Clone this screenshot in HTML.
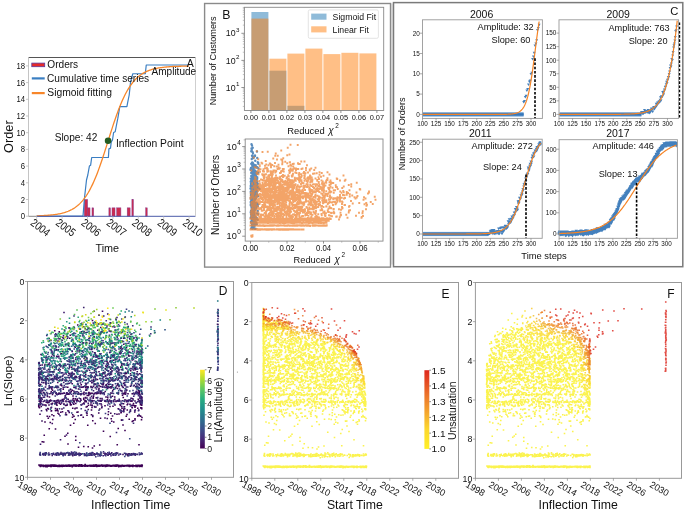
<!DOCTYPE html>
<html><head><meta charset="utf-8"><style>
html,body{margin:0;padding:0;background:#fff;}
svg{display:block;will-change:transform;}
text{font-family:"Liberation Sans", sans-serif;}
</style></head><body>
<svg width="685" height="512" viewBox="0 0 685 512">
<rect width="685" height="512" fill="#fff"/>
<rect x="84.3" y="199.5" width="3.3" height="16.7" fill="#cc2b4e" stroke="#8a3a8a" stroke-width="0.5" />
<rect x="87.3" y="207.85" width="2.7" height="8.35" fill="#cc2b4e" stroke="#8a3a8a" stroke-width="0.5" />
<rect x="92" y="207.85" width="1.7" height="8.35" fill="#cc2b4e" stroke="#8a3a8a" stroke-width="0.5" />
<rect x="108.9" y="207.85" width="1.5" height="8.35" fill="#cc2b4e" stroke="#8a3a8a" stroke-width="0.5" />
<rect x="112" y="207.85" width="3" height="8.35" fill="#cc2b4e" stroke="#8a3a8a" stroke-width="0.5" />
<rect x="116.7" y="207.85" width="4.2" height="8.35" fill="#cc2b4e" stroke="#8a3a8a" stroke-width="0.5" />
<rect x="127.2" y="207.85" width="2.9" height="8.35" fill="#cc2b4e" stroke="#8a3a8a" stroke-width="0.5" />
<rect x="131.9" y="199.5" width="1.5" height="16.7" fill="#cc2b4e" stroke="#8a3a8a" stroke-width="0.5" />
<rect x="145.7" y="207.85" width="1.5" height="8.35" fill="#cc2b4e" stroke="#8a3a8a" stroke-width="0.5" />
<path d="M36.7 216.2 L83 216.2 L84.4 198.75 L86.5 180 L87.8 175 L89.4 166.1 L90.6 165.3 L91.7 157.5 L108.4 157.5 L108.9 148.9 L110.5 148.1 L111.25 141.9 L112.5 140 L113.6 132.5 L115.2 131.7 L116.25 126.25 L117.8 118.4 L119.8 106.7 L126.9 106.7 L127.6 102.8 L129.2 95 L130.6 81.5 L132.8 73.75 L145.3 73.75 L146.25 65 L188 65" fill="none" stroke="#3a7ec2" stroke-width="1.2" stroke-linejoin="round" />
<path d="M36.7 215.84 L37.65 215.81 L38.61 215.78 L39.56 215.75 L40.51 215.71 L41.46 215.67 L42.41 215.62 L43.37 215.57 L44.32 215.52 L45.27 215.47 L46.23 215.4 L47.18 215.34 L48.13 215.27 L49.08 215.19 L50.04 215.1 L50.99 215.01 L51.94 214.91 L52.89 214.81 L53.84 214.69 L54.8 214.56 L55.75 214.43 L56.7 214.28 L57.66 214.12 L58.61 213.95 L59.56 213.77 L60.51 213.56 L61.46 213.35 L62.42 213.11 L63.37 212.86 L64.32 212.59 L65.28 212.29 L66.23 211.97 L67.18 211.63 L68.13 211.26 L69.09 210.85 L70.04 210.42 L70.99 209.96 L71.94 209.46 L72.89 208.92 L73.85 208.34 L74.8 207.72 L75.75 207.05 L76.71 206.33 L77.66 205.56 L78.61 204.74 L79.56 203.85 L80.51 202.91 L81.47 201.9 L82.42 200.82 L83.37 199.67 L84.33 198.44 L85.28 197.14 L86.23 195.76 L87.18 194.29 L88.14 192.74 L89.09 191.1 L90.04 189.37 L90.99 187.55 L91.94 185.63 L92.9 183.62 L93.85 181.52 L94.8 179.32 L95.76 177.03 L96.71 174.65 L97.66 172.18 L98.61 169.63 L99.56 167 L100.52 164.3 L101.47 161.52 L102.42 158.69 L103.38 155.8 L104.33 152.87 L105.28 149.9 L106.23 146.9 L107.19 143.88 L108.14 140.85 L109.09 137.82 L110.04 134.8 L110.99 131.81 L111.95 128.84 L112.9 125.91 L113.85 123.03 L114.81 120.2 L115.76 117.44 L116.71 114.74 L117.66 112.12 L118.61 109.58 L119.57 107.13 L120.52 104.76 L121.47 102.48 L122.42 100.3 L123.38 98.21 L124.33 96.21 L125.28 94.3 L126.24 92.49 L127.19 90.77 L128.14 89.15 L129.09 87.61 L130.04 86.15 L131 84.78 L131.95 83.49 L132.9 82.27 L133.86 81.13 L134.81 80.06 L135.76 79.06 L136.71 78.13 L137.66 77.25 L138.62 76.43 L139.57 75.67 L140.52 74.96 L141.47 74.3 L142.43 73.68 L143.38 73.11 L144.33 72.57 L145.29 72.08 L146.24 71.62 L147.19 71.19 L148.14 70.79 L149.09 70.43 L150.05 70.09 L151 69.77 L151.95 69.48 L152.91 69.21 L153.86 68.95 L154.81 68.72 L155.76 68.51 L156.71 68.31 L157.67 68.13 L158.62 67.96 L159.57 67.8 L160.52 67.65 L161.48 67.52 L162.43 67.39 L163.38 67.28 L164.34 67.17 L165.29 67.08 L166.24 66.99 L167.19 66.9 L168.14 66.82 L169.1 66.75 L170.05 66.69 L171 66.63 L171.96 66.57 L172.91 66.52 L173.86 66.47 L174.81 66.43 L175.76 66.39 L176.72 66.35 L177.67 66.31 L178.62 66.28 L179.57 66.25 L180.53 66.23 L181.48 66.2 L182.43 66.18 L183.39 66.16 L184.34 66.14 L185.29 66.12 L186.24 66.1 L187.19 66.09 L188.15 66.07 L189.1 66.06" fill="none" stroke="#f7862a" stroke-width="1.3" stroke-linejoin="round" />
<line x1="36.7" y1="216.3" x2="195.5" y2="216.3" stroke="#4a5aa8" stroke-width="1" />
<line x1="28.5" y1="57.5" x2="195.5" y2="57.5" stroke="#555" stroke-width="1" />
<line x1="28.5" y1="57.5" x2="28.5" y2="216.3" stroke="#c4c4c4" stroke-width="1" />
<line x1="195.5" y1="57.5" x2="195.5" y2="216.3" stroke="#cfcfcf" stroke-width="1" />
<line x1="28.5" y1="216.3" x2="36.7" y2="216.3" stroke="#888" stroke-width="1" />
<circle cx="108.1" cy="140.8" r="3.3" fill="#245c22"/>
<line x1="26" y1="216.2" x2="28.5" y2="216.2" stroke="#bbb" stroke-width="0.8" />
<text transform="translate(25,219.2) scale(0.78,1.0)" font-size="9.9" text-anchor="end" fill="#111">0</text>
<line x1="26" y1="199.5" x2="28.5" y2="199.5" stroke="#bbb" stroke-width="0.8" />
<text transform="translate(25,202.5) scale(0.78,1.0)" font-size="9.9" text-anchor="end" fill="#111">2</text>
<line x1="26" y1="182.8" x2="28.5" y2="182.8" stroke="#bbb" stroke-width="0.8" />
<text transform="translate(25,185.8) scale(0.78,1.0)" font-size="9.9" text-anchor="end" fill="#111">4</text>
<line x1="26" y1="166.1" x2="28.5" y2="166.1" stroke="#bbb" stroke-width="0.8" />
<text transform="translate(25,169.1) scale(0.78,1.0)" font-size="9.9" text-anchor="end" fill="#111">6</text>
<line x1="26" y1="149.4" x2="28.5" y2="149.4" stroke="#bbb" stroke-width="0.8" />
<text transform="translate(25,152.4) scale(0.78,1.0)" font-size="9.9" text-anchor="end" fill="#111">8</text>
<line x1="26" y1="132.7" x2="28.5" y2="132.7" stroke="#bbb" stroke-width="0.8" />
<text transform="translate(25,135.7) scale(0.78,1.0)" font-size="9.9" text-anchor="end" fill="#111">10</text>
<line x1="26" y1="116" x2="28.5" y2="116" stroke="#bbb" stroke-width="0.8" />
<text transform="translate(25,119) scale(0.78,1.0)" font-size="9.9" text-anchor="end" fill="#111">12</text>
<line x1="26" y1="99.3" x2="28.5" y2="99.3" stroke="#bbb" stroke-width="0.8" />
<text transform="translate(25,102.3) scale(0.78,1.0)" font-size="9.9" text-anchor="end" fill="#111">14</text>
<line x1="26" y1="82.6" x2="28.5" y2="82.6" stroke="#bbb" stroke-width="0.8" />
<text transform="translate(25,85.6) scale(0.78,1.0)" font-size="9.9" text-anchor="end" fill="#111">16</text>
<line x1="26" y1="65.9" x2="28.5" y2="65.9" stroke="#bbb" stroke-width="0.8" />
<text transform="translate(25,68.9) scale(0.78,1.0)" font-size="9.9" text-anchor="end" fill="#111">18</text>
<line x1="36.7" y1="216.3" x2="36.7" y2="218.8" stroke="#bbb" stroke-width="0.8" />
<text transform="translate(40.5,227.4) rotate(37) scale(0.84,1.0)" y="4" font-size="11.3" text-anchor="middle" fill="#111">2004</text>
<line x1="62.1" y1="216.3" x2="62.1" y2="218.8" stroke="#bbb" stroke-width="0.8" />
<text transform="translate(65.9,227.4) rotate(37) scale(0.84,1.0)" y="4" font-size="11.3" text-anchor="middle" fill="#111">2005</text>
<line x1="87.5" y1="216.3" x2="87.5" y2="218.8" stroke="#bbb" stroke-width="0.8" />
<text transform="translate(91.3,227.4) rotate(37) scale(0.84,1.0)" y="4" font-size="11.3" text-anchor="middle" fill="#111">2006</text>
<line x1="112.9" y1="216.3" x2="112.9" y2="218.8" stroke="#bbb" stroke-width="0.8" />
<text transform="translate(116.7,227.4) rotate(37) scale(0.84,1.0)" y="4" font-size="11.3" text-anchor="middle" fill="#111">2007</text>
<line x1="138.3" y1="216.3" x2="138.3" y2="218.8" stroke="#bbb" stroke-width="0.8" />
<text transform="translate(142.1,227.4) rotate(37) scale(0.84,1.0)" y="4" font-size="11.3" text-anchor="middle" fill="#111">2008</text>
<line x1="163.7" y1="216.3" x2="163.7" y2="218.8" stroke="#bbb" stroke-width="0.8" />
<text transform="translate(167.5,227.4) rotate(37) scale(0.84,1.0)" y="4" font-size="11.3" text-anchor="middle" fill="#111">2009</text>
<line x1="189.1" y1="216.3" x2="189.1" y2="218.8" stroke="#bbb" stroke-width="0.8" />
<text transform="translate(192.9,227.4) rotate(37) scale(0.84,1.0)" y="4" font-size="11.3" text-anchor="middle" fill="#111">2010</text>
<text transform="translate(13.3,136.7) rotate(-90)" font-size="12.8" text-anchor="middle" fill="#111">Order</text>
<text transform="translate(107.3,251.9)" font-size="10.8" text-anchor="middle" fill="#111">Time</text>
<rect x="31.8" y="63.1" width="12.9" height="3.6" fill="#e62a2a" stroke="#5a3aa0" stroke-width="0.8" />
<line x1="31.8" y1="78.4" x2="44.7" y2="78.4" stroke="#3a7ec2" stroke-width="2.2" />
<line x1="31.8" y1="93.1" x2="44.7" y2="93.1" stroke="#f7862a" stroke-width="2.2" />
<text transform="translate(47.3,68)" font-size="10.1" text-anchor="start" fill="#111">Orders</text>
<text transform="translate(47,81.8)" font-size="10.1" text-anchor="start" fill="#111">Cumulative time series</text>
<text transform="translate(47.3,95.6)" font-size="10.3" text-anchor="start" fill="#111">Sigmoid fitting</text>
<text transform="translate(97.3,141.1)" font-size="10.1" text-anchor="end" fill="#111">Slope: 42</text>
<text transform="translate(116,147.3)" font-size="10.3" text-anchor="start" fill="#111">Inflection Point</text>
<text transform="translate(151.6,75.2)" font-size="10.0" text-anchor="start" fill="#111">Amplitude</text>
<text transform="translate(186.8,66.7)" font-size="10.5" text-anchor="start" fill="#111">A</text>
<rect x="391" y="3.5" width="2" height="261" fill="#e4e4e4" stroke="none" stroke-width="1" />
<rect x="204.6" y="3.5" width="185.9" height="263.6" fill="none" stroke="#8a8a8a" stroke-width="1.4" />
<rect x="251.4" y="12" width="17" height="98.5" fill="rgba(31,119,180,0.5)" stroke="none" stroke-width="1" />
<rect x="269.4" y="70.7" width="17" height="39.8" fill="rgba(31,119,180,0.5)" stroke="none" stroke-width="1" />
<rect x="287.4" y="105.8" width="17" height="4.7" fill="rgba(31,119,180,0.5)" stroke="none" stroke-width="1" />
<rect x="251.4" y="18.6" width="17" height="91.9" fill="rgba(255,127,14,0.5)" stroke="none" stroke-width="1" />
<rect x="269.4" y="58.7" width="17" height="51.8" fill="rgba(255,127,14,0.5)" stroke="none" stroke-width="1" />
<rect x="287.4" y="53.6" width="17" height="56.9" fill="rgba(255,127,14,0.5)" stroke="none" stroke-width="1" />
<rect x="305.4" y="48.6" width="17" height="61.9" fill="rgba(255,127,14,0.5)" stroke="none" stroke-width="1" />
<rect x="323.4" y="54.1" width="17" height="56.4" fill="rgba(255,127,14,0.5)" stroke="none" stroke-width="1" />
<rect x="341.4" y="52.8" width="17" height="57.7" fill="rgba(255,127,14,0.5)" stroke="none" stroke-width="1" />
<rect x="359.4" y="53.4" width="17" height="57.1" fill="rgba(255,127,14,0.5)" stroke="none" stroke-width="1" />
<rect x="244.4" y="7.3" width="139.3" height="103.2" fill="none" stroke="#888" stroke-width="0.9" />
<line x1="241.4" y1="87.5" x2="244.4" y2="87.5" stroke="#777" stroke-width="0.8" />
<text transform="translate(235.6,90.6)" font-size="8.8" text-anchor="end" fill="#111">10</text>
<text transform="translate(236,85.9)" font-size="6.2" text-anchor="start" fill="#111">1</text>
<line x1="241.4" y1="60.4" x2="244.4" y2="60.4" stroke="#777" stroke-width="0.8" />
<text transform="translate(235.6,63.5)" font-size="8.8" text-anchor="end" fill="#111">10</text>
<text transform="translate(236,58.8)" font-size="6.2" text-anchor="start" fill="#111">2</text>
<line x1="241.4" y1="33.3" x2="244.4" y2="33.3" stroke="#777" stroke-width="0.8" />
<text transform="translate(235.6,36.4)" font-size="8.8" text-anchor="end" fill="#111">10</text>
<text transform="translate(236,31.7)" font-size="6.2" text-anchor="start" fill="#111">3</text>
<line x1="242.8" y1="106.44" x2="244.4" y2="106.44" stroke="#999" stroke-width="0.6" />
<line x1="242.8" y1="101.67" x2="244.4" y2="101.67" stroke="#999" stroke-width="0.6" />
<line x1="242.8" y1="98.28" x2="244.4" y2="98.28" stroke="#999" stroke-width="0.6" />
<line x1="242.8" y1="95.66" x2="244.4" y2="95.66" stroke="#999" stroke-width="0.6" />
<line x1="242.8" y1="93.51" x2="244.4" y2="93.51" stroke="#999" stroke-width="0.6" />
<line x1="242.8" y1="91.7" x2="244.4" y2="91.7" stroke="#999" stroke-width="0.6" />
<line x1="242.8" y1="90.13" x2="244.4" y2="90.13" stroke="#999" stroke-width="0.6" />
<line x1="242.8" y1="88.74" x2="244.4" y2="88.74" stroke="#999" stroke-width="0.6" />
<line x1="242.8" y1="79.34" x2="244.4" y2="79.34" stroke="#999" stroke-width="0.6" />
<line x1="242.8" y1="74.57" x2="244.4" y2="74.57" stroke="#999" stroke-width="0.6" />
<line x1="242.8" y1="71.18" x2="244.4" y2="71.18" stroke="#999" stroke-width="0.6" />
<line x1="242.8" y1="68.56" x2="244.4" y2="68.56" stroke="#999" stroke-width="0.6" />
<line x1="242.8" y1="66.41" x2="244.4" y2="66.41" stroke="#999" stroke-width="0.6" />
<line x1="242.8" y1="64.6" x2="244.4" y2="64.6" stroke="#999" stroke-width="0.6" />
<line x1="242.8" y1="63.03" x2="244.4" y2="63.03" stroke="#999" stroke-width="0.6" />
<line x1="242.8" y1="61.64" x2="244.4" y2="61.64" stroke="#999" stroke-width="0.6" />
<line x1="242.8" y1="52.24" x2="244.4" y2="52.24" stroke="#999" stroke-width="0.6" />
<line x1="242.8" y1="47.47" x2="244.4" y2="47.47" stroke="#999" stroke-width="0.6" />
<line x1="242.8" y1="44.08" x2="244.4" y2="44.08" stroke="#999" stroke-width="0.6" />
<line x1="242.8" y1="41.46" x2="244.4" y2="41.46" stroke="#999" stroke-width="0.6" />
<line x1="242.8" y1="39.31" x2="244.4" y2="39.31" stroke="#999" stroke-width="0.6" />
<line x1="242.8" y1="37.5" x2="244.4" y2="37.5" stroke="#999" stroke-width="0.6" />
<line x1="242.8" y1="35.93" x2="244.4" y2="35.93" stroke="#999" stroke-width="0.6" />
<line x1="242.8" y1="34.54" x2="244.4" y2="34.54" stroke="#999" stroke-width="0.6" />
<line x1="242.8" y1="25.14" x2="244.4" y2="25.14" stroke="#999" stroke-width="0.6" />
<line x1="242.8" y1="20.37" x2="244.4" y2="20.37" stroke="#999" stroke-width="0.6" />
<line x1="242.8" y1="16.98" x2="244.4" y2="16.98" stroke="#999" stroke-width="0.6" />
<line x1="242.8" y1="14.36" x2="244.4" y2="14.36" stroke="#999" stroke-width="0.6" />
<line x1="242.8" y1="12.21" x2="244.4" y2="12.21" stroke="#999" stroke-width="0.6" />
<line x1="242.8" y1="10.4" x2="244.4" y2="10.4" stroke="#999" stroke-width="0.6" />
<line x1="242.8" y1="8.83" x2="244.4" y2="8.83" stroke="#999" stroke-width="0.6" />
<line x1="242.8" y1="7.44" x2="244.4" y2="7.44" stroke="#999" stroke-width="0.6" />
<line x1="250.9" y1="110.5" x2="250.9" y2="113" stroke="#777" stroke-width="0.8" />
<text transform="translate(250.9,119.7) scale(0.95,1.0)" font-size="7.8" text-anchor="middle" fill="#111">0.00</text>
<line x1="268.9" y1="110.5" x2="268.9" y2="113" stroke="#777" stroke-width="0.8" />
<text transform="translate(268.9,119.7) scale(0.95,1.0)" font-size="7.8" text-anchor="middle" fill="#111">0.01</text>
<line x1="286.9" y1="110.5" x2="286.9" y2="113" stroke="#777" stroke-width="0.8" />
<text transform="translate(286.9,119.7) scale(0.95,1.0)" font-size="7.8" text-anchor="middle" fill="#111">0.02</text>
<line x1="304.9" y1="110.5" x2="304.9" y2="113" stroke="#777" stroke-width="0.8" />
<text transform="translate(304.9,119.7) scale(0.95,1.0)" font-size="7.8" text-anchor="middle" fill="#111">0.03</text>
<line x1="322.9" y1="110.5" x2="322.9" y2="113" stroke="#777" stroke-width="0.8" />
<text transform="translate(322.9,119.7) scale(0.95,1.0)" font-size="7.8" text-anchor="middle" fill="#111">0.04</text>
<line x1="340.9" y1="110.5" x2="340.9" y2="113" stroke="#777" stroke-width="0.8" />
<text transform="translate(340.9,119.7) scale(0.95,1.0)" font-size="7.8" text-anchor="middle" fill="#111">0.05</text>
<line x1="358.9" y1="110.5" x2="358.9" y2="113" stroke="#777" stroke-width="0.8" />
<text transform="translate(358.9,119.7) scale(0.95,1.0)" font-size="7.8" text-anchor="middle" fill="#111">0.06</text>
<line x1="376.9" y1="110.5" x2="376.9" y2="113" stroke="#777" stroke-width="0.8" />
<text transform="translate(376.9,119.7) scale(0.95,1.0)" font-size="7.8" text-anchor="middle" fill="#111">0.07</text>
<text transform="translate(287.2,134.1)" font-size="9.4" text-anchor="start" fill="#111">Reduced</text>
<text transform="translate(328.3,134.1)" font-size="10" text-anchor="start" fill="#111" style="font-style:italic">χ</text>
<text transform="translate(335.2,128.3)" font-size="6.4" text-anchor="start" fill="#111">2</text>
<text transform="translate(215.7,60.9) rotate(-90)" font-size="9.1" text-anchor="middle" fill="#111">Number of Customers</text>
<text transform="translate(222.3,19)" font-size="12.3" text-anchor="start" fill="#111">B</text>
<rect x="308.3" y="9.9" width="70.1" height="28.4" fill="#fff" stroke="#ddd" stroke-width="0.8" rx="1.5"/>
<rect x="311.2" y="13.6" width="15.3" height="6.1" fill="rgba(31,119,180,0.5)" stroke="none" stroke-width="1" />
<rect x="311.2" y="26.3" width="15.3" height="6.1" fill="rgba(255,127,14,0.5)" stroke="none" stroke-width="1" />
<text transform="translate(332.6,20.1)" font-size="8.7" text-anchor="start" fill="#111">Sigmoid Fit</text>
<text transform="translate(332.6,32.8)" font-size="8.7" text-anchor="start" fill="#111">Linear Fit</text>
<path transform="scale(0.25)" d="M1006 577h0m0 17h0m1 6h0m0-2h0m1-16h0m3 9h0m17 15h0m-8 16h0m0 1h0m-8-10h0m-2-5h0m0 14h0m-2 1h0m-1-19h0m-2 1h0m2 31h0m4-5h0m3 1h0m1-3h0m5-5h0m1 19h0m8-11h0m4 20h0m0 3h0m-2-6h0m-2 20h0m-3 1h0m-3-9h0m0 8h0m-2-2h0m-1-1h0m-1 3h0m0-7h0m-2 4h0m0-1h0m-1 4h0m0-10h0m-2 11h0m0-1h0m0 3h0m-1-6h0m0-2h0m-1-7h0m-1-6h0m0 1h0m-1 14h0m0-15h0m0 0h0m-1-1h0m0 12h0m-1-10h0m0 1h0m-3 2h0m-3 24h0m1-4h0m1-3h0m1 20h0m0-1h0m3-14h0m0 10h0m0 5h0m1 1h0m0-3h0m1 2h0m1 3h0m1-15h0m0 5h0m2-10h0m4 21h0m0-15h0m1 9h0m0-2h0m1-5h0m2 10h0m0-8h0m3 2h0m4 7h0m0-4h0m4 1h0m1-17h0m-5 41h0m0-6h0m-1 9h0m-3-12h0m-1 6h0m-1-11h0m-2 1h0m-1 9h0m-1 1h0m0 8h0m0-11h0m0 8h0m0-2h0m-1-4h0m-1 2h0m0 2h0m-1-3h0m0-2h0m0 2h0m0 2h0m-1-13h0m-1 1h0m0 10h0m0-16h0m-1 22h0m0-18h0m-1 10h0m0-10h0m0 20h0m-1-23h0m0 1h0m-1 19h0m0 2h0m0-11h0m0 2h0m0 10h0m0-9h0m0-3h0m-1 6h0m-1-10h0m0 6h0m0 6h0m0 4h0m0-16h0m0 11h0m-1 1h0m0-9h0m0 0h0m-2-3h0m-2 10h0m0 13h0m0 16h0m1-16h0m0 8h0m1-7h0m0 5h0m0-12h0m1 18h0m0-7h0m0 12h0m1-15h0m1 15h0m0 0h0m0-18h0m0 17h0m0-9h0m0 2h0m0 2h0m0 1h0m0-18h0m1 5h0m0 1h0m0-6h0m0 8h0m0 7h0m1-4h0m0 1h0m0 3h0m0-4h0m0 5h0m0-10h0m1 12h0m1-15h0m0 2h0m0 9h0m1-4h0m0-4h0m0-5h0m0 17h0m1-9h0m0 12h0m1-1h0m0-2h0m1-18h0m0 0h0m0 1h0m1 6h0m0 10h0m1-14h0m0 16h0m0-11h0m0 6h0m1-9h0m0 8h0m0 8h0m1 2h0m1-23h0m0 22h0m1-13h0m1 13h0m0 0h0m0-7h0m1 2h0m1-2h0m1 3h0m1-1h0m0 3h0m2-14h0m2 8h0m7 21h0m-5-5h0m0 0h0m-1-4h0m-3 4h0m0 11h0m-2 5h0m-2-13h0m0-3h0m-1-5h0m-1 1h0m0 15h0m0-13h0m0 14h0m-1-9h0m0 13h0m0-18h0m-1 18h0m-1-18h0m0 12h0m0-6h0m-1 8h0m0-11h0m0 15h0m0-22h0m0 19h0m-1-11h0m0 7h0m0-5h0m-1 9h0m0-3h0m0 0h0m-1 3h0m0-8h0m0-9h0m0 13h0m-1-9h0m0 16h0m0-13h0m0 10h0m0 1h0m-1-13h0m0-5h0m0 6h0m0 11h0m0-7h0m-1 7h0m0-9h0m-1 3h0m0-5h0m0-2h0m0 4h0m0-2h0m0 13h0m0-13h0m0 1h0m-1-2h0m0 11h0m0-9h0m0 11h0m0-2h0m0-14h0m0-1h0m0 6h0m-1-1h0m0 7h0m0-3h0m0-2h0m0 3h0m0 2h0m-1-11h0m0 4h0m0-3h0m0 0h0m0 7h0m0-5h0m0 1h0m0 14h0m0-15h0m-1 13h0m0-3h0m0-3h0m0-4h0m-1-4h0m0 1h0m0 11h0m0-1h0m0-8h0m0 1h0m0-5h0m-1 11h0m0-11h0m0 14h0m0-4h0m-1 5h0m-1-17h0m-1 19h0m0-14h0m0-8h0m-1 9h0m2 17h0m0 4h0m0 4h0m0 1h0m0 2h0m0-9h0m1 17h0m0-1h0m0-7h0m0 8h0m1-2h0m0-8h0m0-10h0m0 0h0m0 8h0m0 0h0m1-1h0m0 6h0m0-4h0m0-9h0m0 18h0m0 2h0m1-2h0m0-2h0m0-1h0m0-6h0m1 0h0m0 5h0m0 6h0m0-5h0m1-3h0m0-10h0m0 9h0m0 5h0m1-11h0m0-4h0m0 8h0m0 3h0m1-9h0m0 11h0m0-1h0m0 0h0m0-2h0m0 3h0m0-4h0m1 8h0m0-1h0m0-15h0m0 16h0m0-2h0m1 0h0m0-18h0m0 7h0m0 3h0m0 13h0m1-15h0m0-6h0m0 18h0m0-9h0m1-7h0m0 16h0m0-20h0m0 7h0m0 5h0m1-8h0m0 13h0m0-8h0m0 10h0m0-8h0m0-5h0m0 4h0m2 13h0m0-15h0m0 12h0m0-11h0m0-6h0m1-2h0m1 12h0m0 8h0m0-20h0m1 16h0m0 3h0m2-10h0m1 11h0m0-15h0m0 13h0m1-14h0m0 10h0m1-11h0m0-3h0m2 10h0m3 6h0m-3 29h0m-3-3h0m-2-18h0m-1-1h0m-1 19h0m-2-12h0m0 14h0m-1-13h0m-1-2h0m0 4h0m0-1h0m0 7h0m-1 2h0m0-18h0m0 23h0m0-10h0m-1-7h0m0-3h0m0 14h0m0 2h0m-1-11h0m0-2h0m0-3h0m-1 12h0m0 1h0m-1 5h0m0-10h0m0 11h0m0-5h0m-1-3h0m0 9h0m0-4h0m0-17h0m-1 3h0m0 5h0m0-4h0m0 14h0m0-1h0m-1 3h0m0-15h0m0 6h0m0 5h0m0 3h0m0-2h0m-1 1h0m0 1h0m-1-8h0m0-12h0m0 0h0m0 9h0m0-3h0m0 13h0m0 3h0m0-22h0m0 8h0m-1 4h0m0 7h0m-1-14h0m0 17h0m0-19h0m0 5h0m0 1h0m0 4h0m0-8h0m-1 1h0m0-5h0m0 21h0m-1-16h0m-1-7h0m0 17h0m0-1h0m0 10h0m0 3h0m1 2h0m1 0h0m1-4h0m0 10h0m0-4h0m0-8h0m0 9h0m1 9h0m0-14h0m0 18h0m0-2h0m0-11h0m0 10h0m1 2h0m0-18h0m0 6h0m1 9h0m0-11h0m0 9h0m0 3h0m0-18h0m1 4h0m1 15h0m0-14h0m0-6h0m0 20h0m1-2h0m0 2h0m0-6h0m0 3h0m0-17h0m1 2h0m0 0h0m0 20h0m1-2h0m0-17h0m1 9h0m1-10h0m1 9h0m1-3h0m0-4h0m0 10h0m0 9h0m1-9h0m0-9h0m1-1h0m0 1h0m1 17h0m0-17h0m2 9h0m1-2h0m0 5h0m4-12h0m1-6h0m0 6h0m2 3h0m1-6h0m1 38h0m-2-13h0m-3 10h0m-10-3h0m0 7h0m0 1h0m0 1h0m0 1h0m0-8h0m-1 3h0m0-1h0m0 2h0m0-11h0m0 8h0m-1-10h0m-1 14h0m0-12h0m0-1h0m-1-4h0m0 15h0m0-2h0m-1 8h0m-1-19h0m-1 0h0m0 12h0m0-7h0m0 2h0m0-2h0m0 7h0m0 1h0m0-11h0m-1 8h0m0-7h0m0 11h0m-1-3h0m0-1h0m-1 2h0m0-5h0m0-2h0m0 8h0m0-15h0m-1 5h0m0 7h0m-2-9h0m0 19h0m-1-19h0m0 12h0m-1-7h0m0 22h0m1 16h0m3-23h0m0 10h0m0 7h0m0-15h0m0 3h0m0 8h0m1 10h0m0-7h0m0-13h0m0 6h0m1 9h0m2 2h0m0-10h0m0 9h0m1-1h0m1 3h0m0-12h0m0 3h0m1-10h0m0-1h0m1 18h0m1-12h0m1 5h0m0 4h0m1-16h0m0 5h0m1 3h0m0-7h0m1 8h0m1 5h0m1-11h0m0 17h0m0 0h0m0-2h0m1-5h0m4-5h0m4 7h0m-4 18h0m-1-5h0m-6 1h0m0 6h0m-1-5h0m0 8h0m-1-9h0m0 1h0m-1 11h0m-1-2h0m-1 6h0m0-10h0m0-9h0m-2-2h0m0 22h0m-1-12h0m0 14h0m0-9h0m-2-13h0m-2 15h0m0-8h0m-1-5h0m0 11h0m0-13h0m0 13h0m-1-11h0m-2-4h0m1 25h0m5 2h0m9 0h0m3 0h0" stroke="#2f6fae" stroke-width="9.6" stroke-linecap="round" stroke-opacity="0.8"/>
<path transform="scale(0.25)" d="M1151 591h0m11-12h0m29 1h0m-33 38h0m-9 3h0m-24-19h0m-14 21h0m-8-9h0m-2 9h0m-30-16h0m-21 1h0m-23-3h0m-12 25h0m18 7h0m30 7h0m30-10h0m15 4h0m17 0h0m4 3h0m4-8h0m8 14h0m64-1h0m13 0h0m44 25h0m-34-10h0m-4 11h0m-25-16h0m-5 0h0m-2-3h0m-17 2h0m-2 11h0m-2-10h0m-6 7h0m-3-4h0m0 2h0m-2-12h0m-1 0h0m-5 16h0m-5-12h0m-19-4h0m-1 8h0m-15 2h0m0 10h0m-7-3h0m-7-14h0m-3 13h0m-8-5h0m-5 5h0m0 4h0m-1-12h0m-3-3h0m-1 0h0m-5 7h0m-7 10h0m-2-13h0m-5 5h0m-11-9h0m-3-3h0m-7 10h0m0 4h0m-13 6h0m-7-2h0m-14 13h0m21 9h0m2 3h0m2-7h0m2-3h0m2-3h0m2-3h0m4 9h0m2-10h0m10 7h0m1 2h0m1-9h0m2 9h0m4-13h0m8 0h0m1 6h0m0 8h0m2-10h0m2 8h0m9 0h0m1 7h0m0-5h0m3-1h0m4 5h0m2-3h0m2-6h0m5 0h0m2 8h0m2-3h0m2-3h0m5-8h0m0 0h0m6-1h0m3-2h0m1 19h0m2 0h0m2-6h0m0 3h0m3-5h0m4-8h0m0 6h0m4-6h0m0 10h0m21-4h0m2 10h0m2-4h0m0-6h0m1-4h0m2 5h0m0-9h0m1 6h0m7 3h0m1 12h0m0-18h0m5-4h0m4 17h0m0-15h0m3 6h0m0-7h0m2 18h0m3-16h0m4 0h0m4 16h0m9-16h0m4-2h0m4 18h0m2-4h0m1 3h0m5 2h0m2-12h0m8 9h0m7-12h0m0 4h0m6-8h0m7 21h0m5-15h0m1 14h0m9-1h0m11-4h0m9 3h0m0 0h0m23-3h0m72 30h0m-8-17h0m-25 14h0m-2-2h0m-29-16h0m-8 15h0m0 7h0m-3 0h0m-13-17h0m-10 4h0m-6-8h0m-2 17h0m-2-7h0m-5 11h0m-7-6h0m-12 5h0m-3-8h0m0-1h0m-5-5h0m-1 7h0m-1 3h0m0-6h0m0-7h0m-6 15h0m-1-8h0m-3 3h0m-8 5h0m-3-10h0m0-6h0m-2 12h0m0-11h0m-10 1h0m-2-6h0m0 12h0m-4 6h0m-1 3h0m0-21h0m-2 11h0m-1-2h0m0 2h0m-1 7h0m-1-17h0m-1 17h0m0 3h0m-3-5h0m0 3h0m-1 0h0m-3-3h0m-7 5h0m-1-7h0m-8-9h0m-1 1h0m-2 3h0m-1-4h0m-12 4h0m0-1h0m0 11h0m-2-15h0m0 4h0m-1 13h0m-4-9h0m-2 5h0m-7-11h0m-5 3h0m-2 2h0m0-8h0m-3 19h0m-1-15h0m-2 15h0m-2-1h0m-1-1h0m-2-4h0m0-6h0m-1 9h0m0 1h0m-1-7h0m-1 5h0m-8-4h0m0 1h0m-2 0h0m0 7h0m-2-8h0m-2-9h0m-2 9h0m-1 8h0m-3-6h0m-4 6h0m-2-4h0m-1-18h0m0 22h0m-2-19h0m-1 9h0m0-5h0m-4-3h0m0 13h0m-3-14h0m0 16h0m-4-8h0m-1 7h0m-2-14h0m0 4h0m-1 1h0m-4 9h0m-2 5h0m0-10h0m-3-13h0m-6 13h0m0-6h0m-1-4h0m0-2h0m-1 15h0m-1-2h0m-1-8h0m-3-3h0m-2-3h0m-5 21h0m-10-21h0m-5-1h0m-6 16h0m-1 6h0m-1-6h0m-1-3h0m-11 28h0m0-4h0m7-9h0m1-1h0m2 4h0m1 8h0m0-6h0m0-8h0m1 10h0m3 5h0m1 3h0m4-14h0m3 18h0m5-4h0m1-15h0m1 14h0m0-5h0m1 5h0m4 3h0m2 2h0m4-13h0m0-10h0m1 17h0m2 4h0m2 1h0m1-20h0m3 0h0m0 12h0m0-1h0m0 1h0m0 0h0m2-6h0m2 15h0m0 1h0m0-3h0m1-7h0m1-10h0m1 3h0m2 14h0m2-16h0m2 16h0m0-20h0m0 15h0m2-12h0m0 14h0m1-3h0m0 6h0m0-16h0m1 8h0m0 10h0m1-11h0m0-3h0m1 2h0m0 6h0m1-12h0m1-2h0m1 9h0m0 11h0m2-20h0m1 5h0m0 14h0m1-6h0m0-16h0m3 11h0m3 10h0m0-14h0m1 4h0m0 11h0m0-13h0m1 13h0m1-5h0m0-17h0m1 15h0m0 3h0m0-2h0m2-9h0m0 4h0m1-2h0m0 8h0m2-5h0m0 2h0m0-11h0m1 0h0m0 7h0m0 10h0m1 4h0m0-15h0m0 3h0m1 4h0m5-14h0m1 10h0m1 0h0m0 0h0m0-9h0m1 0h0m2 7h0m0-5h0m0 2h0m3 3h0m0 4h0m1 4h0m1-2h0m2-7h0m1 5h0m1 1h0m1-1h0m1 9h0m0-18h0m0 16h0m2-18h0m0 2h0m0-3h0m2 19h0m4-13h0m0 10h0m0-12h0m2 0h0m3 9h0m1-2h0m1 3h0m1-2h0m0 5h0m1-11h0m0 8h0m1-12h0m2 8h0m2 3h0m0 4h0m1-11h0m1 5h0m1 11h0m1-3h0m0-13h0m1-3h0m2 12h0m1-4h0m1-2h0m3-11h0m0 11h0m1 12h0m0-3h0m1-12h0m1 1h0m1-4h0m1 14h0m1-6h0m0 7h0m0 1h0m0-2h0m1-18h0m2 17h0m1-17h0m0 10h0m0 7h0m2-11h0m1 6h0m0-4h0m0 0h0m1-4h0m3 3h0m1 11h0m1-18h0m5 16h0m0 3h0m1-17h0m8 18h0m5-20h0m2 8h0m6-6h0m0 13h0m1-13h0m1-2h0m2 9h0m3 2h0m3 2h0m0-1h0m2 11h0m2-21h0m4 20h0m4-6h0m1-13h0m3-2h0m0 8h0m0-9h0m1 20h0m0-2h0m1-16h0m9 7h0m0 10h0m1-15h0m0 1h0m3-6h0m4 7h0m2 11h0m5-1h0m8 0h0m5 1h0m0-15h0m6 8h0m0-3h0m1 16h0m2-5h0m8-17h0m2 11h0m1 4h0m2-11h0m0 13h0m3 0h0m0 0h0m2-5h0m2 9h0m4-13h0m0 12h0m3-11h0m0-7h0m13 5h0m0 11h0m4-18h0m1 14h0m2-6h0m1 2h0m7 0h0m10 9h0m17-19h0m19 1h0m16 17h0m10-3h0m22-6h0m49 35h0m-35-8h0m-2-2h0m-34-10h0m-7 15h0m-23-15h0m-2 18h0m-4-12h0m-8 14h0m-10-10h0m-3-7h0m-4-1h0m-4 13h0m-5 0h0m-5-10h0m-5 16h0m-3-21h0m-3 5h0m0 12h0m-2-9h0m-1 3h0m0-6h0m-1 3h0m-2-3h0m-8 14h0m-9-17h0m0 14h0m-1-9h0m-1 6h0m0-14h0m-1 18h0m-4-12h0m-1 11h0m0-13h0m-1 6h0m-4-3h0m-2-4h0m-2 8h0m-1 12h0m-4-4h0m-1-19h0m-1 10h0m-2 5h0m-1-7h0m-1 2h0m0-1h0m-1 10h0m-4-20h0m0 14h0m-1 9h0m-2 0h0m-2-16h0m-2 3h0m0 12h0m-1-1h0m-3-17h0m-4 13h0m-1-1h0m-1 0h0m0-16h0m0 20h0m-3 1h0m-2-8h0m-3 4h0m0-8h0m0-4h0m0 7h0m-1-1h0m-6-9h0m-3 2h0m-8 12h0m-1-12h0m-2 1h0m-1 2h0m0-6h0m-2 8h0m-2 11h0m-1 0h0m0-4h0m-2 1h0m-2-16h0m-1 21h0m-4-1h0m-2-19h0m-1 3h0m0 12h0m-3-14h0m0 11h0m-1 5h0m-2-3h0m-1 0h0m0 2h0m-1-15h0m0 18h0m-2-8h0m-1 6h0m-2 5h0m0-9h0m0-11h0m0 3h0m-1 7h0m-8-10h0m-1 4h0m-1-7h0m-2 13h0m0-1h0m-1 7h0m-1-4h0m0 6h0m-1-16h0m0 7h0m0-2h0m-1-8h0m0 14h0m0-8h0m0 11h0m0-18h0m-1 20h0m-1 2h0m-1-5h0m0 1h0m-1-16h0m-2 15h0m-3-14h0m-2 18h0m-2-22h0m0 5h0m-1 4h0m0-8h0m-1 13h0m0-14h0m0 3h0m-1-3h0m-2 6h0m-1-1h0m-1 2h0m0 7h0m-1 3h0m-1 4h0m-1-3h0m-1-10h0m-2 12h0m-1-4h0m0-10h0m-4 4h0m-1 7h0m-1 5h0m0-2h0m0-2h0m0-7h0m0 4h0m-2-10h0m-1 3h0m0-6h0m-2 15h0m-1-5h0m-1-9h0m-2-1h0m-1 9h0m0-3h0m0-4h0m0-4h0m-1 21h0m0 0h0m-1-9h0m-1-4h0m0 4h0m-1-1h0m0 6h0m-1-16h0m0 1h0m-1 2h0m-2-5h0m0 9h0m0 5h0m-1 6h0m0-6h0m0 7h0m-1-11h0m-1-2h0m0 4h0m-1 4h0m-1-8h0m-1-5h0m-3 4h0m0 12h0m-2-14h0m-2 15h0m0 4h0m-1-1h0m0-13h0m0 5h0m-1 4h0m0-5h0m0 9h0m-1-12h0m-1 6h0m-2 2h0m0-17h0m-1 3h0m-1 5h0m0 0h0m-1-2h0m-3 3h0m-1 2h0m-1-7h0m0 6h0m-1 11h0m-2-13h0m0 5h0m-2-4h0m-1 6h0m-1 5h0m-2 0h0m-2-8h0m0 5h0m-1 1h0m0-15h0m0-1h0m0 16h0m-1-13h0m0 11h0m-2-8h0m0 6h0m-1-2h0m0-5h0m0 11h0m-1-10h0m0 7h0m-3-7h0m-1 7h0m-1-4h0m-1 3h0m0 3h0m-1-9h0m0 13h0m-3-11h0m-1 7h0m-1-7h0m-1 4h0m-1-2h0m0 4h0m-3 3h0m-1-10h0m0-8h0m0-2h0m-4 22h0m0-9h0m0 3h0m-1-9h0m0 7h0m0 0h0m-2-13h0m-2 16h0m-1-12h0m-1 6h0m0-12h0m-1 21h0m-5-19h0m0 3h0m0 9h0m-2-14h0m-1 16h0m0-14h0m-1 4h0m-2 11h0m0 4h0m-3-4h0m0-5h0m-2 2h0m-4-7h0m0-3h0m0 5h0m-3 8h0m0-7h0m-1 2h0m0-12h0m-3 7h0m0 13h0m-2-19h0m-6 16h0m0-10h0m-6 35h0m0-13h0m2-2h0m3 9h0m0 3h0m2-12h0m0 13h0m0 6h0m1-20h0m1 6h0m1 6h0m0-11h0m1 10h0m1-10h0m0 3h0m2 16h0m6 0h0m1-7h0m2-10h0m1 9h0m0 7h0m0-6h0m2 0h0m2-3h0m4-2h0m3 4h0m2-6h0m1 10h0m1 5h0m3-2h0m0 0h0m1-10h0m2 12h0m2-10h0m0-6h0m1-7h0m0 7h0m4 13h0m2-9h0m0 5h0m1-6h0m0 12h0m1-20h0m2 12h0m1-14h0m0 5h0m1 4h0m0 3h0m2 10h0m0-11h0m1-9h0m0 4h0m1 12h0m0-14h0m1-3h0m2 11h0m0-12h0m1 22h0m0-18h0m1 11h0m0 0h0m1 3h0m0 1h0m1-12h0m0 9h0m0-5h0m3 3h0m1 3h0m1-16h0m1 18h0m2-17h0m0 10h0m0 3h0m1-11h0m2 14h0m0 3h0m0-8h0m0-13h0m0 15h0m1-15h0m0 13h0m0 6h0m2-2h0m0-3h0m0 6h0m2 2h0m0-4h0m1-16h0m1 18h0m0 3h0m1-12h0m1-11h0m0 8h0m1 13h0m1-10h0m0 8h0m0-13h0m1 8h0m1-12h0m1 3h0m0 2h0m1 3h0m0 13h0m1-14h0m1-3h0m0-2h0m0 14h0m1 3h0m0-8h0m0 2h0m1-14h0m0 0h0m0 15h0m2 7h0m0-7h0m1 1h0m0-1h0m0 4h0m1 3h0m1-12h0m3 6h0m0-3h0m1-10h0m1 1h0m0 16h0m1-2h0m0-4h0m0-2h0m1 8h0m0 2h0m2-1h0m0-17h0m1-3h0m1 18h0m0-3h0m0-17h0m1 13h0m1 8h0m0-20h0m1 8h0m0 10h0m1-2h0m0-11h0m2 10h0m0-12h0m0 0h0m0 12h0m1 5h0m1-20h0m0 9h0m1 9h0m0 3h0m1-7h0m0 9h0m0-12h0m0-8h0m2 0h0m0 10h0m2-4h0m0 12h0m0-11h0m0 0h0m1 3h0m1 4h0m1-15h0m1-1h0m0 1h0m0 6h0m1 2h0m1 13h0m1-10h0m1 2h0m2 5h0m2-14h0m1 7h0m1-1h0m1 7h0m2-18h0m0 20h0m1-4h0m2-15h0m0 13h0m0 8h0m3-9h0m1-5h0m1-3h0m1-3h0m1 1h0m2 5h0m1-7h0m0 6h0m2-7h0m0 21h0m0-22h0m0 6h0m0 8h0m0 6h0m1-19h0m0 11h0m3 7h0m1-14h0m0 8h0m1 4h0m0 6h0m0-4h0m1-20h0m0 17h0m1-10h0m1-6h0m1 1h0m1 19h0m1-10h0m0 13h0m1-13h0m0 11h0m1-3h0m0-15h0m0 16h0m0-9h0m1 12h0m0-6h0m0-16h0m1 6h0m6 7h0m0-2h0m0 12h0m1-12h0m1 10h0m3-19h0m0 16h0m1-16h0m1 11h0m1-1h0m0 5h0m1 6h0m0-21h0m1 1h0m1 15h0m1-1h0m1-8h0m1 13h0m2-16h0m0 12h0m1-1h0m2 3h0m1-17h0m1 15h0m1-13h0m1 16h0m1-5h0m0 3h0m3-14h0m1-2h0m0 15h0m2-15h0m1 13h0m2-5h0m1-8h0m0 8h0m1 7h0m2-5h0m1-9h0m3 6h0m0 8h0m1 3h0m1-12h0m1 11h0m0-15h0m1 12h0m1-9h0m1 13h0m0-3h0m1 4h0m3-9h0m0 9h0m1-23h0m2 4h0m2 14h0m1-2h0m0-6h0m3 1h0m1-3h0m2-6h0m3 18h0m0-19h0m4 0h0m2 16h0m2 6h0m0-11h0m0 5h0m1-15h0m7 13h0m0 0h0m5 4h0m1 4h0m1-23h0m0 18h0m4 4h0m4-16h0m4 18h0m1-15h0m1 5h0m0-7h0m4-6h0m0 20h0m1-6h0m3 6h0m2-7h0m0-7h0m5 1h0m1 2h0m3 6h0m0-6h0m3-4h0m4-5h0m2 19h0m1-6h0m1-12h0m3 21h0m2-1h0m9-19h0m15 18h0m7 2h0m3-11h0m0 6h0m6-15h0m1 20h0m5-11h0m3-11h0m3 12h0m9-5h0m0-8h0m0 3h0m0 8h0m5-7h0m7 14h0m0-9h0m10 5h0m9 7h0m8-19h0m1 20h0m3-6h0m26 5h0m16-15h0m4-4h0m23 17h0m3 12h0m-19 9h0m-18 4h0m-3-18h0m-8 5h0m-17 13h0m-15-18h0m-11 20h0m-7-10h0m-24-12h0m-4 2h0m-6 15h0m-2-3h0m-8-4h0m0 4h0m0-12h0m-9 6h0m0 2h0m-1-9h0m-1 14h0m-2-8h0m-2 14h0m-1-20h0m-4 14h0m0 1h0m-1-14h0m-4-1h0m-2 14h0m0-11h0m-4 14h0m-7-1h0m-1-11h0m-3 10h0m-2-9h0m0-2h0m-1 15h0m-4 4h0m-5-15h0m0 7h0m-1-4h0m-3 1h0m-3-1h0m0 5h0m-1-13h0m-1 4h0m0 3h0m-4 9h0m0-13h0m-1 9h0m0 5h0m-3-12h0m-8 8h0m-3-13h0m-2 9h0m0-5h0m-3 16h0m-2-19h0m-2 10h0m-5 4h0m0-4h0m-2 8h0m-1-8h0m0-5h0m-2 13h0m-2-14h0m-2-2h0m-1 3h0m0 8h0m0-6h0m-2-4h0m-1-6h0m-4 7h0m-1-2h0m-1 12h0m0-6h0m-1 8h0m0 1h0m-1-9h0m0-10h0m-4 19h0m0-16h0m-2 11h0m0 0h0m-4-4h0m-8-2h0m0 2h0m-1-6h0m-1 8h0m0-13h0m-6 15h0m0 4h0m0 2h0m0-3h0m-1 3h0m-2-4h0m-1 5h0m-1-23h0m-2 20h0m-3 1h0m-1-5h0m-2 2h0m-2-8h0m-1-7h0m0 1h0m-2-3h0m-1 10h0m0 11h0m0-4h0m-2-10h0m0-4h0m0 15h0m-3 2h0m0-2h0m-1-20h0m-1 23h0m-1-21h0m0 12h0m-1-10h0m0 1h0m-1 16h0m-4-16h0m0 3h0m-1-7h0m-2 7h0m-1 5h0m-1-4h0m0 2h0m0-5h0m-1-6h0m-1 13h0m-4-5h0m0 8h0m-1-7h0m-2 15h0m-2 0h0m-1-22h0m-2 2h0m0 14h0m-2-15h0m-2 0h0m-1 9h0m-1 9h0m0-3h0m-1-6h0m-1-11h0m-2 0h0m0 0h0m-1 9h0m-3-2h0m-1 0h0m0-3h0m-3 0h0m-2 13h0m-2-6h0m0-8h0m0 9h0m0 1h0m0-8h0m0 0h0m-1-3h0m-1 7h0m0-10h0m-1 9h0m-2 2h0m0-9h0m0 21h0m-3-7h0m-1-10h0m0-4h0m-2 9h0m0 12h0m-2-10h0m0 2h0m0-12h0m0 6h0m-1 12h0m0-8h0m-2 8h0m0 0h0m0-13h0m-1 16h0m0-17h0m-1-4h0m0 4h0m-1 0h0m0-3h0m-2 5h0m0-5h0m-2-3h0m0 18h0m-1-10h0m-1 0h0m-1 7h0m0-7h0m-1 13h0m0-18h0m-3-2h0m0 18h0m-1 1h0m0 0h0m-2-9h0m0-10h0m0 5h0m-2 2h0m-1 6h0m-2-14h0m-1 6h0m0-7h0m-2 4h0m0-3h0m-1 17h0m-1-12h0m-1-4h0m0 13h0m0-15h0m-1 7h0m0-7h0m0 15h0m0-11h0m-2 12h0m-1 7h0m-1-8h0m-2-3h0m-4 11h0m-1-19h0m0 9h0m-1 10h0m0-10h0m0-5h0m0 12h0m-1-17h0m0 8h0m-1 1h0m0-11h0m-1 0h0m0 2h0m0 9h0m0 9h0m-1-3h0m-1-7h0m-1-6h0m0 3h0m-1-1h0m-1 16h0m-1-22h0m0 0h0m0 18h0m-1-16h0m-1 7h0m0-5h0m0 0h0m-2 13h0m0-9h0m0 5h0m-1 3h0m0 2h0m-2-11h0m0 7h0m0 3h0m-1 0h0m-3-11h0m-3 10h0m0-12h0m-2 7h0m-1-10h0m-1-1h0m-1 2h0m0 20h0m-1-22h0m0 22h0m-1-6h0m0 0h0m-4-9h0m-3-3h0m0 11h0m-2-12h0m-3 12h0m-2-14h0m-2 11h0m-1 0h0m0 9h0m-1-2h0m-2-4h0m0-13h0m0 0h0m-1 19h0m0-12h0m0-2h0m-1 11h0m-1-10h0m-5 5h0m-1-4h0m0-8h0m0 13h0m-2-11h0m-1 10h0m0 9h0m-1-10h0m-1 4h0m-1 4h0m0-10h0m0 6h0m-1-2h0m0 3h0m-3 1h0m-1-8h0m-1-6h0m0 12h0m-1-7h0m-1 5h0m-6 1h0m-1 7h0m0 0h0m-1-3h0m-1-19h0m-2-1h0m0 3h0m4 44h0m0-16h0m1 13h0m1-18h0m2 15h0m1 4h0m0-10h0m0-2h0m1-1h0m0 12h0m1 1h0m1-11h0m1-6h0m0-4h0m2 4h0m1 6h0m1-10h0m1 8h0m0 1h0m1 1h0m0 5h0m1 6h0m6-2h0m1-11h0m1 5h0m1 1h0m0-3h0m2 7h0m4-18h0m0 21h0m1-4h0m2 2h0m1-2h0m4-1h0m0 0h0m1 3h0m2-7h0m2-8h0m3 0h0m1 4h0m1-1h0m0 5h0m1 6h0m0-7h0m0-2h0m1-8h0m0 0h0m4 11h0m0-10h0m0 6h0m3 4h0m2 1h0m2-3h0m1 14h0m1-11h0m0-1h0m0 10h0m1 1h0m0-3h0m1-9h0m1 3h0m1-3h0m1 10h0m3-8h0m1-4h0m0-7h0m1 11h0m1 0h0m1 6h0m1-4h0m0-12h0m0-2h0m0 17h0m2-14h0m2 12h0m0-12h0m1 14h0m0-1h0m1-17h0m0 4h0m1-3h0m1 10h0m0 5h0m2 0h0m0-3h0m0-10h0m2 9h0m0 7h0m2 3h0m2-19h0m0 3h0m0-1h0m1 1h0m0 12h0m4 0h0m1 6h0m0-11h0m2 9h0m1-8h0m0 1h0m1-1h0m0-13h0m0 22h0m1-7h0m1-4h0m1 3h0m1 6h0m0-9h0m1 2h0m0 9h0m2-6h0m0 2h0m1-2h0m2 1h0m0-7h0m0-5h0m4 16h0m0-2h0m1 0h0m0-14h0m1-4h0m3 8h0m0-2h0m0 10h0m1 1h0m0-16h0m3 21h0m2-15h0m1 6h0m1-15h0m1 8h0m2-7h0m1 18h0m1-8h0m1 1h0m0-3h0m2-6h0m0 1h0m2 2h0m2 9h0m1 1h0m1-1h0m1-5h0m1 7h0m0-6h0m0 10h0m3-3h0m3-10h0m0 7h0m0-14h0m1 2h0m1 20h0m2-7h0m3 2h0m2-1h0m0-1h0m2-13h0m1 7h0m0-5h0m0 0h0m1 15h0m1-16h0m4 12h0m0-1h0m2-11h0m1 8h0m1-2h0m0 6h0m1-13h0m3 6h0m1 2h0m1 4h0m1-12h0m4 11h0m1-3h0m1-11h0m0 18h0m2-8h0m1 13h0m2-11h0m2 6h0m3-7h0m3 10h0m0-2h0m1-7h0m0 12h0m2-2h0m0-12h0m0 2h0m5 12h0m1-19h0m4 17h0m1-1h0m0 2h0m6-11h0m2 3h0m4 7h0m1-19h0m2-1h0m2 12h0m0 0h0m1 6h0m0 1h0m0-20h0m5 18h0m0-14h0m1 0h0m3-3h0m3 19h0m0-17h0m1 9h0m1-3h0m0-4h0m2 8h0m0-2h0m1 10h0m2-11h0m1 3h0m1 2h0m2-14h0m2 0h0m0 8h0m1 7h0m1-14h0m1 10h0m7-1h0m2-7h0m3-1h0m0-3h0m2 3h0m5 7h0m2 9h0m1-12h0m6 4h0m11-2h0m1-1h0m8 10h0m4-9h0m0 4h0m4 2h0m3 1h0m7-13h0m2 17h0m1-1h0m7-19h0m14 20h0m8 2h0m4-11h0m0-12h0m1 18h0m1-2h0m8-12h0m2 0h0m16 7h0m2-3h0m60-7h0m6 20h0m2-14h0m2-4h0m23-3h0m-39 48h0m-1-19h0m-1 8h0m-14-2h0m-12 12h0m-24-22h0m-4 1h0m-1 8h0m-10 9h0m-21 1h0m-2-9h0m0 11h0m-25-10h0m-1 1h0m-1-6h0m-8 5h0m-4-1h0m-1 12h0m-6-2h0m-1-13h0m-3-1h0m-1-5h0m-7 11h0m-2 0h0m0 10h0m-3-9h0m0 5h0m-1-13h0m-4 5h0m-1-2h0m-4-9h0m-2 21h0m-1-5h0m-4-15h0m-9 16h0m-9-13h0m-1 8h0m-1 5h0m-4-4h0m-3-5h0m-1 0h0m-4 11h0m-6-9h0m0 6h0m-3-1h0m-3-8h0m-4 16h0m-1-12h0m-1 1h0m-1-6h0m-1 4h0m-2 10h0m-2-8h0m-4 4h0m-1 6h0m-1-18h0m-3 4h0m-1 0h0m0 2h0m0-5h0m-4 19h0m-1-14h0m-2-6h0m-3 0h0m-4-3h0m0 0h0m0 2h0m0-2h0m-2 10h0m-1 1h0m-2-12h0m0 16h0m-1-5h0m-2 2h0m-5-10h0m0 15h0m-1-10h0m0-7h0m-1 14h0m-4-9h0m0 17h0m-1-3h0m-1-12h0m-1 13h0m-3-4h0m0-14h0m-1 15h0m-1-16h0m-3 16h0m-6 5h0m-1-1h0m-1-15h0m0 15h0m-1 0h0m-1 1h0m0-21h0m-2 9h0m-2 10h0m0-13h0m0-3h0m-1 11h0m0-9h0m-2 11h0m-1-13h0m0 15h0m0-19h0m0 19h0m-3-4h0m-1-16h0m-1 9h0m0-5h0m-3 17h0m0-7h0m-1-2h0m-1 0h0m0-5h0m-5 2h0m-1 10h0m0-18h0m-1 20h0m-1-1h0m0-18h0m-2 14h0m-4-1h0m0-14h0m-2 15h0m-1 4h0m-1-13h0m-1 16h0m0-11h0m-1-11h0m-1 8h0m0 8h0m-1-5h0m-1-8h0m-1 7h0m-1 1h0m-2 9h0m-3-6h0m-1 7h0m-1-11h0m-2 0h0m-3-7h0m0 18h0m-1-6h0m-1-11h0m0 11h0m-1-14h0m-1 2h0m0 13h0m-1-13h0m-2-1h0m-2-2h0m0 1h0m-1 20h0m0 2h0m-2-19h0m0 7h0m-3 1h0m0 4h0m-1-4h0m-1-7h0m0 11h0m-3-4h0m-1-9h0m-1 6h0m-1-5h0m0 15h0m0-9h0m0-9h0m-1 20h0m0 0h0m-3-12h0m-1 13h0m-1-23h0m0 15h0m-2 8h0m-1-8h0m-2 5h0m-6-17h0m-3 3h0m0 8h0m0 7h0m-1-7h0m-1-4h0m-2 2h0m-2 2h0m-2-14h0m-4 19h0m-1 2h0m-1-18h0m0 0h0m-3 0h0m-1 18h0m-2-3h0m-1 4h0m-8-8h0m-2-5h0m0 1h0m-1 11h0m-3 0h0m-1-2h0m-4-9h0m0 10h0m-1-7h0m0 2h0m0-12h0m-2 4h0m-1-4h0m-2 7h0m-3 5h0m-2 2h0m-1-11h0m-2-1h0m-1 9h0m0-4h0m-1 2h0m-1-10h0m-1 22h0m-2-8h0m0-9h0m-2 28h0m2-1h0m2-8h0m0 0h0m4 10h0m1-10h0m3 16h0m1-8h0m1 5h0m0-2h0m2 5h0m0-1h0m1-16h0m2 15h0m2-5h0m0 7h0m0-15h0m1 16h0m1-8h0m1 8h0m0-1h0m1-8h0m0 4h0m0 4h0m2 0h0m2 0h0m1 0h0m1-7h0m1 7h0m3-3h0m0-13h0m1 9h0m1 0h0m0 8h0m0-1h0m0-11h0m1 4h0m0 6h0m1 1h0m0-7h0m0 7h0m1-7h0m2-7h0m2 7h0m1 7h0m0-7h0m1 8h0m0-1h0m1-6h0m0-1h0m1 1h0m0-1h0m2 0h0m1 7h0m0 0h0m0 0h0m1 1h0m1-2h0m0-6h0m0 7h0m1-7h0m0 0h0m0 0h0m0 7h0m2-17h0m0 17h0m1-7h0m0-9h0m0 9h0m1-9h0m0 9h0m0 7h0m0-1h0m1 2h0m1-1h0m0-11h0m0 3h0m1 9h0m1-8h0m0 7h0m1-6h0m0 6h0m0-6h0m1-11h0m2 9h0m0 1h0m0 0h0m2-10h0m0 17h0m1-11h0m0-4h0m0 8h0m0-7h0m1-4h0m1 18h0m1-2h0m1-7h0m2 9h0m1-13h0m1 14h0m0-7h0m1 6h0m1 1h0m0-10h0m0 2h0m1 0h0m1 7h0m1-1h0m0-9h0m1 10h0m2-6h0m1 6h0m1-17h0m2 18h0m2-8h0m1 7h0m2 1h0m1-8h0m0-9h0m1 2h0m0 7h0m0-5h0m1 12h0m0-4h0m3 4h0m1 0h0m0-7h0m0 7h0m1-6h0m0 6h0m0-1h0m1 1h0m1-6h0m0 0h0m0-12h0m1 11h0m1-6h0m2 13h0m0 1h0m1 0h0m0-1h0m1-7h0m2-3h0m0 11h0m1-19h0m0 18h0m0-1h0m1-6h0m0 0h0m1 1h0m3 0h0m0-12h0m1 10h0m0 1h0m1 8h0m0-16h0m1 16h0m0-15h0m1 14h0m0-3h0m1 3h0m0 1h0m0-8h0m2 8h0m0-9h0m1 8h0m0 1h0m1-7h0m0 7h0m1-1h0m0-7h0m1 8h0m0-8h0m1 7h0m0-12h0m0 11h0m0-13h0m2 15h0m0-1h0m2-1h0m0-6h0m1 7h0m2-6h0m1 7h0m0-7h0m1 6h0m0-6h0m0 6h0m1-7h0m0 7h0m1 0h0m0-6h0m3-7h0m2 13h0m0-6h0m1 6h0m1-6h0m1-1h0m1 7h0m1-7h0m0 1h0m1 6h0m1-1h0m1-16h0m0 16h0m1-6h0m0 7h0m0-8h0m1 1h0m2 7h0m1 0h0m0-11h0m1 11h0m1 0h0m0-16h0m0 17h0m2-17h0m0 5h0m1 12h0m0-12h0m0 11h0m0-7h0m0 7h0m1 0h0m0-12h0m1 1h0m1 4h0m0 7h0m1 0h0m2-15h0m2 15h0m1-2h0m2 1h0m0 1h0m1 0h0m0-1h0m0 2h0m0 0h0m1-1h0m0-7h0m1-1h0m0 1h0m0 0h0m0 7h0m2 0h0m2-12h0m1-1h0m1 13h0m1-4h0m0 4h0m0-16h0m0 16h0m2-1h0m0 2h0m1 0h0m1-8h0m1 8h0m1-8h0m1 8h0m1-8h0m1 0h0m0 7h0m0-7h0m0 7h0m1-18h0m1 6h0m1 0h0m0 6h0m1 6h0m0 0h0m2-9h0m0 2h0m4 7h0m1-7h0m0-10h0m1 9h0m0 1h0m1 0h0m0 0h0m0 0h0m0 6h0m0-2h0m1 3h0m1-8h0m1 1h0m1 8h0m0-1h0m1 0h0m0-8h0m4 0h0m1 0h0m1 8h0m1-6h0m0-1h0m0 0h0m2 7h0m0-7h0m2 8h0m1-1h0m1 0h0m2-7h0m2-3h0m0 10h0m2-7h0m0-2h0m1 2h0m0 7h0m1 0h0m1-7h0m0 0h0m2 6h0m0-8h0m3 2h0m1 7h0m0 1h0m1 0h0m0-2h0m2-12h0m0 6h0m0 6h0m0-6h0m0 0h0m1-10h0m0 10h0m1 7h0m1 0h0m0-7h0m0 1h0m0-1h0m0 7h0m1 0h0m0 0h0m2-7h0m1-1h0m1 8h0m4-7h0m1 7h0m1 0h0m0-7h0m2-7h0m1 10h0m1 5h0m0-1h0m1-7h0m0 7h0m1-18h0m0 18h0m0 1h0m1-8h0m0 0h0m0 8h0m1-17h0m1 8h0m2-6h0m2 14h0m0-7h0m4 7h0m0-12h0m1 8h0m0-3h0m1 7h0m0 0h0m1 0h0m1-7h0m0 1h0m1-1h0m0 7h0m1-7h0m1 7h0m0 1h0m0-1h0m0 1h0m1-1h0m0 0h0m1-7h0m1 0h0m0 0h0m0-1h0m1-1h0m1 9h0m0 0h0m1-6h0m2-2h0m0 8h0m0 0h0m1-9h0m2 9h0m0-8h0m2 8h0m1-7h0m2 0h0m1 1h0m0 6h0m1-18h0m1 11h0m1 5h0m0 2h0m1 0h0m0-7h0m0 8h0m0 0h0m0 0h0m1-1h0m2 1h0m0 0h0m1-10h0m2 2h0m0 0h0m2 7h0m0 0h0m2-1h0m0 0h0m0-6h0m1 8h0m1-8h0m1 0h0m1-2h0m1 2h0m0 1h0m1-1h0m3 1h0m5-11h0m17 2h0m2-1h0m9 12h0m3-9h0m31 2h0m56 0h0m1-3h0m-140 33h0m0 1h0m0 0h0m-1 0h0m0-11h0m-1 0h0m-2-1h0m0 13h0m0-1h0m-3-11h0m0 11h0m-1 0h0m-1 1h0m-1-1h0m-1 1h0m0-1h0m-1-10h0m0-1h0m0 11h0m0-1h0m-1 0h0m0-10h0m-3 11h0m0-11h0m0 11h0m-1-11h0m0 0h0m-1 12h0m0-12h0m0 12h0m0-1h0m0 0h0m-2-11h0m0 11h0m-1 0h0m0-11h0m0 0h0m0 0h0m-1 1h0m-1 0h0m-1 11h0m0-12h0m0 0h0m0-1h0m-2 12h0m0-12h0m-1 0h0m-1 13h0m0-1h0m-1 0h0m0 1h0m0-13h0m-1 13h0m0-12h0m-1 11h0m0 1h0m0-12h0m0 12h0m0-1h0m0-11h0m-1 0h0m0 12h0m0-13h0m0 2h0m-1-1h0m-1 0h0m-2 11h0m0 0h0m-1-11h0m0 0h0m0 11h0m-1-11h0m-2-1h0m0 0h0m0 12h0m-1-11h0m0-1h0m0 12h0m0-11h0m-1 0h0m0-1h0m-1 0h0m-1 12h0m0 0h0m-1-1h0m0-10h0m-2 11h0m0-11h0m-1 11h0m0 1h0m-1-12h0m0 10h0m-1 1h0m0-1h0m-1 0h0m-1-11h0m0 1h0m-1 0h0m-1 11h0m-1-11h0m0 0h0m0 12h0m-2-2h0m0-9h0m-1-1h0m-1 0h0m-1 0h0m-3 0h0m0 0h0m-2-1h0m-1 14h0m0-13h0m-1 0h0m-1 11h0m-1-11h0m0 0h0m0 12h0m0-12h0m-1 11h0m0-10h0m0-2h0m0 12h0m-1-10h0m-1 10h0m0 0h0m-1 0h0m0-12h0m0 12h0m-1-1h0m0 1h0m0 0h0m-1-11h0m-1 11h0m-1-12h0m0 13h0m-1-1h0m0 0h0m0 0h0m-1 1h0m0-1h0m0 1h0m0-1h0m0 1h0m0-12h0m0 10h0m-1 1h0m0-12h0m0 12h0m0-11h0m0 11h0m-1-12h0m-3 1h0m0 11h0m0-1h0m0 1h0m-1-11h0m-1 11h0m-3 0h0m-1 0h0m0 1h0m0-12h0m-1 0h0m-2 11h0m-1-12h0m0 12h0m-1-1h0m-4-9h0m-1 9h0m0 2h0m-2 0h0m0-1h0m-2 0h0m0 0h0m0-1h0m0-10h0m-1 11h0m0 0h0m0-11h0m0-1h0m-1 1h0m-1 11h0m0-1h0m0-10h0m-1 11h0m-1-11h0m0 11h0m-1 0h0m-1-12h0m-1 12h0m0 0h0m0 0h0m0 0h0m0 0h0m0-12h0m-1 12h0m-1-12h0m0 12h0m-1 0h0m0 0h0m-1 0h0m0-1h0m0 1h0m0 0h0m-2 0h0m-1 0h0m0 1h0m-1-12h0m0 0h0m-1 0h0m-1 11h0m0-1h0m0-11h0m0 12h0m0-1h0m-1 1h0m-1 1h0m0-12h0m0 11h0m0-12h0m0 12h0m0-12h0m-1 1h0m0 11h0m0 0h0m-1 1h0m0-1h0m-1-11h0m-1 11h0m-1 0h0m0 0h0m-1-10h0m0-1h0m0 12h0m0-1h0m0 0h0m-1 0h0m0 0h0m0-1h0m0-10h0m-1 11h0m0-11h0m-1 11h0m0 0h0m-1-1h0m0 1h0m0-11h0m-1 11h0m-1-12h0m0 2h0m0 10h0m-1-11h0m0 0h0m0 0h0m0 11h0m-1 1h0m0-1h0m0-11h0m-1 0h0m-2 0h0m0 0h0m0 1h0m0-1h0m0 0h0m0 11h0m-1-12h0m-1 12h0m-1 0h0m0-11h0m-1 11h0m-1 0h0m0-11h0m0-1h0m-1 0h0m-1 13h0m0-12h0m-1 11h0m-1-12h0m-1 12h0m0-11h0m-1 0h0m-1 0h0m-1 0h0m0 0h0m0 0h0m0 10h0m0 0h0m-1-11h0m0 1h0m0 0h0m-1 0h0m-1 0h0m-1 12h0m-1-12h0m0-1h0m0 12h0m0 0h0m-1-12h0m-1 1h0m0 0h0m-1 11h0m-1-11h0m-1 11h0m-1 0h0m0 1h0m-1-1h0m0-11h0m0 1h0m0 10h0m-1-12h0m0 2h0m0 11h0m0-1h0m-1-10h0m0 11h0m0-12h0m0 11h0m-1-11h0m-1 11h0m0 0h0m-1-1h0m-1 1h0m0-10h0m-1-1h0m-3 0h0m0 1h0m0-1h0m0 11h0m-1-12h0m0 12h0m-1 0h0m0 0h0m-1-12h0m0 12h0m0-11h0m-1 11h0m-1 0h0m-1 0h0m-1 0h0m0 0h0m-1-11h0m0 11h0m-1 0h0m0-1h0m0 1h0m0 0h0m-1-11h0m-2 0h0m0 1h0m0 10h0m0 0h0m-2-12h0m-2 12h0m-1 0h0m0 1h0m0-1h0m-1-12h0m0 1h0m0 11h0m0-11h0m-1 10h0m-2 1h0m0 0h0m-1 0h0m0 1h0m-1 0h0m0-12h0m0 0h0m0 11h0m-2-11h0m-1 0h0m0 11h0m0 0h0m-1 0h0m0-11h0m-1 11h0m0-11h0m0 0h0m0 11h0m-1-12h0m-1 12h0m-1 0h0m-1 0h0m-1 0h0m0 0h0m0-12h0m0 1h0m0 11h0m-2 0h0m0-1h0m0 1h0m-1 0h0m0-11h0m-1 11h0m-1 0h0m-1 0h0m-1 1h0m0-1h0m0 1h0m0-1h0m0-11h0m-1 0h0m0 0h0m0 12h0m0-13h0m-1 11h0m-1-10h0m-1 12h0m-1 0h0m0-12h0m-1 11h0m0 0h0m-1 0h0m0 1h0m-1-2h0m-1-10h0m0 0h0m0 11h0m0 0h0m0 0h0m0 1h0m-1-2h0m0 0h0m0-10h0m-1 12h0m0-12h0m0 0h0m0 11h0m-1 0h0m-1 1h0m0-13h0m0 12h0m0 0h0m0-11h0m-1 0h0m0 0h0m-1 12h0m-2-12h0m0-1h0m0 12h0m-1 1h0m0-12h0m0 0h0m-1 12h0m0-12h0m0 1h0m-1-1h0m-1 12h0m0-12h0m0-2h0m0 2h0m0 0h0m-1 0h0m-1 11h0m0 0h0m0-11h0m-1-1h0m0 0h0m0 12h0m0 0h0m-2 1h0m0 0h0m-1-12h0m-1 12h0m-1-1h0m0-11h0m0 12h0m-1-12h0m0 0h0m-1 0h0m-2 12h0m0 1h0m-1-14h0m0 1h0m-1 0h0m-1 0h0m0 11h0m-1 1h0m-1-1h0m0-1h0m0 1h0m-1 1h0m0-1h0m-1 1h0m0-12h0m0 0h0m0 0h0m-1 0h0m0 0h0m-1 11h0m0 1h0m0-12h0m0 0h0m0 11h0m0 0h0m-1 0h0m-1 1h0m0-1h0m-1 0h0m0-11h0m-2 0h0m0 11h0m-2 0h0m0-12h0m0 12h0m-1 1h0m-1-1h0m-1-1h0m0-10h0m0 12h0m0 0h0m-1-12h0m-1 11h0m0 0h0m-1-11h0m-1 11h0m0-11h0m-1 0h0m-1 0h0m0 12h0m0-1h0m0-11h0m-1 0h0m-1 0h0m-1 0h0m-1 11h0m0-11h0m-1 11h0m-1 0h0m0-1h0m0-11h0m0 11h0m-1-9h0m-1 10h0m0-10h0m0-1h0m0-1h0m-1 1h0m0 0h0m-1 11h0m0-10h0m-1 10h0m0-12h0m0 11h0m0-10h0m0 11h0m-1 0h0m0-11h0m-1 11h0m-1 1h0m0-1h0m0 0h0m-1 0h0m0 0h0m-1-11h0m0 11h0m-1-11h0m-1 0h0m-1 0h0m0 10h0m-1-10h0m-2 0h0m0 1h0m-1-1h0m0 10h0m0-10h0m0 11h0m-1-11h0m-1 0h0m-1 11h0m-1-11h0m0 11h0m0-11h0m-1 1h0m-1-2h0m0 12h0m0-12h0m-1 1h0m0 11h0m0-11h0m-1 11h0m0 16h0m1 0h0m1-1h0m0 1h0m0 0h0m2 0h0m1-1h0m0 0h0m1 0h0m2 1h0m0 0h0m0 0h0m2 0h0m0 0h0m2 0h0m0 0h0m0 0h0m2 0h0m0 0h0m1 0h0m0 0h0m0 0h0m1-1h0m0 1h0m0 0h0m3-1h0m1 1h0m1-1h0m0 1h0m1 0h0m3 0h0m0 0h0m1-2h0m0 2h0m1-1h0m1 0h0m0 1h0m0 0h0m1-1h0m0 2h0m0-1h0m0 0h0m1-1h0m0 1h0m0-1h0m0 0h0m1 2h0m0-1h0m0-1h0m1 0h0m1 0h0m0 0h0m2 0h0m0 1h0m1 0h0m0 0h0m0 0h0m1 1h0m0 0h0m0-2h0m1 1h0m0 1h0m0 0h0m0-2h0m1 0h0m2 0h0m1 1h0m1-1h0m0 0h0m0 1h0m1 0h0m0 0h0m0 0h0m0 0h0m1-1h0m1 1h0m1-1h0m0 1h0m0 0h0m1 0h0m0 0h0m0 0h0m1 0h0m0 0h0m1 0h0m1 0h0m1 0h0m0 0h0m1 0h0m1 0h0m0 0h0m0 0h0m2 0h0m1 0h0m0-1h0m0 0h0m0 1h0m0 0h0m1 0h0m0-1h0m0 1h0m0-1h0m1 1h0m0 0h0m1 0h0m0 0h0m1 0h0m2-1h0m1 1h0m0 1h0m0-1h0m1 0h0m0-1h0m2 2h0m2-2h0m1 1h0m1 0h0m2-1h0m0 2h0m0-1h0m0 0h0m1 0h0m1 0h0m0 0h0m0 0h0m1 0h0m0-1h0m0 1h0m2-1h0m1 1h0m1 0h0m1-1h0m0 0h0m1 1h0m0 0h0m0 0h0m0 0h0m1-1h0m0 1h0m0-1h0m0 1h0m2 1h0m0-1h0m0-1h0m0 1h0m1-1h0m0 1h0m1 0h0m1 0h0m1-1h0m0 0h0m2 0h0m1 0h0m0 1h0m0 0h0m2-1h0m0 1h0m1 0h0m8 0h0m0 0h0m0 0h0m0 0h0m0 0h0m0 0h0m2 0h0m1-1h0m0 1h0m0 0h0m0-1h0m0 1h0m1 0h0m1-1h0m1 1h0m1 0h0m0 0h0m2-1h0m0 0h0m2 0h0m0 1h0m1 1h0m0-2h0m1 1h0m0 0h0m0 0h0m1 0h0m1-1h0m1 2h0m0-1h0m1 0h0m1-1h0m0 0h0m1 1h0m2 0h0m0 0h0m2-1h0m0 1h0m2 1h0m1-1h0m1 0h0m0 1h0m0-1h0m1 1h0m0-2h0m1 1h0m1-1h0m1 1h0m0 1h0m0-1h0m3-1h0m2 1h0m1 0h0m0 1h0m1-1h0m1 0h0m2 0h0m0-1h0m0 0h0m3 2h0m1-2h0m0 0h0m0 2h0m0 0h0m1-1h0m0 0h0m0 0h0m0 1h0m1 0h0m0-1h0m1 0h0m0-1h0m0 2h0m1-1h0m0-1h0m0 1h0m0 0h0m2 0h0m1 0h0m0-1h0m0 1h0m2-1h0m2 0h0m1 1h0m0-1h0m1 0h0m1 1h0m0-1h0m0 0h0m1 1h0m0 0h0m2-1h0m1 1h0m0 0h0m0 0h0m1-1h0m1 1h0m0 0h0m0-1h0m1 1h0m1-1h0m1 1h0m5 0h0m6 0h0m6 0h0m4 0h0m3 0h0m1 0h0m8 0h0m0 0h0m2 0h0m6 0h0m-204 27h0m0-4h0m-2 4h0m-1 2h0m-1-2h0m-1-2h0" stroke="#ef8636" stroke-width="7.6" stroke-linecap="square" stroke-opacity="0.75"/>
<rect x="245.2" y="139" width="137.8" height="102.1" fill="none" stroke="#888" stroke-width="0.9" />
<line x1="242.2" y1="236.2" x2="245.2" y2="236.2" stroke="#777" stroke-width="0.8" />
<text transform="translate(236.8,239.4)" font-size="9.2" text-anchor="end" fill="#111">10</text>
<text transform="translate(237.2,234.4)" font-size="6.4" text-anchor="start" fill="#111">0</text>
<line x1="242.2" y1="213.8" x2="245.2" y2="213.8" stroke="#777" stroke-width="0.8" />
<text transform="translate(236.8,217)" font-size="9.2" text-anchor="end" fill="#111">10</text>
<text transform="translate(237.2,212)" font-size="6.4" text-anchor="start" fill="#111">1</text>
<line x1="242.2" y1="191.4" x2="245.2" y2="191.4" stroke="#777" stroke-width="0.8" />
<text transform="translate(236.8,194.6)" font-size="9.2" text-anchor="end" fill="#111">10</text>
<text transform="translate(237.2,189.6)" font-size="6.4" text-anchor="start" fill="#111">2</text>
<line x1="242.2" y1="169" x2="245.2" y2="169" stroke="#777" stroke-width="0.8" />
<text transform="translate(236.8,172.2)" font-size="9.2" text-anchor="end" fill="#111">10</text>
<text transform="translate(237.2,167.2)" font-size="6.4" text-anchor="start" fill="#111">3</text>
<line x1="242.2" y1="146.6" x2="245.2" y2="146.6" stroke="#777" stroke-width="0.8" />
<text transform="translate(236.8,149.8)" font-size="9.2" text-anchor="end" fill="#111">10</text>
<text transform="translate(237.2,144.8)" font-size="6.4" text-anchor="start" fill="#111">4</text>
<line x1="243.6" y1="229.46" x2="245.2" y2="229.46" stroke="#999" stroke-width="0.6" />
<line x1="243.6" y1="225.51" x2="245.2" y2="225.51" stroke="#999" stroke-width="0.6" />
<line x1="243.6" y1="222.71" x2="245.2" y2="222.71" stroke="#999" stroke-width="0.6" />
<line x1="243.6" y1="220.54" x2="245.2" y2="220.54" stroke="#999" stroke-width="0.6" />
<line x1="243.6" y1="218.77" x2="245.2" y2="218.77" stroke="#999" stroke-width="0.6" />
<line x1="243.6" y1="217.27" x2="245.2" y2="217.27" stroke="#999" stroke-width="0.6" />
<line x1="243.6" y1="215.97" x2="245.2" y2="215.97" stroke="#999" stroke-width="0.6" />
<line x1="243.6" y1="214.82" x2="245.2" y2="214.82" stroke="#999" stroke-width="0.6" />
<line x1="243.6" y1="207.06" x2="245.2" y2="207.06" stroke="#999" stroke-width="0.6" />
<line x1="243.6" y1="203.11" x2="245.2" y2="203.11" stroke="#999" stroke-width="0.6" />
<line x1="243.6" y1="200.31" x2="245.2" y2="200.31" stroke="#999" stroke-width="0.6" />
<line x1="243.6" y1="198.14" x2="245.2" y2="198.14" stroke="#999" stroke-width="0.6" />
<line x1="243.6" y1="196.37" x2="245.2" y2="196.37" stroke="#999" stroke-width="0.6" />
<line x1="243.6" y1="194.87" x2="245.2" y2="194.87" stroke="#999" stroke-width="0.6" />
<line x1="243.6" y1="193.57" x2="245.2" y2="193.57" stroke="#999" stroke-width="0.6" />
<line x1="243.6" y1="192.42" x2="245.2" y2="192.42" stroke="#999" stroke-width="0.6" />
<line x1="243.6" y1="184.66" x2="245.2" y2="184.66" stroke="#999" stroke-width="0.6" />
<line x1="243.6" y1="180.71" x2="245.2" y2="180.71" stroke="#999" stroke-width="0.6" />
<line x1="243.6" y1="177.91" x2="245.2" y2="177.91" stroke="#999" stroke-width="0.6" />
<line x1="243.6" y1="175.74" x2="245.2" y2="175.74" stroke="#999" stroke-width="0.6" />
<line x1="243.6" y1="173.97" x2="245.2" y2="173.97" stroke="#999" stroke-width="0.6" />
<line x1="243.6" y1="172.47" x2="245.2" y2="172.47" stroke="#999" stroke-width="0.6" />
<line x1="243.6" y1="171.17" x2="245.2" y2="171.17" stroke="#999" stroke-width="0.6" />
<line x1="243.6" y1="170.02" x2="245.2" y2="170.02" stroke="#999" stroke-width="0.6" />
<line x1="243.6" y1="162.26" x2="245.2" y2="162.26" stroke="#999" stroke-width="0.6" />
<line x1="243.6" y1="158.31" x2="245.2" y2="158.31" stroke="#999" stroke-width="0.6" />
<line x1="243.6" y1="155.51" x2="245.2" y2="155.51" stroke="#999" stroke-width="0.6" />
<line x1="243.6" y1="153.34" x2="245.2" y2="153.34" stroke="#999" stroke-width="0.6" />
<line x1="243.6" y1="151.57" x2="245.2" y2="151.57" stroke="#999" stroke-width="0.6" />
<line x1="243.6" y1="150.07" x2="245.2" y2="150.07" stroke="#999" stroke-width="0.6" />
<line x1="243.6" y1="148.77" x2="245.2" y2="148.77" stroke="#999" stroke-width="0.6" />
<line x1="243.6" y1="147.62" x2="245.2" y2="147.62" stroke="#999" stroke-width="0.6" />
<line x1="243.6" y1="139.86" x2="245.2" y2="139.86" stroke="#999" stroke-width="0.6" />
<line x1="250.5" y1="241.1" x2="250.5" y2="243.6" stroke="#777" stroke-width="0.8" />
<text transform="translate(250.5,251.2) scale(0.95,1.0)" font-size="8.2" text-anchor="middle" fill="#111">0.00</text>
<line x1="268.75" y1="241.1" x2="268.75" y2="242.7" stroke="#999" stroke-width="0.6" />
<line x1="287" y1="241.1" x2="287" y2="243.6" stroke="#777" stroke-width="0.8" />
<text transform="translate(287,251.2) scale(0.95,1.0)" font-size="8.2" text-anchor="middle" fill="#111">0.02</text>
<line x1="305.25" y1="241.1" x2="305.25" y2="242.7" stroke="#999" stroke-width="0.6" />
<line x1="323.5" y1="241.1" x2="323.5" y2="243.6" stroke="#777" stroke-width="0.8" />
<text transform="translate(323.5,251.2) scale(0.95,1.0)" font-size="8.2" text-anchor="middle" fill="#111">0.04</text>
<line x1="341.75" y1="241.1" x2="341.75" y2="242.7" stroke="#999" stroke-width="0.6" />
<line x1="360" y1="241.1" x2="360" y2="243.6" stroke="#777" stroke-width="0.8" />
<text transform="translate(360,251.2) scale(0.95,1.0)" font-size="8.2" text-anchor="middle" fill="#111">0.06</text>
<line x1="378.25" y1="241.1" x2="378.25" y2="242.7" stroke="#999" stroke-width="0.6" />
<text transform="translate(218.6,195) rotate(-90)" font-size="10.0" text-anchor="middle" fill="#111">Number of Orders</text>
<text transform="translate(293.5,262.7)" font-size="9.3" text-anchor="start" fill="#111">Reduced</text>
<text transform="translate(334.5,262.7)" font-size="10" text-anchor="start" fill="#111" style="font-style:italic">χ</text>
<text transform="translate(341.6,257)" font-size="6.4" text-anchor="start" fill="#111">2</text>
<rect x="393.5" y="2.6" width="289.3" height="264.1" fill="none" stroke="#7a7a7a" stroke-width="1.5" />
<text transform="translate(670.3,14.9)" font-size="11.2" text-anchor="start" fill="#111">C</text>
<rect x="423" y="112.3" width="100.66" height="4.2" fill="#5a94cc" stroke="none" stroke-width="1" />
<rect x="423" y="113.3" width="100.66" height="2.2" fill="#3877b9" stroke="none" stroke-width="1" />
<path d="M522.2 100.9h3.0l-1.5 2.6zM523.0 100.1h3.0l-1.5 2.6zM523.8 96.0h3.0l-1.5 2.6zM524.6 94.8h3.0l-1.5 2.6zM525.4 89.5h3.0l-1.5 2.6zM526.2 87.9h3.0l-1.5 2.6zM527.0 83.5h3.0l-1.5 2.6zM527.9 80.6h3.0l-1.5 2.6zM528.7 79.4h3.0l-1.5 2.6zM529.5 72.9h3.0l-1.5 2.6zM530.3 71.7h3.0l-1.5 2.6zM531.1 57.9h3.0l-1.5 2.6zM531.9 55.4h3.0l-1.5 2.6zM532.7 51.8h3.0l-1.5 2.6zM533.5 44.5h3.0l-1.5 2.6zM534.4 42.5h3.0l-1.5 2.6zM535.2 39.2h3.0l-1.5 2.6zM536.0 29.1h3.0l-1.5 2.6zM536.8 27.0h3.0l-1.5 2.6zM537.6 23.8h3.0l-1.5 2.6z" fill="#2f72b6" fill-opacity="0.9"/>
<path d="M422.5 114.4 L423.04 114.4 L423.58 114.4 L424.13 114.4 L424.67 114.4 L425.21 114.4 L425.75 114.4 L426.3 114.4 L426.84 114.4 L427.38 114.4 L427.92 114.4 L428.47 114.4 L429.01 114.4 L429.55 114.4 L430.09 114.4 L430.64 114.4 L431.18 114.4 L431.72 114.4 L432.26 114.4 L432.81 114.4 L433.35 114.4 L433.89 114.4 L434.43 114.4 L434.98 114.4 L435.52 114.4 L436.06 114.4 L436.6 114.4 L437.14 114.4 L437.69 114.4 L438.23 114.4 L438.77 114.4 L439.31 114.4 L439.86 114.4 L440.4 114.4 L440.94 114.4 L441.48 114.4 L442.03 114.4 L442.57 114.4 L443.11 114.4 L443.65 114.4 L444.2 114.4 L444.74 114.4 L445.28 114.4 L445.82 114.4 L446.37 114.4 L446.91 114.4 L447.45 114.4 L447.99 114.4 L448.54 114.4 L449.08 114.4 L449.62 114.4 L450.16 114.4 L450.7 114.4 L451.25 114.4 L451.79 114.4 L452.33 114.4 L452.87 114.4 L453.42 114.4 L453.96 114.4 L454.5 114.4 L455.04 114.4 L455.59 114.4 L456.13 114.4 L456.67 114.4 L457.21 114.4 L457.76 114.4 L458.3 114.4 L458.84 114.4 L459.38 114.4 L459.93 114.4 L460.47 114.4 L461.01 114.4 L461.55 114.4 L462.1 114.4 L462.64 114.4 L463.18 114.4 L463.72 114.4 L464.26 114.4 L464.81 114.4 L465.35 114.4 L465.89 114.4 L466.43 114.4 L466.98 114.4 L467.52 114.4 L468.06 114.4 L468.6 114.4 L469.15 114.4 L469.69 114.4 L470.23 114.4 L470.77 114.4 L471.32 114.4 L471.86 114.4 L472.4 114.4 L472.94 114.4 L473.49 114.4 L474.03 114.4 L474.57 114.4 L475.11 114.4 L475.66 114.4 L476.2 114.4 L476.74 114.4 L477.28 114.4 L477.82 114.4 L478.37 114.4 L478.91 114.4 L479.45 114.4 L479.99 114.4 L480.54 114.4 L481.08 114.4 L481.62 114.4 L482.16 114.4 L482.71 114.4 L483.25 114.4 L483.79 114.4 L484.33 114.4 L484.88 114.4 L485.42 114.4 L485.96 114.4 L486.5 114.4 L487.05 114.4 L487.59 114.4 L488.13 114.4 L488.67 114.4 L489.22 114.4 L489.76 114.4 L490.3 114.4 L490.84 114.4 L491.38 114.4 L491.93 114.4 L492.47 114.4 L493.01 114.4 L493.55 114.39 L494.1 114.39 L494.64 114.39 L495.18 114.39 L495.72 114.39 L496.27 114.39 L496.81 114.39 L497.35 114.39 L497.89 114.39 L498.44 114.38 L498.98 114.38 L499.52 114.38 L500.06 114.37 L500.61 114.37 L501.15 114.37 L501.69 114.36 L502.23 114.36 L502.78 114.35 L503.32 114.34 L503.86 114.34 L504.4 114.33 L504.94 114.32 L505.49 114.31 L506.03 114.29 L506.57 114.28 L507.11 114.26 L507.66 114.24 L508.2 114.22 L508.74 114.19 L509.28 114.17 L509.83 114.13 L510.37 114.1 L510.91 114.05 L511.45 114 L512 113.95 L512.54 113.88 L513.08 113.81 L513.62 113.73 L514.17 113.64 L514.71 113.53 L515.25 113.41 L515.79 113.27 L516.34 113.11 L516.88 112.93 L517.42 112.73 L517.96 112.5 L518.5 112.24 L519.05 111.94 L519.59 111.6 L520.13 111.22 L520.67 110.78 L521.22 110.29 L521.76 109.73 L522.3 109.1 L522.84 108.39 L523.39 107.59 L523.93 106.69 L524.47 105.68 L525.01 104.54 L525.56 103.28 L526.1 101.86 L526.64 100.29 L527.18 98.55 L527.73 96.63 L528.27 94.51 L528.81 92.19 L529.35 89.66 L529.9 86.92 L530.44 83.96 L530.98 80.79 L531.52 77.41 L532.06 73.83 L532.61 70.07 L533.15 66.15 L533.69 62.1 L534.23 57.94 L534.78 53.71 L535.32 49.44 L535.86 45.17 L536.4 40.94 L536.95 36.78 L537.49 32.73 L538.03 28.81 L538.57 25.05 L539.12 21.47" fill="none" stroke="#f58426" stroke-width="1.2" stroke-linejoin="round" />
<line x1="535" y1="58.3" x2="535" y2="118.4" stroke="#000" stroke-width="1.6" stroke-dasharray="2.6,1.6"/>
<rect x="422.5" y="19.8" width="119.9" height="98.6" fill="none" stroke="#999" stroke-width="0.9" />
<line x1="420" y1="114.4" x2="422.5" y2="114.4" stroke="#888" stroke-width="0.7" />
<text transform="translate(419.9,116.7)" font-size="6.4" text-anchor="end" fill="#111">0</text>
<line x1="420" y1="94.1" x2="422.5" y2="94.1" stroke="#888" stroke-width="0.7" />
<text transform="translate(419.9,96.4)" font-size="6.4" text-anchor="end" fill="#111">5</text>
<line x1="420" y1="73.8" x2="422.5" y2="73.8" stroke="#888" stroke-width="0.7" />
<text transform="translate(419.9,76.1)" font-size="6.4" text-anchor="end" fill="#111">10</text>
<line x1="420" y1="53.5" x2="422.5" y2="53.5" stroke="#888" stroke-width="0.7" />
<text transform="translate(419.9,55.8)" font-size="6.4" text-anchor="end" fill="#111">15</text>
<line x1="420" y1="33.2" x2="422.5" y2="33.2" stroke="#888" stroke-width="0.7" />
<text transform="translate(419.9,35.5)" font-size="6.4" text-anchor="end" fill="#111">20</text>
<line x1="422.5" y1="118.4" x2="422.5" y2="120.6" stroke="#888" stroke-width="0.7" />
<text transform="translate(422.5,126)" font-size="6.3" text-anchor="middle" fill="#111">100</text>
<line x1="436.06" y1="118.4" x2="436.06" y2="120.6" stroke="#888" stroke-width="0.7" />
<text transform="translate(436.06,126)" font-size="6.3" text-anchor="middle" fill="#111">125</text>
<line x1="449.62" y1="118.4" x2="449.62" y2="120.6" stroke="#888" stroke-width="0.7" />
<text transform="translate(449.62,126)" font-size="6.3" text-anchor="middle" fill="#111">150</text>
<line x1="463.18" y1="118.4" x2="463.18" y2="120.6" stroke="#888" stroke-width="0.7" />
<text transform="translate(463.18,126)" font-size="6.3" text-anchor="middle" fill="#111">175</text>
<line x1="476.74" y1="118.4" x2="476.74" y2="120.6" stroke="#888" stroke-width="0.7" />
<text transform="translate(476.74,126)" font-size="6.3" text-anchor="middle" fill="#111">200</text>
<line x1="490.3" y1="118.4" x2="490.3" y2="120.6" stroke="#888" stroke-width="0.7" />
<text transform="translate(490.3,126)" font-size="6.3" text-anchor="middle" fill="#111">225</text>
<line x1="503.86" y1="118.4" x2="503.86" y2="120.6" stroke="#888" stroke-width="0.7" />
<text transform="translate(503.86,126)" font-size="6.3" text-anchor="middle" fill="#111">250</text>
<line x1="517.42" y1="118.4" x2="517.42" y2="120.6" stroke="#888" stroke-width="0.7" />
<text transform="translate(517.42,126)" font-size="6.3" text-anchor="middle" fill="#111">275</text>
<line x1="530.98" y1="118.4" x2="530.98" y2="120.6" stroke="#888" stroke-width="0.7" />
<text transform="translate(530.98,126)" font-size="6.3" text-anchor="middle" fill="#111">300</text>
<text transform="translate(481.6,17.8)" font-size="10.5" text-anchor="middle" fill="#111">2006</text>
<text transform="translate(533.7,29.8)" font-size="9.2" text-anchor="end" fill="#111">Amplitude: 32</text>
<text transform="translate(530.4,42.9)" font-size="9.2" text-anchor="end" fill="#111">Slope: 60</text>
<rect x="559.5" y="112.3" width="81.94" height="4.2" fill="#5a94cc" stroke="none" stroke-width="1" />
<rect x="559.5" y="113.3" width="81.94" height="2.2" fill="#3877b9" stroke="none" stroke-width="1" />
<path d="M639.9 111.6h3.0l-1.5 2.6zM640.4 111.1h3.0l-1.5 2.6zM640.8 111.8h3.0l-1.5 2.6zM641.2 112.6h3.0l-1.5 2.6zM641.7 111.9h3.0l-1.5 2.6zM642.1 112.5h3.0l-1.5 2.6zM642.5 111.0h3.0l-1.5 2.6zM643.0 109.1h3.0l-1.5 2.6zM643.4 111.5h3.0l-1.5 2.6zM643.9 111.5h3.0l-1.5 2.6zM644.3 109.9h3.0l-1.5 2.6zM644.7 110.0h3.0l-1.5 2.6zM645.2 110.1h3.0l-1.5 2.6zM645.6 111.4h3.0l-1.5 2.6zM646.0 110.0h3.0l-1.5 2.6zM646.5 108.9h3.0l-1.5 2.6zM646.9 111.5h3.0l-1.5 2.6zM647.3 110.1h3.0l-1.5 2.6zM647.8 111.8h3.0l-1.5 2.6zM648.2 110.8h3.0l-1.5 2.6zM648.6 111.3h3.0l-1.5 2.6zM649.1 108.9h3.0l-1.5 2.6zM649.5 110.1h3.0l-1.5 2.6zM649.9 107.7h3.0l-1.5 2.6zM650.4 107.6h3.0l-1.5 2.6zM650.8 107.8h3.0l-1.5 2.6zM651.2 110.6h3.0l-1.5 2.6zM651.7 107.6h3.0l-1.5 2.6zM652.1 106.6h3.0l-1.5 2.6zM652.5 106.1h3.0l-1.5 2.6zM653.0 107.9h3.0l-1.5 2.6zM653.4 106.1h3.0l-1.5 2.6zM653.8 106.4h3.0l-1.5 2.6zM654.3 105.7h3.0l-1.5 2.6zM654.7 102.7h3.0l-1.5 2.6zM655.1 104.8h3.0l-1.5 2.6zM655.6 103.2h3.0l-1.5 2.6zM656.0 101.5h3.0l-1.5 2.6zM656.4 102.9h3.0l-1.5 2.6zM656.9 101.7h3.0l-1.5 2.6zM657.3 100.7h3.0l-1.5 2.6zM657.7 100.2h3.0l-1.5 2.6zM658.2 101.2h3.0l-1.5 2.6zM658.6 98.7h3.0l-1.5 2.6zM659.0 96.3h3.0l-1.5 2.6zM659.5 99.4h3.0l-1.5 2.6zM659.9 95.3h3.0l-1.5 2.6zM660.3 95.4h3.0l-1.5 2.6zM660.8 95.6h3.0l-1.5 2.6zM661.2 91.0h3.0l-1.5 2.6zM661.6 91.7h3.0l-1.5 2.6zM662.1 93.3h3.0l-1.5 2.6zM662.5 90.5h3.0l-1.5 2.6zM662.9 88.6h3.0l-1.5 2.6zM663.4 88.4h3.0l-1.5 2.6zM663.8 86.0h3.0l-1.5 2.6zM664.2 85.6h3.0l-1.5 2.6zM664.7 83.2h3.0l-1.5 2.6zM665.1 80.7h3.0l-1.5 2.6zM665.5 82.1h3.0l-1.5 2.6zM666.0 79.3h3.0l-1.5 2.6zM666.4 78.5h3.0l-1.5 2.6zM666.8 75.9h3.0l-1.5 2.6zM667.3 75.9h3.0l-1.5 2.6zM667.7 73.1h3.0l-1.5 2.6zM668.1 70.6h3.0l-1.5 2.6zM668.6 67.0h3.0l-1.5 2.6zM669.0 64.5h3.0l-1.5 2.6zM669.5 65.6h3.0l-1.5 2.6zM669.9 62.5h3.0l-1.5 2.6zM670.3 58.1h3.0l-1.5 2.6zM670.8 59.1h3.0l-1.5 2.6zM671.2 54.4h3.0l-1.5 2.6zM671.6 51.1h3.0l-1.5 2.6zM672.1 46.4h3.0l-1.5 2.6zM672.5 44.2h3.0l-1.5 2.6zM672.9 42.5h3.0l-1.5 2.6zM673.4 39.4h3.0l-1.5 2.6zM673.8 35.9h3.0l-1.5 2.6zM674.2 30.1h3.0l-1.5 2.6zM674.7 29.2h3.0l-1.5 2.6zM675.1 25.4h3.0l-1.5 2.6z" fill="#2f72b6" fill-opacity="0.9"/>
<path d="M559 114.4 L559.54 114.4 L560.08 114.4 L560.63 114.4 L561.17 114.4 L561.71 114.4 L562.25 114.4 L562.8 114.4 L563.34 114.4 L563.88 114.4 L564.42 114.4 L564.97 114.4 L565.51 114.4 L566.05 114.4 L566.59 114.4 L567.14 114.4 L567.68 114.4 L568.22 114.4 L568.76 114.4 L569.31 114.4 L569.85 114.4 L570.39 114.4 L570.93 114.4 L571.48 114.4 L572.02 114.4 L572.56 114.4 L573.1 114.4 L573.64 114.4 L574.19 114.4 L574.73 114.4 L575.27 114.4 L575.81 114.4 L576.36 114.4 L576.9 114.4 L577.44 114.4 L577.98 114.4 L578.53 114.4 L579.07 114.4 L579.61 114.4 L580.15 114.4 L580.7 114.4 L581.24 114.4 L581.78 114.4 L582.32 114.4 L582.87 114.4 L583.41 114.4 L583.95 114.4 L584.49 114.4 L585.04 114.4 L585.58 114.4 L586.12 114.4 L586.66 114.4 L587.2 114.4 L587.75 114.4 L588.29 114.4 L588.83 114.4 L589.37 114.4 L589.92 114.4 L590.46 114.4 L591 114.4 L591.54 114.4 L592.09 114.4 L592.63 114.4 L593.17 114.4 L593.71 114.4 L594.26 114.4 L594.8 114.4 L595.34 114.39 L595.88 114.39 L596.43 114.39 L596.97 114.39 L597.51 114.39 L598.05 114.39 L598.6 114.39 L599.14 114.39 L599.68 114.39 L600.22 114.39 L600.76 114.39 L601.31 114.39 L601.85 114.39 L602.39 114.39 L602.93 114.39 L603.48 114.39 L604.02 114.39 L604.56 114.38 L605.1 114.38 L605.65 114.38 L606.19 114.38 L606.73 114.38 L607.27 114.38 L607.82 114.38 L608.36 114.37 L608.9 114.37 L609.44 114.37 L609.99 114.37 L610.53 114.37 L611.07 114.36 L611.61 114.36 L612.16 114.36 L612.7 114.36 L613.24 114.35 L613.78 114.35 L614.32 114.35 L614.87 114.34 L615.41 114.34 L615.95 114.34 L616.49 114.33 L617.04 114.33 L617.58 114.32 L618.12 114.32 L618.66 114.31 L619.21 114.3 L619.75 114.3 L620.29 114.29 L620.83 114.28 L621.38 114.27 L621.92 114.26 L622.46 114.26 L623 114.25 L623.55 114.24 L624.09 114.22 L624.63 114.21 L625.17 114.2 L625.72 114.18 L626.26 114.17 L626.8 114.15 L627.34 114.14 L627.88 114.12 L628.43 114.1 L628.97 114.08 L629.51 114.06 L630.05 114.03 L630.6 114.01 L631.14 113.98 L631.68 113.95 L632.22 113.92 L632.77 113.89 L633.31 113.85 L633.85 113.82 L634.39 113.78 L634.94 113.73 L635.48 113.69 L636.02 113.64 L636.56 113.58 L637.11 113.53 L637.65 113.47 L638.19 113.4 L638.73 113.34 L639.28 113.26 L639.82 113.18 L640.36 113.1 L640.9 113.01 L641.44 112.92 L641.99 112.81 L642.53 112.71 L643.07 112.59 L643.61 112.47 L644.16 112.33 L644.7 112.19 L645.24 112.04 L645.78 111.88 L646.33 111.7 L646.87 111.52 L647.41 111.32 L647.95 111.11 L648.5 110.89 L649.04 110.65 L649.58 110.39 L650.12 110.12 L650.67 109.83 L651.21 109.51 L651.75 109.18 L652.29 108.83 L652.84 108.45 L653.38 108.04 L653.92 107.61 L654.46 107.15 L655 106.66 L655.55 106.14 L656.09 105.58 L656.63 104.99 L657.17 104.36 L657.72 103.68 L658.26 102.96 L658.8 102.2 L659.34 101.38 L659.89 100.52 L660.43 99.59 L660.97 98.61 L661.51 97.57 L662.06 96.46 L662.6 95.28 L663.14 94.03 L663.68 92.7 L664.23 91.28 L664.77 89.78 L665.31 88.19 L665.85 86.51 L666.4 84.72 L666.94 82.84 L667.48 80.84 L668.02 78.72 L668.56 76.49 L669.11 74.13 L669.65 71.64 L670.19 69.01 L670.73 66.25 L671.28 63.34 L671.82 60.28 L672.36 57.07 L672.9 53.7 L673.45 50.16 L673.99 46.46 L674.53 42.59 L675.07 38.55 L675.62 34.33 L676.16 29.94 L676.7 25.37 L677.24 20.62" fill="none" stroke="#f58426" stroke-width="1.2" stroke-linejoin="round" />
<line x1="679.4" y1="22.5" x2="679.4" y2="118.4" stroke="#000" stroke-width="1.6" stroke-dasharray="2.6,1.6"/>
<rect x="559" y="19.8" width="119.6" height="98.6" fill="none" stroke="#999" stroke-width="0.9" />
<line x1="556.5" y1="114.4" x2="559" y2="114.4" stroke="#888" stroke-width="0.7" />
<text transform="translate(556.4,116.7)" font-size="6.4" text-anchor="end" fill="#111">0</text>
<line x1="556.5" y1="100.85" x2="559" y2="100.85" stroke="#888" stroke-width="0.7" />
<text transform="translate(556.4,103.15)" font-size="6.4" text-anchor="end" fill="#111">25</text>
<line x1="556.5" y1="87.3" x2="559" y2="87.3" stroke="#888" stroke-width="0.7" />
<text transform="translate(556.4,89.6)" font-size="6.4" text-anchor="end" fill="#111">50</text>
<line x1="556.5" y1="73.75" x2="559" y2="73.75" stroke="#888" stroke-width="0.7" />
<text transform="translate(556.4,76.05)" font-size="6.4" text-anchor="end" fill="#111">75</text>
<line x1="556.5" y1="60.2" x2="559" y2="60.2" stroke="#888" stroke-width="0.7" />
<text transform="translate(556.4,62.5)" font-size="6.4" text-anchor="end" fill="#111">100</text>
<line x1="556.5" y1="46.65" x2="559" y2="46.65" stroke="#888" stroke-width="0.7" />
<text transform="translate(556.4,48.95)" font-size="6.4" text-anchor="end" fill="#111">125</text>
<line x1="556.5" y1="33.1" x2="559" y2="33.1" stroke="#888" stroke-width="0.7" />
<text transform="translate(556.4,35.4)" font-size="6.4" text-anchor="end" fill="#111">150</text>
<line x1="559" y1="118.4" x2="559" y2="120.6" stroke="#888" stroke-width="0.7" />
<text transform="translate(559,126)" font-size="6.3" text-anchor="middle" fill="#111">100</text>
<line x1="572.56" y1="118.4" x2="572.56" y2="120.6" stroke="#888" stroke-width="0.7" />
<text transform="translate(572.56,126)" font-size="6.3" text-anchor="middle" fill="#111">125</text>
<line x1="586.12" y1="118.4" x2="586.12" y2="120.6" stroke="#888" stroke-width="0.7" />
<text transform="translate(586.12,126)" font-size="6.3" text-anchor="middle" fill="#111">150</text>
<line x1="599.68" y1="118.4" x2="599.68" y2="120.6" stroke="#888" stroke-width="0.7" />
<text transform="translate(599.68,126)" font-size="6.3" text-anchor="middle" fill="#111">175</text>
<line x1="613.24" y1="118.4" x2="613.24" y2="120.6" stroke="#888" stroke-width="0.7" />
<text transform="translate(613.24,126)" font-size="6.3" text-anchor="middle" fill="#111">200</text>
<line x1="626.8" y1="118.4" x2="626.8" y2="120.6" stroke="#888" stroke-width="0.7" />
<text transform="translate(626.8,126)" font-size="6.3" text-anchor="middle" fill="#111">225</text>
<line x1="640.36" y1="118.4" x2="640.36" y2="120.6" stroke="#888" stroke-width="0.7" />
<text transform="translate(640.36,126)" font-size="6.3" text-anchor="middle" fill="#111">250</text>
<line x1="653.92" y1="118.4" x2="653.92" y2="120.6" stroke="#888" stroke-width="0.7" />
<text transform="translate(653.92,126)" font-size="6.3" text-anchor="middle" fill="#111">275</text>
<line x1="667.48" y1="118.4" x2="667.48" y2="120.6" stroke="#888" stroke-width="0.7" />
<text transform="translate(667.48,126)" font-size="6.3" text-anchor="middle" fill="#111">300</text>
<text transform="translate(618.2,17.9)" font-size="10.5" text-anchor="middle" fill="#111">2009</text>
<text transform="translate(669.7,30.9)" font-size="9.2" text-anchor="end" fill="#111">Amplitude: 763</text>
<text transform="translate(667.5,43.7)" font-size="9.2" text-anchor="end" fill="#111">Slope: 20</text>
<rect x="423" y="231.9" width="65.67" height="4.2" fill="#5a94cc" stroke="none" stroke-width="1" />
<rect x="423" y="232.9" width="65.67" height="2.2" fill="#3877b9" stroke="none" stroke-width="1" />
<path d="M486.1 232.7h3.0l-1.5 2.6zM486.5 232.7h3.0l-1.5 2.6zM486.8 232.7h3.0l-1.5 2.6zM487.2 232.7h3.0l-1.5 2.6zM487.6 232.7h3.0l-1.5 2.6zM488.0 232.3h3.0l-1.5 2.6zM488.4 232.7h3.0l-1.5 2.6zM488.7 230.4h3.0l-1.5 2.6zM489.1 230.3h3.0l-1.5 2.6zM489.5 229.5h3.0l-1.5 2.6zM489.9 230.5h3.0l-1.5 2.6zM490.3 231.8h3.0l-1.5 2.6zM490.6 230.3h3.0l-1.5 2.6zM491.0 229.1h3.0l-1.5 2.6zM491.4 232.7h3.0l-1.5 2.6zM491.8 230.5h3.0l-1.5 2.6zM492.2 231.5h3.0l-1.5 2.6zM492.5 229.0h3.0l-1.5 2.6zM492.9 232.7h3.0l-1.5 2.6zM493.3 231.7h3.0l-1.5 2.6zM493.7 230.6h3.0l-1.5 2.6zM494.1 230.6h3.0l-1.5 2.6zM494.4 232.7h3.0l-1.5 2.6zM494.8 230.3h3.0l-1.5 2.6zM495.2 231.0h3.0l-1.5 2.6zM495.6 231.1h3.0l-1.5 2.6zM496.0 230.8h3.0l-1.5 2.6zM496.3 230.1h3.0l-1.5 2.6zM496.7 232.7h3.0l-1.5 2.6zM497.1 227.6h3.0l-1.5 2.6zM497.5 231.5h3.0l-1.5 2.6zM497.9 232.7h3.0l-1.5 2.6zM498.2 229.9h3.0l-1.5 2.6zM498.6 227.2h3.0l-1.5 2.6zM499.0 230.3h3.0l-1.5 2.6zM499.4 226.7h3.0l-1.5 2.6zM499.8 226.5h3.0l-1.5 2.6zM500.1 230.4h3.0l-1.5 2.6zM500.5 232.7h3.0l-1.5 2.6zM500.9 230.6h3.0l-1.5 2.6zM501.3 226.3h3.0l-1.5 2.6zM501.7 229.4h3.0l-1.5 2.6zM502.0 230.3h3.0l-1.5 2.6zM502.4 229.8h3.0l-1.5 2.6zM502.8 227.3h3.0l-1.5 2.6zM503.2 227.1h3.0l-1.5 2.6zM503.6 225.3h3.0l-1.5 2.6zM503.9 224.8h3.0l-1.5 2.6zM504.3 227.6h3.0l-1.5 2.6zM504.7 226.0h3.0l-1.5 2.6zM505.1 227.3h3.0l-1.5 2.6zM505.5 224.9h3.0l-1.5 2.6zM505.8 226.5h3.0l-1.5 2.6zM506.2 226.2h3.0l-1.5 2.6zM506.6 220.3h3.0l-1.5 2.6zM507.0 223.3h3.0l-1.5 2.6zM507.4 221.8h3.0l-1.5 2.6zM507.7 218.2h3.0l-1.5 2.6zM508.1 220.6h3.0l-1.5 2.6zM508.5 221.5h3.0l-1.5 2.6zM508.9 220.7h3.0l-1.5 2.6zM509.2 221.4h3.0l-1.5 2.6zM509.6 217.8h3.0l-1.5 2.6zM510.0 219.5h3.0l-1.5 2.6zM510.4 215.4h3.0l-1.5 2.6zM510.8 218.2h3.0l-1.5 2.6zM511.1 217.6h3.0l-1.5 2.6zM511.5 216.9h3.0l-1.5 2.6zM511.9 214.5h3.0l-1.5 2.6zM512.3 214.4h3.0l-1.5 2.6zM512.7 211.6h3.0l-1.5 2.6zM513.0 214.0h3.0l-1.5 2.6zM513.4 211.7h3.0l-1.5 2.6zM513.8 208.1h3.0l-1.5 2.6zM514.2 210.8h3.0l-1.5 2.6zM514.6 208.6h3.0l-1.5 2.6zM514.9 205.9h3.0l-1.5 2.6zM515.3 206.6h3.0l-1.5 2.6zM515.7 207.5h3.0l-1.5 2.6zM516.1 208.8h3.0l-1.5 2.6zM516.5 200.4h3.0l-1.5 2.6zM516.8 202.5h3.0l-1.5 2.6zM517.2 200.0h3.0l-1.5 2.6zM517.6 201.7h3.0l-1.5 2.6zM518.0 196.7h3.0l-1.5 2.6zM518.4 197.7h3.0l-1.5 2.6zM518.7 197.2h3.0l-1.5 2.6zM519.1 197.6h3.0l-1.5 2.6zM519.5 194.2h3.0l-1.5 2.6zM519.9 194.4h3.0l-1.5 2.6zM520.3 192.6h3.0l-1.5 2.6zM520.6 193.6h3.0l-1.5 2.6zM521.0 190.5h3.0l-1.5 2.6zM521.4 188.1h3.0l-1.5 2.6zM521.8 189.1h3.0l-1.5 2.6zM522.2 185.5h3.0l-1.5 2.6zM522.5 183.2h3.0l-1.5 2.6zM522.9 183.5h3.0l-1.5 2.6zM523.3 182.7h3.0l-1.5 2.6zM523.7 181.3h3.0l-1.5 2.6zM524.1 177.4h3.0l-1.5 2.6zM524.4 180.2h3.0l-1.5 2.6zM524.8 176.8h3.0l-1.5 2.6zM525.2 175.7h3.0l-1.5 2.6zM525.6 173.4h3.0l-1.5 2.6zM526.0 172.5h3.0l-1.5 2.6zM526.3 172.9h3.0l-1.5 2.6zM526.7 166.5h3.0l-1.5 2.6zM527.1 168.3h3.0l-1.5 2.6zM527.5 169.6h3.0l-1.5 2.6zM527.9 167.6h3.0l-1.5 2.6zM528.2 164.8h3.0l-1.5 2.6zM528.6 162.8h3.0l-1.5 2.6zM529.0 164.9h3.0l-1.5 2.6zM529.4 160.4h3.0l-1.5 2.6zM529.8 162.7h3.0l-1.5 2.6zM530.1 160.7h3.0l-1.5 2.6zM530.5 157.0h3.0l-1.5 2.6zM530.9 154.6h3.0l-1.5 2.6zM531.3 156.5h3.0l-1.5 2.6zM531.6 155.9h3.0l-1.5 2.6zM532.0 152.4h3.0l-1.5 2.6zM532.4 155.4h3.0l-1.5 2.6zM532.8 152.3h3.0l-1.5 2.6zM533.2 151.5h3.0l-1.5 2.6zM533.5 149.4h3.0l-1.5 2.6zM533.9 149.8h3.0l-1.5 2.6zM534.3 150.0h3.0l-1.5 2.6zM534.7 147.8h3.0l-1.5 2.6zM535.1 150.0h3.0l-1.5 2.6zM535.4 146.1h3.0l-1.5 2.6zM535.8 147.9h3.0l-1.5 2.6zM536.2 147.6h3.0l-1.5 2.6zM536.6 146.1h3.0l-1.5 2.6zM537.0 144.9h3.0l-1.5 2.6zM537.3 143.2h3.0l-1.5 2.6zM537.7 144.2h3.0l-1.5 2.6zM538.1 142.1h3.0l-1.5 2.6zM538.5 141.2h3.0l-1.5 2.6zM538.9 142.5h3.0l-1.5 2.6zM539.2 143.5h3.0l-1.5 2.6z" fill="#2f72b6" fill-opacity="0.9"/>
<path d="M422.5 234 L423.04 234 L423.58 234 L424.13 234 L424.67 234 L425.21 234 L425.75 234 L426.3 234 L426.84 234 L427.38 234 L427.92 234 L428.47 234 L429.01 234 L429.55 234 L430.09 234 L430.64 234 L431.18 234 L431.72 234 L432.26 234 L432.81 234 L433.35 234 L433.89 234 L434.43 234 L434.98 234 L435.52 234 L436.06 234 L436.6 234 L437.14 234 L437.69 234 L438.23 234 L438.77 234 L439.31 234 L439.86 234 L440.4 234 L440.94 234 L441.48 234 L442.03 234 L442.57 234 L443.11 234 L443.65 234 L444.2 234 L444.74 234 L445.28 234 L445.82 234 L446.37 234 L446.91 234 L447.45 234 L447.99 234 L448.54 234 L449.08 234 L449.62 234 L450.16 234 L450.7 234 L451.25 234 L451.79 234 L452.33 234 L452.87 234 L453.42 234 L453.96 234 L454.5 234 L455.04 233.99 L455.59 233.99 L456.13 233.99 L456.67 233.99 L457.21 233.99 L457.76 233.99 L458.3 233.99 L458.84 233.99 L459.38 233.99 L459.93 233.99 L460.47 233.99 L461.01 233.99 L461.55 233.99 L462.1 233.99 L462.64 233.98 L463.18 233.98 L463.72 233.98 L464.26 233.98 L464.81 233.98 L465.35 233.98 L465.89 233.98 L466.43 233.97 L466.98 233.97 L467.52 233.97 L468.06 233.97 L468.6 233.96 L469.15 233.96 L469.69 233.96 L470.23 233.95 L470.77 233.95 L471.32 233.95 L471.86 233.94 L472.4 233.94 L472.94 233.93 L473.49 233.93 L474.03 233.92 L474.57 233.92 L475.11 233.91 L475.66 233.9 L476.2 233.89 L476.74 233.89 L477.28 233.88 L477.82 233.87 L478.37 233.86 L478.91 233.84 L479.45 233.83 L479.99 233.82 L480.54 233.8 L481.08 233.79 L481.62 233.77 L482.16 233.75 L482.71 233.73 L483.25 233.71 L483.79 233.69 L484.33 233.66 L484.88 233.64 L485.42 233.61 L485.96 233.58 L486.5 233.54 L487.05 233.51 L487.59 233.47 L488.13 233.43 L488.67 233.38 L489.22 233.33 L489.76 233.28 L490.3 233.22 L490.84 233.16 L491.38 233.09 L491.93 233.02 L492.47 232.94 L493.01 232.86 L493.55 232.77 L494.1 232.67 L494.64 232.57 L495.18 232.46 L495.72 232.34 L496.27 232.2 L496.81 232.06 L497.35 231.91 L497.89 231.75 L498.44 231.57 L498.98 231.38 L499.52 231.18 L500.06 230.96 L500.61 230.73 L501.15 230.48 L501.69 230.2 L502.23 229.91 L502.78 229.6 L503.32 229.27 L503.86 228.91 L504.4 228.52 L504.94 228.11 L505.49 227.67 L506.03 227.2 L506.57 226.69 L507.11 226.15 L507.66 225.58 L508.2 224.97 L508.74 224.31 L509.28 223.62 L509.83 222.88 L510.37 222.1 L510.91 221.27 L511.45 220.39 L512 219.46 L512.54 218.48 L513.08 217.44 L513.62 216.36 L514.17 215.21 L514.71 214.01 L515.25 212.75 L515.79 211.44 L516.34 210.06 L516.88 208.64 L517.42 207.15 L517.96 205.62 L518.5 204.03 L519.05 202.39 L519.59 200.71 L520.13 198.98 L520.67 197.21 L521.22 195.41 L521.76 193.57 L522.3 191.71 L522.84 189.82 L523.39 187.92 L523.93 186.01 L524.47 184.09 L525.01 182.17 L525.56 180.26 L526.1 178.35 L526.64 176.47 L527.18 174.61 L527.73 172.77 L528.27 170.97 L528.81 169.2 L529.35 167.47 L529.9 165.78 L530.44 164.15 L530.98 162.56 L531.52 161.02 L532.06 159.54 L532.61 158.11 L533.15 156.74 L533.69 155.43 L534.23 154.17 L534.78 152.97 L535.32 151.82 L535.86 150.73 L536.4 149.7 L536.95 148.71 L537.49 147.78 L538.03 146.91 L538.57 146.08 L539.12 145.29 L539.66 144.55 L540.2 143.86 L540.74 143.21" fill="none" stroke="#f58426" stroke-width="1.2" stroke-linejoin="round" />
<line x1="526" y1="174.5" x2="526" y2="238.3" stroke="#000" stroke-width="1.6" stroke-dasharray="2.6,1.6"/>
<rect x="422.5" y="139.2" width="119.7" height="99.1" fill="none" stroke="#999" stroke-width="0.9" />
<line x1="420" y1="234" x2="422.5" y2="234" stroke="#888" stroke-width="0.7" />
<text transform="translate(419.9,236.3)" font-size="6.4" text-anchor="end" fill="#111">0</text>
<line x1="420" y1="215.65" x2="422.5" y2="215.65" stroke="#888" stroke-width="0.7" />
<text transform="translate(419.9,217.95)" font-size="6.4" text-anchor="end" fill="#111">50</text>
<line x1="420" y1="197.3" x2="422.5" y2="197.3" stroke="#888" stroke-width="0.7" />
<text transform="translate(419.9,199.6)" font-size="6.4" text-anchor="end" fill="#111">100</text>
<line x1="420" y1="178.95" x2="422.5" y2="178.95" stroke="#888" stroke-width="0.7" />
<text transform="translate(419.9,181.25)" font-size="6.4" text-anchor="end" fill="#111">150</text>
<line x1="420" y1="160.6" x2="422.5" y2="160.6" stroke="#888" stroke-width="0.7" />
<text transform="translate(419.9,162.9)" font-size="6.4" text-anchor="end" fill="#111">200</text>
<line x1="420" y1="142.25" x2="422.5" y2="142.25" stroke="#888" stroke-width="0.7" />
<text transform="translate(419.9,144.55)" font-size="6.4" text-anchor="end" fill="#111">250</text>
<line x1="422.5" y1="238.3" x2="422.5" y2="240.5" stroke="#888" stroke-width="0.7" />
<text transform="translate(422.5,245.9)" font-size="6.3" text-anchor="middle" fill="#111">100</text>
<line x1="436.06" y1="238.3" x2="436.06" y2="240.5" stroke="#888" stroke-width="0.7" />
<text transform="translate(436.06,245.9)" font-size="6.3" text-anchor="middle" fill="#111">125</text>
<line x1="449.62" y1="238.3" x2="449.62" y2="240.5" stroke="#888" stroke-width="0.7" />
<text transform="translate(449.62,245.9)" font-size="6.3" text-anchor="middle" fill="#111">150</text>
<line x1="463.18" y1="238.3" x2="463.18" y2="240.5" stroke="#888" stroke-width="0.7" />
<text transform="translate(463.18,245.9)" font-size="6.3" text-anchor="middle" fill="#111">175</text>
<line x1="476.74" y1="238.3" x2="476.74" y2="240.5" stroke="#888" stroke-width="0.7" />
<text transform="translate(476.74,245.9)" font-size="6.3" text-anchor="middle" fill="#111">200</text>
<line x1="490.3" y1="238.3" x2="490.3" y2="240.5" stroke="#888" stroke-width="0.7" />
<text transform="translate(490.3,245.9)" font-size="6.3" text-anchor="middle" fill="#111">225</text>
<line x1="503.86" y1="238.3" x2="503.86" y2="240.5" stroke="#888" stroke-width="0.7" />
<text transform="translate(503.86,245.9)" font-size="6.3" text-anchor="middle" fill="#111">250</text>
<line x1="517.42" y1="238.3" x2="517.42" y2="240.5" stroke="#888" stroke-width="0.7" />
<text transform="translate(517.42,245.9)" font-size="6.3" text-anchor="middle" fill="#111">275</text>
<line x1="530.98" y1="238.3" x2="530.98" y2="240.5" stroke="#888" stroke-width="0.7" />
<text transform="translate(530.98,245.9)" font-size="6.3" text-anchor="middle" fill="#111">300</text>
<text transform="translate(480.3,137.4)" font-size="10.5" text-anchor="middle" fill="#111">2011</text>
<text transform="translate(532.8,149)" font-size="9.2" text-anchor="end" fill="#111">Amplitude: 272</text>
<text transform="translate(521.8,170.3)" font-size="9.2" text-anchor="end" fill="#111">Slope: 24</text>
<rect x="559.6" y="231.9" width="-0.5" height="4.2" fill="#5a94cc" stroke="none" stroke-width="1" />
<rect x="559.6" y="232.9" width="-0.5" height="2.2" fill="#3877b9" stroke="none" stroke-width="1" />
<path d="M557.5 232.3h3.4l-1.7 3.0zM557.4 232.0h3.4l-1.7 3.0zM557.5 232.9h3.4l-1.7 3.0zM557.8 232.3h3.4l-1.7 3.0zM557.6 233.2h3.4l-1.7 3.0zM557.7 231.3h3.4l-1.7 3.0zM557.9 230.4h3.4l-1.7 3.0zM558.2 232.3h3.4l-1.7 3.0zM558.0 231.3h3.4l-1.7 3.0zM558.3 231.2h3.4l-1.7 3.0zM558.3 232.3h3.4l-1.7 3.0zM558.5 230.5h3.4l-1.7 3.0zM558.8 232.8h3.4l-1.7 3.0zM558.8 233.2h3.4l-1.7 3.0zM558.8 233.5h3.4l-1.7 3.0zM559.0 233.3h3.4l-1.7 3.0zM559.0 233.0h3.4l-1.7 3.0zM558.9 232.0h3.4l-1.7 3.0zM559.2 232.0h3.4l-1.7 3.0zM559.2 232.7h3.4l-1.7 3.0zM559.3 231.6h3.4l-1.7 3.0zM559.7 233.1h3.4l-1.7 3.0zM559.8 232.6h3.4l-1.7 3.0zM559.6 230.8h3.4l-1.7 3.0zM560.0 233.3h3.4l-1.7 3.0zM559.9 231.9h3.4l-1.7 3.0zM560.1 233.2h3.4l-1.7 3.0zM560.4 232.7h3.4l-1.7 3.0zM560.4 233.2h3.4l-1.7 3.0zM560.1 232.9h3.4l-1.7 3.0zM560.7 232.1h3.4l-1.7 3.0zM560.7 230.4h3.4l-1.7 3.0zM560.7 232.8h3.4l-1.7 3.0zM561.0 232.6h3.4l-1.7 3.0zM560.9 231.9h3.4l-1.7 3.0zM560.8 232.0h3.4l-1.7 3.0zM561.3 233.0h3.4l-1.7 3.0zM561.3 232.2h3.4l-1.7 3.0zM561.4 233.6h3.4l-1.7 3.0zM561.6 231.7h3.4l-1.7 3.0zM561.6 233.3h3.4l-1.7 3.0zM561.6 232.1h3.4l-1.7 3.0zM562.0 230.7h3.4l-1.7 3.0zM562.0 232.6h3.4l-1.7 3.0zM561.8 232.1h3.4l-1.7 3.0zM562.4 231.2h3.4l-1.7 3.0zM562.3 231.6h3.4l-1.7 3.0zM562.2 232.4h3.4l-1.7 3.0zM562.6 230.5h3.4l-1.7 3.0zM562.5 230.4h3.4l-1.7 3.0zM562.6 232.1h3.4l-1.7 3.0zM562.7 231.5h3.4l-1.7 3.0zM562.8 230.7h3.4l-1.7 3.0zM562.9 232.2h3.4l-1.7 3.0zM563.2 232.1h3.4l-1.7 3.0zM563.2 230.7h3.4l-1.7 3.0zM563.2 233.6h3.4l-1.7 3.0zM563.7 234.3h3.4l-1.7 3.0zM563.5 233.9h3.4l-1.7 3.0zM563.4 231.6h3.4l-1.7 3.0zM563.9 233.2h3.4l-1.7 3.0zM564.0 233.8h3.4l-1.7 3.0zM564.0 231.1h3.4l-1.7 3.0zM564.2 232.0h3.4l-1.7 3.0zM564.1 232.3h3.4l-1.7 3.0zM564.1 232.2h3.4l-1.7 3.0zM564.4 231.2h3.4l-1.7 3.0zM564.5 232.0h3.4l-1.7 3.0zM564.4 232.7h3.4l-1.7 3.0zM564.7 233.1h3.4l-1.7 3.0zM564.7 230.9h3.4l-1.7 3.0zM564.7 233.9h3.4l-1.7 3.0zM565.1 231.8h3.4l-1.7 3.0zM565.1 232.1h3.4l-1.7 3.0zM565.1 231.4h3.4l-1.7 3.0zM565.5 231.8h3.4l-1.7 3.0zM565.4 232.0h3.4l-1.7 3.0zM565.4 230.6h3.4l-1.7 3.0zM565.7 232.6h3.4l-1.7 3.0zM565.9 231.7h3.4l-1.7 3.0zM565.9 232.2h3.4l-1.7 3.0zM566.0 231.4h3.4l-1.7 3.0zM566.2 231.9h3.4l-1.7 3.0zM566.0 231.9h3.4l-1.7 3.0zM566.4 232.0h3.4l-1.7 3.0zM566.4 232.5h3.4l-1.7 3.0zM566.4 233.4h3.4l-1.7 3.0zM566.8 231.8h3.4l-1.7 3.0zM566.7 232.0h3.4l-1.7 3.0zM566.7 232.9h3.4l-1.7 3.0zM567.2 234.6h3.4l-1.7 3.0zM567.2 233.1h3.4l-1.7 3.0zM567.0 231.7h3.4l-1.7 3.0zM567.5 231.1h3.4l-1.7 3.0zM567.4 231.6h3.4l-1.7 3.0zM567.6 231.5h3.4l-1.7 3.0zM567.7 231.8h3.4l-1.7 3.0zM567.6 231.9h3.4l-1.7 3.0zM567.6 231.3h3.4l-1.7 3.0zM568.2 231.2h3.4l-1.7 3.0zM568.1 232.0h3.4l-1.7 3.0zM568.1 231.7h3.4l-1.7 3.0zM568.4 231.7h3.4l-1.7 3.0zM568.5 232.9h3.4l-1.7 3.0zM568.4 231.6h3.4l-1.7 3.0zM568.6 231.3h3.4l-1.7 3.0zM568.6 231.3h3.4l-1.7 3.0zM568.6 231.8h3.4l-1.7 3.0zM568.9 231.8h3.4l-1.7 3.0zM569.0 232.0h3.4l-1.7 3.0zM569.0 231.3h3.4l-1.7 3.0zM569.4 231.5h3.4l-1.7 3.0zM569.3 233.5h3.4l-1.7 3.0zM569.3 232.1h3.4l-1.7 3.0zM569.8 231.9h3.4l-1.7 3.0zM569.7 233.3h3.4l-1.7 3.0zM569.8 232.0h3.4l-1.7 3.0zM570.0 231.4h3.4l-1.7 3.0zM569.9 232.9h3.4l-1.7 3.0zM570.0 232.1h3.4l-1.7 3.0zM570.4 232.2h3.4l-1.7 3.0zM570.4 231.4h3.4l-1.7 3.0zM570.4 233.0h3.4l-1.7 3.0zM570.7 231.5h3.4l-1.7 3.0zM570.6 231.1h3.4l-1.7 3.0zM570.8 232.4h3.4l-1.7 3.0zM570.9 234.5h3.4l-1.7 3.0zM571.1 233.5h3.4l-1.7 3.0zM570.8 231.6h3.4l-1.7 3.0zM571.2 231.9h3.4l-1.7 3.0zM571.3 230.5h3.4l-1.7 3.0zM571.2 230.7h3.4l-1.7 3.0zM571.7 230.9h3.4l-1.7 3.0zM571.6 231.2h3.4l-1.7 3.0zM571.6 231.0h3.4l-1.7 3.0zM571.9 230.7h3.4l-1.7 3.0zM571.8 232.5h3.4l-1.7 3.0zM571.9 232.3h3.4l-1.7 3.0zM572.3 232.8h3.4l-1.7 3.0zM572.2 232.2h3.4l-1.7 3.0zM572.2 230.9h3.4l-1.7 3.0zM572.5 233.0h3.4l-1.7 3.0zM572.6 231.3h3.4l-1.7 3.0zM572.5 232.4h3.4l-1.7 3.0zM572.9 232.6h3.4l-1.7 3.0zM573.0 232.1h3.4l-1.7 3.0zM572.9 232.7h3.4l-1.7 3.0zM573.1 230.7h3.4l-1.7 3.0zM573.2 232.0h3.4l-1.7 3.0zM573.3 231.7h3.4l-1.7 3.0zM573.6 231.8h3.4l-1.7 3.0zM573.7 232.6h3.4l-1.7 3.0zM573.5 231.4h3.4l-1.7 3.0zM573.9 233.2h3.4l-1.7 3.0zM573.8 231.8h3.4l-1.7 3.0zM573.9 233.4h3.4l-1.7 3.0zM574.3 233.2h3.4l-1.7 3.0zM574.0 231.8h3.4l-1.7 3.0zM574.1 231.8h3.4l-1.7 3.0zM574.6 231.8h3.4l-1.7 3.0zM574.4 231.1h3.4l-1.7 3.0zM574.6 229.7h3.4l-1.7 3.0zM574.7 231.1h3.4l-1.7 3.0zM574.9 232.5h3.4l-1.7 3.0zM574.7 231.6h3.4l-1.7 3.0zM575.1 231.0h3.4l-1.7 3.0zM575.2 232.9h3.4l-1.7 3.0zM575.3 231.0h3.4l-1.7 3.0zM575.4 233.2h3.4l-1.7 3.0zM575.4 232.0h3.4l-1.7 3.0zM575.4 232.2h3.4l-1.7 3.0zM575.8 231.7h3.4l-1.7 3.0zM575.8 232.0h3.4l-1.7 3.0zM575.7 231.9h3.4l-1.7 3.0zM576.1 231.0h3.4l-1.7 3.0zM576.2 232.5h3.4l-1.7 3.0zM576.1 232.4h3.4l-1.7 3.0zM576.3 231.4h3.4l-1.7 3.0zM576.5 232.8h3.4l-1.7 3.0zM576.6 231.7h3.4l-1.7 3.0zM576.9 231.8h3.4l-1.7 3.0zM576.7 232.0h3.4l-1.7 3.0zM576.8 233.0h3.4l-1.7 3.0zM577.0 231.5h3.4l-1.7 3.0zM577.2 230.6h3.4l-1.7 3.0zM576.9 232.3h3.4l-1.7 3.0zM577.3 230.9h3.4l-1.7 3.0zM577.3 231.6h3.4l-1.7 3.0zM577.3 231.5h3.4l-1.7 3.0zM577.6 231.8h3.4l-1.7 3.0zM577.7 231.7h3.4l-1.7 3.0zM577.7 231.1h3.4l-1.7 3.0zM578.1 231.5h3.4l-1.7 3.0zM578.0 231.2h3.4l-1.7 3.0zM578.1 230.1h3.4l-1.7 3.0zM578.3 232.5h3.4l-1.7 3.0zM578.3 231.3h3.4l-1.7 3.0zM578.3 230.8h3.4l-1.7 3.0zM578.8 231.4h3.4l-1.7 3.0zM578.6 232.1h3.4l-1.7 3.0zM578.7 232.2h3.4l-1.7 3.0zM579.1 232.1h3.4l-1.7 3.0zM578.9 231.6h3.4l-1.7 3.0zM578.9 233.1h3.4l-1.7 3.0zM579.3 232.3h3.4l-1.7 3.0zM579.4 231.5h3.4l-1.7 3.0zM579.3 229.4h3.4l-1.7 3.0zM579.6 232.1h3.4l-1.7 3.0zM579.6 232.5h3.4l-1.7 3.0zM579.5 230.9h3.4l-1.7 3.0zM580.0 230.7h3.4l-1.7 3.0zM580.0 232.0h3.4l-1.7 3.0zM580.1 232.1h3.4l-1.7 3.0zM580.3 230.8h3.4l-1.7 3.0zM580.3 231.7h3.4l-1.7 3.0zM580.4 231.7h3.4l-1.7 3.0zM580.5 230.3h3.4l-1.7 3.0zM580.7 233.5h3.4l-1.7 3.0zM580.7 231.9h3.4l-1.7 3.0zM581.1 232.3h3.4l-1.7 3.0zM580.9 231.1h3.4l-1.7 3.0zM580.8 232.7h3.4l-1.7 3.0zM581.3 231.5h3.4l-1.7 3.0zM581.3 231.0h3.4l-1.7 3.0zM581.2 232.0h3.4l-1.7 3.0zM581.6 231.9h3.4l-1.7 3.0zM581.7 232.7h3.4l-1.7 3.0zM581.5 229.9h3.4l-1.7 3.0zM581.8 233.8h3.4l-1.7 3.0zM581.9 232.8h3.4l-1.7 3.0zM581.8 230.0h3.4l-1.7 3.0zM582.3 231.5h3.4l-1.7 3.0zM582.3 230.7h3.4l-1.7 3.0zM582.3 230.6h3.4l-1.7 3.0zM582.6 232.9h3.4l-1.7 3.0zM582.4 231.5h3.4l-1.7 3.0zM582.6 231.4h3.4l-1.7 3.0zM582.9 230.1h3.4l-1.7 3.0zM582.8 231.1h3.4l-1.7 3.0zM582.8 230.8h3.4l-1.7 3.0zM583.2 231.0h3.4l-1.7 3.0zM583.3 232.3h3.4l-1.7 3.0zM583.3 231.0h3.4l-1.7 3.0zM583.5 231.5h3.4l-1.7 3.0zM583.4 232.1h3.4l-1.7 3.0zM583.6 231.7h3.4l-1.7 3.0zM583.9 232.5h3.4l-1.7 3.0zM583.8 231.4h3.4l-1.7 3.0zM583.8 232.3h3.4l-1.7 3.0zM584.1 230.7h3.4l-1.7 3.0zM584.1 231.5h3.4l-1.7 3.0zM584.1 229.3h3.4l-1.7 3.0zM584.3 229.8h3.4l-1.7 3.0zM584.5 232.8h3.4l-1.7 3.0zM584.4 232.5h3.4l-1.7 3.0zM584.9 232.7h3.4l-1.7 3.0zM584.9 229.8h3.4l-1.7 3.0zM584.9 231.1h3.4l-1.7 3.0zM585.2 232.8h3.4l-1.7 3.0zM585.1 231.8h3.4l-1.7 3.0zM585.1 232.0h3.4l-1.7 3.0zM585.3 230.4h3.4l-1.7 3.0zM585.5 231.2h3.4l-1.7 3.0zM585.4 232.4h3.4l-1.7 3.0zM585.7 230.5h3.4l-1.7 3.0zM585.9 231.0h3.4l-1.7 3.0zM585.9 231.4h3.4l-1.7 3.0zM586.0 232.4h3.4l-1.7 3.0zM586.2 230.9h3.4l-1.7 3.0zM586.0 229.6h3.4l-1.7 3.0zM586.5 230.0h3.4l-1.7 3.0zM586.5 231.2h3.4l-1.7 3.0zM586.6 231.0h3.4l-1.7 3.0zM586.8 232.9h3.4l-1.7 3.0zM586.7 233.1h3.4l-1.7 3.0zM586.8 231.1h3.4l-1.7 3.0zM587.2 232.4h3.4l-1.7 3.0zM587.0 230.8h3.4l-1.7 3.0zM586.9 230.7h3.4l-1.7 3.0zM587.3 230.3h3.4l-1.7 3.0zM587.5 230.9h3.4l-1.7 3.0zM587.5 231.4h3.4l-1.7 3.0zM587.8 231.4h3.4l-1.7 3.0zM587.7 231.8h3.4l-1.7 3.0zM587.7 230.0h3.4l-1.7 3.0zM588.0 231.5h3.4l-1.7 3.0zM588.0 230.5h3.4l-1.7 3.0zM588.1 231.9h3.4l-1.7 3.0zM588.5 231.6h3.4l-1.7 3.0zM588.3 230.2h3.4l-1.7 3.0zM588.5 231.2h3.4l-1.7 3.0zM588.8 231.1h3.4l-1.7 3.0zM588.5 230.5h3.4l-1.7 3.0zM588.7 232.0h3.4l-1.7 3.0zM588.9 231.4h3.4l-1.7 3.0zM588.9 231.6h3.4l-1.7 3.0zM589.1 231.8h3.4l-1.7 3.0zM589.5 231.4h3.4l-1.7 3.0zM589.2 232.3h3.4l-1.7 3.0zM589.3 230.8h3.4l-1.7 3.0zM589.7 232.0h3.4l-1.7 3.0zM589.6 232.1h3.4l-1.7 3.0zM589.5 231.9h3.4l-1.7 3.0zM590.0 231.9h3.4l-1.7 3.0zM589.9 231.3h3.4l-1.7 3.0zM589.9 231.6h3.4l-1.7 3.0zM590.4 231.1h3.4l-1.7 3.0zM590.4 229.0h3.4l-1.7 3.0zM590.3 230.8h3.4l-1.7 3.0zM590.7 231.1h3.4l-1.7 3.0zM590.8 232.5h3.4l-1.7 3.0zM590.6 231.1h3.4l-1.7 3.0zM590.9 231.7h3.4l-1.7 3.0zM590.9 232.1h3.4l-1.7 3.0zM590.9 231.4h3.4l-1.7 3.0zM591.3 231.7h3.4l-1.7 3.0zM591.4 230.9h3.4l-1.7 3.0zM591.2 231.9h3.4l-1.7 3.0zM591.4 231.8h3.4l-1.7 3.0zM591.5 229.7h3.4l-1.7 3.0zM591.4 229.8h3.4l-1.7 3.0zM591.8 231.6h3.4l-1.7 3.0zM592.0 229.9h3.4l-1.7 3.0zM591.8 230.3h3.4l-1.7 3.0zM592.2 230.9h3.4l-1.7 3.0zM592.2 230.8h3.4l-1.7 3.0zM592.1 230.0h3.4l-1.7 3.0zM592.7 228.7h3.4l-1.7 3.0zM592.5 230.7h3.4l-1.7 3.0zM592.4 230.6h3.4l-1.7 3.0zM592.9 230.7h3.4l-1.7 3.0zM592.9 231.2h3.4l-1.7 3.0zM593.0 230.3h3.4l-1.7 3.0zM593.3 230.5h3.4l-1.7 3.0zM593.0 231.2h3.4l-1.7 3.0zM593.2 229.8h3.4l-1.7 3.0zM593.4 228.8h3.4l-1.7 3.0zM593.4 230.5h3.4l-1.7 3.0zM593.5 229.6h3.4l-1.7 3.0zM593.9 230.5h3.4l-1.7 3.0zM593.7 230.5h3.4l-1.7 3.0zM593.8 228.9h3.4l-1.7 3.0zM594.1 230.7h3.4l-1.7 3.0zM594.1 229.6h3.4l-1.7 3.0zM594.1 230.7h3.4l-1.7 3.0zM594.5 230.6h3.4l-1.7 3.0zM594.4 230.4h3.4l-1.7 3.0zM594.5 231.1h3.4l-1.7 3.0zM594.8 229.0h3.4l-1.7 3.0zM594.9 229.2h3.4l-1.7 3.0zM594.8 229.6h3.4l-1.7 3.0zM595.2 230.8h3.4l-1.7 3.0zM595.2 230.2h3.4l-1.7 3.0zM595.1 228.9h3.4l-1.7 3.0zM595.5 227.3h3.4l-1.7 3.0zM595.5 228.3h3.4l-1.7 3.0zM595.4 229.5h3.4l-1.7 3.0zM595.9 228.9h3.4l-1.7 3.0zM595.8 229.5h3.4l-1.7 3.0zM595.7 228.0h3.4l-1.7 3.0zM596.1 229.1h3.4l-1.7 3.0zM596.2 229.2h3.4l-1.7 3.0zM596.1 230.3h3.4l-1.7 3.0zM596.5 228.5h3.4l-1.7 3.0zM596.4 227.6h3.4l-1.7 3.0zM596.5 229.0h3.4l-1.7 3.0zM596.7 229.0h3.4l-1.7 3.0zM596.6 228.7h3.4l-1.7 3.0zM596.7 229.3h3.4l-1.7 3.0zM596.9 229.8h3.4l-1.7 3.0zM597.0 229.8h3.4l-1.7 3.0zM597.0 228.7h3.4l-1.7 3.0zM597.4 229.3h3.4l-1.7 3.0zM597.3 229.2h3.4l-1.7 3.0zM597.5 229.2h3.4l-1.7 3.0zM597.8 228.5h3.4l-1.7 3.0zM597.6 228.9h3.4l-1.7 3.0zM597.6 229.0h3.4l-1.7 3.0zM598.1 229.0h3.4l-1.7 3.0zM598.1 229.5h3.4l-1.7 3.0zM598.2 229.1h3.4l-1.7 3.0zM598.3 227.5h3.4l-1.7 3.0zM598.5 227.7h3.4l-1.7 3.0zM598.3 228.0h3.4l-1.7 3.0zM598.7 228.2h3.4l-1.7 3.0zM598.7 227.4h3.4l-1.7 3.0zM598.7 228.2h3.4l-1.7 3.0zM599.1 228.9h3.4l-1.7 3.0zM598.9 227.6h3.4l-1.7 3.0zM599.1 228.1h3.4l-1.7 3.0zM599.3 228.0h3.4l-1.7 3.0zM599.2 228.0h3.4l-1.7 3.0zM599.2 228.2h3.4l-1.7 3.0zM599.8 227.8h3.4l-1.7 3.0zM599.6 228.7h3.4l-1.7 3.0zM599.5 229.0h3.4l-1.7 3.0zM599.9 226.9h3.4l-1.7 3.0zM599.9 227.1h3.4l-1.7 3.0zM600.1 227.7h3.4l-1.7 3.0zM600.4 229.2h3.4l-1.7 3.0zM600.3 228.6h3.4l-1.7 3.0zM600.2 228.5h3.4l-1.7 3.0zM600.6 227.1h3.4l-1.7 3.0zM600.7 228.4h3.4l-1.7 3.0zM600.7 227.9h3.4l-1.7 3.0zM601.0 228.0h3.4l-1.7 3.0zM600.8 227.5h3.4l-1.7 3.0zM600.8 227.9h3.4l-1.7 3.0zM601.4 227.2h3.4l-1.7 3.0zM601.3 226.2h3.4l-1.7 3.0zM601.1 228.3h3.4l-1.7 3.0zM601.5 226.9h3.4l-1.7 3.0zM601.7 227.4h3.4l-1.7 3.0zM601.6 227.8h3.4l-1.7 3.0zM601.8 226.6h3.4l-1.7 3.0zM601.9 225.9h3.4l-1.7 3.0zM602.0 226.9h3.4l-1.7 3.0zM602.3 226.5h3.4l-1.7 3.0zM602.3 227.4h3.4l-1.7 3.0zM602.4 227.2h3.4l-1.7 3.0zM602.6 226.0h3.4l-1.7 3.0zM602.6 227.4h3.4l-1.7 3.0zM602.7 226.8h3.4l-1.7 3.0zM602.9 226.4h3.4l-1.7 3.0zM603.0 226.3h3.4l-1.7 3.0zM603.0 225.5h3.4l-1.7 3.0zM603.1 225.6h3.4l-1.7 3.0zM603.3 227.4h3.4l-1.7 3.0zM603.0 226.8h3.4l-1.7 3.0zM603.5 223.8h3.4l-1.7 3.0zM603.5 226.5h3.4l-1.7 3.0zM603.5 225.2h3.4l-1.7 3.0zM603.8 226.3h3.4l-1.7 3.0zM604.0 225.3h3.4l-1.7 3.0zM603.7 227.4h3.4l-1.7 3.0zM604.2 224.0h3.4l-1.7 3.0zM604.1 226.1h3.4l-1.7 3.0zM604.1 226.2h3.4l-1.7 3.0zM604.6 223.9h3.4l-1.7 3.0zM604.5 224.3h3.4l-1.7 3.0zM604.5 225.1h3.4l-1.7 3.0zM604.7 225.8h3.4l-1.7 3.0zM604.7 224.3h3.4l-1.7 3.0zM604.9 224.9h3.4l-1.7 3.0zM605.3 224.9h3.4l-1.7 3.0zM605.0 224.6h3.4l-1.7 3.0zM605.1 225.8h3.4l-1.7 3.0zM605.5 225.6h3.4l-1.7 3.0zM605.4 225.8h3.4l-1.7 3.0zM605.5 224.9h3.4l-1.7 3.0zM605.9 224.8h3.4l-1.7 3.0zM605.7 224.6h3.4l-1.7 3.0zM605.9 225.2h3.4l-1.7 3.0zM606.2 224.7h3.4l-1.7 3.0zM606.2 225.2h3.4l-1.7 3.0zM606.1 223.8h3.4l-1.7 3.0zM606.3 225.1h3.4l-1.7 3.0zM606.4 224.1h3.4l-1.7 3.0zM606.3 224.7h3.4l-1.7 3.0zM606.7 223.4h3.4l-1.7 3.0zM606.8 223.6h3.4l-1.7 3.0zM606.7 224.5h3.4l-1.7 3.0zM607.1 222.4h3.4l-1.7 3.0zM607.1 222.0h3.4l-1.7 3.0zM607.0 225.4h3.4l-1.7 3.0zM607.4 223.1h3.4l-1.7 3.0zM607.4 224.3h3.4l-1.7 3.0zM607.3 223.0h3.4l-1.7 3.0zM607.7 223.1h3.4l-1.7 3.0zM607.6 225.6h3.4l-1.7 3.0zM607.6 221.5h3.4l-1.7 3.0zM608.0 221.8h3.4l-1.7 3.0zM607.9 222.7h3.4l-1.7 3.0zM608.0 222.6h3.4l-1.7 3.0zM608.2 222.5h3.4l-1.7 3.0zM608.4 221.8h3.4l-1.7 3.0zM608.5 222.1h3.4l-1.7 3.0zM608.8 220.7h3.4l-1.7 3.0zM608.8 219.0h3.4l-1.7 3.0zM608.8 221.4h3.4l-1.7 3.0zM609.0 221.6h3.4l-1.7 3.0zM609.1 221.3h3.4l-1.7 3.0zM609.0 221.2h3.4l-1.7 3.0zM609.5 220.5h3.4l-1.7 3.0zM609.3 220.1h3.4l-1.7 3.0zM609.4 218.6h3.4l-1.7 3.0zM609.6 221.9h3.4l-1.7 3.0zM609.6 219.9h3.4l-1.7 3.0zM609.7 219.2h3.4l-1.7 3.0zM610.0 219.0h3.4l-1.7 3.0zM609.9 219.1h3.4l-1.7 3.0zM610.0 218.1h3.4l-1.7 3.0zM610.2 217.3h3.4l-1.7 3.0zM610.4 219.1h3.4l-1.7 3.0zM610.2 219.1h3.4l-1.7 3.0zM610.8 217.6h3.4l-1.7 3.0zM610.6 217.8h3.4l-1.7 3.0zM610.6 219.3h3.4l-1.7 3.0zM610.9 215.6h3.4l-1.7 3.0zM611.0 217.9h3.4l-1.7 3.0zM611.0 218.9h3.4l-1.7 3.0zM611.1 218.5h3.4l-1.7 3.0zM611.3 217.0h3.4l-1.7 3.0zM611.2 218.7h3.4l-1.7 3.0zM611.5 216.3h3.4l-1.7 3.0zM611.7 215.4h3.4l-1.7 3.0zM611.5 215.5h3.4l-1.7 3.0zM611.8 216.1h3.4l-1.7 3.0zM611.9 214.4h3.4l-1.7 3.0zM612.0 216.4h3.4l-1.7 3.0zM612.1 214.6h3.4l-1.7 3.0zM612.3 217.9h3.4l-1.7 3.0zM612.1 214.2h3.4l-1.7 3.0zM612.5 215.5h3.4l-1.7 3.0zM612.7 216.2h3.4l-1.7 3.0zM612.6 216.4h3.4l-1.7 3.0zM612.8 213.9h3.4l-1.7 3.0zM613.0 215.1h3.4l-1.7 3.0zM612.7 213.3h3.4l-1.7 3.0zM613.3 213.1h3.4l-1.7 3.0zM613.2 213.5h3.4l-1.7 3.0zM613.1 214.6h3.4l-1.7 3.0zM613.4 214.0h3.4l-1.7 3.0zM613.6 212.5h3.4l-1.7 3.0zM613.5 214.4h3.4l-1.7 3.0zM613.7 212.0h3.4l-1.7 3.0zM613.7 212.4h3.4l-1.7 3.0zM613.7 213.4h3.4l-1.7 3.0zM614.2 212.7h3.4l-1.7 3.0zM614.2 212.1h3.4l-1.7 3.0zM614.2 210.8h3.4l-1.7 3.0zM614.3 210.7h3.4l-1.7 3.0zM614.6 211.7h3.4l-1.7 3.0zM614.6 210.8h3.4l-1.7 3.0zM614.7 211.9h3.4l-1.7 3.0zM614.7 210.2h3.4l-1.7 3.0zM614.9 211.2h3.4l-1.7 3.0zM615.1 210.3h3.4l-1.7 3.0zM615.2 210.8h3.4l-1.7 3.0zM615.1 208.9h3.4l-1.7 3.0zM615.5 209.6h3.4l-1.7 3.0zM615.5 209.9h3.4l-1.7 3.0zM615.3 208.0h3.4l-1.7 3.0zM615.7 208.8h3.4l-1.7 3.0zM615.6 209.7h3.4l-1.7 3.0zM615.7 208.5h3.4l-1.7 3.0zM616.1 208.3h3.4l-1.7 3.0zM616.2 208.6h3.4l-1.7 3.0zM616.2 208.5h3.4l-1.7 3.0zM616.6 205.9h3.4l-1.7 3.0zM616.4 205.6h3.4l-1.7 3.0zM616.3 206.5h3.4l-1.7 3.0zM616.8 205.5h3.4l-1.7 3.0zM616.8 206.3h3.4l-1.7 3.0zM616.6 205.9h3.4l-1.7 3.0zM617.2 204.6h3.4l-1.7 3.0zM617.0 205.4h3.4l-1.7 3.0zM617.0 203.7h3.4l-1.7 3.0zM617.5 203.1h3.4l-1.7 3.0zM617.4 203.4h3.4l-1.7 3.0zM617.3 202.4h3.4l-1.7 3.0zM617.6 202.6h3.4l-1.7 3.0zM617.6 202.8h3.4l-1.7 3.0zM617.8 201.6h3.4l-1.7 3.0zM618.0 201.6h3.4l-1.7 3.0zM618.2 201.1h3.4l-1.7 3.0zM618.2 200.0h3.4l-1.7 3.0zM618.2 201.0h3.4l-1.7 3.0zM618.4 202.4h3.4l-1.7 3.0zM618.4 199.9h3.4l-1.7 3.0zM618.8 198.4h3.4l-1.7 3.0zM618.8 199.8h3.4l-1.7 3.0zM618.6 198.6h3.4l-1.7 3.0zM618.9 200.6h3.4l-1.7 3.0zM619.1 200.4h3.4l-1.7 3.0zM619.1 199.5h3.4l-1.7 3.0zM619.5 199.1h3.4l-1.7 3.0zM619.4 200.2h3.4l-1.7 3.0zM619.3 198.2h3.4l-1.7 3.0zM619.5 200.2h3.4l-1.7 3.0zM619.7 198.1h3.4l-1.7 3.0zM619.7 197.4h3.4l-1.7 3.0zM620.0 198.8h3.4l-1.7 3.0zM620.0 198.0h3.4l-1.7 3.0zM619.8 199.3h3.4l-1.7 3.0zM620.4 197.0h3.4l-1.7 3.0zM620.3 198.5h3.4l-1.7 3.0zM620.4 197.2h3.4l-1.7 3.0zM620.7 198.0h3.4l-1.7 3.0zM620.5 198.2h3.4l-1.7 3.0zM620.5 197.4h3.4l-1.7 3.0zM620.9 197.3h3.4l-1.7 3.0zM621.1 195.6h3.4l-1.7 3.0zM621.0 196.9h3.4l-1.7 3.0zM621.3 197.0h3.4l-1.7 3.0zM621.4 197.6h3.4l-1.7 3.0zM621.4 196.7h3.4l-1.7 3.0zM621.5 197.4h3.4l-1.7 3.0zM621.6 196.3h3.4l-1.7 3.0zM621.7 196.2h3.4l-1.7 3.0zM621.9 196.7h3.4l-1.7 3.0zM621.9 197.8h3.4l-1.7 3.0zM621.9 196.5h3.4l-1.7 3.0zM622.3 194.6h3.4l-1.7 3.0zM622.3 195.9h3.4l-1.7 3.0zM622.1 196.2h3.4l-1.7 3.0zM622.5 195.5h3.4l-1.7 3.0zM622.7 194.9h3.4l-1.7 3.0zM622.5 195.3h3.4l-1.7 3.0zM622.9 195.4h3.4l-1.7 3.0zM622.9 195.3h3.4l-1.7 3.0zM622.8 194.4h3.4l-1.7 3.0zM623.1 194.9h3.4l-1.7 3.0zM623.0 196.9h3.4l-1.7 3.0zM623.1 194.6h3.4l-1.7 3.0zM623.5 194.8h3.4l-1.7 3.0zM623.4 193.5h3.4l-1.7 3.0zM623.5 193.9h3.4l-1.7 3.0zM623.8 194.5h3.4l-1.7 3.0zM623.8 194.5h3.4l-1.7 3.0zM623.9 193.7h3.4l-1.7 3.0zM624.1 191.9h3.4l-1.7 3.0zM624.0 192.3h3.4l-1.7 3.0zM624.1 193.8h3.4l-1.7 3.0zM624.6 191.8h3.4l-1.7 3.0zM624.5 192.8h3.4l-1.7 3.0zM624.6 194.2h3.4l-1.7 3.0zM624.9 190.7h3.4l-1.7 3.0zM624.7 193.3h3.4l-1.7 3.0zM624.7 193.1h3.4l-1.7 3.0zM625.1 192.6h3.4l-1.7 3.0zM625.1 193.5h3.4l-1.7 3.0zM625.1 192.6h3.4l-1.7 3.0zM625.5 191.7h3.4l-1.7 3.0zM625.5 190.6h3.4l-1.7 3.0zM625.5 190.8h3.4l-1.7 3.0zM625.7 190.7h3.4l-1.7 3.0zM625.8 189.6h3.4l-1.7 3.0zM625.9 190.6h3.4l-1.7 3.0zM626.2 190.3h3.4l-1.7 3.0zM626.2 191.2h3.4l-1.7 3.0zM626.2 191.7h3.4l-1.7 3.0zM626.5 190.7h3.4l-1.7 3.0zM626.5 190.8h3.4l-1.7 3.0zM626.4 190.6h3.4l-1.7 3.0zM626.6 190.1h3.4l-1.7 3.0zM626.7 190.3h3.4l-1.7 3.0zM626.9 190.5h3.4l-1.7 3.0zM627.1 190.7h3.4l-1.7 3.0zM627.2 189.9h3.4l-1.7 3.0zM627.0 189.5h3.4l-1.7 3.0zM627.5 188.4h3.4l-1.7 3.0zM627.3 189.0h3.4l-1.7 3.0zM627.4 188.4h3.4l-1.7 3.0zM627.5 188.7h3.4l-1.7 3.0zM627.7 188.5h3.4l-1.7 3.0zM627.8 188.1h3.4l-1.7 3.0zM627.9 188.3h3.4l-1.7 3.0zM628.1 187.0h3.4l-1.7 3.0zM628.1 188.9h3.4l-1.7 3.0zM628.3 187.0h3.4l-1.7 3.0zM628.3 187.6h3.4l-1.7 3.0zM628.3 187.2h3.4l-1.7 3.0zM628.6 188.3h3.4l-1.7 3.0zM628.6 187.4h3.4l-1.7 3.0zM628.6 186.2h3.4l-1.7 3.0zM629.0 185.1h3.4l-1.7 3.0zM628.9 186.9h3.4l-1.7 3.0zM629.1 185.3h3.4l-1.7 3.0zM629.4 186.5h3.4l-1.7 3.0zM629.2 185.9h3.4l-1.7 3.0zM629.4 185.3h3.4l-1.7 3.0zM629.8 185.5h3.4l-1.7 3.0zM629.7 185.6h3.4l-1.7 3.0zM629.6 186.1h3.4l-1.7 3.0zM630.0 185.4h3.4l-1.7 3.0zM629.9 183.4h3.4l-1.7 3.0zM630.0 184.7h3.4l-1.7 3.0zM630.4 185.5h3.4l-1.7 3.0zM630.4 184.1h3.4l-1.7 3.0zM630.3 185.4h3.4l-1.7 3.0zM630.6 184.6h3.4l-1.7 3.0zM630.5 182.4h3.4l-1.7 3.0zM630.7 186.1h3.4l-1.7 3.0zM630.9 183.9h3.4l-1.7 3.0zM630.9 183.2h3.4l-1.7 3.0zM630.8 185.0h3.4l-1.7 3.0zM631.2 183.9h3.4l-1.7 3.0zM631.2 182.9h3.4l-1.7 3.0zM631.4 183.6h3.4l-1.7 3.0zM631.5 182.4h3.4l-1.7 3.0zM631.7 182.1h3.4l-1.7 3.0zM631.6 183.8h3.4l-1.7 3.0zM631.9 182.6h3.4l-1.7 3.0zM632.0 181.0h3.4l-1.7 3.0zM631.9 182.3h3.4l-1.7 3.0zM632.2 180.9h3.4l-1.7 3.0zM632.2 181.4h3.4l-1.7 3.0zM632.1 181.5h3.4l-1.7 3.0zM632.7 182.3h3.4l-1.7 3.0zM632.4 180.8h3.4l-1.7 3.0zM632.4 181.5h3.4l-1.7 3.0zM632.7 181.1h3.4l-1.7 3.0zM632.8 182.6h3.4l-1.7 3.0zM632.8 181.4h3.4l-1.7 3.0zM633.2 181.2h3.4l-1.7 3.0zM633.3 182.9h3.4l-1.7 3.0zM633.2 180.3h3.4l-1.7 3.0zM633.5 179.9h3.4l-1.7 3.0zM633.5 180.7h3.4l-1.7 3.0zM633.5 180.4h3.4l-1.7 3.0zM633.8 179.0h3.4l-1.7 3.0zM633.9 181.0h3.4l-1.7 3.0zM633.7 181.3h3.4l-1.7 3.0zM634.2 180.0h3.4l-1.7 3.0zM634.1 180.0h3.4l-1.7 3.0zM634.1 180.6h3.4l-1.7 3.0zM634.4 181.1h3.4l-1.7 3.0zM634.6 180.1h3.4l-1.7 3.0zM634.5 180.3h3.4l-1.7 3.0zM634.9 180.0h3.4l-1.7 3.0zM634.7 178.1h3.4l-1.7 3.0zM634.8 179.4h3.4l-1.7 3.0zM635.1 177.8h3.4l-1.7 3.0zM635.0 180.4h3.4l-1.7 3.0zM635.3 180.1h3.4l-1.7 3.0zM635.6 179.7h3.4l-1.7 3.0zM635.6 179.0h3.4l-1.7 3.0zM635.4 177.4h3.4l-1.7 3.0zM635.9 177.2h3.4l-1.7 3.0zM635.8 178.9h3.4l-1.7 3.0zM635.8 179.3h3.4l-1.7 3.0zM636.0 177.6h3.4l-1.7 3.0zM636.2 177.9h3.4l-1.7 3.0zM636.2 178.3h3.4l-1.7 3.0zM636.3 178.3h3.4l-1.7 3.0zM636.6 177.3h3.4l-1.7 3.0zM636.4 178.8h3.4l-1.7 3.0zM636.8 178.1h3.4l-1.7 3.0zM636.6 179.7h3.4l-1.7 3.0zM636.6 178.6h3.4l-1.7 3.0zM637.0 176.7h3.4l-1.7 3.0zM637.0 178.8h3.4l-1.7 3.0zM637.0 176.8h3.4l-1.7 3.0zM637.4 177.7h3.4l-1.7 3.0zM637.4 177.0h3.4l-1.7 3.0zM637.4 177.4h3.4l-1.7 3.0zM637.7 178.6h3.4l-1.7 3.0zM637.8 177.3h3.4l-1.7 3.0zM637.7 176.9h3.4l-1.7 3.0zM638.1 175.7h3.4l-1.7 3.0zM638.2 176.5h3.4l-1.7 3.0zM638.0 175.6h3.4l-1.7 3.0zM638.2 176.7h3.4l-1.7 3.0zM638.3 179.5h3.4l-1.7 3.0zM638.3 176.1h3.4l-1.7 3.0zM638.7 177.8h3.4l-1.7 3.0zM638.6 176.9h3.4l-1.7 3.0zM638.5 175.7h3.4l-1.7 3.0zM639.1 176.4h3.4l-1.7 3.0zM639.1 177.0h3.4l-1.7 3.0zM639.0 177.1h3.4l-1.7 3.0zM639.4 176.1h3.4l-1.7 3.0zM639.4 176.4h3.4l-1.7 3.0zM639.3 177.4h3.4l-1.7 3.0zM639.5 176.6h3.4l-1.7 3.0zM639.6 176.1h3.4l-1.7 3.0zM639.7 175.8h3.4l-1.7 3.0zM639.9 176.0h3.4l-1.7 3.0zM639.9 177.3h3.4l-1.7 3.0zM639.8 174.9h3.4l-1.7 3.0zM640.2 175.9h3.4l-1.7 3.0zM640.3 175.7h3.4l-1.7 3.0zM640.4 174.9h3.4l-1.7 3.0zM640.7 173.9h3.4l-1.7 3.0zM640.6 175.1h3.4l-1.7 3.0zM640.6 174.4h3.4l-1.7 3.0zM640.9 176.0h3.4l-1.7 3.0zM640.8 173.9h3.4l-1.7 3.0zM641.0 173.5h3.4l-1.7 3.0zM641.3 174.0h3.4l-1.7 3.0zM641.1 172.7h3.4l-1.7 3.0zM641.3 173.0h3.4l-1.7 3.0zM641.7 174.7h3.4l-1.7 3.0zM641.7 174.1h3.4l-1.7 3.0zM641.6 173.3h3.4l-1.7 3.0zM641.9 173.3h3.4l-1.7 3.0zM642.0 173.6h3.4l-1.7 3.0zM641.8 174.4h3.4l-1.7 3.0zM642.1 172.9h3.4l-1.7 3.0zM642.4 173.9h3.4l-1.7 3.0zM642.2 173.2h3.4l-1.7 3.0zM642.6 173.0h3.4l-1.7 3.0zM642.5 173.0h3.4l-1.7 3.0zM642.5 172.4h3.4l-1.7 3.0zM642.9 172.8h3.4l-1.7 3.0zM642.7 173.2h3.4l-1.7 3.0zM642.9 173.4h3.4l-1.7 3.0zM643.2 172.2h3.4l-1.7 3.0zM643.1 171.8h3.4l-1.7 3.0zM643.3 172.9h3.4l-1.7 3.0zM643.6 172.1h3.4l-1.7 3.0zM643.4 172.1h3.4l-1.7 3.0zM643.5 173.2h3.4l-1.7 3.0zM643.9 171.7h3.4l-1.7 3.0zM644.0 170.2h3.4l-1.7 3.0zM643.8 172.9h3.4l-1.7 3.0zM644.0 170.6h3.4l-1.7 3.0zM644.3 171.2h3.4l-1.7 3.0zM644.3 172.5h3.4l-1.7 3.0zM644.5 171.5h3.4l-1.7 3.0zM644.5 171.1h3.4l-1.7 3.0zM644.5 170.9h3.4l-1.7 3.0zM644.9 169.8h3.4l-1.7 3.0zM644.8 169.7h3.4l-1.7 3.0zM644.7 170.6h3.4l-1.7 3.0zM645.2 169.7h3.4l-1.7 3.0zM645.1 170.8h3.4l-1.7 3.0zM645.2 171.4h3.4l-1.7 3.0zM645.4 170.8h3.4l-1.7 3.0zM645.3 170.0h3.4l-1.7 3.0zM645.3 169.3h3.4l-1.7 3.0zM645.8 168.4h3.4l-1.7 3.0zM645.8 169.0h3.4l-1.7 3.0zM645.8 169.5h3.4l-1.7 3.0zM646.0 170.6h3.4l-1.7 3.0zM646.0 169.0h3.4l-1.7 3.0zM646.1 169.0h3.4l-1.7 3.0zM646.4 169.2h3.4l-1.7 3.0zM646.5 168.5h3.4l-1.7 3.0zM646.3 168.6h3.4l-1.7 3.0zM646.6 169.8h3.4l-1.7 3.0zM646.8 168.9h3.4l-1.7 3.0zM646.8 170.1h3.4l-1.7 3.0zM647.0 169.6h3.4l-1.7 3.0zM647.0 168.8h3.4l-1.7 3.0zM647.0 167.7h3.4l-1.7 3.0zM647.3 168.0h3.4l-1.7 3.0zM647.5 166.1h3.4l-1.7 3.0zM647.3 166.2h3.4l-1.7 3.0zM647.8 167.9h3.4l-1.7 3.0zM647.7 166.4h3.4l-1.7 3.0zM647.6 166.0h3.4l-1.7 3.0zM648.0 166.7h3.4l-1.7 3.0zM647.9 166.0h3.4l-1.7 3.0zM647.9 165.2h3.4l-1.7 3.0zM648.4 164.3h3.4l-1.7 3.0zM648.3 166.7h3.4l-1.7 3.0zM648.4 165.3h3.4l-1.7 3.0zM648.8 164.6h3.4l-1.7 3.0zM648.5 166.1h3.4l-1.7 3.0zM648.7 166.2h3.4l-1.7 3.0zM649.1 164.6h3.4l-1.7 3.0zM649.0 165.1h3.4l-1.7 3.0zM648.9 164.5h3.4l-1.7 3.0zM649.2 162.8h3.4l-1.7 3.0zM649.2 163.3h3.4l-1.7 3.0zM649.2 165.1h3.4l-1.7 3.0zM649.5 162.9h3.4l-1.7 3.0zM649.7 163.2h3.4l-1.7 3.0zM649.7 164.3h3.4l-1.7 3.0zM649.9 161.8h3.4l-1.7 3.0zM650.0 162.5h3.4l-1.7 3.0zM649.8 162.2h3.4l-1.7 3.0zM650.3 162.0h3.4l-1.7 3.0zM650.3 164.8h3.4l-1.7 3.0zM650.3 161.1h3.4l-1.7 3.0zM650.7 161.8h3.4l-1.7 3.0zM650.6 163.1h3.4l-1.7 3.0zM650.6 163.4h3.4l-1.7 3.0zM650.8 160.6h3.4l-1.7 3.0zM651.1 160.5h3.4l-1.7 3.0zM650.8 161.4h3.4l-1.7 3.0zM651.4 159.6h3.4l-1.7 3.0zM651.2 160.9h3.4l-1.7 3.0zM651.1 161.3h3.4l-1.7 3.0zM651.6 159.0h3.4l-1.7 3.0zM651.7 161.3h3.4l-1.7 3.0zM651.7 159.9h3.4l-1.7 3.0zM652.0 159.8h3.4l-1.7 3.0zM651.8 159.0h3.4l-1.7 3.0zM651.9 157.7h3.4l-1.7 3.0zM652.1 158.0h3.4l-1.7 3.0zM652.1 157.8h3.4l-1.7 3.0zM652.3 160.0h3.4l-1.7 3.0zM652.6 158.4h3.4l-1.7 3.0zM652.7 157.7h3.4l-1.7 3.0zM652.5 157.9h3.4l-1.7 3.0zM652.7 157.2h3.4l-1.7 3.0zM652.8 158.3h3.4l-1.7 3.0zM653.0 155.9h3.4l-1.7 3.0zM653.2 156.3h3.4l-1.7 3.0zM653.3 156.6h3.4l-1.7 3.0zM653.1 156.7h3.4l-1.7 3.0zM653.6 156.8h3.4l-1.7 3.0zM653.6 156.5h3.4l-1.7 3.0zM653.6 155.6h3.4l-1.7 3.0zM653.7 155.5h3.4l-1.7 3.0zM653.8 156.7h3.4l-1.7 3.0zM653.9 156.7h3.4l-1.7 3.0zM654.1 155.6h3.4l-1.7 3.0zM654.1 155.1h3.4l-1.7 3.0zM654.2 155.6h3.4l-1.7 3.0zM654.6 153.4h3.4l-1.7 3.0zM654.6 155.6h3.4l-1.7 3.0zM654.6 154.7h3.4l-1.7 3.0zM654.9 155.4h3.4l-1.7 3.0zM654.8 152.8h3.4l-1.7 3.0zM654.8 154.8h3.4l-1.7 3.0zM655.0 154.7h3.4l-1.7 3.0zM655.1 155.4h3.4l-1.7 3.0zM655.0 153.3h3.4l-1.7 3.0zM655.6 153.0h3.4l-1.7 3.0zM655.5 152.7h3.4l-1.7 3.0zM655.6 153.6h3.4l-1.7 3.0zM655.7 153.7h3.4l-1.7 3.0zM655.6 150.7h3.4l-1.7 3.0zM655.8 150.6h3.4l-1.7 3.0zM656.0 151.8h3.4l-1.7 3.0zM655.9 153.5h3.4l-1.7 3.0zM656.0 151.1h3.4l-1.7 3.0zM656.5 151.7h3.4l-1.7 3.0zM656.5 153.4h3.4l-1.7 3.0zM656.3 151.8h3.4l-1.7 3.0zM656.6 151.8h3.4l-1.7 3.0zM656.8 153.0h3.4l-1.7 3.0zM656.7 151.0h3.4l-1.7 3.0zM657.1 149.1h3.4l-1.7 3.0zM656.9 150.5h3.4l-1.7 3.0zM657.0 150.0h3.4l-1.7 3.0zM657.3 150.0h3.4l-1.7 3.0zM657.3 148.9h3.4l-1.7 3.0zM657.3 150.2h3.4l-1.7 3.0zM657.6 149.9h3.4l-1.7 3.0zM657.6 148.6h3.4l-1.7 3.0zM657.6 148.8h3.4l-1.7 3.0zM658.1 149.0h3.4l-1.7 3.0zM657.9 148.7h3.4l-1.7 3.0zM657.9 150.0h3.4l-1.7 3.0zM658.3 149.0h3.4l-1.7 3.0zM658.2 148.8h3.4l-1.7 3.0zM658.4 148.9h3.4l-1.7 3.0zM658.8 147.8h3.4l-1.7 3.0zM658.8 147.1h3.4l-1.7 3.0zM658.5 147.2h3.4l-1.7 3.0zM659.0 148.7h3.4l-1.7 3.0zM659.0 147.9h3.4l-1.7 3.0zM658.9 147.3h3.4l-1.7 3.0zM659.4 146.9h3.4l-1.7 3.0zM659.2 147.8h3.4l-1.7 3.0zM659.3 146.9h3.4l-1.7 3.0zM659.8 146.6h3.4l-1.7 3.0zM659.6 145.9h3.4l-1.7 3.0zM659.7 146.5h3.4l-1.7 3.0zM659.8 145.6h3.4l-1.7 3.0zM660.0 147.4h3.4l-1.7 3.0zM660.0 146.3h3.4l-1.7 3.0zM660.3 148.2h3.4l-1.7 3.0zM660.3 147.6h3.4l-1.7 3.0zM660.1 146.0h3.4l-1.7 3.0zM660.7 146.8h3.4l-1.7 3.0zM660.5 144.4h3.4l-1.7 3.0zM660.6 146.4h3.4l-1.7 3.0zM660.8 146.5h3.4l-1.7 3.0zM660.8 145.3h3.4l-1.7 3.0zM660.8 145.2h3.4l-1.7 3.0zM661.4 145.5h3.4l-1.7 3.0zM661.3 147.0h3.4l-1.7 3.0zM661.2 145.5h3.4l-1.7 3.0zM661.5 144.5h3.4l-1.7 3.0zM661.7 144.2h3.4l-1.7 3.0zM661.5 145.3h3.4l-1.7 3.0zM661.9 146.4h3.4l-1.7 3.0zM661.9 144.8h3.4l-1.7 3.0zM661.8 144.0h3.4l-1.7 3.0zM662.3 144.7h3.4l-1.7 3.0zM662.3 144.9h3.4l-1.7 3.0zM662.4 144.9h3.4l-1.7 3.0zM662.4 142.3h3.4l-1.7 3.0zM662.5 144.7h3.4l-1.7 3.0zM662.7 144.7h3.4l-1.7 3.0zM662.8 143.7h3.4l-1.7 3.0zM662.8 144.8h3.4l-1.7 3.0zM662.8 142.9h3.4l-1.7 3.0zM663.1 143.2h3.4l-1.7 3.0zM663.2 143.1h3.4l-1.7 3.0zM663.1 142.3h3.4l-1.7 3.0zM663.5 142.3h3.4l-1.7 3.0zM663.4 142.9h3.4l-1.7 3.0zM663.4 143.1h3.4l-1.7 3.0zM664.0 144.9h3.4l-1.7 3.0zM663.8 143.1h3.4l-1.7 3.0zM663.8 143.2h3.4l-1.7 3.0zM664.2 143.5h3.4l-1.7 3.0zM664.2 143.3h3.4l-1.7 3.0zM664.3 143.4h3.4l-1.7 3.0zM664.5 142.4h3.4l-1.7 3.0zM664.4 142.0h3.4l-1.7 3.0zM664.6 144.8h3.4l-1.7 3.0zM664.9 143.9h3.4l-1.7 3.0zM664.9 142.9h3.4l-1.7 3.0zM664.9 142.8h3.4l-1.7 3.0zM665.1 141.6h3.4l-1.7 3.0zM665.2 142.5h3.4l-1.7 3.0zM665.3 142.0h3.4l-1.7 3.0zM665.4 144.5h3.4l-1.7 3.0zM665.3 143.8h3.4l-1.7 3.0zM665.6 143.2h3.4l-1.7 3.0zM665.7 142.1h3.4l-1.7 3.0zM665.9 142.8h3.4l-1.7 3.0zM665.8 143.0h3.4l-1.7 3.0zM666.1 143.1h3.4l-1.7 3.0zM666.2 143.5h3.4l-1.7 3.0zM666.0 143.4h3.4l-1.7 3.0zM666.4 143.1h3.4l-1.7 3.0zM666.3 142.1h3.4l-1.7 3.0zM666.5 143.5h3.4l-1.7 3.0zM666.7 143.8h3.4l-1.7 3.0zM666.6 143.2h3.4l-1.7 3.0zM666.7 143.0h3.4l-1.7 3.0zM667.1 143.9h3.4l-1.7 3.0zM666.9 142.7h3.4l-1.7 3.0zM667.1 143.8h3.4l-1.7 3.0zM667.3 144.0h3.4l-1.7 3.0zM667.4 143.5h3.4l-1.7 3.0zM667.5 143.7h3.4l-1.7 3.0zM667.7 142.2h3.4l-1.7 3.0zM667.8 141.6h3.4l-1.7 3.0zM667.5 143.2h3.4l-1.7 3.0zM668.0 142.6h3.4l-1.7 3.0zM668.0 142.2h3.4l-1.7 3.0zM668.0 142.9h3.4l-1.7 3.0zM668.2 144.1h3.4l-1.7 3.0zM668.5 143.3h3.4l-1.7 3.0zM668.3 143.9h3.4l-1.7 3.0zM668.8 143.7h3.4l-1.7 3.0zM668.5 143.4h3.4l-1.7 3.0zM668.5 142.9h3.4l-1.7 3.0zM669.1 142.1h3.4l-1.7 3.0zM668.9 143.7h3.4l-1.7 3.0zM669.0 143.9h3.4l-1.7 3.0zM669.3 144.3h3.4l-1.7 3.0zM669.3 143.4h3.4l-1.7 3.0zM669.3 141.3h3.4l-1.7 3.0zM669.6 143.1h3.4l-1.7 3.0zM669.5 142.1h3.4l-1.7 3.0zM669.6 143.5h3.4l-1.7 3.0zM670.0 143.4h3.4l-1.7 3.0zM669.8 142.3h3.4l-1.7 3.0zM670.0 141.7h3.4l-1.7 3.0zM670.4 143.6h3.4l-1.7 3.0zM670.3 142.7h3.4l-1.7 3.0zM670.2 142.9h3.4l-1.7 3.0zM670.5 142.4h3.4l-1.7 3.0zM670.7 143.5h3.4l-1.7 3.0zM670.6 142.3h3.4l-1.7 3.0zM670.9 143.4h3.4l-1.7 3.0zM670.9 143.4h3.4l-1.7 3.0zM670.8 141.3h3.4l-1.7 3.0zM671.3 142.8h3.4l-1.7 3.0zM671.2 143.1h3.4l-1.7 3.0zM671.2 143.9h3.4l-1.7 3.0zM671.6 143.3h3.4l-1.7 3.0zM671.4 142.6h3.4l-1.7 3.0zM671.6 142.6h3.4l-1.7 3.0zM671.9 143.4h3.4l-1.7 3.0zM671.8 142.1h3.4l-1.7 3.0zM671.8 143.9h3.4l-1.7 3.0zM672.2 141.9h3.4l-1.7 3.0zM672.1 141.6h3.4l-1.7 3.0zM672.3 142.9h3.4l-1.7 3.0zM672.6 143.7h3.4l-1.7 3.0zM672.5 142.6h3.4l-1.7 3.0zM672.5 141.6h3.4l-1.7 3.0zM672.9 142.8h3.4l-1.7 3.0zM672.7 143.3h3.4l-1.7 3.0zM673.0 141.9h3.4l-1.7 3.0zM673.3 142.4h3.4l-1.7 3.0zM673.1 142.5h3.4l-1.7 3.0zM673.0 141.3h3.4l-1.7 3.0zM673.6 142.3h3.4l-1.7 3.0zM673.6 143.5h3.4l-1.7 3.0zM673.4 141.5h3.4l-1.7 3.0zM673.8 142.6h3.4l-1.7 3.0zM673.7 142.8h3.4l-1.7 3.0zM673.7 142.3h3.4l-1.7 3.0zM674.2 143.4h3.4l-1.7 3.0zM674.0 141.9h3.4l-1.7 3.0zM674.2 142.8h3.4l-1.7 3.0zM674.4 143.2h3.4l-1.7 3.0zM674.4 142.3h3.4l-1.7 3.0zM674.6 144.6h3.4l-1.7 3.0z" fill="#2f72b6" fill-opacity="0.9"/>
<path d="M559.1 233.55 L559.64 233.53 L560.18 233.51 L560.71 233.49 L561.25 233.47 L561.79 233.45 L562.33 233.43 L562.86 233.41 L563.4 233.39 L563.94 233.37 L564.48 233.34 L565.01 233.32 L565.55 233.29 L566.09 233.27 L566.62 233.24 L567.16 233.21 L567.7 233.18 L568.24 233.15 L568.77 233.12 L569.31 233.09 L569.85 233.05 L570.39 233.02 L570.93 232.98 L571.46 232.94 L572 232.9 L572.54 232.86 L573.08 232.82 L573.61 232.78 L574.15 232.73 L574.69 232.68 L575.23 232.63 L575.76 232.58 L576.3 232.53 L576.84 232.48 L577.38 232.42 L577.91 232.36 L578.45 232.3 L578.99 232.24 L579.52 232.17 L580.06 232.1 L580.6 232.03 L581.14 231.96 L581.68 231.89 L582.21 231.81 L582.75 231.73 L583.29 231.64 L583.83 231.56 L584.36 231.47 L584.9 231.37 L585.44 231.28 L585.98 231.18 L586.51 231.08 L587.05 230.97 L587.59 230.86 L588.12 230.74 L588.66 230.62 L589.2 230.5 L589.74 230.38 L590.27 230.24 L590.81 230.11 L591.35 229.97 L591.89 229.82 L592.43 229.67 L592.96 229.52 L593.5 229.35 L594.04 229.19 L594.58 229.02 L595.11 228.84 L595.65 228.66 L596.19 228.47 L596.73 228.27 L597.26 228.07 L597.8 227.86 L598.34 227.64 L598.88 227.42 L599.41 227.19 L599.95 226.95 L600.49 226.7 L601.02 226.45 L601.56 226.19 L602.1 225.92 L602.64 225.64 L603.18 225.36 L603.71 225.06 L604.25 224.76 L604.79 224.44 L605.33 224.12 L605.86 223.79 L606.4 223.44 L606.94 223.09 L607.48 222.73 L608.01 222.36 L608.55 221.97 L609.09 221.58 L609.62 221.17 L610.16 220.76 L610.7 220.33 L611.24 219.89 L611.77 219.44 L612.31 218.98 L612.85 218.5 L613.39 218.02 L613.93 217.52 L614.46 217.01 L615 216.49 L615.54 215.95 L616.08 215.41 L616.61 214.85 L617.15 214.28 L617.69 213.69 L618.23 213.09 L618.76 212.49 L619.3 211.86 L619.84 211.23 L620.38 210.58 L620.91 209.92 L621.45 209.25 L621.99 208.57 L622.52 207.88 L623.06 207.17 L623.6 206.45 L624.14 205.72 L624.68 204.99 L625.21 204.24 L625.75 203.47 L626.29 202.7 L626.83 201.92 L627.36 201.13 L627.9 200.34 L628.44 199.53 L628.98 198.71 L629.51 197.89 L630.05 197.06 L630.59 196.22 L631.12 195.38 L631.66 194.53 L632.2 193.68 L632.74 192.82 L633.27 191.96 L633.81 191.09 L634.35 190.22 L634.89 189.35 L635.43 188.47 L635.96 187.6 L636.5 186.72 L637.04 185.85 L637.58 184.97 L638.11 184.1 L638.65 183.23 L639.19 182.36 L639.73 181.49 L640.26 180.63 L640.8 179.77 L641.34 178.92 L641.88 178.07 L642.41 177.22 L642.95 176.39 L643.49 175.56 L644.02 174.73 L644.56 173.92 L645.1 173.11 L645.64 172.31 L646.18 171.52 L646.71 170.74 L647.25 169.97 L647.79 169.21 L648.33 168.46 L648.86 167.72 L649.4 166.99 L649.94 166.28 L650.48 165.57 L651.01 164.88 L651.55 164.19 L652.09 163.52 L652.62 162.87 L653.16 162.22 L653.7 161.58 L654.24 160.96 L654.77 160.35 L655.31 159.76 L655.85 159.17 L656.39 158.6 L656.93 158.04 L657.46 157.49 L658 156.96 L658.54 156.44 L659.08 155.93 L659.61 155.43 L660.15 154.94 L660.69 154.47 L661.23 154.01 L661.76 153.56 L662.3 153.12 L662.84 152.69 L663.38 152.27 L663.91 151.87 L664.45 151.48 L664.99 151.09 L665.52 150.72 L666.06 150.36 L666.6 150 L667.14 149.66 L667.67 149.33 L668.21 149.01 L668.75 148.69 L669.29 148.39 L669.83 148.09 L670.36 147.81 L670.9 147.53 L671.44 147.26 L671.98 147 L672.51 146.74 L673.05 146.5 L673.59 146.26 L674.12 146.03 L674.66 145.81 L675.2 145.59 L675.74 145.38 L676.27 145.18" fill="none" stroke="#f58426" stroke-width="1.2" stroke-linejoin="round" />
<line x1="636.6" y1="183" x2="636.6" y2="238.3" stroke="#000" stroke-width="1.6" stroke-dasharray="2.6,1.6"/>
<rect x="559.1" y="139.7" width="118.3" height="98.6" fill="none" stroke="#999" stroke-width="0.9" />
<line x1="556.6" y1="234" x2="559.1" y2="234" stroke="#888" stroke-width="0.7" />
<text transform="translate(556.5,236.3)" font-size="6.4" text-anchor="end" fill="#111">0</text>
<line x1="556.6" y1="212.8" x2="559.1" y2="212.8" stroke="#888" stroke-width="0.7" />
<text transform="translate(556.5,215.1)" font-size="6.4" text-anchor="end" fill="#111">100</text>
<line x1="556.6" y1="191.6" x2="559.1" y2="191.6" stroke="#888" stroke-width="0.7" />
<text transform="translate(556.5,193.9)" font-size="6.4" text-anchor="end" fill="#111">200</text>
<line x1="556.6" y1="170.4" x2="559.1" y2="170.4" stroke="#888" stroke-width="0.7" />
<text transform="translate(556.5,172.7)" font-size="6.4" text-anchor="end" fill="#111">300</text>
<line x1="556.6" y1="149.2" x2="559.1" y2="149.2" stroke="#888" stroke-width="0.7" />
<text transform="translate(556.5,151.5)" font-size="6.4" text-anchor="end" fill="#111">400</text>
<line x1="559.1" y1="238.3" x2="559.1" y2="240.5" stroke="#888" stroke-width="0.7" />
<text transform="translate(559.1,245.9)" font-size="6.3" text-anchor="middle" fill="#111">100</text>
<line x1="572.54" y1="238.3" x2="572.54" y2="240.5" stroke="#888" stroke-width="0.7" />
<text transform="translate(572.54,245.9)" font-size="6.3" text-anchor="middle" fill="#111">125</text>
<line x1="585.98" y1="238.3" x2="585.98" y2="240.5" stroke="#888" stroke-width="0.7" />
<text transform="translate(585.98,245.9)" font-size="6.3" text-anchor="middle" fill="#111">150</text>
<line x1="599.41" y1="238.3" x2="599.41" y2="240.5" stroke="#888" stroke-width="0.7" />
<text transform="translate(599.41,245.9)" font-size="6.3" text-anchor="middle" fill="#111">175</text>
<line x1="612.85" y1="238.3" x2="612.85" y2="240.5" stroke="#888" stroke-width="0.7" />
<text transform="translate(612.85,245.9)" font-size="6.3" text-anchor="middle" fill="#111">200</text>
<line x1="626.29" y1="238.3" x2="626.29" y2="240.5" stroke="#888" stroke-width="0.7" />
<text transform="translate(626.29,245.9)" font-size="6.3" text-anchor="middle" fill="#111">225</text>
<line x1="639.73" y1="238.3" x2="639.73" y2="240.5" stroke="#888" stroke-width="0.7" />
<text transform="translate(639.73,245.9)" font-size="6.3" text-anchor="middle" fill="#111">250</text>
<line x1="653.16" y1="238.3" x2="653.16" y2="240.5" stroke="#888" stroke-width="0.7" />
<text transform="translate(653.16,245.9)" font-size="6.3" text-anchor="middle" fill="#111">275</text>
<line x1="666.6" y1="238.3" x2="666.6" y2="240.5" stroke="#888" stroke-width="0.7" />
<text transform="translate(666.6,245.9)" font-size="6.3" text-anchor="middle" fill="#111">300</text>
<text transform="translate(617.8,137.4)" font-size="10.5" text-anchor="middle" fill="#111">2017</text>
<text transform="translate(653.9,149)" font-size="9.2" text-anchor="end" fill="#111">Amplitude: 446</text>
<text transform="translate(637.5,176.8)" font-size="9.2" text-anchor="end" fill="#111">Slope: 13</text>
<text transform="translate(544,259.2)" font-size="9.4" text-anchor="middle" fill="#111">Time steps</text>
<text transform="translate(404.6,133.9) rotate(-90)" font-size="9.1" text-anchor="middle" fill="#111">Number of Orders</text>
<path transform="scale(0.25)" d="M499 1290h0m-57-12h0m-15 32h0m136 7h0m-27 14h0m-37 8h0m-73-8h0m-53-8h0m-43 21h0m-126-10h0m236 30h0m2 25h0m-121-19h0m-23 16h0m-92 18h0m35 3h0m56-11h0m91 2h0m45 0h0m15 3h0m32 6h0m58 1h0m17-13h0m-21 43h0m-75-19h0m-33-1h0m-41 11h0m-54-10h0m-24 8h0m-31 12h0m-68-7h0m-23-8h0m-7 5h0m-11-10h0m-10 45h0m0-14h0m16 0h0m14-1h0m27-8h0m46 14h0m20-13h0m15 0h0m2 17h0m4-5h0m83 8h0m43-19h0m7 16h0m62-17h0m71 24h0m-27 3h0m-7-4h0m-128 3h0m-26 8h0m-44-9h0m-130 20h0m-7-3h0m-21-14h0m-13 5h0m-5 35h0m2-15h0m16 9h0m27-4h0m6-11h0m21 22h0m28-1h0m5-21h0m30 23h0m69-4h0m20-12h0m29 12h0m7-17h0m116 12h0m26 12h0m-49 14h0m-1-14h0m-40 6h0m-9 14h0m-85-11h0m-34-3h0m-22-8h0m-2 6h0m-75 1h0m-45 0h0m-15 11h0m-11-9h0m-17-7h0m0 0h0m-1 15h0m17 26h0m3-3h0m48-4h0m9 11h0m9-3h0m112-8h0m56-13h0m116 6h0m28 8h0m15-5h0m-2 16h0m-7 17h0m0-15h0m-26 11h0m-14-10h0m-79 13h0m-48-5h0m-4-1h0m-3 1h0m-91 3h0m-57 0h0m-12-4h0m-48 2h0m128 13h0m39 17h0m22 3h0m3-3h0m78 0h0m67 3h0m53-14h0m2 11h0m-84 12h0m-46 1h0m-152 36h0m61-7h0m208 13h0m-294 1h0m178 34h0m122 124h0m-12 1h0m-9-3h0m-18 5h0m-8 3h0m-35-7h0m-41-1h0m-62 4h0m-10-3h0m0-4h0m-17 10h0m-4-8h0m-31 4h0m-9-5h0m-1 2h0m-7 4h0m-39-6h0m-6 10h0m-39-6h0m-27-2h0m-5 3h0m-1-6h0m-20 4h0" stroke="#304884" stroke-width="6.4" stroke-linecap="square"/>
<path transform="scale(0.25)" d="M336 1332h0m-55 9h0m-27 2h0m252 48h0m-191-5h0m-14 3h0m229 10h0m-188 29h0m-178-10h0m5 42h0m11-2h0m252-5h0m99 15h0m-46-2h0m-2 3h0m-240-2h0m123 43h0m156-15h0m45 13h0m-317 9h0m-58 1h0m-8-4h0m-19 1h0m205 35h0m117-8h0m6 33h0m-91 0h0m-75-1h0m-4 5h0m-164-7h0m-1 22h0m115 3h0m288-4h0m-162 43h0m44 17h0m-235 6h0" stroke="#3c0c54" stroke-width="6.4" stroke-linecap="square"/>
<path transform="scale(0.25)" d="M547 1295h0m-82-15h0m-66 14h0m-135 20h0m18-1h0m32-6h0m29-9h0m31 3h0m32-2h0m3 21h0m86-11h0m6 1h0m11 10h0m31 22h0m-43-8h0m-28 3h0m-5-7h0m-51 3h0m-3-10h0m-4 6h0m-10 14h0m-24-4h0m-18-4h0m-135 23h0m21-11h0m59 5h0m15 14h0m9-1h0m44-11h0m7-7h0m1 11h0m5 9h0m3-15h0m1-5h0m17 21h0m40-20h0m13 2h0m12-6h0m53 12h0m2-11h0m32 7h0m10 18h0m-12 8h0m-32 0h0m-26 11h0m-23-16h0m-33 6h0m-12-5h0m-81 1h0m-18-7h0m-24 12h0m-4-7h0m-8-2h0m-31 7h0m-17 6h0m-25-10h0m-36 39h0m56-6h0m7-2h0m22-11h0m1 6h0m55 2h0m0 3h0m35 11h0m2-7h0m149 2h0m52 1h0m-34 15h0m-39-3h0m-24 5h0m-37-10h0m-42 20h0m-18-6h0m-22 0h0m-52-14h0m-11 11h0m-32-5h0m-42 6h0m19 14h0m4 3h0m24 10h0m33 5h0m4-18h0m54 4h0m1-4h0m114 1h0m104-4h0m-138 30h0m-46 7h0m-168 6h0m-56 20h0m150-9h0m33-6h0m75 3h0m85-4h0m-124 36h0m48 34h0" stroke="#24a878" stroke-width="6.4" stroke-linecap="square"/>
<path transform="scale(0.25)" d="M473 1260h0m-230 77h0" stroke="#c0d824" stroke-width="6.4" stroke-linecap="square"/>
<path transform="scale(0.25)" d="M452 1232h0m71 53h0m-52 5h0m-4 4h0m-173 13h0m4 6h0m22-11h0m77 15h0m74 11h0m-8 14h0m-197 2h0m-53-14h0m-11 5h0m243 29h0m83-10h0m26 35h0m-116-12h0m-104 9h0m-86 27h0m142-20h0m-16 54h0m-163 25h0m227 46h0" stroke="#6ccc54" stroke-width="6.4" stroke-linecap="square"/>
<path transform="scale(0.25)" d="M351 1329h0m117 30h0m18-7h0m4 14h0m44 25h0m-83-5h0m-42-13h0m-186 10h0m175 42h0m-14 4h0m-73 2h0m-69 5h0m-56 6h0m12 9h0m97-4h0m160 4h0m91 26h0m-80-8h0m-99 0h0m-58 9h0m-92-13h0m-21 12h0m-17-9h0m-18 21h0m5 6h0m7 9h0m14 3h0m102-5h0m0 10h0m50-9h0m26-1h0m21-13h0m28 4h0m74 14h0m60 2h0m-21 20h0m-225-10h0m-33 15h0m-54-10h0m233 16h0m14 9h0m96 5h0m-255 20h0m-125-2h0" stroke="#246084" stroke-width="6.4" stroke-linecap="square"/>
<path transform="scale(0.25)" d="M422 1299h0m-90 35h0m-14 22h0m170 11h0m9-18h0m23 8h0m10 3h0m-11 25h0m-35 4h0m-87-7h0m-204 8h0m117 8h0m47-3h0m38 8h0m65 8h0m106 17h0m-15 1h0m-19-5h0m-16 0h0m-93-6h0m-85 2h0m-53 1h0m-17 11h0m-40-5h0m-11 17h0m133 0h0m12-1h0m64-1h0m24 0h0m3 22h0m110-12h0m1-4h0m-157 32h0m-136-8h0m-8 2h0m-63 4h0m-45-4h0m152 17h0m72 13h0m61-7h0m60-3h0m-207 111h0" stroke="#248484" stroke-width="6.4" stroke-linecap="square"/>
<path transform="scale(0.25)" d="M487 1276h0m-44 15h0m-1 2h0m-166 18h0m19 7h0m2-9h0m22 5h0m155-15h0m35 14h0m89 28h0m-88-11h0m-222 8h0m51 13h0m4 10h0m96-4h0m55 9h0m72 22h0m-10-6h0m-41-9h0m-66 19h0m-65-24h0m-159 22h0m-32 20h0m8-12h0m67 9h0m58 7h0m7-4h0m108-9h0m44 10h0m2-13h0m66 13h0m15 28h0m-1-9h0m-1-6h0m-29 7h0m-68 4h0m-68-18h0m-19 23h0m-8-18h0m-53 14h0m-63-4h0m-90 13h0m32 18h0m6-3h0m73-15h0m21 17h0m80-8h0m1-7h0m24-4h0m65 3h0m87 9h0m5 3h0m5-4h0m-48 23h0m-40 1h0m-4 3h0m-6-14h0m-158 14h0m-10-4h0m-101-6h0m-12 11h0m-16 8h0m14 16h0m91-11h0m1 17h0m83-9h0m0-13h0m14 19h0m30-8h0m4-5h0m54 8h0m105-5h0m-58 14h0m-24 20h0m-4-4h0m-3-5h0m-6-8h0m-20 8h0m-39 3h0m-2-4h0m-33 12h0m-59-12h0m-4 0h0m-58-3h0m-24 2h0m-50 3h0m6 30h0m92 1h0m22-11h0m72-6h0m46 3h0m51-3h0m59 23h0m-58 7h0m-24-2h0m-40 8h0m-3-7h0m-33 12h0m-50-15h0m-43 9h0m-19 9h0m-19-16h0m0-4h0m-61-1h0m102 44h0m87-3h0m113 5h0m25-6h0m59 6h0m-24 2h0m-161 2h0m-89 3h0m-68-3h0m-29-2h0m-13 13h0m334 27h0m1 105h0m-200 16h0m249 45h0m-26 2h0m-1-2h0m-2-1h0m-23 1h0m-50 3h0m-1-2h0m-19-3h0m-43-6h0m-2 16h0m-8-8h0m-34-2h0m-16 6h0m-43 1h0m-1-13h0m-45 11h0m-21 0h0m-3-8h0m-5 4h0m-50 0h0m-13 6h0m-1-3h0m338 8h0" stroke="#3c4884" stroke-width="6.4" stroke-linecap="square"/>
<path transform="scale(0.25)" d="M501 1248h0m140 32h0m-174 9h0m-142 11h0m279 17h0m-76 18h0m-37-8h0m-204-2h0m-98 13h0m9 25h0m19-1h0m153-4h0m147 9h0m10-3h0m22-10h0m15 20h0m-63 0h0m-19-3h0m-7 16h0m-27-19h0m-15 9h0m-33 9h0m-103-11h0m-92-2h0m-27 33h0m30-14h0m16 9h0m30 5h0m18 1h0m20 9h0m55-4h0m46-10h0m70 10h0m21-10h0m23 13h0m6-15h0m47 15h0m5-10h0m-4 12h0m-135 14h0m-20-8h0m-96 16h0m-46-22h0m-2 15h0m-10-15h0m-68 11h0m-12-9h0m-16 32h0m28-11h0m19 4h0m5 4h0m38 15h0m69-19h0m50 5h0m20-8h0m56 6h0m43 2h0m2 5h0m2 0h0m5 2h0m22 4h0m41-16h0m3 27h0m-67 9h0m-3-13h0m-116 5h0m-37 2h0m-73 7h0m-38-8h0m-64 37h0m10-21h0m109 9h0m128 4h0m93-10h0m12 28h0m-60-6h0m-70 3h0m92 23h0" stroke="#188484" stroke-width="6.4" stroke-linecap="square"/>
<path transform="scale(0.25)" d="M871 1248h0m-440 8h0m440 6h0m2 4h0m-545 27h0m542 4h0m2 22h0m0-21h0m-348 39h0m-86 4h0m-66-11h0m-142 15h0m254 8h0m37-6h0m27 10h0m324 2h0m0 14h0m-431-3h0m107 34h0m323 13h0m-340 17h0m-68 3h0m-2-4h0m-255-7h0m30 33h0m91-4h0m50 7h0m54-10h0m20 8h0m112-4h0m308 13h0m-304 4h0m-92 11h0m-281-6h0m-22 15h0m133 13h0m109 1h0m29-9h0m21 18h0m-129 1h0m-96 5h0m-11-3h0m-47-5h0m171 34h0m22-3h0m63-7h0m100 3h0m5 6h0m6 9h0m-44 12h0m-7 6h0m-9-10h0m-45 8h0m-22-6h0m-6 7h0m-46 0h0m-7 3h0m-48-6h0m-42 5h0m-115 9h0m31 20h0m31-1h0m121 3h0m60-4h0m1-8h0m115 6h0m50-13h0m-132 25h0m-215 3h0m5 27h0m129-4h0m-185 46h0m343 139h0m-19-5h0m-40 0h0m-136-5h0m-25 10h0m-14-5h0m-1-4h0m-7-3h0m-45 5h0m-15 6h0" stroke="#3c1860" stroke-width="6.4" stroke-linecap="square"/>
<path transform="scale(0.25)" d="M308 1240h0m-10 18h0m308 29h0m-57 5h0m-26-4h0m-42 3h0m-61 10h0m100 16h0m-282 14h0m19 27h0m165-5h0m3-4h0m105 15h0m19-15h0m-39 35h0m-167-15h0m-11 15h0m-120 7h0m105 9h0m38 9h0m203-11h0m3 6h0m1 4h0" stroke="#60c054" stroke-width="6.4" stroke-linecap="square"/>
<path transform="scale(0.25)" d="M529 1248h0m-83 78h0m-72 42h0m190 16h0m-27 3h0m-122-16h0m-12 3h0m-50 16h0m-133 4h0m68 9h0m60-6h0m3 8h0m15 11h0m31-11h0m92 0h0m2-10h0m23 15h0m35 7h0m-41 13h0m-4-10h0m-44 17h0m-5-8h0m-38-6h0m-55 14h0m-46-3h0m-39-7h0m-34-11h0m-76 22h0m63 24h0m12-2h0m43-8h0m2-8h0m53 7h0m25 1h0m61 4h0m23-12h0m107-4h0m2 10h0m10-10h0m-5 30h0m-75 8h0m-32 2h0m-14-6h0m-21 0h0m-54-4h0m-9 0h0m-125 9h0m-14-9h0m-50 1h0m-13 19h0m8 4h0m7-3h0m52 16h0m5-10h0m13 9h0m1 4h0m50-12h0m9 8h0m41-14h0m17 13h0m46-9h0m2 8h0m8-11h0m133 2h0m17 17h0m1-8h0m3-3h0m-28 12h0m-37 16h0m-81-15h0m-18 9h0m-49 1h0m-29-8h0m-33-2h0m-20 11h0m-70-8h0m-49 8h0m4 19h0m45 3h0m13 3h0m134 5h0m13-5h0m182 2h0m-113 24h0m-108 0h0m-14 0h0m-75-3h0m-78 5h0m-1-3h0m-1-12h0m-1 19h0m7 9h0m406 11h0m-46 22h0m-26 4h0" stroke="#306084" stroke-width="6.4" stroke-linecap="square"/>
<path transform="scale(0.25)" d="M500 1298h0m-221 23h0m156 28h0m11 7h0m1 18h0" stroke="#84cc48" stroke-width="6.4" stroke-linecap="square"/>
<path transform="scale(0.25)" d="M381 1290h0m-11-8h0m-59 18h0m19-3h0m11 17h0m24-13h0m38 9h0m32 5h0m24-7h0m-22 16h0m-49 14h0m-52-12h0m-16 17h0m-51-9h0m-32-7h0m-18-4h0m5 37h0m12-5h0m120 0h0m21-7h0m62 17h0m70-2h0m-25 24h0m-25-10h0m-235 9h0m2 13h0m19 16h0m7-9h0m65 1h0m141-11h0m25-2h0m33 14h0m39 8h0m-39 8h0m-2-4h0m-72 13h0m-9-4h0m-6-10h0m-136 14h0m-7-12h0m-90 6h0m4 29h0m47-10h0m16 15h0m50-7h0m117-7h0m2 15h0m25-21h0m32 15h0m63-1h0m17-9h0m-1 42h0m-23-15h0m-20 10h0m-11 1h0m-9-11h0m-56 14h0m-4-10h0m-21-1h0m-26 11h0m-6-15h0m-9-6h0m-23 15h0m-11 1h0m-4-18h0m-56 5h0m-35 3h0m-17 8h0m-24 7h0m-52 22h0m7-19h0m51 18h0m32-2h0m27-13h0m11 1h0m0 11h0m10-9h0m22 10h0m1 3h0m12-21h0m11 11h0m21 3h0m13-12h0m23 10h0m9-3h0m4-6h0m9 10h0m64 7h0m14-13h0m4-3h0m2 2h0m19 17h0m20-3h0m7-10h0m11 13h0m6 22h0m-3-13h0m-29-4h0m-11 20h0m-31-3h0m-7-20h0m-15 3h0m-3 19h0m-37-19h0m-42 19h0m-1-17h0m-15-1h0m-7 5h0m-1 9h0m-22-11h0m-10 0h0m-49 3h0m-20-2h0m-27 0h0m-19-7h0m-11 3h0m-7 16h0m-12-18h0m-7 7h0m0 12h0m-2-3h0m0-14h0m-8 4h0m-16 21h0m2 18h0m1-20h0m3-2h0m44 18h0m1-6h0m15-2h0m3-1h0m4-1h0m12-6h0m3-3h0m2 6h0m6 7h0m0 7h0m18-8h0m11 10h0m16-9h0m14-13h0m2 19h0m11-17h0m0 10h0m6 0h0m4-2h0m8 3h0m1-11h0m1 18h0m1-10h0m4 1h0m14-2h0m17-8h0m15 16h0m0-12h0m5 4h0m11-7h0m13 0h0m3 6h0m4 5h0m3-13h0m1 12h0m8 3h0m7-12h0m4 17h0m8-5h0m8-12h0m5 6h0m17 4h0m7-8h0m22 3h0m24 2h0m11-9h0m9 28h0m-6 14h0m-2-7h0m-1-6h0m-3-5h0m0 13h0m-3-2h0m-5-1h0m-17 3h0m-17 0h0m-5-14h0m0-1h0m-6 17h0m-1-6h0m-6 3h0m-4-1h0m0 8h0m-18-8h0m-57-1h0m-11-3h0m-8 3h0m-1-12h0m-5 14h0m-5 1h0m-9 1h0m-12-3h0m-4 0h0m-4-3h0m0 7h0m-1-7h0m0 12h0m0-12h0m-1 4h0m-5 8h0m-5-8h0m-8 4h0m0-9h0m-38-1h0m0 6h0m-2-1h0m-4 11h0m-3-23h0m-4 6h0m-9 10h0m-1-1h0m-14 8h0m-3-11h0m-7 1h0m-13-1h0m-2 0h0m-3 4h0m-6 0h0m-3-3h0m-14-13h0m0 17h0m-7-5h0m-23 4h0m-6-7h0m-10 4h0m-1-8h0m-1 8h0m-2-7h0m-4 16h0m0 1h0m-1 6h0m4 4h0m0 11h0m4-9h0m0 3h0m1 5h0m2-11h0m24-7h0m1 18h0m7-16h0m1 15h0m1 2h0m0-1h0m2-4h0m16 5h0m16-4h0m2 6h0m6-4h0m8-1h0m0-4h0m1 5h0m0-5h0m2 6h0m0 1h0m1 1h0m3-10h0m7 8h0m0 2h0m1-14h0m28 2h0m3 11h0m0-3h0m1 6h0m4-13h0m4 6h0m4-5h0m0 5h0m4 3h0m8 1h0m14-7h0m0-5h0m5 9h0m1 0h0m1-12h0m1 2h0m2 15h0m16-4h0m5 2h0m2-3h0m0 4h0m5-15h0m1-6h0m11 6h0m18 13h0m2-2h0m3-8h0m12 11h0m4 1h0m0-18h0m5 11h0m2 3h0m0-11h0m2 15h0m6-2h0m3 0h0m0-16h0m8-3h0m5 21h0m4-18h0m0 9h0m5 9h0m6-3h0m23-13h0m6 10h0m3 0h0m6 4h0m2 0h0m12-2h0m1 1h0m1 2h0m4-11h0m1 10h0m3-8h0m8 8h0m11 3h0m2-10h0m4 7h0m0-2h0m3-15h0m3 2h0m0 17h0m1-15h0m0 14h0m1-18h0m1 20h0m0-5h0m1-12h0m0 14h0m1-2h0m-1 19h0m0-3h0m-1 13h0m0-22h0m-1 6h0m0 2h0m-1-3h0m-1 17h0m-1-16h0m0 4h0m0-11h0m-19 15h0m-3 6h0m-3-6h0m-3-2h0m0-7h0m-4 7h0m-1 10h0m-1-2h0m-8-12h0m-9-1h0m-2 3h0m-11 8h0m-4-12h0m-7 11h0m-5-4h0m-2-4h0m-20 2h0m-8 5h0m-7-16h0m-5 17h0m-20-3h0m-13 8h0m-1-11h0m-17-7h0m-2-1h0m-9 14h0m-9-5h0m-1 9h0m-5-10h0m-9 1h0m-5 5h0m-4 2h0m-9-16h0m-1 1h0m-9 7h0m-23-6h0m-8 3h0m-10 2h0m-3 1h0m-1-8h0m0 3h0m-3-7h0m-10 13h0m-5 1h0m-6-5h0m-2-1h0m-9-4h0m-4 5h0m-5-4h0m-9 8h0m0-11h0m-2 8h0m-1-5h0m-15 0h0m-5 3h0m-1 16h0m-8-12h0m-3-10h0m-3 1h0m-7 9h0m-6 0h0m-12 6h0m-1-13h0m-3-4h0m0 10h0m-3 12h0m-2-3h0m0-12h0m-1 4h0m0 5h0m30 13h0m6-4h0m2 2h0m12 8h0m1-1h0m16-1h0m7-1h0m0-5h0m3 8h0m0 9h0m11-4h0m5-13h0m2 11h0m13 5h0m9-9h0m5 7h0m14-17h0m9 1h0m0 1h0m8 14h0m4-1h0m36 5h0m18-13h0m29 12h0m39-5h0m39-12h0m3 21h0m8-5h0m1-2h0m3-16h0m7 14h0m0-11h0m0 6h0m14-2h0m30 8h0m2-8h0m10-7h0m4 7h0m8-8h0m4 1h0m0 2h0m0-1h0m1 36h0m-2 9h0m-3-14h0m-4-2h0m-7 0h0m-1 1h0m-11 11h0m-23 2h0m-9-19h0m-3 7h0m-19 15h0m-18-23h0m-18 7h0m-5 11h0m-12-17h0m-31 15h0m-31-7h0m-5-7h0m-18 2h0m-15 8h0m-7-9h0m-25 18h0m-5-13h0m-5-6h0m-1 10h0m-24-10h0m-30-2h0m-21 6h0m-4 15h0m-13-12h0m-5 7h0m-4-8h0m-9 23h0m21 2h0m81 11h0m13-8h0m56 8h0m20-18h0m10 11h0m66-9h0m8 3h0m37 12h0m37-14h0m4-3h0m7-3h0m-40 42h0m-27-8h0m-59 11h0m-192-9h0m-25-1h0m-20 26h0m83 4h0m11-12h0m32 13h0m138 0h0m-138 15h0m-31 15h0m-97-8h0m-6-1h0m145 22h0m21-3h0m18 1h0m17 5h0m7-8h0m22-4h0m70-1h0m87 0h0m13 82h0m-1 1h0m0 4h0m0-4h0m-1 0h0m0-2h0m-1 2h0m0-1h0m-1 2h0m-1-2h0m0 1h0m0 3h0m0-3h0m-2 0h0m0 0h0m-1 1h0m-1 1h0m-1-2h0m0 2h0m0 2h0m0-2h0m-1-1h0m-1 0h0m-1 1h0m0 0h0m0-3h0m-1 1h0m-1 1h0m0 0h0m-2-2h0m0 0h0m0 2h0m-1 0h0m0 0h0m0 1h0m-1 2h0m0-3h0m-2 0h0m-1-1h0m0 2h0m0 0h0m-2 2h0m-1-2h0m0-3h0m-1 3h0m0 0h0m-3-1h0m-1 0h0m-2 1h0m0-1h0m-3 0h0m-2-2h0m0 2h0m-1 3h0m-1-3h0m0 1h0m0-3h0m-1 4h0m0 0h0m-1-1h0m-1-1h0m0-1h0m0 2h0m-1 0h0m-2-1h0m0-1h0m0 0h0m-1 1h0m-1 0h0m0 0h0m0 0h0m-1 0h0m0-1h0m0 1h0m-1-1h0m0 3h0m0-3h0m-1 0h0m0 1h0m-1-2h0m0 2h0m0 3h0m-1-4h0m0 3h0m0-1h0m-1-2h0m0 2h0m-1-3h0m0 3h0m-1 0h0m-1 0h0m-1-1h0m-1 0h0m0 1h0m-1 0h0m-1-3h0m-1 2h0m-2 1h0m0-2h0m-1 1h0m0-1h0m-3 1h0m-1-1h0m0 1h0m-2 1h0m0-2h0m-1 1h0m0 0h0m-2 1h0m0-1h0m0 2h0m-1-3h0m0 3h0m-1 0h0m0-3h0m-1 3h0m-3-2h0m0-1h0m0 2h0m-1 0h0m0 0h0m0-3h0m-4 1h0m-1 4h0m-1-3h0m-2-1h0m0 2h0m0 0h0m0-1h0m-1 1h0m0-2h0m-2 3h0m-1-2h0m0 0h0m0-1h0m-2 2h0m0 0h0m0 3h0m0-4h0m-1-2h0m-3 2h0m0-1h0m0 1h0m-2 0h0m0-3h0m0 3h0m-1 0h0m-1-1h0m0 3h0m-1-2h0m0 0h0m0 1h0m-2 1h0m0-5h0m-1 3h0m0 0h0m-1-1h0m0 0h0m-1 3h0m0-3h0m-1 2h0m0-1h0m-1 0h0m-2-2h0m-1 2h0m-2 0h0m0-2h0m0 3h0m-1 0h0m0-3h0m-1 1h0m0 2h0m-1-2h0m0 2h0m0-1h0m-1 0h0m-1 0h0m0-1h0m-1 0h0m-2 3h0m0-2h0m-2 1h0m0 0h0m-1 0h0m0 0h0m0 1h0m-2-1h0m-1-1h0m0 1h0m0-1h0m0 0h0m-1-2h0m-3 2h0m0 1h0m0-2h0m-2 0h0m0 0h0m0 0h0m-1-1h0m0 0h0m-1 1h0m-1 2h0m0-2h0m0 1h0m0 0h0m-1 0h0m0-1h0m0-2h0m-1 1h0m0 0h0m-1 2h0m0 0h0m0-3h0m0 3h0m-1 0h0m0 2h0m-1 0h0m0-5h0m0 0h0m0 4h0m-1-2h0m0 1h0m-1-1h0m-2 2h0m0 2h0m0-2h0m-2-3h0m-2 3h0m-1-1h0m-1 1h0m-1-3h0m0 3h0m-1 0h0m0-2h0m-1-1h0m0 2h0m-2 2h0m0-2h0m-1-1h0m0 0h0m-2 1h0m-1 0h0m0-3h0m-2 2h0m0 0h0m-1 2h0m0-1h0m-3 1h0m0 0h0m-1-2h0m0-1h0m-1 3h0m0-1h0m-1 0h0m0-1h0m0 3h0m-2-2h0m-1 2h0m0-2h0m0 1h0m-1-3h0m0 0h0m0 4h0m-3-2h0m0-2h0m0 3h0m0-3h0m0 0h0m-2 4h0m0-2h0m-1 1h0m-1 2h0m-1-3h0m0-1h0m0 2h0m-2-5h0m0 4h0m-1 1h0m0-2h0m-1 0h0m0 0h0m0 0h0m0 2h0m0-2h0m-1 1h0m0 0h0m-2 2h0m0-3h0m-3 2h0m0-4h0m0 1h0m0 0h0m-1 0h0m0 4h0m-1-1h0m0-1h0m-1 0h0m-1-1h0m0 1h0m0 2h0m0-1h0m0-1h0m-1-1h0m-1 1h0m0 0h0m-1 0h0m-1-2h0m0 2h0m0 1h0m-1-2h0m-1 1h0m0 1h0m-1 0h0m0-1h0m-1 1h0m0 1h0m-3-3h0m-1-1h0m0 3h0m0-1h0m0-1h0m-3 2h0m0 0h0m-1 0h0m0 0h0m0 0h0m-1 0h0m0-1h0m-1-1h0m0 1h0m-1 1h0m-2 0h0m0-1h0m-1 1h0m0-1h0m-1 2h0m0-3h0m0 2h0m0-1h0m-1 0h0m-1 0h0m-1-1h0m-1 2h0m0-1h0m-2-1h0m-2-1h0m0 3h0m0-1h0m0-4h0m0-1h0m-1 7h0m0-5h0m0 4h0m-3 0h0m-1 0h0m0-2h0m-1 1h0m-1 1h0m-1-1h0m-1 0h0m0-1h0m-1 2h0m-2 0h0m0 1h0m0-2h0m-1 2h0m0-4h0m0 4h0m-2-6h0m0 4h0m0 0h0m-1 2h0m0-5h0m-1 2h0m0 0h0m-1 0h0m-1 0h0m-1 0h0m-1 0h0m-1-2h0m0 4h0m-2-5h0m-1 4h0m0 1h0m-1-3h0m0 4h0m-1-3h0m-1 1h0m-1-1h0m0-1h0m-2 2h0m0-1h0m0 2h0m-1-3h0m-4 3h0m-1-4h0m0 5h0m-1-1h0m-1-1h0m-1-3h0m-2 4h0m-1-3h0m-2 2h0m0 0h0m0-2h0m0 3h0m-1-4h0m-1 3h0m0 0h0m-1 0h0m-1 1h0m0-3h0m0 2h0m-1 1h0m0-1h0m-1 0h0m0-2h0m-1 6h0m0-6h0m-2 2h0m-1 1h0m-1-1h0m-1-2h0m-1 2h0m-2-1h0m-1 3h0m0-2h0m-1 2h0m-1-1h0m0 1h0m0-4h0m-1 3h0m0 0h0m0-1h0m0 2h0m0-1h0m-1-1h0m0-3h0m0 3h0m-1 1h0m0-3h0m-1 3h0m-1-3h0m0 2h0m0-1h0m-1 2h0m-3 0h0m0-1h0m-1 0h0m0 2h0m0-4h0m-1 2h0m-1-1h0m0 2h0m0 1h0m-1-3h0m0 0h0m0 3h0m-1-1h0m0-3h0m-1 0h0m0 1h0m0 2h0m-1-3h0m-1 3h0m-1-2h0m0 2h0m-1-1h0m-1 1h0m0-2h0m0 2h0m-1 0h0m0 0h0m-1-1h0m0 2h0m0-2h0m0 0h0m-1-1h0m0 0h0m-1 0h0m-1-1h0m0 3h0m-1-2h0m-1 3h0m0-1h0m0-1h0m-1 2h0m0-4h0m0 4h0m-1 1h0m0-3h0m0 1h0m0-2h0m-1 3h0m-2-1h0m0-3h0m-4 4h0m0-3h0m-2 1h0m-1 1h0m0-1h0m0 3h0m-1-3h0m0 2h0m0-1h0m-1-3h0m0 2h0m-1 1h0m0 0h0m-3-2h0m0 1h0m-1 3h0m-1-2h0m0-2h0m0 1h0m-1-1h0m-1 3h0m0-3h0m0 1h0m-1 0h0m-1 0h0m0 1h0m-1-2h0m-1 3h0m0-1h0m0-1h0m-1-1h0m0-1h0m-1 3h0m0-2h0m0-1h0m-1 1h0m-1-1h0m0 2h0m0 2h0m-1-3h0m0 0h0m-1-2h0m0 1h0m0 0h0m-1 3h0m0 0h0m-1 0h0m0-4h0m-1 2h0m-1 3h0m-1-5h0m0 3h0m0-1h0m0 2h0m0-1h0m-1 0h0m-2 1h0m-1 0h0m0-2h0m0 0h0m0 0h0m-1-2h0m-1 3h0m0 1h0m0 0h0m-2 0h0m0 1h0m-1 1h0m0-2h0m-1-4h0m-1 1h0m0 0h0m0 5h0m-1-1h0m-1 0h0m-1-2h0m0-1h0m0 0h0m0 0h0m-1 1h0m-3-2h0m0 2h0m0-1h0m0 2h0m-1 0h0m0-1h0m-1 0h0m-1 0h0m-1 2h0m0-2h0m0 1h0m0-1h0m-1 2h0m-1-4h0m-1 1h0m0 0h0m0-1h0m0 6h0m0-5h0m-2 1h0m0 2h0m-1-2h0m0-2h0m0 3h0m-1 0h0m0-1h0m-1-2h0m0 6h0m0-3h0m0-1h0m-1 1h0m0-3h0m0 4h0m-1 1h0m0-4h0m0 1h0m-2 1h0m0 0h0m-1-2h0m-2 1h0m-2 1h0m0 0h0m-1 2h0m-1-5h0m-1 2h0m-1 1h0m0-1h0m-2 1h0m-1-1h0m0 0h0m0 1h0m0-2h0m-1-1h0m0 0h0m-1 3h0m0-2h0m-1 1h0m-1 0h0m0-3h0m-1 3h0m0-2h0m0 0h0m0 2h0m-1 0h0m0 3h0m-1-3h0m0-1h0m0 2h0m0 1h0m0-1h0m-3-2h0m0-1h0m-2-1h0m0 0h0" stroke="#3c0054" stroke-width="6.4" stroke-linecap="square"/>
<path transform="scale(0.25)" d="M372 1247h0m-18 23h0m23-1h0m122 1h0m-45 23h0m-118-4h0m-17-7h0m23 37h0m25 0h0m6-8h0m48 2h0m-95 18h0m-83 18h0m245 15h0m-74 13h0m-98 10h0m-42-15h0m233 28h0m12-5h0" stroke="#78cc48" stroke-width="6.4" stroke-linecap="square"/>
<path transform="scale(0.25)" d="M516 1244h0m-172 54h0m-42 36h0m-6 8h0m-101 24h0m91-1h0m50-20h0m36 6h0m2-4h0m21 0h0m11 14h0m7-11h0m27 15h0m56-12h0m49 7h0m-5 18h0m-21 5h0m-15 0h0m-52 7h0m-43-15h0m-7 3h0m-10 1h0m-47 1h0m-50-4h0m-8 9h0m-43-5h0m-16-8h0m-12 39h0m41 0h0m13 4h0m37-21h0m5-1h0m53 4h0m63 15h0m140-2h0m-38 19h0m-29 11h0m-10-13h0m-32 11h0m-2-16h0m0 5h0m-12-8h0m-18 18h0m-87-7h0m-1-5h0m-28 10h0m-19-3h0m-7-11h0m-31 12h0m-12 3h0m-27-4h0m-19-6h0m-6 7h0m-16 7h0m-4-3h0m-14 21h0m120-1h0m9 1h0m10 0h0m43 2h0m33-10h0m6 6h0m72-14h0m12 8h0m18-8h0m5 6h0m25-6h0m11 14h0m3-8h0m9 9h0m6 7h0m3-6h0m4-11h0m24 1h0m-35 24h0m-107 9h0m-1-1h0m-57-3h0m-8-4h0m-5-7h0m-28 4h0m-8 2h0m-8-3h0m-2 15h0m0-3h0m-7 3h0m-5-5h0m-37 3h0m-36-5h0m-65 1h0m33 18h0m5 1h0m29 13h0m60-1h0m25-12h0m11 2h0m17-9h0m3 19h0m19 2h0m2-11h0m35-5h0m57 12h0m15-9h0m7-1h0m6 8h0m43-4h0m41 28h0m-30-7h0m-50-7h0m-1-1h0m-25 1h0m-49 14h0m-23 3h0m-106-7h0m-115-9h0m-12 2h0m-1 23h0m11 14h0m1-10h0m220-3h0m45 3h0m1 4h0m52-12h0m14 18h0m47-6h0m6 7h0m15-10h0m0 24h0m-157-10h0m-112 13h0m-142 25h0m105-6h0m122 14h0m-227 10h0" stroke="#246c84" stroke-width="6.4" stroke-linecap="square"/>
<path transform="scale(0.25)" d="M549 1394h0" stroke="#48b460" stroke-width="6.4" stroke-linecap="square"/>
<path transform="scale(0.25)" d="M620 1236h0m-256 18h0m88 34h0m-87-12h0m-124 0h0m15 43h0m37-2h0m37-12h0m9 9h0m129-10h0m40 5h0m-7 26h0m-42-6h0m-236 36h0m281 15h0m-86 2h0m-73-2h0m70 28h0" stroke="#84cc3c" stroke-width="6.4" stroke-linecap="square"/>
<path transform="scale(0.25)" d="M506 1237h0m365 13h0m-446 33h0m53 21h0m394 11h0m-1 29h0m0-5h0m0-18h0m-1 4h0m-311 12h0m-158 0h0m-38 6h0m-143-4h0m67 22h0m223-10h0m58 6h0m304-9h0m0-1h0m-1 34h0m-1 9h0m-306-7h0m-157-12h0m-9 8h0m-91 4h0m-4-4h0m-84-5h0m-30 14h0m-16 3h0m84 23h0m18-19h0m85 3h0m18 13h0m46-14h0m76 15h0m8-9h0m23 4h0m21-13h0m2 15h0m10-5h0m305 2h0m3 1h0m0 29h0m-315-11h0m-30 8h0m-3-10h0m-55 4h0m-63 7h0m-18-6h0m-24-6h0m-164 18h0m-11 19h0m31-6h0m21-8h0m80 9h0m87 7h0m88-6h0m23-13h0m16 13h0m28 0h0m5-3h0m304-4h0m1 9h0m-2 13h0m-363 6h0m-5-3h0m-37 11h0m-57-20h0m-25 11h0m-21-6h0m-16 16h0m-35-12h0m-73 14h0m-78-15h0m-4 22h0m7 2h0m55 9h0m7-8h0m35-5h0m30 2h0m8 18h0m86-16h0m30 11h0m23-5h0m38 8h0m10-15h0m10-2h0m7 13h0m38 3h0m10-9h0m17 29h0m-88-16h0m-50 22h0m-7-13h0m-7 2h0m-43-2h0m-48-3h0m-18 6h0m-12-8h0m-28 6h0m-42-6h0m-15 12h0m-1-9h0m-42-7h0m-11 10h0m0 34h0m40-2h0m1-9h0m6 2h0m54 1h0m53-12h0m3 7h0m77 4h0m57 2h0m55-9h0m44-1h0m11 10h0m1-9h0m5 5h0m-14 26h0m0 4h0m0-1h0m-40 9h0m-23-20h0m-82-1h0m-9-2h0m-49 12h0m-137-2h0m-29 10h0m-17-16h0m27 39h0m78-7h0m39 10h0m76 0h0m8-17h0m29 12h0m53 3h0m47-6h0m33 6h0m15 9h0m-111 2h0m-59-1h0m-152-5h0m-80 5h0m159 20h0m97 19h0m60-11h0m-242 20h0m290 156h0m-12 1h0m-14-5h0m-1 5h0m-49 0h0m-17-11h0m-10 7h0m-6-3h0m-15 8h0m-4-2h0m-1-1h0m-8-1h0m-1 7h0m-6-9h0m-17-5h0m-4 11h0m-18-9h0m-9 5h0m-37 1h0m-15-7h0m-7 8h0m-35-3h0m-19 3h0m-15-3h0m-4-1h0m-22-1h0m-10 6h0m-2-4h0m-1 1h0m-11-3h0" stroke="#3c3c84" stroke-width="6.4" stroke-linecap="square"/>
<path transform="scale(0.25)" d="M415 1292h0m-9-1h0m-117 23h0m75 1h0m20-18h0m5 4h0m25 10h0m2-14h0m40 6h0m162 29h0m-76 11h0m-3-22h0m-142 22h0m-75-13h0m-149 33h0m24-10h0m160-4h0m33 13h0m-13 29h0m-65-4h0m37 18h0m107 7h0m4 24h0m-68-14h0m-79 3h0" stroke="#54c060" stroke-width="6.4" stroke-linecap="square"/>
<path transform="scale(0.25)" d="M871 1204h0m2 38h0m-3 9h0m2 1h0m-1 56h0m1 22h0m0 11h0m-2-19h0m-252 1h0m-98 8h0m-13 10h0m-10 1h0m-123-6h0m-18-11h0m-27 10h0m-6-2h0m-134 22h0m48 11h0m35-18h0m53 10h0m24 1h0m13 9h0m27-16h0m11 16h0m167-8h0m305-7h0m0 37h0m-1 1h0m-302-8h0m-8 2h0m-5-1h0m-90-12h0m-5 6h0m-2 7h0m-51-11h0m-90 17h0m-2-10h0m-24-3h0m-46-10h0m-11 9h0m-30-3h0m-10 5h0m10 20h0m12 6h0m0-9h0m16 4h0m30 7h0m11-10h0m34 15h0m13-11h0m9 2h0m6-3h0m5 6h0m27-11h0m71 16h0m39 4h0m0-6h0m22-12h0m371 9h0m1-10h0m-1 38h0m-305-1h0m-4 5h0m-3-22h0m-15 17h0m-33 6h0m-39-22h0m-5 0h0m-6 17h0m-14-4h0m-1-8h0m-14 5h0m-90-3h0m-34 4h0m-25-7h0m-2 5h0m-22 11h0m-28-19h0m-20-2h0m-11 20h0m-9 27h0m30-19h0m33 18h0m29-14h0m32 5h0m10-3h0m59 14h0m26-18h0m0 15h0m35-12h0m18 11h0m42 1h0m46-12h0m13 4h0m1-1h0m2 11h0m1-8h0m-29 10h0m-25 3h0m-23 6h0m-4-8h0m-15 9h0m-12-2h0m-47-3h0m-36 6h0m-26-4h0m-24 12h0m-8-15h0m-15 13h0m-33 2h0m-19-19h0m-29 2h0m-64 42h0m13-1h0m26 4h0m28-5h0m96-7h0m13-6h0m57 8h0m46 9h0m35-11h0m20 3h0m20-10h0m21 2h0m1 9h0m3-5h0m29 16h0m-1-2h0m-1 13h0m0 2h0m-31-11h0m-97 7h0m-145-9h0m-29-2h0m-15 8h0m-2 2h0m-33-4h0m-11 13h0m-19-11h0m-5-7h0m137 32h0m139 4h0m5 6h0m104 6h0m-94 11h0m-156 4h0m-111 60h0" stroke="#247884" stroke-width="6.4" stroke-linecap="square"/>
<path transform="scale(0.25)" d="M872 1261h0m-1 24h0m-211 34h0m211-13h0m1 0h0m1 22h0m-4 0h0m-249 2h0m-158 23h0m408 13h0m3-10h0m-282 28h0m-136 6h0m-66 1h0m-54-20h0m-42 9h0m-18-2h0m-20 7h0m-34-1h0m-7 31h0m55-10h0m130 10h0m44-7h0m39 7h0m64 0h0m326-1h0m0-1h0m0-11h0m1-4h0m0 33h0m-2-2h0m-364 4h0m-25-5h0m-32-1h0m-21-3h0m-41 5h0m-12-2h0m-51-3h0m-22 7h0m-12-3h0m-74-4h0m-26-7h0m-22 1h0m54 41h0m41 3h0m4-19h0m24 15h0m65-12h0m3-3h0m6 15h0m12-14h0m23 3h0m26 11h0m19-6h0m14 6h0m13-15h0m25 17h0m39 0h0m5-5h0m21-11h0m1-4h0m308 6h0m-1 27h0m-1 7h0m0 1h0m-323-12h0m-85 9h0m-36-11h0m-12 15h0m-6-9h0m-14-7h0m-32 1h0m-51 6h0m-74 0h0m-57 3h0m-20 12h0m-1-11h0m10 23h0m9-11h0m6 20h0m14-7h0m13-12h0m2 8h0m13 4h0m3 4h0m15-14h0m26 18h0m38 0h0m34-4h0m125 3h0m23-1h0m25 0h0m21-17h0m1 16h0m2 0h0m27 16h0m-3 10h0m-8-18h0m-5 19h0m-21-9h0m-2 8h0m0-20h0m-12 9h0m-11 1h0m-46 0h0m-9-6h0m-15 6h0m-26-9h0m-3 8h0m-2 11h0m-10 1h0m-41-3h0m-22-4h0m-19 6h0m-16-16h0m-5-4h0m-28 12h0m-16 11h0m-12-23h0m-23 8h0m-1-7h0m-23 5h0m37 25h0m0 3h0m7-1h0m73 8h0m16 3h0m19-13h0m28 15h0m45-11h0m20 2h0m10-13h0m36 5h0m-3 20h0m-8 10h0m-55 1h0m-201-1h0m-54-4h0m-2-3h0m8 29h0m117 11h0m80-6h0m4 7h0m64-1h0m2-1h0m13-13h0m52 13h0m71 7h0m-120 1h0m-227 3h0m184 201h0m-15-4h0m-34 3h0m-3 5h0m-20-5h0m-10 1h0m-45 1h0m-5-7h0" stroke="#305484" stroke-width="6.4" stroke-linecap="square"/>
<path transform="scale(0.25)" d="M376 1296h0m-7 44h0m-56-1h0m-21-4h0m15 17h0m193 1h0m46 6h0m1-2h0m-3 28h0m-14-13h0m-30 18h0m-195-6h0m-33-6h0m294 40h0m-1 21h0m-157-6h0m-10-10h0m-3 3h0m-20-6h0m-70 24h0m201 12h0m-239 25h0m152 12h0m42 2h0m-61 18h0" stroke="#189c84" stroke-width="6.4" stroke-linecap="square"/>
<path transform="scale(0.25)" d="M664 1240h0m-92 9h0m-221 42h0m24 63h0" stroke="#e4e424" stroke-width="6.4" stroke-linecap="square"/>
<path transform="scale(0.25)" d="M410 1245h0m-133 67h0m134-16h0m102 10h0m-38 26h0m-63-3h0m-21-8h0m-65 6h0m-32 8h0m-62 29h0m22-11h0m16 0h0m9 0h0m216 0h0m21-8h0m3 9h0m48 9h0m-72 14h0m-54 2h0m-109-7h0m-2 2h0m-56 9h0m-77-2h0m170 17h0m13 13h0m102 3h0m0-9h0m39 5h0m45-4h0m-90 22h0m-83 6h0m-45 2h0m-113-11h0m-8 0h0m-13-3h0m-25 17h0m-32 14h0m36 4h0m177 0h0m39-15h0m78 20h0m42-22h0m20 47h0m-8-8h0m-2-6h0m-5 7h0m-10-6h0m-76 9h0m-12-13h0m-8-2h0m-5-4h0m-123 19h0m-4-9h0m-41-10h0m-63 24h0m-17-12h0m-17-3h0m-3 1h0m0 35h0m2-16h0m69 19h0m39-16h0m7-8h0m4 22h0m9-10h0m19 9h0m37-20h0m59 13h0m96 1h0m8 6h0m54-14h0m-100 26h0m-44 12h0m-39-8h0m-22-11h0m-64 21h0m-39-14h0m-19 9h0m-19-14h0m-7 1h0m-32 14h0m-5-12h0m14 29h0m15 3h0m99-2h0m73 1h0m17-3h0m27-9h0m5 10h0m12 0h0m0 6h0m8-4h0m5-3h0m5 0h0m18-3h0m4 10h0m80-9h0m2 24h0m-16 4h0m-53-11h0m-32 0h0m-3 11h0m-70 0h0m-107 4h0m-29-1h0m-1-1h0m-36-8h0m-14 7h0m-29-3h0m-3 12h0m-2 22h0m1-1h0m1 1h0m5-13h0m9 14h0m57-5h0m15 2h0m30 3h0m16-6h0m31-5h0m2 6h0m49-8h0m31 12h0m68-3h0m2 2h0m5-1h0m28 4h0m60-10h0m0 10h0m-7 2h0m-176 19h0m-15-5h0m-5-11h0m-34 4h0m-22 16h0m-3 0h0m-77-24h0m-2 1h0m-41 0h0m-14 9h0m16 25h0m35-9h0m262 8h0m15-7h0m-70 39h0m-9-2h0m-260-15h0m49 37h0m278-13h0m24 136h0m-76-1h0m-3 4h0m-8-4h0m-8-3h0m-39 2h0m-102 6h0m-14-1h0m-88-2h0" stroke="#3c0c60" stroke-width="6.4" stroke-linecap="square"/>
<path transform="scale(0.25)" d="M256 1250h0m117 42h0m-37 15h0m19 5h0m73-8h0m59 26h0m-291 25h0m8 7h0m17-17h0m70 12h0m13-12h0m156 12h0m14 11h0m-14 3h0m-93 4h0m0 14h0m-160 21h0m82-4h0m150 3h0m95 6h0m-34 20h0m-49-12h0m-60 2h0m-18 2h0m-70 10h0m-72-10h0m-21-9h0m-55 34h0m7 9h0m140 1h0m24-17h0m14-3h0m2-2h0m10 10h0m44-2h0m13-4h0m101 8h0m1 9h0m30-16h0m19 17h0m-49 26h0m-23-9h0m-247 0h0m-32-11h0m-54 29h0m0 4h0m101-4h0m28-4h0m17 13h0m66-14h0m17 7h0m62-3h0m3 15h0m23-18h0m6 9h0m2-11h0m87 18h0m-6 4h0m-18 5h0m-33-5h0m-13 9h0m-63 7h0m-51-13h0m-15 13h0m-46 3h0m-5-18h0m-40 19h0m-3 1h0m-10-14h0m-9 10h0m-97-11h0m-2-4h0m-1 18h0m3 5h0m45 13h0m25 0h0m91-3h0m10 1h0m79-3h0m82 1h0m8-6h0m58 35h0m-18 2h0m-35-3h0m-102-8h0m-12 1h0m-46-7h0m-9 13h0m-54-3h0m-10 1h0m-3-1h0m-2 6h0m-9-5h0m-10 2h0m-13 2h0m-16-9h0m-47-4h0m3 26h0m6 13h0m47 1h0m51 2h0m84-13h0m2 0h0m13 11h0m21 1h0m8 0h0m15 0h0m34 2h0m10-2h0m44 1h0m5-3h0m11-9h0m40 11h0m2-11h0m-4 19h0m-36 10h0m-118 5h0m-4-12h0m-51-2h0m-132-4h0m120 33h0m5 9h0m113 4h0m-136 6h0m-57 79h0m-24 19h0m-80 18h0m406 38h0m-20 2h0m-11 1h0m-12 2h0m-54-7h0m-17 7h0m-7-9h0m-8 6h0m-19 1h0m-37-1h0m-11-5h0m-8 7h0m-3-5h0m-36 3h0m-2-2h0m-4-1h0m-2 8h0m-20-2h0m-41-3h0m0-2h0m-1-1h0m-2 6h0m-7-4h0m-3-1h0m-5 3h0m-40 1h0" stroke="#3c186c" stroke-width="6.4" stroke-linecap="square"/>
<path transform="scale(0.25)" d="M379 1288h0m-24-7h0m-88 6h0m61 13h0m34 16h0m28-11h0m17 11h0m34-11h0m31 1h0m45 20h0m-54-3h0m-37 20h0m-9-14h0m-10 1h0m-31-1h0m-1-3h0m-7 3h0m-27 2h0m-19 0h0m-50 3h0m-13-7h0m-26 7h0m55 26h0m15-9h0m28 9h0m52 3h0m92 0h0m5-2h0m1 3h0m27-4h0m20-13h0m16 14h0m24 2h0m-51 19h0m-10 2h0m-29 6h0m-53-22h0m-54 20h0m-10-4h0m-4-3h0m-79 5h0m-9-7h0m-24-2h0m-43 7h0m-26 5h0m-2-20h0m0 28h0m31 15h0m50-6h0m26-6h0m47 4h0m132-8h0m65 16h0m13-10h0m13 7h0m5-3h0m27-13h0m-14 37h0m-5-4h0m-48 10h0m-29-12h0m-19 10h0m-54 6h0m-34-23h0m-134 2h0m-21 13h0m-33 2h0m18 21h0m8-3h0m75-1h0m112 7h0m112 19h0m-1 3h0m-48-12h0m-110 1h0m-125 22h0m36-2h0m138 8h0m161 12h0m-138 9h0m-95 3h0" stroke="#249c84" stroke-width="6.4" stroke-linecap="square"/>
<path transform="scale(0.25)" d="M402 1292h0m-110 20h0m55-7h0m165 6h0m-69 12h0m-31 4h0m-7 7h0m-4 4h0m-21-3h0m-61 7h0m-54-5h0m-36 3h0m-12 13h0m28 7h0m21 0h0m20-9h0m20 3h0m5-9h0m60 8h0m5 7h0m19-3h0m66 2h0m76 11h0m-71 10h0m-27 6h0m-45-13h0m-131 28h0m40 5h0m175 0h0m-169 21h0m-3 23h0m148 24h0" stroke="#48c060" stroke-width="6.4" stroke-linecap="square"/>
<path transform="scale(0.25)" d="M387 1238h0m-57 26h0m254 23h0m-138 6h0m-59-2h0m-25 11h0m55 13h0m24-16h0m72 14h0m-25 8h0m-11 22h0m-23-15h0m-193 22h0m184 42h0m-120 2h0" stroke="#a8d830" stroke-width="6.4" stroke-linecap="square"/>
<path transform="scale(0.25)" d="M377 1245h0m-42-15h0m166 38h0m-60 23h0m-96 39h0m-13 10h0m-81 10h0m17-5h0m221 20h0m-131 8h0m-79 23h0m23 19h0m40-20h0m16 19h0m132-20h0m77 20h0m-21 14h0m-162-5h0m-218 10h0m164 29h0m19-14h0m6 9h0m13-17h0m5 15h0m175-2h0m-79 33h0m-69-18h0m-112 9h0m-9-8h0m-3 6h0m-60 13h0m-50-2h0m26 19h0m12-6h0m79 6h0m14 6h0m6 0h0m33-5h0m84-18h0m9 12h0m139 7h0m-1 27h0m-2-5h0m-19-11h0m-12 7h0m-35 6h0m-48-12h0m-129 1h0m-38 11h0m-58-14h0m-56 1h0m94 30h0m122 8h0m46-7h0m73-1h0m49-11h0m15 39h0m-2-2h0m-94 2h0m-65-3h0m-34-10h0m-18 14h0m-9-16h0m-24 14h0m-4 1h0m-24-12h0m-137 1h0m11 32h0m9 7h0m170-12h0m18-7h0m44 15h0m28 0h0m17 1h0m34 2h0m10 3h0m58-2h0m-12 8h0m-155 8h0m-121-3h0m-45-3h0m-58 29h0m268-7h0m48 4h0m38 5h0m2-6h0m0 6h0m-151 17h0m-58 1h0m228 158h0m-16-6h0m-8 0h0m-3 0h0m-39 5h0m-33-4h0m-10 5h0m-53-1h0m-17-6h0m-4 7h0m-43-5h0m-11-3h0m-13 4h0m-15-3h0m-24 1h0m-8-5h0m-17 11h0m-32-9h0m-14 9h0m-1-5h0m-21 3h0" stroke="#3c246c" stroke-width="6.4" stroke-linecap="square"/>
<path transform="scale(0.25)" d="M431 1233h0m-22 32h0m1 4h0m26-10h0m56 17h0m-58-1h0m-30 5h0m-7 16h0m-9-5h0m-4-7h0m-23 9h0m-62-5h0m16 27h0m95-7h0m10 12h0m8-23h0m98 20h0m-102 6h0m-6 2h0" stroke="#fce424" stroke-width="6.4" stroke-linecap="square"/>
<path transform="scale(0.25)" d="M776 1232h0m-237 30h0m-196 20h0m-12 13h0m-32-5h0m187 29h0m16 7h0m-17 0h0m-90 13h0m-117-14h0m-26 73h0m173-5h0m141 5h0m-227 36h0" stroke="#b4d824" stroke-width="6.4" stroke-linecap="square"/>
<path transform="scale(0.25)" d="M343 1259h0m53 0h0m79 26h0m-69 7h0m-10 3h0m-177 14h0m165-12h0m63 9h0m-249 17h0m39 43h0m269-5h0m62-9h0m-108 33h0" stroke="#d8d824" stroke-width="6.4" stroke-linecap="square"/>
<path transform="scale(0.25)" d="M480 1256h0m45 11h0m-247 26h0m-30 23h0m103 2h0m0-7h0m39-6h0m34 6h0m88-2h0m-32 19h0m-19-6h0m-14 16h0m-18-9h0m-27 0h0m-22 3h0m-49-7h0m-11 8h0m-28 9h0m-73 19h0m74 2h0m12-6h0m5 7h0m7-12h0m37 9h0m16 3h0m34-11h0m19 13h0m1-18h0m13 18h0m1-10h0m9 7h0m38-13h0m46-4h0m36 26h0m-2 15h0m-1-7h0m-29-6h0m-1-4h0m-1 15h0m-46-3h0m-42 9h0m-12-17h0m-7 14h0m-14 0h0m-17-13h0m-11 6h0m-16 8h0m-3-4h0m-22-10h0m-13 3h0m-10 2h0m-1 2h0m-25-6h0m-27 0h0m-17-5h0m-10 4h0m-2 8h0m-35-6h0m-3 1h0m-30 36h0m63-11h0m14-7h0m14 1h0m47 2h0m31-5h0m9 9h0m0-5h0m68-3h0m4 7h0m37 4h0m36 9h0m9-20h0m8 14h0m2 6h0m20-1h0m21-16h0m9 2h0m4 8h0m4-9h0m-5 36h0m-1-19h0m-7 19h0m-30 1h0m-54-12h0m-6 4h0m-15-11h0m-8 7h0m-11 2h0m-8-7h0m-9 5h0m-16 9h0m-36-12h0m-23-4h0m-7 6h0m-3 1h0m-4 3h0m-10 1h0m-27-8h0m-6 15h0m-22-2h0m-3-11h0m-56 9h0m-10 4h0m-18-7h0m-8 3h0m4 12h0m0 8h0m13-1h0m24-6h0m31 11h0m40 6h0m22-1h0m24-1h0m10-1h0m7 6h0m3-22h0m19 3h0m9 16h0m9-12h0m6 1h0m0 9h0m13-15h0m3 8h0m4-3h0m4 1h0m35-2h0m27-2h0m94 3h0m-3 36h0m-116-16h0m-6 19h0m-8-21h0m-3 18h0m-50 1h0m-36-3h0m-4 2h0m-8-19h0m-44 9h0m-30 3h0m-2-9h0m-32-4h0m-27 1h0m-10-1h0m-21 28h0m69-1h0m29-3h0m263 1h0m34 21h0m5 15h0m-1-11h0m-211 3h0m-3-4h0m-57 28h0m-131 33h0" stroke="#189084" stroke-width="6.4" stroke-linecap="square"/>
<path transform="scale(0.25)" d="M328 1266h0m27 47h0m32-10h0m49-1h0m61 32h0m-86-8h0m-103 0h0m-46 22h0m55 12h0m39-15h0" stroke="#ccd824" stroke-width="6.4" stroke-linecap="square"/>
<path transform="scale(0.25)" d="M313 1269h0m4 18h0m-64 16h0m181 13h0m78 22h0m-260-3h0m-29 7h0m-30 11h0m67 14h0m139-17h0m76 14h0m9 1h0m47 11h0m-26 5h0m-44-8h0m-20 3h0m-41 7h0m-93 1h0m-58-3h0m-26 10h0m36 21h0m132-7h0m21-3h0m94 1h0m53 22h0m-211-7h0m-102 7h0m-31-7h0m38 39h0m-39 8h0m23 60h0" stroke="#30a878" stroke-width="6.4" stroke-linecap="square"/>
<path transform="scale(0.25)" d="M296 1264h0m52 55h0m113 1h0m-1 17h0m-220 18h0m295-1h0m11 9h0m-98 10h0m-18-2h0m-71 17h0m-46 2h0m-128-5h0m-4 26h0m38-10h0m147-8h0m12 1h0m3 21h0m186-11h0m-2 13h0m-20 9h0m-4-2h0m-46-1h0m-54 6h0m-12 3h0m-82-1h0m-17-4h0m-53 4h0m-90-1h0m-18 11h0m10 22h0m171-13h0m18-3h0m7 4h0m8-4h0m112 11h0m72 13h0m-2 12h0m-29-16h0m-71 6h0m-31 11h0m-49 2h0m-38-4h0m-51-5h0m-78 2h0m-17 8h0m-34-5h0m-7-7h0m-5 5h0m7 9h0m36 13h0m32 0h0m34 8h0m29-14h0m79-5h0m62 6h0m9-7h0m23-2h0m8 3h0m1 8h0m3 10h0m8-17h0m12 12h0m37 0h0m6 7h0m5-16h0m17 2h0m6 33h0m-10-10h0m-5 6h0m-27-10h0m-26-4h0m-29 22h0m-31-10h0m-15 0h0m-43-4h0m-9 12h0m-7-10h0m-97 13h0m-58-16h0m-1 3h0m-16 2h0m-1-4h0m-9 14h0m-1-6h0m-18-13h0m-8 30h0m76 5h0m29-14h0m55 8h0m24 1h0m48 1h0m113 10h0m8-8h0m58 28h0m-80-2h0m-35 0h0m-13 6h0m-129-3h0m-36-16h0m-77 14h0m-10 1h0m-28-10h0m-1 18h0m-3 6h0m30 10h0m130-7h0m216 7h0m26-8h0m10 14h0m-3 6h0m-177 3h0m-5-3h0m-60 7h0m-66 0h0m-20 16h0m158 6h0m85 2h0m84 171h0m-43 4h0m-67-3h0m-32 8h0m-17-11h0m-2 0h0m-7 5h0m-8-1h0m-16 3h0m-55-3h0m-44 5h0m-13-4h0m-16-1h0m-9 4h0m-1-6h0m-41 6h0m-18-3h0m-15-7h0" stroke="#3c3c78" stroke-width="6.4" stroke-linecap="square"/>
<path transform="scale(0.25)" d="M220 1361h0" stroke="#90d830" stroke-width="6.4" stroke-linecap="square"/>
<path transform="scale(0.25)" d="M439 1276h0m-58 34h0m120 27h0m-114-1h0m106 10h0m72 32h0m-24 4h0m-160 7h0" stroke="#6ccc48" stroke-width="6.4" stroke-linecap="square"/>
<path transform="scale(0.25)" d="M278 1273h0m92 30h0m103 37h0m-49 2h0m-130-5h0m-66 18h0m116 6h0m125-16h0m55 7h0m-26 37h0m-29-19h0m-82 15h0m-56 5h0m196 5h0m11 1h0m34 14h0m-163 18h0m-89-11h0m-36 16h0m204 37h0m-319 25h0m344-6h0m55 49h0" stroke="#249c78" stroke-width="6.4" stroke-linecap="square"/>
<path transform="scale(0.25)" d="M283 1317h0m37-14h0m2 13h0m54-14h0m3 8h0m57-12h0m56 19h0m51 10h0m-46-2h0m-31-5h0m0 24h0m-5-13h0m-55-3h0m-10 4h0m-30 0h0m-46-3h0m-61 6h0m-14-1h0m-7 10h0m-1-6h0m-17 22h0m3-6h0m11-5h0m77 17h0m23-16h0m4 5h0m34 6h0m151-11h0m3 9h0m6 15h0m-68 6h0m-77 5h0m-1-9h0m-3-1h0m-3 5h0m-11-1h0m-41-2h0m-77 1h0m-43 8h0m-32 13h0m142 10h0m129-5h0m60 2h0m43 6h0m2-3h0m9-7h0m-14 20h0m-371 2h0m9 23h0m358 0h0m-55 20h0" stroke="#3cb46c" stroke-width="6.4" stroke-linecap="square"/>
<path transform="scale(0.25)" d="M345 1337h0m-25 7h0m142 11h0m-295 16h0m88 53h0m-84-5h0m71 26h0" stroke="#30b478" stroke-width="6.4" stroke-linecap="square"/>
<path transform="scale(0.25)" d="M351 1306h0m48 63h0" stroke="#b4d830" stroke-width="6.4" stroke-linecap="square"/>
<path transform="scale(0.25)" d="M375 1245h0m-112 63h0m67 2h0m104 6h0m9 8h0m-171 4h0m-69 31h0m283 8h0m43-1h0m-150 17h0m-31-12h0" stroke="#9cd830" stroke-width="6.4" stroke-linecap="square"/>
<path transform="scale(0.25)" d="M704 1231h0m-24 48h0m-203 8h0m-14-14h0m-42 23h0m-81 11h0m31-4h0m148 22h0m-25-3h0m-10 12h0m-87-11h0m-39 8h0m-166 33h0m102 2h0m126-10h0m6-9h0m82-2h0m25 16h0m35 20h0m-156 7h0" stroke="#90cc3c" stroke-width="6.4" stroke-linecap="square"/>
<path transform="scale(0.25)" d="M377 1268h0m196-17h0m-86 37h0m-84 6h0m-171 19h0m97-9h0m174 13h0" stroke="#f0e424" stroke-width="6.4" stroke-linecap="square"/>
<path transform="scale(0.25)" d="M358 1316h0m8-16h0m192 1h0m-71 126h0" stroke="#60c060" stroke-width="6.4" stroke-linecap="square"/>
<path transform="scale(0.25)" d="M468 1270h0m-4 8h0m-63 58h0m-30 0h0m-148-1h0m-36 7h0m225 21h0m133 15h0m-4 2h0m-10 5h0m-78-13h0m-239 12h0m-5 24h0m24-9h0m47-2h0m183 42h0m-9-18h0m-57 13h0m-11-9h0m-2-5h0m-45 6h0m-40-6h0m-116 12h0m110 13h0m17 9h0m13 8h0m18-5h0m73-4h0m1 1h0m87-11h0m10 16h0m49-10h0m2 15h0m1 13h0m-92-7h0m-38 13h0m-56-1h0m-25-7h0m-11-2h0m-32 9h0m-32-17h0m-121 34h0m3-1h0m4-1h0m20 10h0m22-4h0m14 3h0m14 6h0m13-21h0m26 11h0m10 6h0m97 2h0m1-3h0m6-5h0m36 3h0m93 2h0m6-5h0m46 21h0m-25 11h0m-114-20h0m-68 11h0m-50 0h0m-153 30h0m18 4h0m127-9h0m107-1h0m17 2h0m71-13h0m56 45h0m-8-18h0m-3 4h0m-126 9h0m-34-7h0m-57 5h0m-97 3h0m-16-7h0m-58-5h0m10 37h0m42-1h0m53-13h0m102 11h0m83 4h0m32-8h0m34 9h0m24-21h0m26 6h0m1-5h0m1-2h0m2 16h0m-185 29h0m-43-13h0m-47-5h0m-84 18h0m69 16h0m201-8h0m18 8h0m45-2h0m-5 171h0m-2 1h0m-50 2h0m-38 6h0m-11-5h0m-20 5h0m-14-1h0m-11-8h0m-20 7h0m-30-6h0m-18 6h0m-11-4h0m-18-5h0m-5-4h0m-20 4h0m-32 2h0m-14 5h0m-6-6h0m-41 4h0" stroke="#3c2478" stroke-width="6.4" stroke-linecap="square"/>
<path transform="scale(0.25)" d="M872 1238h0m-476 23h0m19 3h0m457-10h0m0 21h0m-1 10h0m-362 11h0m-189 21h0m34-4h0m40-17h0m58 11h0m20 12h0m59-16h0m73 5h0m267 9h0m1 18h0m-269 0h0m-161-9h0m-34 0h0m-3 2h0m-109 4h0m-37-11h0m-33 18h0m23 22h0m109 2h0m1-11h0m110-3h0m3 7h0m64-5h0m9-1h0m326 10h0m2-3h0m-365 17h0m-64 0h0m-39 2h0m-4 4h0m-8-6h0m-20-2h0m-27-2h0m-27 10h0m-46-7h0m-11 4h0m-28 11h0m-28 14h0m103 2h0m8-3h0m13 4h0m40 2h0m34 8h0m60-13h0m12-6h0m4 15h0m24-10h0m44 8h0m6-3h0m4 3h0m6-5h0m3 6h0m1-15h0m303 15h0m1 9h0m-327 5h0m-68 13h0m-70-8h0m-71 5h0m-51-10h0m-49 8h0m-46 28h0m37 3h0m11-1h0m2-3h0m2 4h0m18-1h0m10-5h0m2-12h0m6 14h0m0-11h0m57 6h0m23-5h0m17-6h0m22 12h0m23-10h0m19 1h0m3-4h0m5 17h0m99-13h0m8 10h0m319-12h0m-2 36h0m0-4h0m-306 3h0m-5-6h0m-9 3h0m-22 0h0m-18 12h0m-37-11h0m-3-3h0m-21-1h0m-2-4h0m-2 2h0m-2 17h0m-5-21h0m-11 14h0m-35-12h0m-11 7h0m-43-1h0m-20 10h0m-6-19h0m-1 21h0m-4-12h0m-83-5h0m-26 18h0m-41-13h0m-1 21h0m0 12h0m3 4h0m0-20h0m4 17h0m4 2h0m16-22h0m7 13h0m48 7h0m2 1h0m9-5h0m1-14h0m1 10h0m28-1h0m9-11h0m27 18h0m5-5h0m11-1h0m21 2h0m16 2h0m11 1h0m32-12h0m2 13h0m3-12h0m15 1h0m4-3h0m6 0h0m0 18h0m96-18h0m6 13h0m23 21h0m-7-7h0m-6-1h0m-31 0h0m-17 0h0m-2-1h0m-42 2h0m-12 3h0m-4-2h0m-2-5h0m-4 9h0m-4-2h0m-1 6h0m-9-16h0m-10 8h0m-2 0h0m-3-6h0m-11 0h0m-46 1h0m-7 18h0m-5-1h0m-63-12h0m-18 1h0m-10-7h0m-34 1h0m-24 17h0m-14-11h0m-6-1h0m-6 8h0m-12 30h0m29-20h0m13 3h0m13 5h0m20-1h0m10 13h0m4-4h0m13-13h0m124 9h0m3-15h0m23 0h0m14 14h0m58 6h0m55-12h0m16 3h0m15 1h0m2 1h0m0-1h0m-24 26h0m-8 0h0m-31-14h0m-5 4h0m-25 10h0m-58-2h0m-20-7h0m-2 7h0m-51 1h0m-1 1h0m-28 1h0m-5-8h0m-5 0h0m-1 7h0m-17 3h0m-5-8h0m-6-5h0m-52 8h0m-3-7h0m-3 1h0m-28 16h0m-2-12h0m-16 11h0m-4-7h0m-1-14h0m-8 4h0m20 25h0m0-1h0m37 16h0m6-20h0m14 21h0m10-4h0m7 4h0m16 1h0m16-4h0m36 5h0m31-9h0m5 5h0m33-11h0m2 9h0m2 2h0m38-19h0m13 4h0m30 16h0m3 1h0m43-3h0m44 6h0m1-9h0m-76 15h0m-58 6h0m-57-7h0m-119 19h0m-47-14h0m-38 2h0m-10-5h0m328 30h0m66-2h0m-63 37h0m43 13h0m-68 37h0m100 82h0m-8 7h0m-1-7h0m-19 3h0m-6 3h0m-28-1h0m0 0h0m-2-3h0m-4-1h0m-29 0h0m-4-2h0m-1 3h0m-3 7h0m-1-7h0m-8 5h0m-10-3h0m-11-5h0m-10 10h0m-7-14h0m-51 12h0m-7 2h0m-10 2h0m-2-3h0m-6 2h0m-19-4h0m0 3h0m-3-6h0m-2 0h0m-8-1h0m-1 6h0m0-10h0m-4 5h0m-7-5h0m0 1h0m-1 4h0m-6 0h0m-3 4h0m-2-4h0m-5-3h0m-15 3h0m-9 5h0m-2-7h0m-1 3h0m-2 1h0m-20-2h0m-2-1h0m-1-1h0m-11 4h0m-18 0h0m-11-6h0m-4 2h0m-8 1h0m210 13h0" stroke="#3c3078" stroke-width="6.4" stroke-linecap="square"/>
<path transform="scale(0.25)" d="M347 1285h0m-87 24h0m91 1h0m141 11h0m-43 19h0m-143-17h0m31 27h0m100-5h0m89 40h0m-86-17h0m-163 6h0m-62-3h0m-30 37h0m56-10h0m257 29h0" stroke="#48b46c" stroke-width="6.4" stroke-linecap="square"/>
<path transform="scale(0.25)" d="M485 1244h0m-163 51h0m152 21h0m26-5h0m-218 18h0m-13 9h0m-15-8h0m-24 14h0m-22-15h0m162 38h0m144-20h0m85-2h0m-73 41h0m-263-3h0m98 27h0m108 4h0m37 2h0m-166 4h0m-154 39h0" stroke="#30b46c" stroke-width="6.4" stroke-linecap="square"/>
<rect x="27.5" y="281.5" width="206" height="195.8" fill="none" stroke="#999" stroke-width="1.0" />
<line x1="25" y1="281.5" x2="27.5" y2="281.5" stroke="#888" stroke-width="0.7" />
<text transform="translate(24.4,284.8)" font-size="8.8" text-anchor="end" fill="#111">0</text>
<line x1="25" y1="320.66" x2="27.5" y2="320.66" stroke="#888" stroke-width="0.7" />
<text transform="translate(24.4,323.96)" font-size="8.8" text-anchor="end" fill="#111">2</text>
<line x1="25" y1="359.82" x2="27.5" y2="359.82" stroke="#888" stroke-width="0.7" />
<text transform="translate(24.4,363.12)" font-size="8.8" text-anchor="end" fill="#111">4</text>
<line x1="25" y1="398.98" x2="27.5" y2="398.98" stroke="#888" stroke-width="0.7" />
<text transform="translate(24.4,402.28)" font-size="8.8" text-anchor="end" fill="#111">6</text>
<line x1="25" y1="438.14" x2="27.5" y2="438.14" stroke="#888" stroke-width="0.7" />
<text transform="translate(24.4,441.44)" font-size="8.8" text-anchor="end" fill="#111">8</text>
<line x1="25" y1="477.3" x2="27.5" y2="477.3" stroke="#888" stroke-width="0.7" />
<text transform="translate(24.4,480.6)" font-size="8.8" text-anchor="end" fill="#111">10</text>
<line x1="27.5" y1="477.3" x2="27.5" y2="479.8" stroke="#888" stroke-width="0.7" />
<text transform="translate(27.5,488.7) rotate(29)" y="3.2" font-size="9.2" text-anchor="middle" fill="#111">1998</text>
<line x1="50.5" y1="477.3" x2="50.5" y2="479.8" stroke="#888" stroke-width="0.7" />
<text transform="translate(50.5,488.7) rotate(29)" y="3.2" font-size="9.2" text-anchor="middle" fill="#111">2002</text>
<line x1="73.5" y1="477.3" x2="73.5" y2="479.8" stroke="#888" stroke-width="0.7" />
<text transform="translate(73.5,488.7) rotate(29)" y="3.2" font-size="9.2" text-anchor="middle" fill="#111">2006</text>
<line x1="96.5" y1="477.3" x2="96.5" y2="479.8" stroke="#888" stroke-width="0.7" />
<text transform="translate(96.5,488.7) rotate(29)" y="3.2" font-size="9.2" text-anchor="middle" fill="#111">2010</text>
<line x1="119.5" y1="477.3" x2="119.5" y2="479.8" stroke="#888" stroke-width="0.7" />
<text transform="translate(119.5,488.7) rotate(29)" y="3.2" font-size="9.2" text-anchor="middle" fill="#111">2014</text>
<line x1="142.5" y1="477.3" x2="142.5" y2="479.8" stroke="#888" stroke-width="0.7" />
<text transform="translate(142.5,488.7) rotate(29)" y="3.2" font-size="9.2" text-anchor="middle" fill="#111">2018</text>
<line x1="165.5" y1="477.3" x2="165.5" y2="479.8" stroke="#888" stroke-width="0.7" />
<text transform="translate(165.5,488.7) rotate(29)" y="3.2" font-size="9.2" text-anchor="middle" fill="#111">2022</text>
<line x1="188.5" y1="477.3" x2="188.5" y2="479.8" stroke="#888" stroke-width="0.7" />
<text transform="translate(188.5,488.7) rotate(29)" y="3.2" font-size="9.2" text-anchor="middle" fill="#111">2026</text>
<line x1="211.5" y1="477.3" x2="211.5" y2="479.8" stroke="#888" stroke-width="0.7" />
<text transform="translate(211.5,488.7) rotate(29)" y="3.2" font-size="9.2" text-anchor="middle" fill="#111">2030</text>
<text transform="translate(130.6,508.5)" font-size="12.3" text-anchor="middle" fill="#111">Inflection Time</text>
<text transform="translate(218.8,294.9)" font-size="12" text-anchor="start" fill="#111">D</text>
<path transform="scale(0.25)" d="M1055 1254h0m61 42h0m-15-3h0m-5 2h0m-9-4h0m-4 4h0m-4-4h0m-3 1h0m-1 0h0m-3-2h0m-17-13h0m0 3h0m-1 5h0m-1 2h0m0 4h0m0 27h0m0-1h0m0 3h0m0-7h0m0 3h0m1-1h0m0 3h0m0-1h0m0-5h0m0-5h0m1 6h0m0-16h0m0 3h0m0-4h0m1 20h0m1-3h0m2-9h0m4-3h0m0 17h0m0-20h0m2 8h0m1-2h0m1 7h0m0-2h0m1 4h0m2-4h0m0 4h0m1-2h0m1-5h0m0 7h0m2-6h0m2 10h0m1-20h0m2 13h0m2-9h0m1 14h0m1-6h0m2-9h0m0 8h0m1-2h0m0 8h0m1-18h0m0 12h0m0 0h0m0 8h0m2-10h0m2 2h0m1-1h0m3 6h0m2-3h0m1 2h0m1-1h0m0-1h0m3-3h0m3-10h0m3 1h0m1-1h0m3 15h0m0 5h0m1-7h0m1 1h0m5-2h0m1 8h0m1-6h0m2 2h0m1 3h0m0-4h0m1-13h0m1 2h0m1 4h0m0 5h0m2 6h0m2-4h0m3-1h0m1-6h0m3 7h0m3 1h0m1-7h0m1 9h0m1-4h0m2 3h0m3 1h0m0-4h0m1 2h0m4 1h0m0 0h0m0-5h0m0-1h0m1 5h0m-81 28h0m-5-2h0m-4 3h0m-5-3h0m-5-5h0m0-3h0m0 8h0m0-10h0m0 9h0m0-5h0m0-4h0m0 3h0m0 7h0m-1-14h0m0 0h0m0-4h0m0 22h0m0 1h0m0-17h0m0 12h0m0 4h0m0-5h0m0-7h0m0 3h0m0-1h0m0 9h0m0-4h0m0-17h0m-1 21h0m0-7h0m0 6h0m0-18h0m0 19h0m0-4h0m0 3h0m0-2h0m0-1h0m0-11h0m0 31h0m0 9h0m0-10h0m0 5h0m1 3h0m0-12h0m0 0h0m0-6h0m0 4h0m0-2h0m0-3h0m0 21h0m0-2h0m0-8h0m0-9h0m0 16h0m0-5h0m0 0h0m0 7h0m0-3h0m0-17h0m0 3h0m0 10h0m0 5h0m0-7h0m0 7h0m0 2h0m1-9h0m0-3h0m0 5h0m0-5h0m0-6h0m0 11h0m4-10h0m2 3h0m1-4h0m0 17h0m2-20h0m0 7h0m1 10h0m9-5h0m0 0h0m6 7h0m2-9h0m3-9h0m16 18h0m1 1h0m3-4h0m7 6h0m17 1h0m3-4h0m7-2h0m10 2h0m6 1h0m8 0h0m0 0h0m0-2h0m4 4h0m8-5h0m6 3h0m5 3h0m2-6h0m5 2h0m10 3h0m1-6h0m2 5h0m15-1h0m4 2h0m30 1h0m13-1h0m56 19h0m-2 5h0m-5 0h0m-19-14h0m-1 12h0m-1 0h0m-1-5h0m0-8h0m0 8h0m-4 6h0m-1-16h0m-1 8h0m-1-5h0m-1-2h0m-2 6h0m-2-5h0m-8 14h0m0-7h0m-2 0h0m-2-3h0m0-2h0m0 3h0m-1-4h0m-4-5h0m0 6h0m-1-6h0m-2 2h0m-1-5h0m-2 1h0m0 11h0m-2-13h0m-1 18h0m-2-17h0m0 9h0m-2 0h0m-2-3h0m-2-3h0m-4-2h0m-1 11h0m-5 9h0m0-11h0m-1 8h0m-1-9h0m0 6h0m0-2h0m-2 4h0m0-11h0m-1 2h0m-2 3h0m-1-2h0m-3-6h0m-1 3h0m-1 8h0m-1 6h0m-1-12h0m0 1h0m-1 7h0m-1-2h0m0 6h0m-1-17h0m-1 1h0m-1 6h0m-1 1h0m-1-1h0m-4 8h0m-2-3h0m-1 8h0m-6-20h0m-1 4h0m-2-5h0m0 8h0m-2 4h0m-2 5h0m0 1h0m-5-17h0m-1 13h0m-4-14h0m-6 13h0m-1 0h0m-1-7h0m-1-5h0m-5 3h0m-1 13h0m-1-9h0m-1 11h0m-3-16h0m-1 5h0m-5-1h0m-1-5h0m-1 18h0m0-16h0m-2 1h0m0 10h0m0-5h0m0 1h0m-3 2h0m0 7h0m-2-6h0m-1 5h0m-1-6h0m-1-12h0m-4 2h0m-2 14h0m-1-19h0m-1 19h0m-2-1h0m0 3h0m-1-7h0m-1 1h0m-3-14h0m-5 10h0m-1-3h0m-1 5h0m-1 7h0m-1-5h0m-1-14h0m-3 10h0m0-1h0m-3-4h0m-3 15h0m-1-20h0m-6-1h0m-2 18h0m-2-10h0m0-1h0m-1 11h0m-1-5h0m-1 0h0m-2-4h0m-1 5h0m-1-3h0m-1 1h0m-2 8h0m-3-7h0m-6 6h0m-1-6h0m-3 3h0m-2-4h0m-1-6h0m-1-4h0m-1 16h0m-3-15h0m0 12h0m-2 8h0m-1-13h0m-4 11h0m0-9h0m-5 7h0m-2-1h0m-1-17h0m0 6h0m-2-8h0m-1 22h0m0-12h0m0-3h0m0 3h0m-1-10h0m0 14h0m0 1h0m0-13h0m0-1h0m0 1h0m0 19h0m0-16h0m0 15h0m0-7h0m0-3h0m0-1h0m0 8h0m-1-10h0m0 13h0m0 24h0m0-18h0m1 7h0m0-8h0m0 2h0m0 15h0m0-18h0m0 11h0m0 0h0m1-8h0m0 1h0m0 19h0m0-13h0m1 4h0m0 8h0m3 2h0m0-4h0m1-4h0m2-10h0m0 16h0m1-14h0m0-6h0m4 11h0m0-10h0m3 10h0m0 4h0m5 6h0m0-12h0m2 0h0m4 4h0m4-5h0m0 2h0m7 7h0m4-11h0m1 11h0m2-2h0m2-7h0m2 8h0m3 0h0m1 0h0m1-9h0m1 4h0m6 10h0m0-17h0m0 18h0m2-5h0m2-12h0m1 2h0m1 3h0m2 5h0m1 2h0m0 0h0m2-11h0m0 1h0m2 3h0m11-11h0m2 17h0m2-3h0m0-7h0m10-3h0m0 1h0m1-4h0m0 8h0m2 8h0m3-7h0m2-8h0m1 13h0m3-4h0m0 1h0m2 6h0m2-17h0m3 11h0m0 1h0m1-8h0m1 15h0m2-4h0m0-1h0m4 1h0m1-2h0m2-8h0m1-1h0m4 6h0m0 10h0m6-20h0m0 7h0m1 1h0m0 8h0m4-3h0m4-15h0m1 17h0m0 0h0m1-10h0m2-2h0m3 4h0m0-8h0m0 9h0m1-9h0m1 20h0m0-11h0m1 12h0m3-15h0m3 14h0m1-15h0m1 13h0m1-16h0m1-2h0m9 2h0m1 20h0m0-13h0m2 13h0m1-18h0m5 9h0m3 3h0m1-2h0m3 2h0m0-17h0m5 0h0m8 0h0m1 7h0m3 7h0m1 6h0m2-11h0m1-4h0m4 9h0m9 10h0m1-14h0m1-6h0m0-3h0m6 2h0m3-1h0m0 11h0m2 7h0m0-16h0m0 19h0m1-2h0m1-5h0m2-14h0m1 11h0m2-5h0m4 0h0m4 10h0m2 5h0m5-9h0m0 10h0m2-16h0m0-6h0m3-1h0m7 5h0m2 11h0m0 2h0m1-13h0m1 12h0m1-17h0m0 0h0m1 6h0m0 14h0m0-11h0m1 4h0m1 9h0m2-6h0m4 6h0m6-16h0m1 2h0m6 4h0m0 11h0m2-9h0m1 0h0m3 3h0m4 3h0m0 2h0m16 25h0m-4-12h0m-1 0h0m0-4h0m-2 13h0m-2-3h0m-5 5h0m-1-20h0m-2 5h0m-2 7h0m-1-12h0m0 1h0m-6 7h0m-2 4h0m-1-3h0m-2 3h0m-1-12h0m-2 9h0m-3 4h0m-4-13h0m-1-1h0m-1 14h0m-3-4h0m-1-9h0m-1 19h0m0 1h0m0-18h0m-3 12h0m0-2h0m-1 1h0m-1 8h0m-1-3h0m0-16h0m-2-3h0m-1 20h0m-4-5h0m-1-7h0m-1 5h0m-2 0h0m-1-8h0m-2 2h0m-2 2h0m0-6h0m-2 16h0m0-21h0m0 18h0m-2-6h0m-1 5h0m0-7h0m-5-3h0m-3 7h0m-1 3h0m-2 3h0m-2-5h0m-2 4h0m-1-7h0m0-5h0m-4 0h0m-1 0h0m-2-1h0m-3 6h0m0-6h0m-4 5h0m-3 5h0m-1 5h0m0 1h0m-2-5h0m-3-6h0m-2 10h0m-2 1h0m-4-9h0m-1-10h0m0 8h0m-1-6h0m0 17h0m-1-8h0m-1-1h0m-1-10h0m0 7h0m-2 7h0m-3-4h0m0 3h0m-1 1h0m-2 0h0m0-6h0m-3-3h0m-4 7h0m0-10h0m-1-2h0m-2 7h0m-2 5h0m0-7h0m0 13h0m-11-12h0m0-5h0m-1 6h0m-6-6h0m-2 20h0m0-22h0m-1 19h0m-2-2h0m-2-13h0m-2 10h0m-1 6h0m-1-4h0m-1-18h0m0 14h0m-1 8h0m-2-10h0m0-7h0m-1 3h0m-1 5h0m-4-5h0m-2 3h0m-1 4h0m0-8h0m-1 8h0m-1-3h0m-2 0h0m-1 12h0m-3-22h0m-2 14h0m-2-11h0m0 17h0m-2 1h0m-1-4h0m-2-6h0m-2 2h0m-4 1h0m-1-1h0m-3 4h0m-3-19h0m-1 8h0m-3-5h0m-2 17h0m-1 1h0m-2-5h0m-1-9h0m-3 16h0m-1-5h0m-1-14h0m0 4h0m0 13h0m0-12h0m-2 3h0m-1 7h0m-1-5h0m0-5h0m0 0h0m-2 0h0m0 6h0m-6 5h0m-6 0h0m-1 1h0m-3-1h0m0-17h0m-4 18h0m-3-16h0m0 5h0m-4-8h0m-1 10h0m-2 1h0m-1 0h0m-1-8h0m-2-4h0m-3 6h0m-2-4h0m-1 17h0m-1-16h0m-2 9h0m-5 2h0m0 0h0m-2-9h0m-2 14h0m-2-7h0m-5 7h0m-5-8h0m0-2h0m-2 9h0m-1 1h0m0-14h0m-1-3h0m-2 11h0m-4 5h0m-1-15h0m0 20h0m0-18h0m-5 17h0m-1-9h0m-2 1h0m-1 7h0m-3-2h0m0 1h0m-1-5h0m0-14h0m0-1h0m0 17h0m0 3h0m0-14h0m0 12h0m0-7h0m0-6h0m0 10h0m0-4h0m0-5h0m0 10h0m0-10h0m0-1h0m-1-1h0m0 34h0m0 7h0m0-8h0m1 0h0m0 3h0m0-1h0m0-1h0m0-13h0m0 5h0m0 2h0m0-5h0m1 1h0m0 9h0m0-13h0m0 3h0m1 7h0m1-5h0m0 16h0m2-19h0m2 10h0m2 10h0m2 0h0m4-2h0m2-17h0m1 11h0m1-7h0m1 12h0m5-8h0m2-4h0m1 16h0m0-19h0m1 14h0m3-11h0m4 8h0m3 1h0m0-9h0m7 15h0m1-14h0m3 3h0m4-12h0m3 9h0m1-9h0m2 9h0m0 14h0m1 0h0m0-4h0m0-9h0m10-9h0m4 20h0m5 1h0m3-3h0m3-12h0m4-4h0m0 18h0m1-12h0m4-3h0m1 15h0m1-12h0m1 3h0m2 11h0m2-15h0m1 4h0m2 4h0m2 6h0m2-13h0m3 2h0m0-2h0m0-3h0m2 9h0m1 7h0m1-21h0m0 21h0m2 1h0m2-15h0m0 10h0m3-4h0m4-11h0m2 15h0m1 0h0m4-10h0m3 9h0m5-8h0m1 9h0m2-4h0m1 9h0m1-4h0m9 3h0m0-4h0m1-12h0m2 9h0m0-11h0m1 17h0m2 3h0m1-18h0m2 3h0m1 3h0m0-4h0m1 5h0m1 1h0m4 0h0m1-4h0m1-9h0m0 6h0m2 14h0m2-8h0m2-6h0m1 2h0m3 7h0m0-3h0m1-9h0m1 18h0m2-11h0m1 3h0m2-3h0m2-4h0m0 14h0m0-2h0m1-4h0m1-7h0m3 3h0m1-7h0m0 16h0m0-2h0m2-7h0m0-6h0m1 8h0m2-10h0m1 11h0m4 9h0m4-11h0m4 7h0m3-11h0m0 3h0m1-4h0m2 9h0m2 6h0m1-16h0m1 4h0m0 3h0m1-5h0m2-4h0m1 10h0m2 3h0m2 1h0m3-9h0m4-8h0m1 5h0m1 1h0m1 4h0m3 9h0m0 2h0m5-6h0m0 1h0m3-7h0m1 13h0m1-17h0m2 5h0m2 2h0m3 3h0m0-10h0m0 2h0m1 4h0m0-6h0m2 17h0m4-22h0m1 4h0m0 19h0m1-22h0m1 13h0m3-12h0m2-2h0m1 9h0m0 4h0m2 8h0m4-12h0m4-3h0m1 3h0m1-9h0m2 5h0m7 6h0m1 1h0m4 5h0m1 2h0m2-2h0m3 2h0m1-14h0m2 13h0m1-15h0m1 18h0m1-15h0m2 17h0m3-18h0m1 14h0m1-17h0m3 13h0m4 7h0m2-17h0m3 18h0m2-12h0m0 8h0m15 20h0m-4 7h0m-1-9h0m-3 3h0m-2 0h0m-2 3h0m-4-12h0m-4 8h0m-1-15h0m-5 12h0m-1-12h0m-1 12h0m-8 7h0m-1-6h0m-2 5h0m-1-1h0m-2-11h0m-1 0h0m0 3h0m-1-4h0m-2 0h0m0 3h0m-1-7h0m-1 16h0m-5 3h0m0-4h0m-3-2h0m-1-1h0m-1-4h0m-3 14h0m-3-11h0m0-6h0m0 1h0m-1 1h0m-2 9h0m-1-5h0m-2-13h0m-3 20h0m-2-6h0m-4-10h0m-1 9h0m0 10h0m-1-14h0m-1 0h0m-3 2h0m-1 6h0m0-3h0m-6-7h0m-1 17h0m0-1h0m-2-13h0m-1-3h0m-4 14h0m-1-19h0m0 19h0m0-9h0m-1 8h0m-2-12h0m-2-1h0m0 9h0m-1-2h0m-1-10h0m-6 18h0m-3-12h0m-3 3h0m0 7h0m-3-19h0m0 3h0m-2 4h0m0-7h0m-5 7h0m-8 1h0m-1 3h0m0-6h0m-7 9h0m0 4h0m-1-3h0m-2-14h0m0 20h0m-1-18h0m0 2h0m-1 10h0m0 0h0m-4-14h0m-2 10h0m-1-11h0m-1 16h0m-3-8h0m-2 1h0m-3-1h0m-1 4h0m0 8h0m-2-14h0m-2 3h0m-1-1h0m-1-3h0m-2 9h0m-2-3h0m-2 10h0m-1 0h0m0 1h0m-6-10h0m-3-9h0m0 11h0m-1-11h0m-2 10h0m-4-8h0m0 1h0m-4 17h0m-1-22h0m0 8h0m-8 2h0m0-10h0m-2 7h0m-4 15h0m-2-11h0m0 8h0m0 1h0m0-13h0m0 12h0m0-8h0m0-7h0m-3 12h0m0-3h0m-1 7h0m-6 1h0m-1-6h0m0 2h0m-1-17h0m-1-2h0m-1 17h0m0-3h0m-2-12h0m-5 13h0m0 2h0m-1-14h0m-2 6h0m-7 0h0m-4-8h0m-1 14h0m0-10h0m-2 19h0m-2-12h0m-2 9h0m-5-7h0m0 7h0m-1 1h0m-1-4h0m-1-16h0m-4-1h0m0 8h0m0-7h0m-5 10h0m0-10h0m-1 2h0m-3 1h0m-3-2h0m-3 16h0m-2-12h0m-1-4h0m-1-3h0m-1 13h0m-2 7h0m0-1h0m-1-17h0m-7 0h0m-2 8h0m0 7h0m0-4h0m0-10h0m-1 2h0m-2 2h0m-4 12h0m-1-9h0m-3-5h0m-1 0h0m-3 7h0m-3-4h0m-6 10h0m-1 6h0m-1-13h0m-2 6h0m-1-14h0m0 3h0m-1 12h0m-5 4h0m-3-19h0m0 2h0m0-5h0m-6 16h0m-4-8h0m-1-5h0m0 7h0m-1 5h0m0 2h0m0-1h0m0-1h0m0-4h0m-1 4h0m0-1h0m0 8h0m0-10h0m0-12h0m-1 14h0m0 4h0m0 2h0m0-19h0m0 12h0m0-9h0m0 22h0m0 8h0m1 3h0m0 0h0m0-8h0m0 6h0m0 6h0m0-11h0m0 15h0m0-12h0m0 1h0m0-1h0m0 3h0m0 0h0m0-8h0m0 11h0m0-9h0m0 10h0m0-5h0m0 0h0m0-5h0m1-1h0m0 3h0m0-3h0m0 9h0m0-7h0m1 2h0m3 15h0m0-4h0m2-15h0m2 15h0m5-15h0m2 18h0m3 0h0m0-1h0m2-18h0m2 17h0m1-3h0m0-6h0m4 1h0m0-9h0m1 14h0m1-15h0m1 15h0m2-15h0m2 12h0m0 1h0m3 3h0m0-14h0m2 1h0m1-3h0m2 11h0m1-13h0m1 3h0m7 18h0m0-1h0m2 2h0m3-10h0m0 10h0m1-5h0m2-5h0m1-6h0m1 15h0m0-4h0m5-10h0m0-5h0m6 5h0m1 14h0m2-15h0m4 0h0m1 15h0m1-1h0m1-4h0m5-4h0m3-5h0m3-3h0m0 0h0m1 7h0m4-7h0m1-1h0m5 14h0m1-9h0m2 2h0m3 5h0m1-2h0m1-5h0m2 15h0m0-3h0m2-11h0m0 6h0m2 5h0m0-16h0m2 13h0m1-8h0m0 4h0m1-2h0m5 0h0m3-12h0m1 22h0m1 0h0m4-15h0m1 15h0m2-10h0m0-9h0m3 10h0m4-12h0m2 22h0m3-1h0m1-4h0m0-2h0m2-1h0m7-11h0m2 13h0m1-7h0m2 12h0m3-16h0m0-5h0m0 18h0m1-13h0m0-1h0m2 3h0m1 7h0m1 7h0m0-21h0m10 18h0m5 2h0m2-15h0m1 13h0m1-3h0m1 8h0m0-6h0m1-10h0m0 10h0m5 3h0m1-14h0m3-1h0m6 14h0m0-18h0m1 20h0m1-20h0m0 10h0m0 11h0m2-8h0m0-3h0m1-7h0m2 13h0m6 0h0m0-15h0m5 8h0m2 5h0m0 2h0m5-6h0m1 5h0m0-4h0m2 5h0m0 2h0m0-7h0m1-1h0m2-2h0m1-3h0m2 2h0m0 0h0m1 0h0m1 14h0m0 0h0m0 0h0m1-12h0m1-2h0m1-2h0m0-3h0m4 13h0m2 4h0m5-5h0m0-15h0m1 11h0m2 1h0m2-4h0m3 9h0m2-5h0m1-4h0m0-5h0m1 2h0m0-2h0m1 10h0m1-11h0m2 9h0m11 11h0m4-12h0m3-7h0m1 16h0m3-18h0m2 7h0m0 5h0m2-14h0m0 16h0m2-9h0m2 8h0m2-8h0m0 6h0m0 5h0m6-10h0m1 13h0m1-10h0m1 13h0m3-1h0m4-4h0m1-10h0m2 10h0m1 1h0m1-9h0m0-3h0m1 2h0m1-5h0m1 3h0m2 14h0m1-12h0m3-6h0m1 0h0m1-4h0m2 5h0m0 4h0m4 14h0m5-12h0m1 7h0m5-12h0m1 11h0m5 24h0m-2 4h0m0-13h0m-2-3h0m-2-2h0m-2 8h0m-6 3h0m-2 7h0m0-21h0m-2 12h0m-2-5h0m0-2h0m-1 0h0m-3 6h0m-1-1h0m0 11h0m0-6h0m-2-14h0m-3 3h0m0 19h0m-3-9h0m-8-14h0m-2 7h0m0-2h0m-1 1h0m-3 15h0m-4-5h0m0-11h0m-2-4h0m-3 1h0m-1 6h0m0 0h0m-2 5h0m-5-12h0m-3 7h0m-2 4h0m0-5h0m-3 6h0m0 2h0m-4 1h0m-2-10h0m-1 9h0m0-4h0m-2-8h0m-1 6h0m-1 4h0m-3-5h0m-2 8h0m-1 1h0m-1-14h0m-2 13h0m-1-6h0m0 5h0m0-12h0m0 18h0m-2 0h0m0-6h0m-2-7h0m-3 2h0m-2-4h0m-2 10h0m-1-11h0m-1 9h0m-2-8h0m-5 10h0m-1-3h0m-1 6h0m0 2h0m-2-8h0m0 2h0m-1-15h0m-2 7h0m-3-1h0m-2 9h0m0-1h0m-5-7h0m0-2h0m-11 5h0m-5 2h0m-1-4h0m0 1h0m-4 8h0m0-15h0m-1 14h0m-2 1h0m-1-8h0m-1-8h0m-1 13h0m-3 7h0m-2-7h0m0 9h0m0-9h0m-4-12h0m-2 1h0m-1 14h0m-4-1h0m-2-6h0m-1-2h0m0-2h0m0 17h0m-2-17h0m-6 6h0m-3 1h0m-1-12h0m-6 11h0m-1 1h0m-1-4h0m-3 10h0m-5-11h0m-1 3h0m-3 1h0m-2 3h0m-1-4h0m0-6h0m-1-4h0m-1 14h0m-1-9h0m-3 11h0m-5 0h0m-1-15h0m-5 9h0m0-10h0m-1 2h0m-2 1h0m-3-1h0m-2 6h0m0 0h0m0-3h0m-1-2h0m-2 3h0m-2-2h0m-1-1h0m-2 11h0m-1 8h0m0-22h0m0 16h0m-5-4h0m-2-9h0m-3-2h0m-1 15h0m-6-15h0m-1 13h0m-1-2h0m-2-1h0m-1 5h0m0-12h0m-1-3h0m-1 12h0m-2-2h0m-1-10h0m-2 20h0m-6-15h0m0 2h0m-1 4h0m-1 0h0m-2 2h0m-2-3h0m-2-10h0m-2 0h0m0 11h0m-1 1h0m-1-13h0m-1 16h0m-3-3h0m0-9h0m-1 17h0m-1-18h0m-2-1h0m-2 8h0m-1-9h0m-1 2h0m0 5h0m-1 0h0m-5-3h0m-2 2h0m-2 8h0m-1-16h0m-2 11h0m-1 2h0m0-5h0m-1 3h0m0 3h0m-1 7h0m0-15h0m-1 3h0m0 3h0m-4-3h0m-1 15h0m-1-15h0m-4 3h0m-2-8h0m-2 12h0m-1-4h0m-1-2h0m-3-3h0m-3 4h0m-1 12h0m-1-6h0m0 3h0m-2-6h0m0-1h0m0-12h0m-1 5h0m0 17h0m-2-17h0m0 3h0m-1 5h0m-2-8h0m-2 17h0m-1-9h0m-1-1h0m0 0h0m-4-3h0m-1 11h0m0-10h0m0-3h0m-1-4h0m0 11h0m0-8h0m-1-4h0m0 2h0m0 6h0m0-9h0m0-1h0m0 6h0m0 3h0m0-10h0m0 7h0m0 10h0m-1-15h0m0-1h0m0 0h0m0 6h0m0-6h0m0 21h0m0-15h0m0 30h0m0-4h0m1-3h0m0 0h0m0 6h0m0 11h0m1-15h0m0 2h0m0-9h0m3 22h0m1-10h0m5 11h0m3-3h0m5-19h0m1 14h0m1-9h0m0-5h0m8 21h0m1-22h0m5 9h0m0 4h0m0 9h0m1-4h0m2-18h0m3 15h0m1 3h0m0-4h0m4 3h0m3-3h0m6 3h0m6-2h0m0 1h0m1-2h0m0-3h0m2 3h0m3 4h0m1-5h0m0 0h0m1 0h0m3 4h0m8-10h0m2-3h0m1-1h0m0 19h0m1-12h0m7 7h0m3-8h0m1 7h0m5-13h0m3 12h0m3-14h0m1 1h0m1 14h0m3-15h0m3-1h0m7 23h0m5-21h0m7 7h0m2 7h0m1 1h0m5 0h0m1-5h0m0 9h0m4-17h0m1-4h0m3 4h0m1 7h0m2 2h0m0 10h0m3-12h0m1 4h0m2-16h0m3 7h0m2 10h0m3 0h0m3 0h0m3-2h0m4-3h0m2-11h0m0 12h0m2-6h0m0 11h0m3-16h0m0 13h0m5 1h0m0 7h0m1-7h0m1 1h0m11 1h0m0-4h0m5 4h0m1 0h0m3-18h0m1 13h0m1-6h0m2-4h0m3 3h0m1 13h0m3-15h0m2 11h0m1 9h0m1-14h0m0-10h0m2 14h0m1 2h0m0-13h0m1-1h0m3 8h0m1 12h0m5-8h0m1-13h0m4 3h0m2 10h0m0-10h0m2 13h0m1-10h0m2-1h0m0 10h0m0-15h0m4 15h0m4-6h0m0 8h0m3-11h0m3 12h0m1-6h0m1-10h0m1 13h0m1 6h0m1-5h0m0 1h0m1 0h0m0-5h0m1 4h0m0-12h0m2 12h0m1-11h0m1 12h0m3-13h0m1 10h0m2 5h0m3-2h0m1-10h0m0 7h0m2-7h0m4 10h0m6 6h0m0-21h0m2 14h0m1 3h0m3-8h0m3-9h0m1 5h0m1 14h0m0-20h0m2 5h0m1 1h0m3 6h0m0-4h0m8-9h0m0 4h0m1 5h0m3 5h0m5 3h0m0-17h0m3 5h0m0 3h0m2 1h0m2-1h0m0 14h0m3-7h0m8 0h0m10-3h0m3-3h0m0-6h0m1-3h0m8 11h0m37 32h0m0 0h0m-1-6h0m-1 4h0m-1-8h0m-1-5h0m-3 1h0m-1 18h0m-2-2h0m0-5h0m-1-10h0m-2 4h0m0 9h0m-2-1h0m-1-13h0m-1 7h0m-1 4h0m-2-1h0m-1 4h0m0-1h0m-1-3h0m-1-7h0m-3 9h0m-1-5h0m-4 9h0m-1-5h0m-2 1h0m-2 0h0m-2-12h0m-2 13h0m-11-11h0m-6 11h0m-6-15h0m0 1h0m-2 7h0m-1-8h0m-1 15h0m0-19h0m-1 21h0m-1-6h0m-1-7h0m-2 10h0m-3 0h0m-1 1h0m-3-2h0m-1 1h0m-2-10h0m-2 0h0m-3-2h0m-4-6h0m-3 6h0m-1 12h0m0-5h0m-1 7h0m-2-3h0m-2 0h0m-1-1h0m-14 2h0m0-17h0m-4 5h0m-1 5h0m-1 6h0m-5-1h0m-1 8h0m-1-3h0m-8-1h0m-8-17h0m-4 7h0m-3 12h0m-2-6h0m-1 1h0m0-1h0m-3 1h0m-1-13h0m-1 15h0m-2-2h0m-2-5h0m-2 1h0m-1-6h0m-1 12h0m-1-8h0m-5 5h0m-1-7h0m-1-5h0m0 1h0m-1 11h0m-1 0h0m-3 2h0m0-6h0m-1 3h0m-3 1h0m0 3h0m-2-4h0m-5 2h0m-2 3h0m-3-13h0m-5 10h0m-2-14h0m-2 14h0m-2 3h0m-2-3h0m-4-3h0m0 7h0m0 0h0m-2-7h0m0 4h0m0-4h0m-8 3h0m0-12h0m-2 13h0m0-17h0m-1 16h0m-1 1h0m-1-13h0m-4 17h0m-1-9h0m-2 5h0m-7 0h0m0 2h0m-3 0h0m-1-11h0m0 14h0m0-4h0m-4 1h0m0-19h0m-5 18h0m-1 2h0m0-7h0m-1 7h0m-1-1h0m-3-9h0m-4 0h0m-1 7h0m0 0h0m-4-1h0m-1 1h0m0-6h0m-2 5h0m-2-9h0m0 11h0m-6-14h0m-2 16h0m-2-10h0m-3-8h0m0 10h0m-1 5h0m-1-3h0m-3 6h0m-1-1h0m0-12h0m0-3h0m-4 14h0m0 2h0m-1-5h0m-3-1h0m-2 6h0m-7-4h0m-3-1h0m-3-15h0m-1 17h0m-6 0h0m-2-7h0m-1-4h0m0 13h0m0-1h0m-3-18h0m0 2h0m-1 14h0m-1 2h0m-1-2h0m0 0h0m-3 4h0m0-1h0m-2-16h0m-2 19h0m-2-2h0m-2-6h0m-1 3h0m-1-2h0m-4-7h0m-2 1h0m-1 1h0m-3 5h0m-2 0h0m-1 6h0m0-17h0m-1 10h0m-3-15h0m-2 11h0m-1 6h0m-4 2h0m-8-1h0m-2 2h0m-2-6h0m-6-8h0m-1 15h0m-2-5h0m0 1h0m-3-14h0m-2 11h0m-4-7h0m-2 11h0m-2 1h0m0-15h0m-1 14h0m-1-8h0m-1 8h0m0-9h0m0 3h0m0-9h0m-1 12h0m0-8h0m0 12h0m0-3h0m0-5h0m0-10h0m0 8h0m0 13h0m-1-13h0m0-5h0m0 4h0m0 2h0m0 1h0m0 17h0m0 10h0m1 4h0m0 6h0m0-20h0m0-1h0m0 1h0m0-1h0m0-1h0m1 8h0m0 4h0m0-4h0m1 1h0m1 5h0m0-2h0m0 5h0m1-7h0m2 12h0m0-11h0m3 4h0m1-16h0m3 8h0m5 15h0m0-15h0m0-1h0m1-7h0m1 21h0m7-2h0m1 4h0m1-22h0m1 4h0m1 18h0m7-16h0m2 15h0m2-3h0m5 3h0m8 1h0m4-1h0m2-19h0m6 19h0m4-2h0m3 0h0m9 2h0m2 0h0m1-2h0m4 1h0m1-4h0m1 0h0m0 5h0m1 1h0m5-8h0m2-12h0m0 6h0m2 2h0m0-9h0m2 9h0m4 5h0m5 0h0m11 5h0m7-2h0m0-16h0m2 10h0m3 8h0m5-7h0m4-9h0m1 15h0m3-5h0m1 5h0m4 3h0m4-11h0m4 2h0m2 6h0m11-3h0m1-5h0m5 9h0m0-12h0m1 12h0m1-10h0m1 11h0m4-21h0m0 10h0m4 6h0m2-16h0m2 21h0m4-4h0m0-7h0m2 11h0m1-2h0m0-9h0m3-7h0m2 17h0m1 1h0m3 0h0m1-10h0m0-13h0m0 11h0m1-6h0m3 18h0m8-12h0m4 1h0m2-2h0m1 11h0m1 2h0m4 1h0m3-2h0m1-8h0m2 10h0m3-2h0m0 2h0m2-10h0m2 6h0m11 2h0m3-14h0m6 11h0m1-15h0m0 7h0m0 11h0m7-2h0m2 4h0m2-16h0m1 16h0m0-13h0m0-3h0m4 15h0m3-18h0m5 16h0m3-13h0m1 9h0m6 7h0m5-1h0m3-1h0m2 2h0m2-7h0m2 6h0m10-22h0m0 22h0m4-13h0m3 14h0m3-4h0m4 0h0m5-16h0m1 18h0m1 2h0m3-2h0m3-2h0m4-1h0m0 3h0m2 0h0m2 1h0m0-10h0m4 1h0m1 10h0m3-8h0m2 4h0m0-15h0m19-2h0m0 14h0m5 5h0m1-10h0m0-5h0m2 4h0m1 2h0m0-7h0m0 3h0m1-5h0m1 7h0m0-4h0m1 0h0m0 13h0m1-1h0m0-6h0m0 9h0m1-12h0m0 2h0m0 5h0m1 7h0m0-2h0m0 0h0m1 1h0m0 3h0m0 2h0m0 6h0m-1-7h0m0 14h0m0-3h0m-1-6h0m0-5h0m0 4h0m0-2h0m-1 8h0m0-2h0m-1-10h0m0 9h0m-1-10h0m0 4h0m0-2h0m-1 6h0m0 3h0m0 4h0m-1-11h0m-1 1h0m-4-5h0m0 0h0m-3 1h0m-3 2h0m-5 5h0m-1-2h0m0 13h0m-5-19h0m-2 19h0m-3-2h0m0-7h0m-4 7h0m-4 1h0m-3-17h0m-1 19h0m-2-7h0m-6-11h0m-3 10h0m0-10h0m-2 13h0m-2-14h0m0-1h0m0 3h0m-8-1h0m-1 21h0m-2 1h0m-2-13h0m-5-1h0m-2 12h0m-2-11h0m-1-7h0m-2 14h0m-2-4h0m-3-13h0m-4-1h0m-1 1h0m-8 1h0m-4 14h0m-3-4h0m-3-10h0m0 0h0m-2 19h0m-6-13h0m-1-3h0m-1-4h0m-4 21h0m-1-10h0m-6-4h0m-1-6h0m-1 14h0m-1-16h0m-3 1h0m-3 1h0m-4 17h0m0-18h0m-1-1h0m-11 23h0m-2-7h0m-2-5h0m-1-10h0m-5 10h0m-8 5h0m-1-5h0m-1-2h0m-2-1h0m-2 16h0m-1-16h0m0-6h0m0 6h0m0-5h0m-4 19h0m-5-13h0m-5 10h0m0-2h0m-1-15h0m-2 0h0m-1-1h0m-1 7h0m-1-6h0m0 14h0m-9 1h0m-1-8h0m-3 13h0m-5 2h0m0-21h0m-5-1h0m-3 10h0m-2-4h0m0 1h0m-5 3h0m-4 4h0m-2-1h0m-4-14h0m-1 2h0m-13 0h0m-4 7h0m-6-6h0m-1-3h0m0 12h0m-1-2h0m-2-10h0m-2 6h0m-5 8h0m-2-13h0m-1 14h0m-1-8h0m-1 3h0m-1-10h0m-2 3h0m0-3h0m-3 1h0m-5 11h0m-1 4h0m-1-15h0m-4 0h0m0 16h0m0-18h0m-5 15h0m-1-2h0m-3-1h0m0-10h0m-2-1h0m0 0h0m-6 5h0m0 2h0m-4 5h0m-5-4h0m-1-6h0m-2-2h0m-6 16h0m-1-13h0m0 2h0m-1 2h0m0 6h0m-1-9h0m-1 4h0m-1 1h0m-2-5h0m-3 6h0m0 0h0m0-10h0m-8 8h0m-2 5h0m-3-2h0m-5-12h0m-1 1h0m-2 5h0m-1 10h0m-3-10h0m-3-6h0m-1 7h0m-5 12h0m0-14h0m-1 11h0m-6 0h0m-5-14h0m-1 12h0m-1 2h0m-4-5h0m-1 11h0m-1-22h0m-1 9h0m-2-4h0m0 10h0m-1-4h0m0 1h0m-1-11h0m0 20h0m0-9h0m0-11h0m-1 0h0m0 15h0m2 8h0m0 3h0m7 12h0m18-5h0m3 5h0m3-9h0m3 2h0m9 1h0m2-5h0m1 12h0m0-15h0m1 14h0m15-9h0m0 8h0m2 0h0m5-1h0m1-5h0m2 8h0m7-9h0m5 14h0m4-13h0m3 11h0m4-15h0m8 20h0m10-9h0m3 2h0m2 5h0m10 2h0m4-19h0m8 2h0m0-1h0m5-2h0m3 0h0m0 17h0m4-1h0m13-13h0m16 7h0m6 9h0m2-6h0m5-7h0m13 2h0m2-10h0m11-1h0m16 12h0m3-5h0m8-5h0m27 16h0m1-11h0m39-1h0m3 2h0m4 6h0m1-3h0m0 3h0m3-1h0m0 9h0m0-2h0m4-16h0m0 12h0m6 0h0m1 2h0m0-11h0m0 6h0m3-7h0m10 5h0m9 10h0m2-5h0m2-6h0m1 6h0m5-16h0m2 2h0m10 17h0m0-5h0m1-14h0m1 11h0m10-7h0m2 10h0m2-3h0m8-9h0m0 1h0m3-1h0m0 2h0m0 2h0m1-1h0m1 36h0m-5-5h0m-4-2h0m-3-5h0m-4 5h0m-1 1h0m-11 11h0m-32-17h0m-3 7h0m-29-9h0m-8 1h0m-9-2h0m-9 9h0m-5 11h0m-2-22h0m-10 5h0m-4 16h0m-7-20h0m-2 18h0m-18 1h0m-8-21h0m-23 14h0m0-4h0m-5-3h0m-18-6h0m0 8h0m-15 8h0m-7-9h0m-3 1h0m-10 2h0m-17 2h0m-5-6h0m-1 10h0m-24-10h0m-4 0h0m-22 4h0m-4-6h0m-4-4h0m-17 10h0m-7-4h0m-10 7h0m-5 7h0m-4-8h0m-29-8h0m8 27h0m12 4h0m22 2h0m7 4h0m2-16h0m84 15h0m7-15h0m69 5h0m10 11h0m60-1h0m6-8h0m8 3h0m31-8h0m1 1h0m4-1h0m26-3h0m12 9h0m5-3h0m0 10h0m7-13h0m25-1h0m-66 43h0m-8-22h0m-19 14h0m-121-13h0m-70 0h0m-59 15h0m-25-1h0m-20 26h0m82 4h0m7-5h0m5-7h0m32 13h0m111-21h0m27 21h0m25-16h0m53 25h0m-199 16h0m-17-10h0m-61-2h0m-67 9h0m-6-1h0m-7 10h0m111-1h0m42 13h0m21-3h0m17 1h0m18 5h0m6-8h0m22-4h0m71-1h0m87 0h0m11 37h0m0-1h0m-2-3h0m-1 2h0m-3 3h0m-4 2h0m-1-7h0m-6 6h0m-2-1h0m-7 1h0m-1-2h0m0-1h0m-2 0h0m-1 0h0m-1 3h0m-3-4h0m-2 4h0m0-3h0m-2 4h0m-5-4h0m-3 3h0m-5-3h0m-1 1h0m-2-1h0m-2 2h0m-8-2h0m0 2h0m0 0h0m0 3h0m-2-6h0m-4-1h0m-6 5h0m-10-1h0m-2-1h0m-8-3h0m-3 0h0m-3 6h0m0-2h0m-1-6h0m-1 3h0m-3 0h0m-6 1h0m-1 5h0m-2-2h0m0 1h0m-4-8h0m-2 3h0m-3 2h0m-1 0h0m-3-1h0m0 2h0m-1-8h0m-3 7h0m-2 2h0m-1-7h0m-4 5h0m-4 0h0m-3-3h0m0 5h0m-5-5h0m-2-6h0m-7 5h0m-3 0h0m-1 4h0m0-8h0m-1 11h0m-1-1h0m-4-1h0m-4 0h0m0-1h0m-4 0h0m0-2h0m-1-2h0m-2 3h0m-3 2h0m-4 3h0m-1-1h0m-1-4h0m-4 4h0m-1-7h0m-3-2h0m-1 6h0m-1-4h0m-3 7h0m0 0h0m-2-5h0m-1 0h0m-1 0h0m-6 1h0m-3 5h0m-4-8h0m-1 2h0m-7 3h0m-1-2h0m-7 0h0m-6 2h0m-2-2h0m-2 1h0m-1-2h0m-1 4h0m-1-2h0m-1-3h0m-1 2h0m-1 1h0m0 2h0m-1-3h0m-5 2h0m-2-3h0m-1-1h0m0 2h0m-1-5h0m-1 3h0m-2 5h0m-1-3h0m-2-7h0m-1 11h0m-1 1h0m-3-10h0m0 1h0m-1 4h0m-2 2h0m0-5h0m-3 3h0m-2-7h0m0 3h0m-1 8h0m-3-4h0m-2 4h0m-3-7h0m0 6h0m-1-4h0m0 3h0m0-3h0m-5-4h0m-1 1h0m-4 1h0m-3 3h0m-2 2h0m-2-4h0m-2 4h0m0-2h0m-1-1h0m-2 5h0m-2-4h0m-1-2h0m0 3h0m-3 1h0m-1-1h0m-2 0h0m-1 0h0m0-6h0m-1 5h0m-5 3h0m-2 2h0m-1-6h0m-1 0h0m-1 5h0m-3-8h0m-1 4h0m-3-1h0m-1 5h0m0-6h0m0 2h0m-1 1h0m-4 3h0m-6-2h0m0 0h0m0-4h0m-4 3h0m-4-1h0m-8 4h0m-2-2h0m-1-5h0m-1 8h0m-7-5h0m-1-4h0m-2 3h0m-1 4h0m-2-6h0m0 1h0m-1 3h0m-4 1h0m-1-2h0m-1 5h0m-1-6h0m0 3h0m0 1h0m-1-2h0m-1 1h0m-10-7h0m0 6h0m0 2h0m-1-4h0m-1 5h0m3 2h0m20 0h0m27 1h0m18-1h0m26-1h0m0 0h0m0 3h0m8-3h0m14 1h0m0 0h0m16 2h0m9-2h0m5-1h0m12 2h0m2-1h0m1 0h0m19 1h0m4-2h0m1 0h0m2 3h0m4-1h0m6-1h0m2 0h0m7 0h0m4 0h0m15 6h0m8-3h0m8-2h0m1 2h0m5-3h0m7 2h0m8-2h0m2 2h0m9-2h0m1-1h0m11 3h0m10-3h0m7 1h0m14-1h0m25 6h0m12-3h0m3 0h0m3-3h0m5 0h0m2 0h0m16 1h0m28 40h0m0 1h0m-1 4h0m0-4h0m-1 0h0m0-2h0m0 2h0m0-1h0m-2 2h0m0-2h0m-1 1h0m0 3h0m0-3h0m-1 0h0m-1 0h0m-1 1h0m0 1h0m-1-2h0m-1 2h0m0 2h0m0-2h0m-1-1h0m-1 0h0m-1 1h0m0 0h0m0-3h0m-1 1h0m-1 1h0m0 0h0m-2-2h0m0 0h0m0 2h0m0 0h0m-1 0h0m0 1h0m-1 2h0m0-3h0m-2 0h0m-1-1h0m0 2h0m0 0h0m-1 2h0m-2-2h0m0-3h0m0 3h0m-1 0h0m-3-1h0m-1 0h0m-2 1h0m0-1h0m-3 0h0m-2-2h0m0 2h0m-1 3h0m-1-3h0m0 1h0m0-3h0m0 4h0m-1 0h0m-1-1h0m-1-1h0m0-1h0m0 2h0m-1 0h0m-2-1h0m0-1h0m0 0h0m-1 1h0m0 0h0m-1 0h0m0 0h0m-1 0h0m0-1h0m0 1h0m0-1h0m-1 3h0m0-3h0m-1 0h0m0 1h0m0-2h0m-1 2h0m0 3h0m-1-4h0m0 3h0m0-1h0m-1-2h0m0 2h0m-1-3h0m0 3h0m-1 0h0m-1 0h0m-1-1h0m-1 0h0m0 1h0m-1 0h0m-1-3h0m-1 2h0m-2 1h0m0-2h0m-1 1h0m0-1h0m-2 1h0m-1-1h0m-1 1h0m-1 1h0m0-2h0m-2 1h0m0 0h0m-2 1h0m0-1h0m0 2h0m0-3h0m-1 3h0m-1 0h0m0-3h0m-1 3h0m-3-2h0m0-1h0m0 2h0m0 0h0m-1 0h0m0-3h0m-4 1h0m-1 4h0m-1-3h0m-1-1h0m0 2h0m-1 0h0m0-1h0m-1 1h0m0-2h0m-2 3h0m-1-2h0m0 0h0m0-1h0m-1 2h0m-1 0h0m0 3h0m0-4h0m0-2h0m-4 2h0m0-1h0m0 1h0m-1 0h0m-1-3h0m0 3h0m0 0h0m-2-1h0m0 3h0m-1-2h0m0 0h0m0 1h0m-2 1h0m0-5h0m-1 3h0m0 0h0m0-1h0m-1 0h0m-1 3h0m0-3h0m0 2h0m-1-1h0m-1 0h0m-2-2h0m-1 2h0m-2 0h0m0-2h0m0 3h0m-1 0h0m0-3h0m0 1h0m-1 2h0m0-2h0m-1 2h0m0-1h0m-1 0h0m0 0h0m-1-1h0m-1 0h0m-2 3h0m0-2h0m-2 1h0m0 0h0m0 0h0m-1 0h0m0 1h0m-2-1h0m0-1h0m0 1h0m-1-1h0m0 0h0m-1-2h0m-3 2h0m0 1h0m0-2h0m-2 0h0m0 0h0m0 0h0m-1-1h0m0 0h0m-1 1h0m-1 2h0m0-2h0m0 1h0m0 0h0m-1 0h0m0-1h0m0-2h0m0 1h0m-1 0h0m0 2h0m-1 0h0m0-3h0m0 3h0m0 0h0m-1 2h0m0 0h0m-1-5h0m0 0h0m0 4h0m-1-2h0m0 1h0m-1-1h0m-2 2h0m0 2h0m0-2h0m-2-3h0m-2 3h0m-1-1h0m-1 1h0m-1-3h0m0 3h0m-1 0h0m0-2h0m0-1h0m-1 2h0m-2 2h0m0-2h0m-1-1h0m0 0h0m-2 1h0m-1 0h0m0-3h0m-1 2h0m-1 0h0m-1 2h0m0-1h0m-3 1h0m0 0h0m-1-2h0m0-1h0m0 3h0m-1-1h0m-1 0h0m0-1h0m0 3h0m-2-2h0m0 2h0m-1-2h0m0 1h0m-1-3h0m0 0h0m0 4h0m-2-2h0m-1-2h0m0 3h0m0-3h0m0 0h0m-1 4h0m-1-2h0m-1 1h0m0 2h0m-2-3h0m0-1h0m0 2h0m-2-5h0m0 4h0m-1 1h0m0-2h0m-1 0h0m0 0h0m0 0h0m0 2h0m0-2h0m-1 1h0m0 0h0m-2 2h0m0-3h0m-2 2h0m0-4h0m-1 1h0m0 0h0m-1 0h0m0 4h0m-1-1h0m0-1h0m-1 0h0m0-1h0m-1 1h0m0 2h0m0-1h0m0-1h0m-1-1h0m0 1h0m-1 0h0m-1 0h0m0-2h0m-1 2h0m0 1h0m-1-2h0m-1 1h0m0 1h0m-1 0h0m0-1h0m0 1h0m-1 1h0m-2-3h0m-2-1h0m0 3h0m0-1h0m0-1h0m-3 2h0m0 0h0m-1 0h0m0 0h0m0 0h0m-1 0h0m0-1h0m-1-1h0m0 1h0m-1 1h0m-2 0h0m0-1h0m-1 1h0m0-1h0m0 2h0m0-3h0m-1 2h0m0-1h0m-1 0h0m-1 0h0m-1-1h0m0 2h0m-1-1h0m-2-1h0m-1-1h0m-1 3h0m0-1h0m0-4h0m0-1h0m0 7h0m-1-5h0m0 4h0m-3 0h0m-1 0h0m0-2h0m-1 1h0m-1 1h0m0-1h0m-2 0h0m0-1h0m-1 2h0m-2 0h0m0 1h0m0-2h0m0 2h0m-1-4h0m0 4h0m-2-6h0m0 4h0m0 0h0m0 2h0m-1-5h0m-1 2h0m0 0h0m-1 0h0m-1 0h0m-1 0h0m-1 0h0m-1-2h0m0 4h0m-2-5h0m-1 4h0m0 1h0m-1-3h0m0 4h0m0-3h0m-2 1h0m-1-1h0m0-1h0m-1 2h0m-1-1h0m0 2h0m-1-3h0m-4 3h0m0-4h0m-1 5h0m-1-1h0m-1-1h0m-1-3h0m-2 4h0m-1-3h0m-2 2h0m0 0h0m0-2h0m0 3h0m-1-4h0m0 3h0m-1 0h0m-1 0h0m-1 1h0m0-3h0m0 2h0m-1 1h0m0-1h0m-1 0h0m0-2h0m-1 6h0m0-6h0m-1 2h0m-1 1h0m-2-1h0m-1-2h0m-1 2h0m-1-1h0m-2 3h0m0-2h0m-1 2h0m0-1h0m-1 1h0m0-4h0m0 3h0m0 0h0m-1-1h0m0 2h0m0-1h0m0-1h0m-1-3h0m0 3h0m-1 1h0m0-3h0m-1 3h0m0-3h0m-1 2h0m0-1h0m0 2h0m-3 0h0m-1-1h0m-1 0h0m0 2h0m0-4h0m-1 2h0m0-1h0m-1 2h0m0 1h0m-1-3h0m0 0h0m0 3h0m0-1h0m-1-3h0m0 0h0m0 1h0m-1 2h0m-1-3h0m-1 3h0m-1-2h0m0 2h0m-1-1h0m0 1h0m-1-2h0m0 2h0m0 0h0m-1 0h0m0-1h0m-1 2h0m0-2h0m0 0h0m-1-1h0m0 0h0m0 0h0m-2-1h0m0 3h0m-1-2h0m-1 3h0m0-1h0m0-1h0m-1 2h0m0-4h0m0 4h0m0 1h0m-1-3h0m0 1h0m0-2h0m0 3h0m-3-1h0m0-3h0m-4 4h0m0-3h0m-2 1h0m0 1h0m-1-1h0m0 3h0m0-3h0m-1 2h0m0-1h0m-1-3h0m0 2h0m-1 1h0m0 0h0m-3-2h0m0 1h0m-1 3h0m0-2h0m-1-2h0m0 1h0m0-1h0m-2 3h0m0-3h0m0 1h0m-1 0h0m-1 0h0m0 1h0m-1-2h0m0 3h0m-1-1h0m0-1h0m-1-1h0m0-1h0m-1 3h0m0-2h0m0-1h0m-1 1h0m0-1h0m0 2h0m-1 2h0m-1-3h0m0 0h0m-1-2h0m0 1h0m0 0h0m-1 3h0m0 0h0m0 0h0m-1-4h0m-1 2h0m-1 3h0m0-5h0m-1 3h0m0-1h0m0 2h0m0-1h0m-1 0h0m-2 1h0m-1 0h0m0-2h0m0 0h0m0 0h0m-1-2h0m0 3h0m0 1h0m-1 0h0m-1 0h0m-1 1h0m-1 1h0m0-2h0m0-4h0m-2 1h0m0 0h0m0 5h0m-1-1h0m-1 0h0m0-2h0m-1-1h0m0 0h0m0 0h0m-1 1h0m-2-2h0m-1 2h0m0-1h0m0 2h0m-1 0h0m0-1h0m-1 0h0m-1 0h0m0 2h0m-1-2h0m0 1h0m0-1h0m-1 2h0m-1-4h0m-1 1h0m0 0h0m0-1h0m0 6h0m0-5h0m-1 1h0m-1 2h0m0-2h0m0-2h0m0 3h0m-2 0h0m0-1h0m0-2h0m0 6h0m-1-3h0m0-1h0m-1 1h0m0-3h0m0 4h0m-1 1h0m0-4h0m0 1h0m-2 1h0m0 0h0m-1-2h0m-2 1h0m-2 1h0m0 0h0m-1 2h0m-1-5h0m-1 2h0m-1 1h0m0-1h0m-2 1h0m0-1h0m-1 0h0m0 1h0m0-2h0m0-1h0m-1 0h0m-1 3h0m0-2h0m-1 1h0m-1 0h0m0-3h0m-1 3h0m0-2h0m0 0h0m0 2h0m-1 0h0m0 3h0m0-3h0m-1-1h0m0 2h0m0 1h0m0-1h0m-3-2h0m0-1h0m-1-1h0m-1 0h0" stroke="#faf028" stroke-width="6.4" stroke-linecap="square" stroke-opacity="0.82"/>
<path transform="scale(0.25)" d="M1055 1244h0m-2-10h0m0 34h0m0-6h0m2 8h0m77 25h0m-12 0h0m-12-1h0m-1-1h0m-3 0h0m-3-4h0m-33-5h0m-3 2h0m-10 6h0m0 2h0m0-8h0m0-5h0m-1 4h0m0 9h0m0-5h0m0-7h0m0-9h0m0 13h0m0 9h0m0-9h0m0 2h0m0 4h0m-1-18h0m0 30h0m0 13h0m0-4h0m0-12h0m1 10h0m0 0h0m0-7h0m0 0h0m0-5h0m0 12h0m0-9h0m0-5h0m0-1h0m0 15h0m0-2h0m1-2h0m0-7h0m0 18h0m0-14h0m0 10h0m0-15h0m6 20h0m5 1h0m59-23h0m25 6h0m2 0h0m7 41h0m-31-5h0m-2 2h0m-8-6h0m-4-1h0m-10 3h0m-2 2h0m-1 4h0m-1-5h0m-3-3h0m0 0h0m-2 1h0m0-2h0m-2 3h0m-6-7h0m-7-1h0m0 9h0m-1-7h0m-1 2h0m-4-12h0m-5 6h0m0 3h0m-1 6h0m-15-14h0m34 24h0m2 3h0m11 7h0m1-9h0m4 1h0m0 7h0m3 3h0m1-9h0m1-3h0m2 2h0m1 8h0m1 5h0m3-5h0m4-12h0m3 16h0m0-11h0m6 5h0m1 0h0m9 5h0m1-4h0m9-2h0m4-4h0m3 10h0m4-12h0m3 9h0m2 1h0m0-2h0m5 3h0m0-7h0m3 0h0m6 1h0m2 6h0m4-2h0m4-5h0m4-4h0m2 9h0m1-5h0m4 3h0m1 3h0m7-3h0m12-2h0m2 1h0m2 4h0m5 3h0m6-7h0m13 8h0m0-1h0m1 0h0m16 3h0m1-2h0m2-2h0m14 4h0m9 2h0m2 2h0m63 20h0m-13-2h0m-5 2h0m-13-6h0m-16-10h0m0 0h0m-8 4h0m-4-3h0m-1-3h0m-2-1h0m-1 0h0m48 26h0m5 1h0m7 9h0m6-5h0m0 5h0m9 8h0m0 2h0m7 0h0m11-3h0m8 26h0m-1-9h0m-2 12h0m0-9h0m-8-4h0m15 17h0m4-2h0m5 19h0m10 1h0m9 19h0m-7-4h0m-4 7h0m-2-8h0m-4-7h0m-1 3h0m10 27h0m0-4h0m1 12h0m1 1h0m1-11h0m0 11h0m1-5h0m0 8h0m1 0h0m6-1h0m1-11h0m1 0h0m5 3h0m1 2h0m21 30h0m-2-1h0m-2 0h0m-1-14h0m-1-3h0m-6 8h0m-4-5h0m-9 3h0m0-9h0m-4 9h0m-1-5h0m-2-2h0m-1-2h0m0 13h0m0-6h0m-4 9h0m0-8h0m6 24h0m5 6h0m1-13h0m2 6h0m1 7h0m0 5h0m2-3h0m0-15h0m1 22h0m1-11h0m0 2h0m3-10h0m1 13h0m3-12h0m1 12h0m0-9h0m1 13h0m4-8h0m3 2h0m1 1h0m0-11h0m1-5h0m0 15h0m0-3h0m0 1h0m-14 10h0" stroke="#fae628" stroke-width="6.4" stroke-linecap="square" stroke-opacity="0.82"/>
<path transform="scale(0.25)" d="M1056 1242h0m-1-6h0m-1 5h0m-1 10h0m0 12h0m0-15h0m0 10h0m1 7h0m0 3h0m0-19h0m0 3h0m0 8h0m1 3h0m1-3h0m48 30h0m-11-1h0m-13-5h0m-8-1h0m-5-3h0m-6 3h0m-1-3h0m-5 11h0m-1-7h0m0-12h0m-1 7h0m0-6h0m0 33h0m1 2h0m1 1h0m14 9h0m7 0h0m6-4h0m5 3h0m1 0h0m0-2h0m3 1h0m12 4h0m2 0h0m31-24h0m49 44h0m-1 2h0m-5-4h0m-5 5h0m-3-2h0m-1-1h0m-4 2h0m-4 1h0m-2-7h0m-2 0h0m-8 4h0m-1-7h0m-2 6h0m-1 1h0m-3-4h0m-1-3h0m-11-6h0m-2 7h0m-2 1h0m-1-5h0m-16 3h0m-1-10h0m-4 6h0m-3-6h0m-13 0h0m-5-1h0m110 25h0m15-1h0m0 1h0m9 4h0m2-6h0m15 7h0m0-3h0m1-5h0m11 10h0m14-1h0m10 4h0m1 3h0m13-3h0m81 32h0m-17-7h0m-6 6h0m-1 0h0m-7-10h0m0 6h0m-7-6h0m-17-9h0m-3 1h0m0 0h0m-9-2h0m75 35h0m4-8h0m46 44h0m-18-11h0m-10 10h0m-3-5h0m-14-17h0m31 43h0m9-9h0m6-2h0m2-4h0m18 37h0m-5-6h0m-14-2h0m-2 10h0m-1-6h0m-6-4h0m0-4h0m-1-1h0m0 3h0m-2-7h0m17 48h0m16-23h0m2 12h0m3 7h0m3 3h0m2 19h0m0 3h0m0-6h0m-1 4h0m-1-4h0m-1 3h0m-1 2h0m-3-13h0m-2 5h0m-4 6h0m-2-7h0m11 14h0m3 1h0" stroke="#fadc28" stroke-width="6.4" stroke-linecap="square" stroke-opacity="0.82"/>
<path transform="scale(0.25)" d="M1054 1268h0m1 4h0m96 20h0m-17-2h0m-7 1h0m-6 0h0m-25-7h0m-18-2h0m-21-6h0m-1 4h0m-2 13h0m-1 2h0m1 7h0m10 8h0m17-4h0m7 9h0m12 4h0m48-23h0m95 45h0m-10 1h0m-38-5h0m-1-2h0m-5-2h0m-1 0h0m-9-1h0m-1 1h0m-3-3h0m-3 2h0m-3-2h0m-3 4h0m-2-3h0m-2 2h0m-12-6h0m-19-2h0m122 23h0m2-2h0m3 3h0m0-2h0m1-3h0m0 4h0m22 6h0m11 2h0m0 1h0m11 0h0m18 10h0m5-2h0m32 24h0m-8-3h0m-11-9h0m32 22h0m35 14h0m2-3h0m3-6h0m3 4h0m4 0h0m4 8h0m1-4h0m13 22h0m-2 0h0m-32 1h0m-10-17h0m-1 1h0m24 30h0m0 2h0m1 8h0m18-6h0m1-10h0m0 0h0m3 19h0m1-6h0m0 4h0m1-8h0m6 23h0m-2-8h0m-5 1h0m-7 23h0m11 8h0m12 20h0m0 5h0m-1-7h0m-4-2h0m-1 0h0m-1 2h0" stroke="#fad228" stroke-width="6.4" stroke-linecap="square" stroke-opacity="0.82"/>
<path transform="scale(0.25)" d="M1073 1275h0m99 52h0m163 44h0m59 41h0m28 45h0" stroke="#f0c828" stroke-width="6.4" stroke-linecap="square" stroke-opacity="0.82"/>
<path transform="scale(0.25)" d="M1054 1263h0m56 22h0m-30-8h0m-5 1h0m-7 28h0m4-1h0m29 2h0m8 2h0m4 0h0m19 5h0m123 22h0m-7 2h0m-11-4h0m-7-1h0m-15-3h0m-1 2h0m-15-2h0m-8-2h0m-2-1h0m-5 1h0m-19-4h0m-30-4h0m146 26h0m124 39h0m-35 4h0m-2 0h0m22 17h0m20 26h0m-2-2h0m-3-2h0m20 31h0m27 44h0m3 2h0" stroke="#f0be28" stroke-width="6.4" stroke-linecap="square" stroke-opacity="0.82"/>
<path transform="scale(0.25)" d="M1061 1278h0m-7 19h0m0 8h0m27 2h0m10 0h0m5 7h0m11 0h0m152 27h0m-25-6h0m-46-2h0m-23-4h0m0-5h0m-4 3h0m-28-6h0m149 29h0m19 3h0m9 4h0m14 7h0m74 20h0m-30 6h0m44 47h0m7 14h0m14 29h0m22 33h0m-2-1h0m0 1h0" stroke="#fac828" stroke-width="6.4" stroke-linecap="square" stroke-opacity="0.82"/>
<path transform="scale(0.25)" d="M1122 1285h0m-16-3h0m-39 19h0m17 0h0m21 4h0m44 12h0m3-2h0m3 4h0m130 24h0m-27-9h0m-5-2h0m-30 0h0m-4-5h0m-9-1h0m85 23h0m17 6h0m12 6h0m50 30h0m-11-13h0m-5 2h0m-8-4h0m38 24h0m18 26h0m-4-7h0m21 34h0m5 7h0m21 32h0" stroke="#f0b428" stroke-width="6.4" stroke-linecap="square" stroke-opacity="0.82"/>
<path transform="scale(0.25)" d="M1147 1286h0m-10 0h0m-22-1h0m-6 0h0m-22-7h0m-6 2h0m-26 15h0m-1-15h0m9 19h0m15 1h0m13 0h0m46 12h0m2 3h0m23-1h0m11 5h0m111 20h0m-7 2h0m-10-3h0m-1 0h0m-4-7h0m-15-1h0m-20-7h0m-14 1h0m-5 0h0m-28-4h0m-15 0h0m129 25h0m17 6h0m1-2h0m15 9h0m6 2h0m7 8h0m1-5h0m8 5h0m12 10h0m-6-4h0m-12-4h0m56 43h0m15 20h0m-8-12h0m27 38h0m15 28h0m-1-4h0m-9-6h0" stroke="#f0aa28" stroke-width="6.4" stroke-linecap="square" stroke-opacity="0.82"/>
<path transform="scale(0.25)" d="M1068 1273h0m2 25h0m4 0h0m26 5h0m196 39h0m-34-13h0m-20-4h0m-15-2h0m-20-3h0m114 36h0m0-2h0m2-3h0m14 13h0m3-6h0m8 7h0m31 19h0m-3 5h0m-1-3h0m-5-4h0m-16-8h0m45 34h0m5 5h0m2 3h0m24 38h0m13 20h0m-7-8h0" stroke="#f0a028" stroke-width="6.4" stroke-linecap="square" stroke-opacity="0.82"/>
<path transform="scale(0.25)" d="M1092 1295h0m-24 1h0m-13-23h0m27 23h0m18 4h0m3 1h0m24 7h0m6-5h0m3 2h0m22 4h0m5 1h0m4 1h0m21 1h0m93 22h0m-21-4h0m-10-4h0m-6-5h0m-13 4h0m79 24h0m4 2h0m66 31h0m16 16h0m12 15h0m1 2h0m10 14h0m-3-9h0m21 39h0m9 18h0" stroke="#f09628" stroke-width="6.4" stroke-linecap="square" stroke-opacity="0.82"/>
<path transform="scale(0.25)" d="M1178 1238h0m-22 21h0m133 27h0m-144 4h0m-24-10h0m-4-2h0m-4-1h0m-25 19h0m25 4h0m2 1h0m33 5h0m29 1h0m7 3h0m7-2h0m114 33h0m-22-6h0m-32-14h0m69 29h0m13 5h0m13 3h0m53 40h0m1 1h0m4 3h0m7 8h0m4 3h0m10 16h0m-9-9h0m13 22h0m3 2h0m4 4h0m2 9h0m0-5h0m2 4h0m5 14h0" stroke="#f08c28" stroke-width="6.4" stroke-linecap="square" stroke-opacity="0.82"/>
<path transform="scale(0.25)" d="M1055 1249h0m99 37h0m-65-11h0m118 38h0m7 2h0m99 24h0m-41-10h0m-22-5h0m103 40h0m11 3h0m42 35h0m24 37h0m-5-9h0m15 20h0m0 3h0m0 3h0m4 3h0" stroke="#e68228" stroke-width="6.4" stroke-linecap="square" stroke-opacity="0.82"/>
<path transform="scale(0.25)" d="M1192 1244h0m-113 13h0m132 6h0m-70 25h0m-24 7h0m-19 0h0m21 2h0m11 0h0m10 0h0m28 6h0m44 11h0m20 3h0m120 46h0m0-2h0m7 0h0m9-8h0m22 35h0m-3-2h0m-4-4h0m26 24h0m5 2h0m4 4h0m16 25h0m-2-5h0m-5-4h0m-1-6h0m-1-1h0m-3-1h0m14 26h0m1-2h0" stroke="#e67828" stroke-width="6.4" stroke-linecap="square" stroke-opacity="0.82"/>
<path transform="scale(0.25)" d="M1054 1249h0m189 34h0m-91 8h0m-23 11h0m15 1h0m43 5h0m106 11h0m-28 11h0m94 35h0m34 28h0m27 26h0m-1 2h0m23 37h0" stroke="#f08228" stroke-width="6.4" stroke-linecap="square" stroke-opacity="0.82"/>
<path transform="scale(0.25)" d="M1087 1271h0m171-1h0m-144 22h0m-40-5h0m83 11h0m75 15h0m1 2h0m7-2h0m17 4h0m51 18h0m-39-14h0m55 26h0m12-1h0m13 8h0m6 4h0m45 31h0m15 21h0m4 4h0m2-5h0m4 9h0" stroke="#e66e28" stroke-width="6.4" stroke-linecap="square" stroke-opacity="0.82"/>
<path transform="scale(0.25)" d="M1063 1270h0m1-2h0m73-9h0m137 22h0m-117 14h0m-4-1h0m-27-13h0m-8 12h0m88 9h0m37 8h0m72-13h0m-53 24h0m78 32h0m68 38h0m4 11h0m7 6h0m6 6h0" stroke="#e66428" stroke-width="6.4" stroke-linecap="square" stroke-opacity="0.82"/>
<path transform="scale(0.25)" d="M1235 1293h0m-117-13h0m0 0h0m259 82h0m24 26h0m-4-1h0m13 5h0" stroke="#e6641e" stroke-width="6.4" stroke-linecap="square" stroke-opacity="0.82"/>
<path transform="scale(0.25)" d="M1055 1269h0m166 18h0m-27-12h0m-29 19h0m-22-3h0m-5-2h0m-6 3h0m-4-10h0m-58 0h0m143 18h0m133 0h0m2 43h0m-5-4h0m-42-8h0m56 25h0m74 25h0m-30 1h0m-11-8h0m-4 4h0m31 21h0" stroke="#e65a1e" stroke-width="6.4" stroke-linecap="square" stroke-opacity="0.82"/>
<path transform="scale(0.25)" d="M1182 1253h0m-84 29h0m-19 2h0m-13-4h0m219 45h0m121 62h0m-16-11h0m0-2h0" stroke="#e6501e" stroke-width="6.4" stroke-linecap="square" stroke-opacity="0.82"/>
<path transform="scale(0.25)" d="M1065 1237h0m-3 30h0m226 4h0m-74 13h0m-159-7h0m172 30h0m87 6h0m46 33h0m22 18h0m1 3h0m2 0h0" stroke="#dc461e" stroke-width="6.4" stroke-linecap="square" stroke-opacity="0.82"/>
<path transform="scale(0.25)" d="M1089 1231h0m175 34h0m-122 12h0m-29 3h0m-23-8h0m-4 8h0m-25-6h0m281 67h0m38 20h0" stroke="#dc3c1e" stroke-width="6.4" stroke-linecap="square" stroke-opacity="0.82"/>
<path transform="scale(0.25)" d="M1246 1295h0m-76-3h0m-10-3h0m110 8h0" stroke="#dc321e" stroke-width="6.4" stroke-linecap="square" stroke-opacity="0.82"/>
<path transform="scale(0.25)" d="M1326 1236h0m-107 8h0m-7-9h0m-102-2h0m-52 7h0m-3-3h0m-2 15h0m1 12h0m0-16h0m9 19h0m10 5h0m36-1h0m6-5h0m11-11h0m20 7h0m33-9h0m199 30h0m-40 1h0m-45 7h0m-51 0h0m-2 5h0m-109-24h0m-55 2h0m140 25h0m47 6h0m98 7h0m76 11h0m-13 13h0m-7-2h0m-7-7h0m-24 12h0m-34-18h0m-55 0h0m80 35h0m7-7h0m0-4h0m52 43h0m-22 16h0m2-1h0m4 4h0m6 7h0m4-17h0" stroke="#dc281e" stroke-width="6.4" stroke-linecap="square" stroke-opacity="0.82"/>
<rect x="251.8" y="282.5" width="206.7" height="195.8" fill="none" stroke="#999" stroke-width="1.0" />
<line x1="249.3" y1="282.5" x2="251.8" y2="282.5" stroke="#888" stroke-width="0.7" />
<text transform="translate(248.7,285.8)" font-size="8.8" text-anchor="end" fill="#111">0</text>
<line x1="249.3" y1="321.66" x2="251.8" y2="321.66" stroke="#888" stroke-width="0.7" />
<text transform="translate(248.7,324.96)" font-size="8.8" text-anchor="end" fill="#111">2</text>
<line x1="249.3" y1="360.82" x2="251.8" y2="360.82" stroke="#888" stroke-width="0.7" />
<text transform="translate(248.7,364.12)" font-size="8.8" text-anchor="end" fill="#111">4</text>
<line x1="249.3" y1="399.98" x2="251.8" y2="399.98" stroke="#888" stroke-width="0.7" />
<text transform="translate(248.7,403.28)" font-size="8.8" text-anchor="end" fill="#111">6</text>
<line x1="249.3" y1="439.14" x2="251.8" y2="439.14" stroke="#888" stroke-width="0.7" />
<text transform="translate(248.7,442.44)" font-size="8.8" text-anchor="end" fill="#111">8</text>
<line x1="249.3" y1="478.3" x2="251.8" y2="478.3" stroke="#888" stroke-width="0.7" />
<text transform="translate(248.7,481.6)" font-size="8.8" text-anchor="end" fill="#111">10</text>
<line x1="251.8" y1="478.3" x2="251.8" y2="480.8" stroke="#888" stroke-width="0.7" />
<text transform="translate(251.8,488.7) rotate(29)" y="3.2" font-size="9.2" text-anchor="middle" fill="#111">1998</text>
<line x1="274.8" y1="478.3" x2="274.8" y2="480.8" stroke="#888" stroke-width="0.7" />
<text transform="translate(274.8,488.7) rotate(29)" y="3.2" font-size="9.2" text-anchor="middle" fill="#111">2002</text>
<line x1="297.8" y1="478.3" x2="297.8" y2="480.8" stroke="#888" stroke-width="0.7" />
<text transform="translate(297.8,488.7) rotate(29)" y="3.2" font-size="9.2" text-anchor="middle" fill="#111">2006</text>
<line x1="320.8" y1="478.3" x2="320.8" y2="480.8" stroke="#888" stroke-width="0.7" />
<text transform="translate(320.8,488.7) rotate(29)" y="3.2" font-size="9.2" text-anchor="middle" fill="#111">2010</text>
<line x1="343.8" y1="478.3" x2="343.8" y2="480.8" stroke="#888" stroke-width="0.7" />
<text transform="translate(343.8,488.7) rotate(29)" y="3.2" font-size="9.2" text-anchor="middle" fill="#111">2014</text>
<line x1="366.8" y1="478.3" x2="366.8" y2="480.8" stroke="#888" stroke-width="0.7" />
<text transform="translate(366.8,488.7) rotate(29)" y="3.2" font-size="9.2" text-anchor="middle" fill="#111">2018</text>
<line x1="389.8" y1="478.3" x2="389.8" y2="480.8" stroke="#888" stroke-width="0.7" />
<text transform="translate(389.8,488.7) rotate(29)" y="3.2" font-size="9.2" text-anchor="middle" fill="#111">2022</text>
<line x1="412.8" y1="478.3" x2="412.8" y2="480.8" stroke="#888" stroke-width="0.7" />
<text transform="translate(412.8,488.7) rotate(29)" y="3.2" font-size="9.2" text-anchor="middle" fill="#111">2026</text>
<line x1="435.8" y1="478.3" x2="435.8" y2="480.8" stroke="#888" stroke-width="0.7" />
<text transform="translate(435.8,488.7) rotate(29)" y="3.2" font-size="9.2" text-anchor="middle" fill="#111">2030</text>
<text transform="translate(354.9,508.5)" font-size="12.3" text-anchor="middle" fill="#111">Start Time</text>
<text transform="translate(441.4,298)" font-size="12" text-anchor="start" fill="#111">E</text>
<path transform="scale(0.25)" d="M2047 1254h0m23 23h0m-12 14h0m-25-11h0m-22 33h0m12 4h0m17 3h0m5-13h0m7 6h0m2-1h0m2 6h0m11-3h0m2 1h0m0-19h0m5 20h0m6 1h0m4-2h0m1 25h0m0-2h0m-1-18h0m0 18h0m-4 3h0m-1-13h0m-5-8h0m0 12h0m-4-8h0m-1 4h0m-5 9h0m-1-6h0m-2 6h0m-1 4h0m-3-1h0m-6-10h0m0 8h0m-1-14h0m-3-2h0m-2 11h0m-2 5h0m-7-1h0m-1 3h0m-6-6h0m0 7h0m-1-11h0m-4 7h0m-4 6h0m-2-1h0m-4-4h0m-2 4h0m-2-16h0m-6 7h0m-4-1h0m-4 5h0m-3 1h0m-3-12h0m-9 15h0m-16 25h0m14-21h0m2 13h0m4-2h0m3 2h0m1-2h0m1 10h0m5-4h0m1 3h0m12-9h0m1 9h0m2-1h0m0 0h0m0-1h0m2-15h0m1 13h0m1-4h0m0-12h0m0 18h0m4-5h0m2-10h0m1-1h0m3 5h0m2 6h0m3-11h0m1 11h0m4-6h0m0-2h0m2 13h0m3 1h0m3-11h0m2 3h0m1-10h0m2 15h0m5-8h0m0-2h0m4 12h0m1-16h0m2 1h0m2 8h0m1-5h0m7 5h0m2-12h0m6 10h0m1 10h0m1-1h0m3-3h0m0-15h0m2 21h0m16 1h0m8-4h0m8-2h0m6 2h0m12 1h0m0 0h0m6-2h0m5 2h0m4 2h0m11-5h0m1 6h0m1-3h0m5-1h0m1-2h0m6 5h0m7-1h0m4-5h0m11 4h0m6 2h0m34 1h0m2-1h0m40 19h0m-4 5h0m-8 0h0m-3-14h0m-3-3h0m-3 2h0m0 8h0m-2 0h0m-4-2h0m0-5h0m-1-2h0m0 14h0m0 0h0m0-8h0m-6-5h0m-2 14h0m-3-18h0m-1 5h0m0 1h0m-3 0h0m-3 2h0m-1 3h0m0-9h0m0 9h0m0-11h0m-1-3h0m0-1h0m-1 22h0m0-21h0m-1 12h0m0-11h0m-4 8h0m-1 3h0m-2-6h0m-2 3h0m-4-6h0m-2-2h0m-4 16h0m-3-11h0m-2 6h0m-4-2h0m0-2h0m-2 1h0m0-3h0m-2 5h0m-1-8h0m-1 6h0m-1 4h0m-2 2h0m0-12h0m0 15h0m0 3h0m-1-17h0m-2 10h0m0 3h0m-3-7h0m0-2h0m-2 1h0m0 5h0m-5 6h0m-1 0h0m-1-9h0m-2-8h0m0 13h0m0-14h0m0 8h0m-4 5h0m-1 3h0m-4-15h0m-2 4h0m-2 16h0m0-21h0m-1 12h0m-2-4h0m-3 10h0m-3-17h0m0 16h0m-3-11h0m-2 8h0m-9-10h0m0 4h0m-1-5h0m-1 10h0m-1 0h0m-1-5h0m-1-6h0m-7 2h0m-1 15h0m-2-14h0m0 12h0m-2-6h0m0-4h0m-1-6h0m-1 9h0m-2-12h0m-5 5h0m-2 10h0m0 2h0m-1-2h0m-2-14h0m-1 15h0m0 6h0m-1-1h0m-2 1h0m-1-21h0m-4 18h0m-1-1h0m-1-3h0m0 4h0m-2-5h0m-2-6h0m-4 13h0m0-11h0m-3 1h0m-1 0h0m0-10h0m0 14h0m0-9h0m-1 7h0m-6 7h0m0-20h0m-8 21h0m-2-12h0m-2 4h0m0 5h0m0-11h0m-1 1h0m-1 5h0m-3 1h0m-3-3h0m-3 7h0m-1-6h0m-1 1h0m-1-11h0m-5 18h0m-4-7h0m-1-7h0m-2 10h0m-3-13h0m0 16h0m-1-7h0m-1 3h0m-4-5h0m-1 8h0m-1-17h0m-1 0h0m-1 11h0m-2 11h0m-1-24h0m-4 8h0m-4 14h0m-1-3h0m0-18h0m-2 19h0m-1-10h0m-1 0h0m-4-3h0m-1 13h0m-7 2h0m-2-13h0m0 1h0m-2 3h0m-2 7h0m-1-6h0m-3 3h0m-2-15h0m-1 13h0m-2-15h0m-7 21h0m-11-16h0m-7 2h0m5 20h0m2 6h0m1 2h0m1-10h0m2 17h0m3 5h0m4-3h0m4-20h0m3 22h0m1-20h0m8 8h0m4 1h0m0 13h0m0-8h0m0-2h0m2 8h0m1-18h0m0 16h0m4-17h0m4 20h0m0-6h0m0-9h0m2 5h0m2-7h0m3-3h0m0 10h0m2-11h0m1 9h0m6 0h0m0 4h0m0-3h0m8 7h0m0 0h0m1-9h0m5 7h0m1-9h0m4 2h0m0 8h0m3 0h0m0 0h0m3 5h0m1 1h0m3-15h0m1 4h0m0 6h0m6 0h0m1-13h0m0 11h0m1-5h0m2 7h0m1-10h0m2-2h0m4 1h0m1 1h0m0 3h0m8 3h0m0 3h0m8-10h0m5-7h0m1 17h0m5-12h0m1 5h0m0 5h0m2-6h0m1-5h0m1-3h0m4 17h0m0-6h0m1-1h0m0-9h0m1 18h0m2-8h0m5 1h0m0 3h0m0-11h0m3 10h0m1 1h0m1-2h0m1-13h0m1 20h0m3-10h0m3-6h0m3 12h0m0-11h0m6 8h0m0-5h0m1-1h0m0 8h0m3 0h0m1-15h0m2 19h0m3-14h0m2-7h0m0 10h0m2 12h0m1-1h0m2-12h0m2-4h0m0-4h0m1 9h0m0-3h0m1-6h0m1 18h0m8-16h0m0 20h0m0-17h0m3 17h0m0-22h0m7 9h0m1-7h0m1 2h0m2 12h0m2-3h0m1 1h0m3 2h0m15-3h0m0-14h0m0 0h0m3 20h0m0-13h0m4 7h0m4-5h0m1-4h0m1-5h0m3 24h0m4-14h0m7 11h0m0 2h0m2-10h0m0-12h0m1 19h0m2-17h0m1 1h0m2 12h0m0-3h0m2-9h0m3-2h0m3 0h0m2 16h0m1-10h0m2 15h0m0-15h0m3 16h0m1-10h0m12-6h0m2 13h0m0-3h0m0-16h0m2 21h0m0-4h0m2-2h0m1-11h0m0-5h0m1 13h0m1 9h0m2-13h0m1 7h0m2-11h0m1 1h0m4-6h0m2 0h0m2 23h0m1-15h0m1-2h0m2 6h0m3 2h0m0 3h0m2-3h0m1 6h0m1 2h0m6 13h0m0 12h0m0-12h0m-2-4h0m-2-5h0m-4 15h0m-1-15h0m0 18h0m-1-17h0m-3 4h0m-4 15h0m-1-8h0m-3-4h0m-3-8h0m-2 12h0m0-3h0m-3 3h0m-1-3h0m-4-9h0m-1-1h0m0 14h0m-3-13h0m-2 13h0m-3-4h0m-1-7h0m-3 10h0m-1 8h0m0-21h0m0 20h0m-1-17h0m0 11h0m-2 1h0m-4 4h0m0 1h0m-1 2h0m-2-17h0m-1 3h0m-1 5h0m0-15h0m-2 17h0m0-8h0m-3-4h0m0 6h0m-1 4h0m-4 3h0m0-8h0m-1-3h0m-2 5h0m-2 9h0m-1-4h0m-7-3h0m-1 3h0m0-2h0m-3-8h0m-1 13h0m0-8h0m-2-5h0m0 12h0m-1-13h0m0 1h0m-3-1h0m-5 5h0m-2 1h0m-7 4h0m0 5h0m-1-4h0m-1 5h0m0-11h0m-3-8h0m-2 2h0m-2 16h0m0-18h0m-1 10h0m-1-2h0m0 11h0m-3-8h0m-1 8h0m-2-12h0m0 3h0m-3 4h0m0-1h0m-3-3h0m-1 4h0m0 0h0m0-9h0m-1 3h0m-3-8h0m-1 2h0m-3 10h0m-2-7h0m0 2h0m-1 5h0m-5 6h0m-3-17h0m-1 6h0m0-1h0m-4-5h0m-2-2h0m-10 22h0m-1-18h0m0 13h0m0 2h0m-1-21h0m-4 12h0m0 4h0m-1-11h0m-1 3h0m0 10h0m-1-5h0m0 1h0m-1 8h0m0-14h0m-3 14h0m-2-11h0m-2 1h0m-1-5h0m0 8h0m-3 0h0m-1-13h0m-2 10h0m-4 12h0m-1-19h0m-2 11h0m-1 6h0m-4-9h0m-1 10h0m-1-4h0m-1-4h0m-1-15h0m0 16h0m-2-1h0m-4 4h0m0-16h0m-4 5h0m-3-1h0m-3 13h0m-1-16h0m0 17h0m-1-5h0m-1-8h0m-4 1h0m0 3h0m-1-3h0m0 14h0m0-14h0m0 9h0m-1 3h0m0-12h0m-2 5h0m-4 5h0m0-4h0m-7-12h0m-2 17h0m-5-15h0m-1 16h0m0-1h0m-4-10h0m0 10h0m-1-18h0m-3 10h0m0 9h0m-2-16h0m-1 8h0m-4-12h0m-1 12h0m0-6h0m-1-4h0m-2 1h0m-8 16h0m-1-7h0m-3 2h0m-1-9h0m-2 9h0m-2-2h0m-2 7h0m-8-8h0m-1-6h0m0 14h0m-1-10h0m0-7h0m-4 1h0m0 15h0m-1-13h0m-2 14h0m-1-6h0m-3 5h0m-4 5h0m-4-10h0m-1 1h0m-1 8h0m-2-1h0m0-17h0m-2 16h0m-2-3h0m-3-6h0m0-11h0m-1 15h0m0 4h0m-5-3h0m-2-5h0m-1 4h0m-3-9h0m-1 0h0m-1-5h0m-2 4h0m-1 1h0m0 12h0m-1 2h0m-2-15h0m-9 34h0m0 6h0m1-7h0m1-1h0m0 3h0m9-15h0m1 7h0m2-4h0m1-4h0m1 6h0m0 8h0m1-1h0m1-10h0m7 18h0m3-8h0m1-10h0m1 7h0m0 12h0m1-17h0m1 7h0m1 10h0m1-20h0m4 18h0m5-1h0m0-5h0m2-11h0m2 4h0m3 16h0m2-16h0m1 4h0m2 7h0m3-14h0m4 3h0m0 8h0m2 1h0m1-9h0m2 15h0m6-14h0m4 3h0m4 11h0m2-4h0m2 4h0m1-14h0m0-9h0m1 0h0m0 9h0m3 1h0m8 11h0m4 1h0m1-21h0m2 18h0m7-12h0m3 14h0m2-12h0m3-6h0m1 18h0m2 2h0m0-11h0m1-3h0m0-3h0m4 6h0m1 10h0m1-6h0m2-8h0m4 14h0m1-13h0m1 6h0m1-6h0m0 13h0m1-11h0m0-5h0m2 17h0m4-5h0m1-17h0m2 7h0m2 6h0m4-11h0m0 15h0m1 0h0m4-10h0m0 9h0m5 1h0m5 5h0m0-9h0m1-5h0m0 10h0m8-1h0m1 4h0m3 2h0m2-9h0m0-9h0m0 15h0m2-17h0m2 2h0m3 7h0m1-4h0m0 3h0m2 2h0m0-6h0m2 6h0m3 7h0m1-11h0m1 3h0m2-6h0m2-6h0m1 6h0m1 2h0m1 7h0m0-3h0m1 9h0m2-18h0m1 7h0m2 10h0m0-7h0m3 5h0m1-8h0m1 4h0m0-8h0m1 13h0m2-12h0m1 10h0m1-7h0m2-7h0m0 9h0m1-2h0m1-6h0m3-2h0m0 11h0m1 9h0m8-11h0m1 7h0m3-11h0m1 3h0m2 5h0m1 6h0m1-15h0m3 6h0m0-5h0m0-2h0m2 4h0m1 4h0m3-10h0m0 13h0m0 1h0m6-9h0m5 11h0m0-14h0m2-5h0m0 21h0m0-15h0m1 4h0m3 5h0m0 1h0m3 6h0m5-13h0m1 1h0m2-5h0m3 7h0m1 3h0m0-4h0m1 11h0m1-17h0m1 2h0m1-2h0m1 18h0m3-19h0m1 10h0m4-13h0m0-1h0m1 21h0m1-8h0m1-11h0m1 7h0m0-9h0m6 9h0m4-3h0m1 3h0m3-9h0m1 5h0m5 7h0m0-1h0m3 6h0m0 2h0m2-2h0m5 2h0m2 2h0m0-3h0m1-13h0m2 18h0m2-20h0m1 3h0m4 13h0m3-14h0m1 10h0m1-13h0m2 20h0m3 1h0m4-18h0m1 14h0m3-8h0m5 28h0m-5-2h0m-1 9h0m-3-6h0m-3 0h0m-1 3h0m-2-12h0m-2-7h0m-3 15h0m-3-15h0m-2 12h0m0 0h0m-12 7h0m0-6h0m-2-7h0m-1 0h0m0 11h0m0 1h0m-1-9h0m0-4h0m-1-4h0m-2 4h0m-1 3h0m-5 9h0m-3 3h0m-1-4h0m-2-7h0m-1 5h0m0-1h0m-3-7h0m-1 1h0m-1 16h0m-1-15h0m0 4h0m-2-13h0m-1 18h0m-2-5h0m-4 7h0m-3-6h0m-1-10h0m-2 9h0m-2-4h0m0 0h0m-1 14h0m-1-12h0m-3 6h0m-2-3h0m-2-7h0m-3 3h0m-1-3h0m-1 17h0m-1-1h0m-3-21h0m-2 10h0m-1-4h0m0 13h0m-1 0h0m0-14h0m0 13h0m-3-16h0m-2 12h0m0-2h0m-8 8h0m0-12h0m-3-9h0m-1 3h0m-1 9h0m-1-12h0m-1 19h0m-2-12h0m-4 0h0m-7-2h0m-1 3h0m-2 3h0m-6 3h0m-1-13h0m0 2h0m-1 15h0m-1-3h0m-1-10h0m-2 10h0m0 6h0m-1-20h0m-1 14h0m-3-15h0m-1 11h0m-4 5h0m-1-8h0m0 1h0m-4-1h0m-1-2h0m-1 6h0m-4-3h0m0 11h0m0-12h0m-1-3h0m-3 9h0m-2-3h0m-4 10h0m-1 0h0m0 1h0m-4-19h0m-1 9h0m0-9h0m-3 11h0m-2-1h0m-2-7h0m-1-1h0m-4-4h0m-1 8h0m-2 14h0m-4-22h0m-2 10h0m-1-3h0m-6-3h0m-1 7h0m0-4h0m-1 4h0m-1 8h0m0 3h0m0-2h0m-1-1h0m-1-3h0m0-3h0m-4 7h0m-2-20h0m-1-2h0m-1 17h0m-1-15h0m0 21h0m-1-4h0m-2-2h0m0-3h0m-6-11h0m0 12h0m-2 2h0m-1-8h0m-8 0h0m0-8h0m-2 4h0m-2 10h0m-4 9h0m-1-12h0m-3 9h0m-3-19h0m-2 19h0m0-7h0m-1 8h0m0-21h0m-1 17h0m0-16h0m-3 7h0m-3-5h0m-1-2h0m-2 10h0m0-7h0m-5-2h0m-3 4h0m-1-4h0m-1-3h0m0 19h0m-3-17h0m-1 11h0m-3 7h0m-1-1h0m-4-17h0m-2 1h0m-2 2h0m0 5h0m0 7h0m-1-4h0m-1-6h0m-5 3h0m-1 9h0m-1-14h0m-2 0h0m-4 7h0m-2-4h0m-8-5h0m-1 8h0m0 7h0m0-12h0m-2 18h0m-2-7h0m-2 1h0m-3-15h0m0-3h0m-2 5h0m-1 17h0m-7-6h0m-1-8h0m0-5h0m-2 7h0m-2 6h0m-6-16h0m0 11h0m-3 11h0m-2-7h0m-2-14h0m-1 11h0m-1 6h0m-1-3h0m-1 2h0m0-2h0m-1-2h0m0-9h0m-2 10h0m0 6h0m-1-6h0m0 23h0m1 4h0m0-11h0m1 4h0m0-1h0m1 3h0m0 3h0m1 6h0m2-17h0m0 10h0m0-6h0m0 3h0m1-6h0m0 0h0m2 7h0m1 1h0m0-3h0m2-8h0m0 4h0m0 5h0m2-2h0m0 2h0m1 5h0m2-11h0m0 2h0m0-1h0m0 3h0m1 15h0m1-4h0m4 0h0m1-15h0m6 18h0m0-18h0m2 17h0m1 1h0m4-5h0m1 3h0m0-17h0m1 8h0m4 6h0m1 0h0m0-5h0m1-9h0m1-1h0m4 12h0m0 1h0m0-13h0m1 16h0m5-14h0m0 1h0m1-3h0m2 11h0m1-13h0m2 3h0m3 17h0m1 1h0m2 1h0m3 0h0m1-10h0m0 5h0m2-5h0m1 9h0m1-4h0m2-11h0m4 1h0m2-5h0m3 19h0m3-14h0m2-1h0m3 15h0m1-1h0m0-14h0m2 10h0m4-4h0m5-5h0m2-3h0m2 7h0m1-7h0m3 0h0m2-1h0m2 14h0m3-9h0m0 2h0m3 5h0m1-2h0m2 10h0m0-3h0m1-12h0m2 7h0m1-6h0m0 11h0m2-3h0m0-13h0m3 5h0m1 4h0m0-2h0m4 0h0m4 10h0m1 0h0m2-22h0m2 22h0m1-15h0m2 5h0m3-9h0m1 10h0m4 10h0m2-22h0m1 21h0m2-4h0m0-2h0m1-1h0m10 2h0m0-13h0m3 6h0m1 12h0m3-3h0m0-13h0m2-1h0m0 3h0m0-2h0m1 16h0m0-21h0m0 14h0m4-14h0m6 18h0m6 2h0m2-2h0m1-13h0m2 18h0m1-6h0m0-2h0m0 2h0m2-10h0m3 13h0m3-14h0m5-1h0m2 14h0m1 2h0m0 1h0m1-21h0m2 10h0m0 3h0m1-3h0m1-10h0m1 3h0m1 13h0m5 0h0m4-15h0m3 8h0m0 7h0m0-2h0m5 1h0m1-5h0m1 8h0m1-7h0m0 5h0m2-6h0m0 1h0m3-3h0m1-3h0m0 16h0m1 0h0m0-14h0m0 14h0m0-14h0m2 2h0m1-2h0m2-2h0m0 2h0m1-5h0m2 13h0m1 4h0m6-5h0m3-15h0m0 11h0m2 1h0m2-4h0m2 9h0m2-5h0m1-4h0m2-3h0m0 8h0m0-10h0m1 0h0m1 8h0m2-9h0m9 20h0m5-12h0m2 9h0m3-16h0m3-2h0m1 12h0m2-5h0m1 7h0m1-9h0m0 8h0m1-15h0m2 18h0m1-5h0m1-6h0m4 14h0m2-13h0m0 16h0m1-13h0m2 12h0m4-4h0m3 0h0m1-10h0m2 11h0m1-9h0m1-1h0m0-2h0m2-3h0m0 17h0m2-14h0m2 2h0m4-6h0m1 0h0m0-4h0m1 5h0m0 4h0m3 14h0m7-12h0m0 7h0m5-1h0m2-11h0m-1 35h0m-1-9h0m-1-3h0m0 16h0m-1-18h0m-3 8h0m-7-11h0m0 14h0m-3-2h0m0 9h0m-1-14h0m-1-2h0m-1 0h0m-4 6h0m-1-1h0m0 11h0m0-6h0m0-14h0m-4 3h0m-2 19h0m-1-9h0m-7-14h0m-2 7h0m-1-2h0m0 1h0m-5 15h0m-3-16h0m0 11h0m-1-15h0m-2 1h0m-3 6h0m0 0h0m-2 5h0m-4-12h0m-4 7h0m-2-1h0m0 5h0m-4 3h0m0-2h0m-4 3h0m0-10h0m-3 5h0m0 4h0m-1-12h0m0 6h0m-3 4h0m-2-5h0m-2-5h0m-1 13h0m-1 1h0m-2-14h0m0 7h0m-1 6h0m-1-1h0m-1 6h0m-1 0h0m-1-6h0m-1-7h0m-3 2h0m0-4h0m-4-1h0m0 11h0m-2-2h0m-1-8h0m-6 7h0m-1 3h0m-1 3h0m-1-6h0m0 8h0m-1-21h0m-1 15h0m0-8h0m-3-1h0m-3 8h0m-1 1h0m-4-10h0m0 2h0m-11 3h0m-6 2h0m0-4h0m0 1h0m-3-7h0m-2 15h0m-1-1h0m-2-15h0m0 16h0m-1-8h0m-1 5h0m-5 7h0m0-7h0m-1 0h0m-1 9h0m-1-21h0m-3 1h0m-2 14h0m-5-7h0m0 6h0m-2-8h0m0-2h0m-1 0h0m0 17h0m-7-11h0m-3-11h0m0 12h0m-7-1h0m-1-3h0m0 4h0m-4 6h0m-4-11h0m-2 3h0m-3 1h0m-1-7h0m-1-4h0m0 14h0m0-4h0m-3-5h0m-1 9h0m-4 2h0m-3-15h0m-1 15h0m-3-16h0m-2 2h0m0 8h0m-3-7h0m-2-1h0m-3 6h0m0 0h0m0-3h0m-1-2h0m-1 3h0m-3-2h0m-1-1h0m-1-3h0m-2 14h0m-1 8h0m0-6h0m-5-4h0m-1-9h0m-3-2h0m-2 15h0m-4-15h0m-3 13h0m0-2h0m-2-1h0m-1-10h0m-1 3h0m-1 12h0m-1-3h0m-2-12h0m-1 10h0m-3 10h0m-4-15h0m0 2h0m-1 4h0m-1 0h0m-2 2h0m-2-3h0m-2-10h0m-1 0h0m-2 12h0m-1-1h0m0-12h0m-2 16h0m-2-12h0m0-1h0m-1 10h0m-2 8h0m0-19h0m-4 8h0m0-9h0m-1 2h0m0 5h0m-2 0h0m-4-3h0m-3 2h0m0-8h0m-2 16h0m-2-5h0m-2-3h0m0 3h0m0 2h0m0 1h0m-1-8h0m-1 15h0m0-12h0m-1 3h0m-3-3h0m-1 0h0m-2 15h0m-4-12h0m0-8h0m-4 12h0m-1-4h0m-1-2h0m-2-3h0m-3 4h0m-3 12h0m0-6h0m-1-11h0m0-5h0m0 19h0m0-7h0m0 1h0m-2 9h0m-1-17h0m0 3h0m-2 5h0m-1-8h0m-4 7h0m0 10h0m0-9h0m-1-1h0m-3-3h0m0-2h0m-1-5h0m0 8h0m-1 10h0m0-16h0m-2 2h0m0 0h0m-1-6h0m-3 1h0m-2 2h0m0-2h0m0-1h0m0 0h0m-2 10h0m0-11h0m-1 10h0m0-3h0m0 0h0m0 8h0m-1-8h0m0-6h0m0 21h0m0-5h0m-1 8h0m2 8h0m1 1h0m0-4h0m0 7h0m1 10h0m0-11h0m2-4h0m2-2h0m4 17h0m1-10h0m5 11h0m2-3h0m8-5h0m0-14h0m1 5h0m2-5h0m5 21h0m3-22h0m3 22h0m0-13h0m0 4h0m1 5h0m4-18h0m2 15h0m0 3h0m0-4h0m5 3h0m2-3h0m6 3h0m6-1h0m0-1h0m2-4h0m0 3h0m1 0h0m3 4h0m2-5h0m0 0h0m1 0h0m2 4h0m9-10h0m2 15h0m1-18h0m1-1h0m0 7h0m6 7h0m4-8h0m1 7h0m5-13h0m2 12h0m4-14h0m2 1h0m0 14h0m4-15h0m3-1h0m4 23h0m7-21h0m8 7h0m0 7h0m1 1h0m6 0h0m0 4h0m1-9h0m5-8h0m1-4h0m2 4h0m1 7h0m1 12h0m0-10h0m4-2h0m1 4h0m2-16h0m4 7h0m0 10h0m4 0h0m2 0h0m3-2h0m4-3h0m4 1h0m0-12h0m1 17h0m0-11h0m3 8h0m1-13h0m3 14h0m0 7h0m2-7h0m1 1h0m10 1h0m0-4h0m6 4h0m0 0h0m5-18h0m0 13h0m2-6h0m2-4h0m2 3h0m1 13h0m3-15h0m1 20h0m1-9h0m2-5h0m1-10h0m1 14h0m0 2h0m1-13h0m2-1h0m2 20h0m0-12h0m6 4h0m2-13h0m4 3h0m1 10h0m1-10h0m1 13h0m2-10h0m0 9h0m1-10h0m1-5h0m3 15h0m4 2h0m0-8h0m3-3h0m2 12h0m1-6h0m2 3h0m1-13h0m0 19h0m1-5h0m0 1h0m1 0h0m1-5h0m0 4h0m1-12h0m1 12h0m2-11h0m1 12h0m3-13h0m1 10h0m1 5h0m3-2h0m2-10h0m0 7h0m2-7h0m4 10h0m5 6h0m2-7h0m0-14h0m2 17h0m3-8h0m4 10h0m0-19h0m0 5h0m1-6h0m1 5h0m2 1h0m2 6h0m2-4h0m7-5h0m0-4h0m1 9h0m3 5h0m4 3h0m2-17h0m2 5h0m1 3h0m2 14h0m0-13h0m1-1h0m3 7h0m7 0h0m10-3h0m4-3h0m1-6h0m1-3h0m7 11h0m34 32h0m0 0h0m0-6h0m-1 4h0m-1-8h0m-1-5h0m-3 1h0m-2 18h0m-1-2h0m0-15h0m-1 10h0m-1-6h0m-1 9h0m-2-14h0m0 13h0m-2-6h0m-1 4h0m-2-1h0m-1 4h0m0-1h0m-2-3h0m0-7h0m-3 9h0m0-5h0m-5 9h0m-2-5h0m-1 1h0m-3 0h0m0-12h0m-3 13h0m-11-11h0m-6 11h0m-6-14h0m0-1h0m-2 8h0m0-8h0m-1-4h0m-1 19h0m-2 2h0m0-6h0m-1-7h0m-3 10h0m-2 0h0m-1 1h0m-3-2h0m-2 1h0m-1-10h0m-2 0h0m-3-2h0m-4-6h0m-3 6h0m-1 12h0m0-5h0m-2 7h0m-1-3h0m-2 0h0m-2-1h0m-13-15h0m0 17h0m-3-12h0m-2 5h0m-1 6h0m-6-1h0m-1 8h0m-1-3h0m-8-1h0m-6-17h0m-5 7h0m-4 12h0m-2-6h0m0 1h0m-1-1h0m-3 1h0m0-13h0m-2 15h0m-1-2h0m-2-5h0m-2 1h0m-1-6h0m-2 12h0m0-8h0m-6 5h0m0-7h0m0-4h0m0-1h0m-2 12h0m-2 0h0m-2 2h0m-1-6h0m-1 3h0m-2 1h0m0 3h0m-2-4h0m-5 2h0m-3 3h0m-1-13h0m-6 10h0m-1-14h0m-3 14h0m-2 3h0m-2-3h0m-4 4h0m0-7h0m-1 7h0m-1-7h0m0 0h0m0 4h0m-8-13h0m0 12h0m-1-16h0m-1 17h0m-1-1h0m-1-12h0m0 13h0m-6 4h0m0-9h0m-2 5h0m-7 0h0m-1 2h0m-2 0h0m0-11h0m-1 14h0m0-4h0m-4-18h0m-1 19h0m-5-6h0m0 5h0m0 2h0m-1 0h0m-1-1h0m-3-9h0m-4 0h0m-1 7h0m-1 0h0m-3-1h0m-1-5h0m0 6h0m-3-1h0m-1-9h0m-1 11h0m-5-14h0m-3 16h0m0-10h0m-3-8h0m-1 10h0m-1 5h0m-1-3h0m-3 6h0m0-16h0m-1 3h0m-1 12h0m-3-1h0m-1 2h0m0-5h0m-3-1h0m-3 6h0m-6-4h0m-3-1h0m-2-15h0m-2 17h0m-6 0h0m-2-7h0m0-4h0m-2 13h0m0-1h0m0-18h0m-1 2h0m-2 14h0m-1 2h0m-1-2h0m0 0h0m-3 4h0m0-1h0m-2-16h0m-2 19h0m-2-2h0m-3-6h0m0 3h0m-1-2h0m-3-7h0m-3 1h0m-1 1h0m-3 5h0m-2 0h0m-1-11h0m0 17h0m-2-7h0m-1-15h0m-2 11h0m-3 6h0m-3 2h0m-9-1h0m-1 2h0m-3-6h0m-4-8h0m-3 15h0m-2-5h0m0 1h0m-1-14h0m-3 11h0m-3-7h0m-4 11h0m0-14h0m-1 15h0m-1-1h0m-2-8h0m0-1h0m0 9h0m-1-3h0m-1-5h0m-1 1h0m0 5h0m-1-12h0m0 4h0m0 14h0m-1-13h0m-1 3h0m0 7h0m-1-18h0m0 6h0m0-4h0m0 6h0m0 2h0m0 23h0m0-8h0m1 2h0m0-1h0m0 15h0m0-8h0m1-6h0m0 10h0m1 10h0m0-10h0m1-11h0m1 1h0m2 7h0m0 5h0m1-2h0m0 5h0m0-7h0m2 12h0m0-11h0m4 4h0m1-16h0m3 8h0m4 15h0m1-15h0m0-1h0m1 14h0m0-21h0m8 19h0m1 4h0m1-22h0m1 4h0m0 18h0m7-16h0m2 15h0m3-3h0m4 3h0m8 1h0m5-1h0m2-19h0m5 19h0m4-2h0m3 0h0m9 2h0m2 0h0m1-2h0m5 1h0m0-4h0m1 5h0m0-5h0m1 6h0m5-8h0m3-6h0m0-6h0m1 8h0m1-9h0m2 9h0m4 5h0m5 0h0m10 5h0m7-2h0m1-16h0m1 10h0m4 8h0m4-7h0m4-9h0m1 15h0m4-5h0m0 5h0m4 3h0m4-11h0m5 2h0m1 6h0m12-3h0m0-5h0m5 9h0m1 0h0m0-12h0m2 2h0m1 11h0m4-11h0m0-10h0m3 16h0m3-16h0m2 21h0m3-4h0m1-7h0m1 11h0m1-2h0m1-9h0m3-7h0m1 17h0m1 1h0m3 0h0m1-10h0m1-2h0m0-11h0m1 5h0m2 18h0m8-12h0m4 1h0m3-2h0m0 11h0m1 2h0m4 1h0m3-2h0m2-8h0m2 10h0m2 0h0m0-2h0m2-8h0m2 6h0m11 2h0m4-14h0m5 11h0m1 3h0m0-11h0m1-7h0m7 16h0m1 4h0m3 0h0m0-16h0m0 3h0m1-3h0m4 15h0m3-18h0m4 16h0m4-13h0m1 9h0m5 7h0m5-1h0m3-1h0m2 2h0m2-7h0m3 6h0m10 0h0m0-22h0m3 9h0m3 14h0m4-4h0m3 0h0m6-16h0m0 18h0m1 2h0m4-2h0m3-2h0m3-1h0m0 3h0m2 0h0m2 1h0m1-10h0m4 1h0m1 10h0m2-8h0m2 4h0m1-15h0m19 12h0m0-14h0m4 19h0m1-10h0m1-5h0m1 4h0m1 2h0m1-7h0m0 3h0m1-5h0m1 7h0m0-4h0m1 13h0m0-1h0m0-12h0m1 15h0m0-9h0m0-3h0m1 2h0m0 5h0m0 7h0m0-2h0m1 0h0m0 1h0m0 3h0m0 8h0m0-6h0m-1-1h0m-1 14h0m0-3h0m0-6h0m0-5h0m0 4h0m-1-2h0m0 6h0m0 2h0m-1-12h0m0 9h0m0-10h0m-1 4h0m0-2h0m-1 6h0m0 3h0m-1 4h0m0-11h0m-1 1h0m-3-5h0m-1 0h0m-3 1h0m-3 2h0m-6 5h0m0-2h0m-1 13h0m-4-19h0m-3 19h0m-2-2h0m-1-7h0m-4 7h0m-3 1h0m-3-17h0m-1 19h0m-2-7h0m-6-11h0m-3 0h0m0 10h0m-2 3h0m-1-14h0m-1-1h0m0 3h0m-8-1h0m-2 21h0m-2 1h0m-1-13h0m-5-1h0m-3 12h0m-1-11h0m-1-7h0m-2 14h0m-2-4h0m-3-13h0m-4-1h0m-1 1h0m-8 1h0m-4 14h0m-3-4h0m-3-10h0m0 0h0m-2 19h0m-6-13h0m-2-3h0m0-4h0m-5 21h0m-1-10h0m-5-4h0m0-6h0m-2 14h0m-1-16h0m-3 1h0m-3 1h0m-4-2h0m0 1h0m-1 18h0m-11 4h0m-2-7h0m-2-5h0m-1-10h0m-5 10h0m-9 5h0m0-5h0m-1-2h0m-2-1h0m-2 16h0m-1-16h0m0-6h0m0 1h0m-1 5h0m-4 14h0m-4-13h0m-5 10h0m-1-2h0m0-15h0m-2 0h0m0-1h0m-2 1h0m0 6h0m-1 8h0m-10 1h0m0-8h0m-4 13h0m-4-19h0m0 21h0m-5-22h0m-3 10h0m-2-4h0m0 1h0m-6 3h0m-3 4h0m-2-1h0m-4-14h0m0 2h0m-14 0h0m-4 7h0m-5-6h0m-1-3h0m-1 12h0m-1-2h0m-2-10h0m-2 6h0m-5 8h0m-2-13h0m-2 14h0m0-8h0m-1 3h0m-1-10h0m-2 3h0m0-3h0m-2 1h0m-6 11h0m-1 4h0m-1-15h0m-3 0h0m-1-2h0m0 18h0m-5-3h0m-2-2h0m-2-1h0m0-10h0m-1-1h0m-1 0h0m-6 7h0m0-2h0m-4 7h0m-5-4h0m-1-6h0m-2-2h0m-7 3h0m0 13h0m0-11h0m-1 2h0m0 6h0m-1-9h0m-1 4h0m-1 1h0m-3-5h0m-2 6h0m0 0h0m0-10h0m-9 8h0m-1 5h0m-3-2h0m-5-12h0m-1 1h0m-2 5h0m-2 10h0m-2-10h0m-3-6h0m-1 7h0m-5-2h0m0 14h0m-2-3h0m-6 0h0m-3-14h0m-3 12h0m-1 2h0m-3-5h0m-2 11h0m0-22h0m-1 9h0m-2-4h0m0 10h0m-1-4h0m-1-10h0m-1 0h0m-2 0h0m0 11h0m-1 0h0m0 4h0m0 5h0m0 3h0m2 3h0m9 12h0m18-5h0m3 5h0m4-9h0m2 2h0m9 1h0m2-5h0m1 12h0m0-15h0m1 14h0m15-1h0m0-8h0m2 8h0m5-1h0m1-5h0m2 8h0m7-9h0m5 14h0m4-13h0m3 11h0m5-15h0m7 20h0m10-9h0m3 2h0m2 5h0m10 2h0m4-19h0m8 1h0m0 1h0m6-3h0m2 17h0m1-17h0m3 16h0m13-13h0m17 7h0m5 9h0m2-6h0m5-7h0m13 2h0m2-10h0m12-1h0m15 12h0m3-5h0m8-5h0m27 16h0m1-11h0m39-1h0m3 2h0m5 6h0m0 0h0m0-3h0m3 11h0m0-9h0m0 7h0m4-16h0m0 12h0m6 0h0m1 2h0m0-11h0m0 6h0m3-7h0m11 5h0m8 10h0m2-5h0m2-6h0m1 6h0m5-16h0m2 2h0m10 17h0m0-5h0m1-14h0m1 11h0m10-7h0m2 10h0m2-3h0m8-8h0m0-1h0m3 0h0m0 2h0m1 2h0m0-1h0m1 36h0m-5-5h0m-4-2h0m-3-5h0m-4 5h0m-2 1h0m-10 11h0m-32-17h0m-3 7h0m-30-9h0m-8 1h0m-8-2h0m-9 9h0m-6 11h0m-2-22h0m-9 5h0m-4 16h0m-8-20h0m-2 18h0m-17 1h0m-8-21h0m-23 14h0m-1-4h0m-4-3h0m-18-6h0m-1 8h0m-14 8h0m-7-9h0m-4 1h0m-9 2h0m-17 2h0m-5-6h0m-2 10h0m-23-10h0m-5 0h0m-22 4h0m-3-6h0m-4-4h0m-17 10h0m-7-4h0m-11 7h0m-5 7h0m-3-8h0m-30-8h0m8 27h0m12 4h0m22 2h0m8 4h0m2-16h0m83 15h0m7-15h0m69 5h0m10 11h0m60-1h0m6-8h0m8 3h0m31-8h0m2 1h0m3-1h0m26-3h0m12 9h0m5-3h0m0 10h0m7-13h0m25-1h0m-66 43h0m-8-22h0m-19 14h0m-121-13h0m-70 0h0m-59 15h0m-25-1h0m-20 26h0m82 4h0m6-5h0m6-7h0m32 13h0m111-21h0m27 21h0m25-16h0m53 25h0m-200 16h0m-16-10h0m-61-2h0m-67 9h0m-6-1h0m-8 10h0m111-1h0m42 13h0m21-3h0m17 1h0m18 5h0m6-8h0m23-4h0m70-1h0m87 0h0m12 37h0m0-1h0m-2-3h0m-2 2h0m-3 3h0m-4 2h0m-1-7h0m-6 6h0m-2-1h0m-6 1h0m-1-2h0m-1-1h0m-2 0h0m0 0h0m-2 3h0m-2-4h0m-2 4h0m-1-3h0m-1 4h0m-6-4h0m-3 3h0m-5-3h0m0 1h0m-3-1h0m-2 2h0m-7-2h0m0 2h0m-1 0h0m0 3h0m-1-6h0m-5-1h0m-6 5h0m-9-1h0m-3-1h0m-8-3h0m-3 0h0m-3 6h0m0-2h0m-1-6h0m-1 3h0m-3 0h0m-5 1h0m-1 5h0m-2-2h0m-1 1h0m-4-8h0m-1 3h0m-4 2h0m-1 0h0m-3-1h0m0 2h0m-1-8h0m-2 7h0m-3 2h0m-1-7h0m-4 5h0m-4 0h0m-2-3h0m-1 5h0m-4-5h0m-2-6h0m-8 5h0m-2 0h0m-1 4h0m-1-8h0m0 11h0m-2-1h0m-3-1h0m-5 0h0m0-1h0m-4 0h0m0-2h0m0-2h0m-3 3h0m-2 2h0m-4 3h0m-2-1h0m-1-4h0m-4 4h0m-1-7h0m-3-2h0m-1 6h0m0-4h0m-4 7h0m0 0h0m-1-5h0m-2 0h0m-1 0h0m-6 1h0m-3 5h0m-3-8h0m-1 2h0m-8 3h0m-1-2h0m-6 0h0m-6 2h0m-3-2h0m-2 1h0m-1-2h0m0 4h0m-2-2h0m-1-3h0m-1 2h0m-1 1h0m0 2h0m0-3h0m-6 2h0m-2-3h0m-1-1h0m0 2h0m-1-5h0m-1 3h0m-2 5h0m-1-3h0m-2-7h0m0 11h0m-2 1h0m-2-10h0m-1 1h0m0 4h0m-3 2h0m0-5h0m-3 3h0m-2-7h0m0 3h0m-1 8h0m-2-4h0m-3 4h0m-3-7h0m0 6h0m0-4h0m-1 3h0m0-3h0m-4-4h0m-2 1h0m-4 1h0m-3 3h0m-1 2h0m-2-4h0m-3 4h0m0-2h0m-1-1h0m-2 5h0m-1-4h0m-1-2h0m-1 3h0m-3 1h0m-1-1h0m-1 0h0m-1 0h0m-1-6h0m-1 5h0m-4 3h0m-3 2h0m-1-6h0m0 0h0m-2 5h0m-2-8h0m-2 4h0m-2-1h0m-1 5h0m0-6h0m-1 2h0m-1 1h0m-4 3h0m-6-2h0m0 0h0m0-4h0m-3 3h0m-4-1h0m-8 4h0m-2-2h0m-2-5h0m-1 8h0m-7-5h0m-1-4h0m-1 3h0m-2 4h0m-1-6h0m0 1h0m-1 3h0m-5 1h0m-1-2h0m0 5h0m-2-6h0m0 3h0m0 1h0m0-2h0m-1 1h0m-10-7h0m-1 6h0m0 2h0m-1-4h0m0 5h0m3 2h0m19 0h0m27 1h0m19-1h0m25-1h0m0 0h0m1 3h0m8-3h0m13 1h0m0 0h0m17 2h0m9-2h0m5-1h0m12 2h0m1-1h0m2 0h0m18 1h0m4-2h0m1 0h0m3 3h0m4-1h0m6-1h0m1 0h0m7 0h0m4 0h0m15 6h0m9-3h0m7-2h0m2 2h0m5-3h0m7 2h0m7-2h0m3 2h0m8-2h0m1-1h0m12 3h0m10-3h0m7 1h0m14-1h0m24 6h0m12-3h0m4 0h0m3-3h0m4 0h0m2 0h0m16 1h0m28 40h0m0 1h0m0 4h0m0-4h0m-1 0h0m0-2h0m-1 2h0m0-1h0m-2 2h0m0-2h0m0 1h0m0 3h0m-1-3h0m-1 0h0m0 0h0m-1 1h0m-1 1h0m-1-2h0m0 2h0m-1 2h0m0-2h0m-1-1h0m0 0h0m-1 1h0m0 0h0m-1-3h0m0 1h0m-1 1h0m-1 0h0m-1-2h0m0 0h0m-1 2h0m0 0h0m-1 0h0m0 1h0m-1 2h0m0-3h0m-1 0h0m-1-1h0m-1 2h0m0 0h0m-1 2h0m-1-2h0m0-3h0m-1 3h0m-1 0h0m-3-1h0m0 0h0m-2 1h0m-1-1h0m-3 0h0m-1-2h0m-1 2h0m-1 3h0m0-3h0m-1 1h0m0-3h0m0 4h0m0 0h0m-2-1h0m0-1h0m-1-1h0m0 2h0m0 0h0m-2-1h0m0-1h0m0 0h0m-1 1h0m-1 0h0m0 0h0m-1 0h0m0 0h0m0-1h0m0 1h0m-1-1h0m0 3h0m-1-3h0m0 0h0m0 1h0m-1-2h0m0 2h0m0 3h0m-2-4h0m0 3h0m0-1h0m0-2h0m-1 2h0m0-3h0m0 3h0m-1 0h0m-1 0h0m-2-1h0m0 0h0m0 1h0m-2 0h0m0-3h0m-1 2h0m-2 1h0m-1-2h0m0 1h0m-1-1h0m-2 1h0m-1-1h0m-1 1h0m-1 1h0m0-2h0m-1 1h0m0 0h0m-2 1h0m0-1h0m-1 2h0m0-3h0m0 3h0m-1 0h0m-1-3h0m-1 3h0m-2-2h0m-1-1h0m0 2h0m0 0h0m-1 0h0m0-3h0m-3 1h0m-1 4h0m-2-3h0m-1-1h0m0 2h0m0 0h0m0-1h0m-1 1h0m-1-2h0m-2 3h0m0-2h0m0 0h0m0-1h0m-2 2h0m0 0h0m0 3h0m0-4h0m-1-2h0m-3 2h0m-1-1h0m0 1h0m-1 0h0m-1-3h0m0 3h0m0 0h0m-1-1h0m-1 3h0m0-2h0m-1 0h0m0 1h0m-2 1h0m0-5h0m-1 3h0m0 0h0m0-1h0m-1 0h0m0 3h0m-1-3h0m0 2h0m-1-1h0m-1 0h0m-2-2h0m0 2h0m-2 0h0m0-2h0m-1 3h0m0 0h0m-1-3h0m0 1h0m-1 2h0m0-2h0m-1 2h0m0-1h0m-1 0h0m0 0h0m-1-1h0m0 0h0m-2 3h0m-1-2h0m-1 1h0m-1 0h0m0 0h0m0 0h0m-1 1h0m-2-1h0m0-1h0m0 1h0m0-1h0m-1 0h0m0-2h0m-3 2h0m-1 1h0m0-2h0m-1 0h0m0 0h0m-1 0h0m0-1h0m-1 0h0m0 1h0m-1 2h0m0-2h0m0 1h0m-1 0h0m0 0h0m0-1h0m-1-2h0m0 1h0m-1 0h0m0 2h0m-1 0h0m0-3h0m0 3h0m0 0h0m0 2h0m-1 0h0m0-5h0m0 0h0m0 4h0m-2-2h0m0 1h0m0-1h0m-2 2h0m-1 2h0m0-2h0m-2-3h0m-2 3h0m-1-1h0m0 1h0m-1-3h0m0 3h0m-1 0h0m0-2h0m-1-1h0m0 2h0m-2 2h0m0-2h0m-2-1h0m0 0h0m-1 1h0m-2 0h0m0-3h0m-1 2h0m0 0h0m-1 2h0m-1-1h0m-2 1h0m0 0h0m-1-2h0m-1-1h0m0 3h0m0-1h0m-1 0h0m0-1h0m-1 3h0m-2-2h0m0 2h0m0-2h0m0 1h0m-1-3h0m-1 0h0m0 4h0m-2-2h0m0-2h0m-1 3h0m0-3h0m0 0h0m-1 4h0m0-2h0m-1 1h0m-1 2h0m-1-3h0m-1-1h0m0 2h0m-1-5h0m-1 4h0m0 1h0m0-2h0m-1 0h0m0 0h0m0 0h0m-1 2h0m0-2h0m0 1h0m0 0h0m-2 2h0m-1-3h0m-2 2h0m0-4h0m-1 1h0m0 0h0m0 0h0m0 4h0m-1-1h0m-1-1h0m0 0h0m-1-1h0m0 1h0m0 2h0m0-1h0m-1-1h0m-1-1h0m0 1h0m-1 0h0m0 0h0m-1-2h0m-1 2h0m0 1h0m0-2h0m-2 1h0m0 1h0m-1 0h0m0-1h0m0 1h0m0 1h0m-3-3h0m-1-1h0m0 3h0m0-1h0m0-1h0m-4 2h0m0 0h0m-1 0h0m0 0h0m0 0h0m-1 0h0m0-1h0m0-1h0m-1 1h0m0 1h0m-2 0h0m0-1h0m-1 1h0m-1-1h0m0 2h0m0-3h0m0 2h0m0-1h0m-1 0h0m-2 0h0m0-1h0m-1 2h0m0-1h0m-3-1h0m-1-1h0m0 3h0m-1-1h0m0-4h0m0-1h0m0 7h0m-1-5h0m0 4h0m-3 0h0m0 0h0m-1-2h0m0 1h0m-1 1h0m-1-1h0m-2 0h0m0-1h0m-1 2h0m-1 0h0m0 1h0m-1-2h0m0 2h0m0-4h0m0 4h0m-2-6h0m-1 4h0m0 0h0m0 2h0m-1-5h0m0 2h0m-1 0h0m-1 0h0m-1 0h0m-1 0h0m0 0h0m-1-2h0m-1 4h0m-2-5h0m0 4h0m0 1h0m-1-3h0m0 4h0m-1-3h0m-1 1h0m-1-1h0m-1-1h0m-1 2h0m0-1h0m-1 2h0m0-3h0m-4 3h0m-1-4h0m-1 5h0m-1-1h0m-1-1h0m0-3h0m-3 4h0m-1-3h0m-1 2h0m0 0h0m0-2h0m-1 3h0m-1-4h0m0 3h0m-1 0h0m-1 0h0m0 1h0m0-3h0m0 2h0m-2 1h0m0-1h0m0 0h0m-1-2h0m-1 6h0m0-6h0m-1 2h0m-1 1h0m-1-1h0m-2-2h0m0 2h0m-2-1h0m-1 3h0m-1-2h0m0 2h0m-1-1h0m0 1h0m-1-4h0m0 3h0m0 0h0m0-1h0m0 2h0m-1-1h0m0-1h0m0-3h0m-1 3h0m0 1h0m0-3h0m-1 3h0m-1-3h0m0 2h0m-1-1h0m0 2h0m-3 0h0m0-1h0m-1 0h0m0 2h0m-1-4h0m0 2h0m-1-1h0m0 2h0m0 1h0m-2-3h0m0 0h0m0 3h0m0-1h0m-1-3h0m0 0h0m0 1h0m-1 2h0m0-3h0m-1 3h0m-2-2h0m0 2h0m0-1h0m-1 1h0m-1-2h0m0 2h0m0 0h0m-1 0h0m0-1h0m0 2h0m0-2h0m-1 0h0m-1-1h0m0 0h0m0 0h0m-1-1h0m-1 3h0m0-2h0m-1 3h0m-1-1h0m0-1h0m0 2h0m-1-4h0m0 4h0m0 1h0m0-3h0m-1 1h0m0-2h0m0 3h0m-2-1h0m-1-3h0m-3 4h0m-1-3h0m-2 1h0m0 1h0m0-1h0m0 3h0m-1-3h0m0 2h0m-1-1h0m0-3h0m-1 2h0m0 1h0m-1 0h0m-2-2h0m0 1h0m-2 3h0m0-2h0m-1-2h0m0 1h0m0-1h0m-1 3h0m0-3h0m-1 1h0m-1 0h0m0 0h0m0 1h0m-2-2h0m0 3h0m0-1h0m-1-1h0m-1-1h0m0-1h0m0 3h0m-1-2h0m0-1h0m0 1h0m-1-1h0m0 2h0m-1 2h0m0-3h0m-1 0h0m0-2h0m0 1h0m-1 0h0m0 3h0m0 0h0m-1 0h0m0-4h0m-2 2h0m0 3h0m-1-5h0m0 3h0m0-1h0m-1 2h0m0-1h0m-1 0h0m-1 1h0m-1 0h0m0-2h0m0 0h0m-1 0h0m0-2h0m-1 3h0m0 1h0m-1 0h0m-1 0h0m0 1h0m-1 1h0m-1-2h0m0-4h0m-1 1h0m0 0h0m0 5h0m-1-1h0m-1 0h0m-1-2h0m0-1h0m0 0h0m-1 0h0m-1 1h0m-2-2h0m-1 2h0m0-1h0m0 2h0m0 0h0m0-1h0m-1 0h0m-2 0h0m0 2h0m0-2h0m0 1h0m-1-1h0m0 2h0m-1-4h0m-1 1h0m0 0h0m0-1h0m-1 6h0m0-5h0m-1 1h0m0 2h0m-1-2h0m0-2h0m0 3h0m-1 0h0m-1-1h0m0-2h0m0 6h0m0-3h0m-1-1h0m0 1h0m-1-3h0m0 4h0m0 1h0m-1-4h0m0 1h0m-1 1h0m-1 0h0m-1-2h0m-1 1h0m-3 1h0m0 0h0m0 2h0m-1-5h0m-1 2h0m-1 1h0m-1-1h0m-2 1h0m0-1h0m-1 0h0m0 1h0m0-2h0m0-1h0m0 0h0m-1 3h0m0-2h0m-1 1h0m-1 0h0m0-3h0m-1 3h0m-1-2h0m0 0h0m0 2h0m0 0h0m0 3h0m-1-3h0m0-1h0m0 2h0m-1 1h0m0-1h0m-2-2h0m0-1h0m-2-1h0m0 0h0" stroke="#faf028" stroke-width="6.4" stroke-linecap="square" stroke-opacity="0.82"/>
<path transform="scale(0.25)" d="M2088 1268h0m2-6h0m1 32h0m0-2h0m-5 19h0m3 2h0m1 4h0m13-13h0m3 7h0m0 8h0m5-1h0m2 2h0m48 24h0m-12-5h0m-13-5h0m0 7h0m-3-6h0m-5-5h0m-1 6h0m-4 2h0m-1-9h0m-1 10h0m-3-4h0m0-4h0m-3 6h0m-1-3h0m-1 1h0m-1-14h0m-1 12h0m0 4h0m-6 6h0m-5-13h0m-2-3h0m-4 11h0m-6-2h0m-2-14h0m2 24h0m5 10h0m2-1h0m0-6h0m2 12h0m0-3h0m2-2h0m4-7h0m6 7h0m0 4h0m2-14h0m0 1h0m1 1h0m10 0h0m2-4h0m2 10h0m2-5h0m1 5h0m0 5h0m2-4h0m17-6h0m0 10h0m0-6h0m2 3h0m5-9h0m7 11h0m0-1h0m2-2h0m1-4h0m1 7h0m2-7h0m1 1h0m9 4h0m1-5h0m1 5h0m7-5h0m2-4h0m2 7h0m5 3h0m9-3h0m6 6h0m2-3h0m3-5h0m0 1h0m11 0h0m2 7h0m2 1h0m7-1h0m13 1h0m2 2h0m0-4h0m7 4h0m7 4h0m4-2h0m39 22h0m-13-2h0m-2 2h0m-8-6h0m-7-10h0m-2 0h0m-2-2h0m-2 6h0m-2-7h0m-5 0h0m-1 4h0m25 22h0m7 1h0m1 9h0m5 0h0m2 10h0m1-2h0m4-13h0m2 15h0m9-3h0m1 17h0m-2 3h0m-3 6h0m0 3h0m-3-13h0m5 17h0m4 17h0m1-19h0m7 20h0m6 19h0m-8-4h0m-4 7h0m0-8h0m-1-7h0m-2 3h0m2 27h0m1 8h0m1 1h0m0 0h0m0-13h0m2 16h0m0-14h0m1 6h0m0 8h0m6-1h0m1-11h0m2 0h0m4 5h0m1-2h0m16 32h0m-1-1h0m-1-14h0m-1 14h0m0-17h0m-7 8h0m-3-5h0m-7-6h0m-2 9h0m-4 0h0m-1-5h0m-1-4h0m0 2h0m-3 11h0m0-6h0m-3 9h0m-1-8h0m4 24h0m5 6h0m1-13h0m3 18h0m0-5h0m0-7h0m1 9h0m1 7h0m1-11h0m0-11h0m1 13h0m3 3h0m1-13h0m3 13h0m0-12h0m1 16h0m0-13h0m5 5h0m2 2h0m1 1h0m1-1h0m1-3h0m0 1h0m0-8h0m0-5h0m-15 23h0" stroke="#fae628" stroke-width="6.4" stroke-linecap="square" stroke-opacity="0.82"/>
<path transform="scale(0.25)" d="M2100 1244h0m11 42h0m-3 5h0m-3-18h0m7 33h0m0 1h0m2-8h0m3 5h0m3 0h0m0-7h0m1 11h0m0 6h0m1-5h0m0-8h0m0-2h0m5 12h0m3 7h0m1-7h0m1 7h0m7-9h0m4 5h0m0 1h0m3 2h0m0-1h0m1 1h0m2 3h0m4 0h0m43 18h0m-3 2h0m0 1h0m-1 1h0m-4-6h0m-1 7h0m-7-1h0m-2-2h0m-6-4h0m0 3h0m-5-6h0m0-3h0m-1 13h0m0-3h0m-1-13h0m-1 7h0m-2 6h0m-2-7h0m-1-10h0m-2 13h0m-7-1h0m-2-6h0m-5 4h0m0-11h0m-4 1h0m-5 0h0m57 24h0m24-1h0m3 1h0m0 4h0m10-2h0m2-4h0m6 7h0m4-8h0m8 10h0m5 3h0m7-4h0m4 7h0m11-3h0m43 32h0m-4-7h0m-12 6h0m-2-10h0m-1 10h0m-3-4h0m-3-6h0m-8-8h0m-4 0h0m0-1h0m-1-1h0m42 35h0m3-8h0m24 44h0m-16-11h0m-10 10h0m-1-5h0m-6-17h0m10 43h0m11-9h0m10-2h0m0-4h0m9 37h0m-5-6h0m-13-2h0m-3 4h0m-2 6h0m-1-10h0m-2-4h0m0-1h0m-1-4h0m-1 7h0m9 41h0m18-11h0m2-12h0m1 19h0m2 3h0m0 19h0m0 3h0m-1-6h0m-1 4h0m0-4h0m-1 3h0m-1 2h0m-3-13h0m-2 5h0m-5 6h0m-1-7h0m10 14h0m3 1h0" stroke="#fadc28" stroke-width="6.4" stroke-linecap="square" stroke-opacity="0.82"/>
<path transform="scale(0.25)" d="M2120 1270h0m2-2h0m21 27h0m-4-6h0m-4-3h0m-8 7h0m7 9h0m1 0h0m7 8h0m11-4h0m2 13h0m9-4h0m88 26h0m-13 1h0m-21-7h0m-10-2h0m-1 4h0m-3-4h0m-1-2h0m-1-1h0m-1 3h0m-1-3h0m-2 4h0m-1-2h0m0 0h0m-4 1h0m-4-6h0m-7-2h0m73 21h0m2 2h0m3 0h0m1 1h0m4-5h0m4 3h0m7 7h0m2 2h0m8 1h0m1 0h0m11 8h0m3 2h0m10 22h0m-2-3h0m-2-9h0m11 22h0m27 14h0m1-3h0m8-6h0m1 12h0m0-8h0m1 0h0m1 4h0m3 22h0m-1 0h0m-31 1h0m-2-16h0m-2-1h0m9 31h0m1 10h0m1-8h0m17 2h0m2 9h0m0-2h0m1-4h0m2-13h0m2 0h0m1 9h0m-1 23h0m-1-8h0m-4 1h0m-13 23h0m9 8h0m9 20h0m-1-2h0m0 7h0m-3-9h0m-1 0h0m-2 2h0" stroke="#fad228" stroke-width="6.4" stroke-linecap="square" stroke-opacity="0.82"/>
<path transform="scale(0.25)" d="M2216 1327h0m93 44h0m21 41h0m9 45h0" stroke="#f0c828" stroke-width="6.4" stroke-linecap="square" stroke-opacity="0.82"/>
<path transform="scale(0.25)" d="M2134 1263h0m13 22h0m19 20h0m1-5h0m1 6h0m10 1h0m4 2h0m0 0h0m12 5h0m82 24h0m-10-2h0m-7-2h0m-8-1h0m-5-1h0m-9-2h0m-2-2h0m0-1h0m-2 3h0m-4-2h0m-17-4h0m-13-4h0m89 26h0m71 39h0m-35 4h0m-1 0h0m6 17h0m9 26h0m-1-2h0m-1-2h0m5 31h0m18 44h0m1 2h0" stroke="#f0be28" stroke-width="6.4" stroke-linecap="square" stroke-opacity="0.82"/>
<path transform="scale(0.25)" d="M2127 1234h0m25 63h0m5 8h0m0-1h0m5 3h0m1 0h0m7 7h0m3 0h0m90 27h0m-10-6h0m-32-2h0m-12-4h0m-4-2h0m-4-3h0m-13-3h0m96 29h0m5 3h0m2 4h0m9 7h0m56 20h0m-38 6h0m17 47h0m2 14h0m6 29h0m16 33h0m0 0h0m-1-1h0" stroke="#fac828" stroke-width="6.4" stroke-linecap="square" stroke-opacity="0.82"/>
<path transform="scale(0.25)" d="M2161 1286h0m-15-12h0m19 22h0m10 5h0m1 0h0m5 4h0m25 10h0m2 4h0m5-2h0m78 26h0m-12-9h0m-7-2h0m-10 0h0m-7-5h0m-3-1h0m47 23h0m3 6h0m10 6h0m16 30h0m-5-13h0m0 2h0m-1-4h0m8 24h0m9 26h0m-1-7h0m5 34h0m2 7h0m13 32h0" stroke="#f0b428" stroke-width="6.4" stroke-linecap="square" stroke-opacity="0.82"/>
<path transform="scale(0.25)" d="M2180 1295h0m-2 0h0m-5-1h0m-2-2h0m-14-12h0m28 20h0m2-1h0m1 1h0m13 12h0m14 3h0m3-1h0m8 5h0m66 22h0m0-2h0m0-1h0m-3 0h0m-7-7h0m-6-1h0m-13-7h0m-5 1h0m-5 0h0m-27-4h0m-1 0h0m74 25h0m7 6h0m2-2h0m3 9h0m3 2h0m4 3h0m1 5h0m3 0h0m4 10h0m-1-4h0m-4-4h0m18 43h0m4 20h0m-2-12h0m7 38h0m9 28h0m0-4h0m-5-6h0" stroke="#f0aa28" stroke-width="6.4" stroke-linecap="square" stroke-opacity="0.82"/>
<path transform="scale(0.25)" d="M2176 1288h0m15 10h0m3 0h0m3 5h0m106 39h0m-15-13h0m-8-4h0m-3-2h0m-12-3h0m47 31h0m2 3h0m2 2h0m4 2h0m2 6h0m2 1h0m11 24h0m-2-5h0m0 2h0m-2-4h0m-3-8h0m11 34h0m3 8h0m1-3h0m6 41h0m5 20h0m-2-8h0" stroke="#f0a028" stroke-width="6.4" stroke-linecap="square" stroke-opacity="0.82"/>
<path transform="scale(0.25)" d="M2155 1258h0m43 37h0m-5 1h0m-24-24h0m-1 1h0m30 23h0m5 4h0m5 1h0m4 4h0m1-2h0m7 5h0m12 1h0m7 1h0m5 1h0m7 1h0m51 22h0m-8-4h0m-9-4h0m-1-5h0m0 4h0m32 24h0m4 2h0m17 31h0m4 16h0m3 15h0m1 2h0m4 14h0m-2-9h0m7 39h0m5 18h0" stroke="#f09628" stroke-width="6.4" stroke-linecap="square" stroke-opacity="0.82"/>
<path transform="scale(0.25)" d="M2164 1251h0m43 45h0m6 4h0m6 1h0m8 5h0m21 1h0m12 1h0m4 2h0m52 31h0m-4-6h0m-17-14h0m28 29h0m4 8h0m1-3h0m15 43h0m2 4h0m2-3h0m1 11h0m2 3h0m1 16h0m0-9h0m3 22h0m1 6h0m0 4h0m0 5h0m0-13h0m2 12h0m1 14h0" stroke="#f08c28" stroke-width="6.4" stroke-linecap="square" stroke-opacity="0.82"/>
<path transform="scale(0.25)" d="M2169 1249h0m118 64h0m4 2h0m29 24h0m-9-10h0m-7-5h0m32 40h0m2 3h0m12 35h0m7 37h0m-2-9h0m4 20h0m0 3h0m0 3h0m1 3h0" stroke="#e68228" stroke-width="6.4" stroke-linecap="square" stroke-opacity="0.82"/>
<path transform="scale(0.25)" d="M2234 1295h0m-1 0h0m0 2h0m5 0h0m8 0h0m19 6h0m27 11h0m8 3h0m38 46h0m1-2h0m0 0h0m9 27h0m-1-2h0m-2-4h0m7 26h0m1-2h0m0 6h0m5 25h0m-1-15h0m0 6h0m0 4h0m-1-11h0m0-1h0m3 26h0m1-2h0" stroke="#e67828" stroke-width="6.4" stroke-linecap="square" stroke-opacity="0.82"/>
<path transform="scale(0.25)" d="M2167 1249h0m29 35h0m32 18h0m5 1h0m37 5h0m38 22h0m27 35h0m10 28h0m7 28h0m0-2h0m6 39h0" stroke="#f08228" stroke-width="6.4" stroke-linecap="square" stroke-opacity="0.82"/>
<path transform="scale(0.25)" d="M2178 1242h0m9 21h0m0 2h0m56 27h0m-26-5h0m42 11h0m40 15h0m4 0h0m0 2h0m2 2h0m22 18h0m-16-14h0m22 26h0m2-1h0m2 8h0m4 4h0m12 31h0m4 20h0m1 1h0m0 4h0m1 4h0" stroke="#e66e28" stroke-width="6.4" stroke-linecap="square" stroke-opacity="0.82"/>
<path transform="scale(0.25)" d="M2272 1295h0m-9-1h0m-4-1h0m-58-20h0m91 29h0m12 8h0m13 11h0m24 32h0m15 38h0m2 11h0m1 6h0m1 6h0" stroke="#e66428" stroke-width="6.4" stroke-linecap="square" stroke-opacity="0.82"/>
<path transform="scale(0.25)" d="M2356 1388h0m-1-1h0m2 5h0" stroke="#e6641e" stroke-width="6.4" stroke-linecap="square" stroke-opacity="0.82"/>
<path transform="scale(0.25)" d="M2201 1269h0m90 25h0m-12-2h0m-10-1h0m-2-2h0m-33-7h0m67 18h0m34 31h0m12 25h0m10 26h0m-1-4h0m4 21h0" stroke="#e65a1e" stroke-width="6.4" stroke-linecap="square" stroke-opacity="0.82"/>
<path transform="scale(0.25)" d="M2207 1268h0m50 16h0m-2-2h0m-24-2h0m-5-1h0m105 46h0m29 62h0m-2-11h0m0-2h0" stroke="#e6501e" stroke-width="6.4" stroke-linecap="square" stroke-opacity="0.82"/>
<path transform="scale(0.25)" d="M2201 1249h0m54 28h0m68 30h0m35 57h0m0 3h0m2 0h0" stroke="#dc461e" stroke-width="6.4" stroke-linecap="square" stroke-opacity="0.82"/>
<path transform="scale(0.25)" d="M2284 1280h0m-5 0h0m-19-6h0m90 67h0m10 20h0" stroke="#dc3c1e" stroke-width="6.4" stroke-linecap="square" stroke-opacity="0.82"/>
<path transform="scale(0.25)" d="M2315 1292h0m-1-3h0" stroke="#dc321e" stroke-width="6.4" stroke-linecap="square" stroke-opacity="0.82"/>
<path transform="scale(0.25)" d="M2663 1208h0m2 38h0m-1-4h0m-97-6h0m-71-1h0m-40 9h0m-45-4h0m-113 1h0m-55-5h0m-20 1h0m0 23h0m4 3h0m38 1h0m7-4h0m4-12h0m17 4h0m0 20h0m15-24h0m9 23h0m3-19h0m11 14h0m33-13h0m1 2h0m297 0h0m0-3h0m1 14h0m0-12h0m0 2h0m1 2h0m0 7h0m0 5h0m-1 9h0m0 10h0m-1 0h0m-190-6h0m-39 1h0m-35 7h0m-22 0h0m-35 5h0m-51-22h0m49 25h0m11 6h0m46 7h0m265-11h0m1 11h0m1-2h0m0 0h0m0 9h0m0-17h0m1 30h0m0 2h0m0 5h0m-1-16h0m0-2h0m0 22h0m0-18h0m-1 4h0m0-3h0m-1 6h0m-210-9h0m-39 11h0m-2-7h0m0 9h0m-14-15h0m-1 18h0m-40-18h0m4 35h0m30-11h0m2 4h0m272 15h0m0-16h0m0-3h0m0 7h0m0 11h0m1-6h0m0-6h0m0 10h0m1-1h0m-2 17h0m0 8h0m-1-15h0m-280 18h0m-20 15h0m2 11h0m10-17h0m287 13h0m1-16h0m1 20h0m0-19h0m0 15h0m0-16h0m0 17h0m1-5h0m0-6h0m0 2h0m0 33h0m0 5h0m0-17h0m-1-6h0m0 1h0m0 3h0m0 17h0m0-5h0m1 17h0m0 2h0m0 9h0m1-13h0m-2 36h0m0-11h0m0 7h0m0-3h0m-1-3h0m0 10h0m-1 1h0" stroke="#dc281e" stroke-width="6.4" stroke-linecap="square" stroke-opacity="0.82"/>
<rect x="475.4" y="282.5" width="206.1" height="195.8" fill="none" stroke="#999" stroke-width="1.0" />
<line x1="472.9" y1="282.5" x2="475.4" y2="282.5" stroke="#888" stroke-width="0.7" />
<text transform="translate(472.3,285.8)" font-size="8.8" text-anchor="end" fill="#111">0</text>
<line x1="472.9" y1="321.66" x2="475.4" y2="321.66" stroke="#888" stroke-width="0.7" />
<text transform="translate(472.3,324.96)" font-size="8.8" text-anchor="end" fill="#111">2</text>
<line x1="472.9" y1="360.82" x2="475.4" y2="360.82" stroke="#888" stroke-width="0.7" />
<text transform="translate(472.3,364.12)" font-size="8.8" text-anchor="end" fill="#111">4</text>
<line x1="472.9" y1="399.98" x2="475.4" y2="399.98" stroke="#888" stroke-width="0.7" />
<text transform="translate(472.3,403.28)" font-size="8.8" text-anchor="end" fill="#111">6</text>
<line x1="472.9" y1="439.14" x2="475.4" y2="439.14" stroke="#888" stroke-width="0.7" />
<text transform="translate(472.3,442.44)" font-size="8.8" text-anchor="end" fill="#111">8</text>
<line x1="472.9" y1="478.3" x2="475.4" y2="478.3" stroke="#888" stroke-width="0.7" />
<text transform="translate(472.3,481.6)" font-size="8.8" text-anchor="end" fill="#111">10</text>
<line x1="475.4" y1="478.3" x2="475.4" y2="480.8" stroke="#888" stroke-width="0.7" />
<text transform="translate(475.4,488.7) rotate(29)" y="3.2" font-size="9.2" text-anchor="middle" fill="#111">1998</text>
<line x1="498.4" y1="478.3" x2="498.4" y2="480.8" stroke="#888" stroke-width="0.7" />
<text transform="translate(498.4,488.7) rotate(29)" y="3.2" font-size="9.2" text-anchor="middle" fill="#111">2002</text>
<line x1="521.4" y1="478.3" x2="521.4" y2="480.8" stroke="#888" stroke-width="0.7" />
<text transform="translate(521.4,488.7) rotate(29)" y="3.2" font-size="9.2" text-anchor="middle" fill="#111">2006</text>
<line x1="544.4" y1="478.3" x2="544.4" y2="480.8" stroke="#888" stroke-width="0.7" />
<text transform="translate(544.4,488.7) rotate(29)" y="3.2" font-size="9.2" text-anchor="middle" fill="#111">2010</text>
<line x1="567.4" y1="478.3" x2="567.4" y2="480.8" stroke="#888" stroke-width="0.7" />
<text transform="translate(567.4,488.7) rotate(29)" y="3.2" font-size="9.2" text-anchor="middle" fill="#111">2014</text>
<line x1="590.4" y1="478.3" x2="590.4" y2="480.8" stroke="#888" stroke-width="0.7" />
<text transform="translate(590.4,488.7) rotate(29)" y="3.2" font-size="9.2" text-anchor="middle" fill="#111">2018</text>
<line x1="613.4" y1="478.3" x2="613.4" y2="480.8" stroke="#888" stroke-width="0.7" />
<text transform="translate(613.4,488.7) rotate(29)" y="3.2" font-size="9.2" text-anchor="middle" fill="#111">2022</text>
<line x1="636.4" y1="478.3" x2="636.4" y2="480.8" stroke="#888" stroke-width="0.7" />
<text transform="translate(636.4,488.7) rotate(29)" y="3.2" font-size="9.2" text-anchor="middle" fill="#111">2026</text>
<line x1="659.4" y1="478.3" x2="659.4" y2="480.8" stroke="#888" stroke-width="0.7" />
<text transform="translate(659.4,488.7) rotate(29)" y="3.2" font-size="9.2" text-anchor="middle" fill="#111">2030</text>
<text transform="translate(578.2,508.5)" font-size="12.3" text-anchor="middle" fill="#111">Inflection Time</text>
<text transform="translate(667.3,297.9)" font-size="12" text-anchor="start" fill="#111">F</text>
<text transform="translate(11.5,381) rotate(-90)" font-size="11.7" text-anchor="middle" fill="#111">Ln(Slope)</text>
<circle cx="237.4" cy="372.1" r="0.6" fill="#999"/>
<defs><linearGradient id="vir" x1="0" y1="1" x2="0" y2="0"><stop offset="0.000" stop-color="#440154"/><stop offset="0.125" stop-color="#472c7a"/><stop offset="0.250" stop-color="#3b518b"/><stop offset="0.375" stop-color="#2c718e"/><stop offset="0.500" stop-color="#21908d"/><stop offset="0.625" stop-color="#27ad81"/><stop offset="0.750" stop-color="#5cc863"/><stop offset="0.875" stop-color="#aadc32"/><stop offset="1.000" stop-color="#fde725"/></linearGradient>
<linearGradient id="uns" x1="0" y1="1" x2="0" y2="0"><stop offset="0.000" stop-color="#fff028"/><stop offset="0.125" stop-color="#fde32a"/><stop offset="0.250" stop-color="#fcd72d"/><stop offset="0.375" stop-color="#f7ba2d"/><stop offset="0.500" stop-color="#f39d2d"/><stop offset="0.625" stop-color="#ee812c"/><stop offset="0.750" stop-color="#e96327"/><stop offset="0.875" stop-color="#e34522"/><stop offset="1.000" stop-color="#de281e"/></linearGradient></defs>
<rect x="200.1" y="369.8" width="4.7" height="78.7" fill="url(#vir)" stroke="none" stroke-width="1" />
<line x1="204.8" y1="448.5" x2="206.5" y2="448.5" stroke="#555" stroke-width="0.7" />
<text transform="translate(207.2,451.6)" font-size="8.7" text-anchor="start" fill="#111">0</text>
<line x1="204.8" y1="437.26" x2="206.5" y2="437.26" stroke="#555" stroke-width="0.7" />
<text transform="translate(207.2,440.36)" font-size="8.7" text-anchor="start" fill="#111">1</text>
<line x1="204.8" y1="426.01" x2="206.5" y2="426.01" stroke="#555" stroke-width="0.7" />
<text transform="translate(207.2,429.11)" font-size="8.7" text-anchor="start" fill="#111">2</text>
<line x1="204.8" y1="414.77" x2="206.5" y2="414.77" stroke="#555" stroke-width="0.7" />
<text transform="translate(207.2,417.87)" font-size="8.7" text-anchor="start" fill="#111">3</text>
<line x1="204.8" y1="403.53" x2="206.5" y2="403.53" stroke="#555" stroke-width="0.7" />
<text transform="translate(207.2,406.63)" font-size="8.7" text-anchor="start" fill="#111">4</text>
<line x1="204.8" y1="392.29" x2="206.5" y2="392.29" stroke="#555" stroke-width="0.7" />
<text transform="translate(207.2,395.39)" font-size="8.7" text-anchor="start" fill="#111">5</text>
<line x1="204.8" y1="381.04" x2="206.5" y2="381.04" stroke="#555" stroke-width="0.7" />
<text transform="translate(207.2,384.14)" font-size="8.7" text-anchor="start" fill="#111">6</text>
<line x1="204.8" y1="369.8" x2="206.5" y2="369.8" stroke="#555" stroke-width="0.7" />
<text transform="translate(207.2,372.9)" font-size="8.7" text-anchor="start" fill="#111">7</text>
<text transform="translate(221.6,409.9) rotate(-90)" font-size="10.4" text-anchor="middle" fill="#111">Ln(Amplitude)</text>
<rect x="424.4" y="370.2" width="4.9" height="78.7" fill="url(#uns)" stroke="none" stroke-width="1" />
<line x1="429.3" y1="448.9" x2="431" y2="448.9" stroke="#555" stroke-width="0.7" />
<text transform="translate(431.6,452.3) scale(1.05,1.0)" font-size="9.6" text-anchor="start" fill="#111">1.0</text>
<line x1="429.3" y1="433.16" x2="431" y2="433.16" stroke="#555" stroke-width="0.7" />
<text transform="translate(431.6,436.56) scale(1.05,1.0)" font-size="9.6" text-anchor="start" fill="#111">1.1</text>
<line x1="429.3" y1="417.42" x2="431" y2="417.42" stroke="#555" stroke-width="0.7" />
<text transform="translate(431.6,420.82) scale(1.05,1.0)" font-size="9.6" text-anchor="start" fill="#111">1.2</text>
<line x1="429.3" y1="401.68" x2="431" y2="401.68" stroke="#555" stroke-width="0.7" />
<text transform="translate(431.6,405.08) scale(1.05,1.0)" font-size="9.6" text-anchor="start" fill="#111">1.3</text>
<line x1="429.3" y1="385.94" x2="431" y2="385.94" stroke="#555" stroke-width="0.7" />
<text transform="translate(431.6,389.34) scale(1.05,1.0)" font-size="9.6" text-anchor="start" fill="#111">1.4</text>
<line x1="429.3" y1="370.2" x2="431" y2="370.2" stroke="#555" stroke-width="0.7" />
<text transform="translate(431.6,373.6) scale(1.05,1.0)" font-size="9.6" text-anchor="start" fill="#111">1.5</text>
<text transform="translate(456.4,410.8) rotate(-90)" font-size="10.3" text-anchor="middle" fill="#111">Unsaturation</text>
</svg></body></html>
